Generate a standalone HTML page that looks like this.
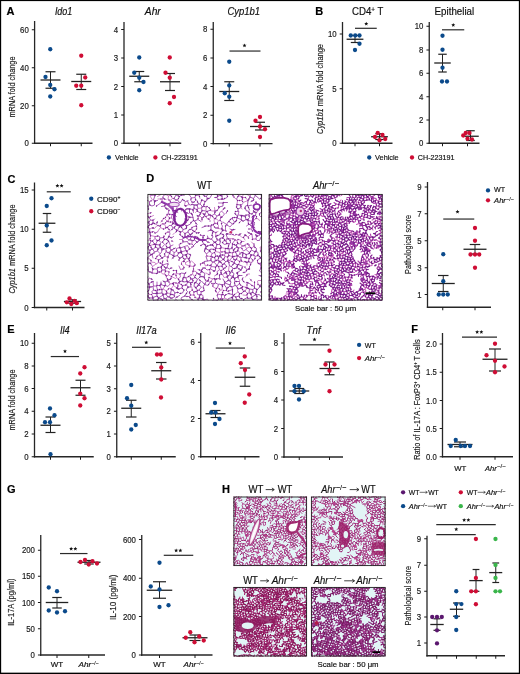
<!DOCTYPE html>
<html><head><meta charset="utf-8"><style>
html,body{margin:0;padding:0;background:#fff;}
body{width:520px;height:674px;overflow:hidden;position:relative;}
svg{position:absolute;left:0;top:0;display:block;font-family:"Liberation Sans", sans-serif;will-change:transform;}
</style></head><body>
<svg width="520" height="674" viewBox="0 0 520 674">
<defs></defs>
<rect x="0" y="0" width="520" height="674" fill="#fff"/>
<text x="6.4" y="15.3" font-size="11" text-anchor="start" font-weight="bold" fill="#000" stroke="#000" stroke-width="0.18" >A</text>
<text x="63.6" y="15.1" font-size="10.4" text-anchor="middle" font-style="italic" textLength="17.4" lengthAdjust="spacingAndGlyphs" fill="#111" stroke="#111" stroke-width="0.18" >Ido1</text>
<text x="152.8" y="15.1" font-size="10.4" text-anchor="middle" font-style="italic" textLength="16.0" lengthAdjust="spacingAndGlyphs" fill="#111" stroke="#111" stroke-width="0.18" >Ahr</text>
<text x="243.8" y="15.1" font-size="10.4" text-anchor="middle" font-style="italic" textLength="32.7" lengthAdjust="spacingAndGlyphs" fill="#111" stroke="#111" stroke-width="0.18" >Cyp1b1</text>
<text transform="translate(12.3,87) rotate(-90)" x="0" y="3.04" font-size="8.7" text-anchor="middle" textLength="61" lengthAdjust="spacingAndGlyphs" fill="#1a1a1a" stroke="#1a1a1a" stroke-width="0.15">mRNA fold change</text>
<line x1="34.6" y1="21" x2="34.6" y2="143.9" stroke="#262626" stroke-width="1.3"/>
<line x1="33.95" y1="143.25" x2="92.5" y2="143.25" stroke="#262626" stroke-width="1.3"/>
<line x1="31.8" y1="143.25" x2="34.6" y2="143.25" stroke="#1a1a1a" stroke-width="1.0"/>
<text x="28.8" y="146.45" font-size="9" text-anchor="end" textLength="4.35" lengthAdjust="spacingAndGlyphs" fill="#1a1a1a" stroke="#1a1a1a" stroke-width="0.18" >0</text>
<line x1="31.8" y1="105.75" x2="34.6" y2="105.75" stroke="#1a1a1a" stroke-width="1.0"/>
<text x="28.8" y="108.95" font-size="9" text-anchor="end" textLength="8.7" lengthAdjust="spacingAndGlyphs" fill="#1a1a1a" stroke="#1a1a1a" stroke-width="0.18" >20</text>
<line x1="31.8" y1="67.75" x2="34.6" y2="67.75" stroke="#1a1a1a" stroke-width="1.0"/>
<text x="28.8" y="70.95" font-size="9" text-anchor="end" textLength="8.7" lengthAdjust="spacingAndGlyphs" fill="#1a1a1a" stroke="#1a1a1a" stroke-width="0.18" >40</text>
<line x1="31.8" y1="29.75" x2="34.6" y2="29.75" stroke="#1a1a1a" stroke-width="1.0"/>
<text x="28.8" y="32.95" font-size="9" text-anchor="end" textLength="8.7" lengthAdjust="spacingAndGlyphs" fill="#1a1a1a" stroke="#1a1a1a" stroke-width="0.18" >60</text>
<line x1="50.5" y1="143.25" x2="50.5" y2="146.25" stroke="#1a1a1a" stroke-width="1.0"/>
<line x1="81.25" y1="143.25" x2="81.25" y2="146.25" stroke="#1a1a1a" stroke-width="1.0"/>
<line x1="50.5" y1="71.75" x2="50.5" y2="88.25" stroke="#222" stroke-width="1.0"/>
<line x1="45.5" y1="71.75" x2="55.5" y2="71.75" stroke="#222" stroke-width="1.2"/>
<line x1="45.5" y1="88.25" x2="55.5" y2="88.25" stroke="#222" stroke-width="1.2"/>
<line x1="40.5" y1="80" x2="60.5" y2="80" stroke="#222" stroke-width="1.3"/>
<circle cx="50.25" cy="49.25" r="2.15" fill="#0b4a8b"/>
<circle cx="45.5" cy="77" r="2.15" fill="#0b4a8b"/>
<circle cx="50.25" cy="85" r="2.15" fill="#0b4a8b"/>
<circle cx="54.5" cy="89.25" r="2.15" fill="#0b4a8b"/>
<circle cx="50.25" cy="96.5" r="2.15" fill="#0b4a8b"/>
<line x1="81.25" y1="74.25" x2="81.25" y2="89.5" stroke="#222" stroke-width="1.0"/>
<line x1="76.25" y1="74.25" x2="86.25" y2="74.25" stroke="#222" stroke-width="1.2"/>
<line x1="76.25" y1="89.5" x2="86.25" y2="89.5" stroke="#222" stroke-width="1.2"/>
<line x1="71.25" y1="81.5" x2="91.25" y2="81.5" stroke="#222" stroke-width="1.3"/>
<circle cx="81.25" cy="55.75" r="2.15" fill="#cf0d35"/>
<circle cx="85.25" cy="77.5" r="2.15" fill="#cf0d35"/>
<circle cx="76.25" cy="85.75" r="2.15" fill="#cf0d35"/>
<circle cx="81.25" cy="85.75" r="2.15" fill="#cf0d35"/>
<circle cx="81.25" cy="105.25" r="2.15" fill="#cf0d35"/>
<line x1="124" y1="22" x2="124" y2="143.9" stroke="#262626" stroke-width="1.3"/>
<line x1="123.35" y1="143.25" x2="181.25" y2="143.25" stroke="#262626" stroke-width="1.3"/>
<line x1="121.2" y1="143.25" x2="124" y2="143.25" stroke="#1a1a1a" stroke-width="1.0"/>
<text x="118.2" y="146.45" font-size="9" text-anchor="end" textLength="4.35" lengthAdjust="spacingAndGlyphs" fill="#1a1a1a" stroke="#1a1a1a" stroke-width="0.18" >0</text>
<line x1="121.2" y1="115" x2="124" y2="115" stroke="#1a1a1a" stroke-width="1.0"/>
<text x="118.2" y="118.2" font-size="9" text-anchor="end" textLength="4.35" lengthAdjust="spacingAndGlyphs" fill="#1a1a1a" stroke="#1a1a1a" stroke-width="0.18" >1</text>
<line x1="121.2" y1="86.5" x2="124" y2="86.5" stroke="#1a1a1a" stroke-width="1.0"/>
<text x="118.2" y="89.7" font-size="9" text-anchor="end" textLength="4.35" lengthAdjust="spacingAndGlyphs" fill="#1a1a1a" stroke="#1a1a1a" stroke-width="0.18" >2</text>
<line x1="121.2" y1="58" x2="124" y2="58" stroke="#1a1a1a" stroke-width="1.0"/>
<text x="118.2" y="61.2" font-size="9" text-anchor="end" textLength="4.35" lengthAdjust="spacingAndGlyphs" fill="#1a1a1a" stroke="#1a1a1a" stroke-width="0.18" >3</text>
<line x1="121.2" y1="29.5" x2="124" y2="29.5" stroke="#1a1a1a" stroke-width="1.0"/>
<text x="118.2" y="32.7" font-size="9" text-anchor="end" textLength="4.35" lengthAdjust="spacingAndGlyphs" fill="#1a1a1a" stroke="#1a1a1a" stroke-width="0.18" >4</text>
<line x1="139.25" y1="143.25" x2="139.25" y2="146.25" stroke="#1a1a1a" stroke-width="1.0"/>
<line x1="170" y1="143.25" x2="170" y2="146.25" stroke="#1a1a1a" stroke-width="1.0"/>
<line x1="139.25" y1="71.5" x2="139.25" y2="81.75" stroke="#222" stroke-width="1.0"/>
<line x1="134.25" y1="71.5" x2="144.25" y2="71.5" stroke="#222" stroke-width="1.2"/>
<line x1="134.25" y1="81.75" x2="144.25" y2="81.75" stroke="#222" stroke-width="1.2"/>
<line x1="129.25" y1="76.25" x2="149.25" y2="76.25" stroke="#222" stroke-width="1.3"/>
<circle cx="139.25" cy="57.5" r="2.15" fill="#0b4a8b"/>
<circle cx="134.25" cy="72.75" r="2.15" fill="#0b4a8b"/>
<circle cx="139.25" cy="77.75" r="2.15" fill="#0b4a8b"/>
<circle cx="143.5" cy="82" r="2.15" fill="#0b4a8b"/>
<circle cx="139.25" cy="90.25" r="2.15" fill="#0b4a8b"/>
<line x1="170" y1="73.5" x2="170" y2="90.5" stroke="#222" stroke-width="1.0"/>
<line x1="165" y1="73.5" x2="175" y2="73.5" stroke="#222" stroke-width="1.2"/>
<line x1="165" y1="90.5" x2="175" y2="90.5" stroke="#222" stroke-width="1.2"/>
<line x1="160" y1="81.75" x2="180" y2="81.75" stroke="#222" stroke-width="1.3"/>
<circle cx="169.75" cy="57.5" r="2.15" fill="#cf0d35"/>
<circle cx="165.5" cy="72.75" r="2.15" fill="#cf0d35"/>
<circle cx="169.75" cy="77.75" r="2.15" fill="#cf0d35"/>
<circle cx="174" cy="97" r="2.15" fill="#cf0d35"/>
<circle cx="169.75" cy="103.25" r="2.15" fill="#cf0d35"/>
<line x1="213.25" y1="22" x2="213.25" y2="144.25" stroke="#262626" stroke-width="1.3"/>
<line x1="212.6" y1="143.6" x2="272.5" y2="143.6" stroke="#262626" stroke-width="1.3"/>
<line x1="210.45" y1="143.6" x2="213.25" y2="143.6" stroke="#1a1a1a" stroke-width="1.0"/>
<text x="207.45" y="146.8" font-size="9" text-anchor="end" textLength="4.35" lengthAdjust="spacingAndGlyphs" fill="#1a1a1a" stroke="#1a1a1a" stroke-width="0.18" >0</text>
<line x1="210.45" y1="115.25" x2="213.25" y2="115.25" stroke="#1a1a1a" stroke-width="1.0"/>
<text x="207.45" y="118.45" font-size="9" text-anchor="end" textLength="4.35" lengthAdjust="spacingAndGlyphs" fill="#1a1a1a" stroke="#1a1a1a" stroke-width="0.18" >2</text>
<line x1="210.45" y1="86.5" x2="213.25" y2="86.5" stroke="#1a1a1a" stroke-width="1.0"/>
<text x="207.45" y="89.7" font-size="9" text-anchor="end" textLength="4.35" lengthAdjust="spacingAndGlyphs" fill="#1a1a1a" stroke="#1a1a1a" stroke-width="0.18" >4</text>
<line x1="210.45" y1="58" x2="213.25" y2="58" stroke="#1a1a1a" stroke-width="1.0"/>
<text x="207.45" y="61.2" font-size="9" text-anchor="end" textLength="4.35" lengthAdjust="spacingAndGlyphs" fill="#1a1a1a" stroke="#1a1a1a" stroke-width="0.18" >6</text>
<line x1="210.45" y1="29.25" x2="213.25" y2="29.25" stroke="#1a1a1a" stroke-width="1.0"/>
<text x="207.45" y="32.45" font-size="9" text-anchor="end" textLength="4.35" lengthAdjust="spacingAndGlyphs" fill="#1a1a1a" stroke="#1a1a1a" stroke-width="0.18" >8</text>
<line x1="229.25" y1="143.6" x2="229.25" y2="146.6" stroke="#1a1a1a" stroke-width="1.0"/>
<line x1="260" y1="143.6" x2="260" y2="146.6" stroke="#1a1a1a" stroke-width="1.0"/>
<line x1="229.25" y1="81.75" x2="229.25" y2="100.5" stroke="#222" stroke-width="1.0"/>
<line x1="224.25" y1="81.75" x2="234.25" y2="81.75" stroke="#222" stroke-width="1.2"/>
<line x1="224.25" y1="100.5" x2="234.25" y2="100.5" stroke="#222" stroke-width="1.2"/>
<line x1="219.25" y1="91.5" x2="239.25" y2="91.5" stroke="#222" stroke-width="1.3"/>
<circle cx="229.25" cy="61.75" r="2.15" fill="#0b4a8b"/>
<circle cx="229.25" cy="85.5" r="2.15" fill="#0b4a8b"/>
<circle cx="224.75" cy="93.25" r="2.15" fill="#0b4a8b"/>
<circle cx="229.25" cy="96.75" r="2.15" fill="#0b4a8b"/>
<circle cx="229.25" cy="120.75" r="2.15" fill="#0b4a8b"/>
<line x1="260" y1="122.25" x2="260" y2="130" stroke="#222" stroke-width="1.0"/>
<line x1="255" y1="122.25" x2="265" y2="122.25" stroke="#222" stroke-width="1.2"/>
<line x1="255" y1="130" x2="265" y2="130" stroke="#222" stroke-width="1.2"/>
<line x1="250" y1="126.5" x2="270" y2="126.5" stroke="#222" stroke-width="1.3"/>
<circle cx="260" cy="117" r="2.15" fill="#cf0d35"/>
<circle cx="255.5" cy="120.75" r="2.15" fill="#cf0d35"/>
<circle cx="260" cy="126.5" r="2.15" fill="#cf0d35"/>
<circle cx="265" cy="129.25" r="2.15" fill="#cf0d35"/>
<circle cx="260" cy="137" r="2.15" fill="#cf0d35"/>
<line x1="229.5" y1="51.05" x2="260.5" y2="51.05" stroke="#2a2a2a" stroke-width="1.2"/>
<polygon points="244.50,43.40 245.06,44.73 246.50,44.85 245.40,45.79 245.73,47.20 244.50,46.45 243.27,47.20 243.60,45.79 242.50,44.85 243.94,44.73" fill="#111"/>
<circle cx="108.9" cy="157.5" r="2.15" fill="#0b4a8b"/>
<text x="115.1" y="160.3" font-size="7.9" text-anchor="start" textLength="23.6" lengthAdjust="spacingAndGlyphs" fill="#111" stroke="#111" stroke-width="0.18" >Vehicle</text>
<circle cx="155.4" cy="157.5" r="2.15" fill="#cf0d35"/>
<text x="161.2" y="160.3" font-size="7.9" text-anchor="start" textLength="36.6" lengthAdjust="spacingAndGlyphs" fill="#111" stroke="#111" stroke-width="0.18" >CH-223191</text>
<text x="315.2" y="15.3" font-size="11" text-anchor="start" font-weight="bold" fill="#000" stroke="#000" stroke-width="0.18" >B</text>
<text x="351.9" y="15.2" font-size="10.4" text-anchor="start" textLength="19.4" lengthAdjust="spacingAndGlyphs" fill="#111" stroke="#111" stroke-width="0.18" >CD4</text>
<text x="371.2" y="12.3" font-size="6.5" text-anchor="start" textLength="3.7" lengthAdjust="spacingAndGlyphs" fill="#111" stroke="#111" stroke-width="0.18" >+</text>
<text x="377.5" y="15.2" font-size="10.4" text-anchor="start" textLength="5.8" lengthAdjust="spacingAndGlyphs" fill="#111" stroke="#111" stroke-width="0.18" >T</text>
<text x="454.4" y="15.1" font-size="10.4" text-anchor="middle" textLength="39.6" lengthAdjust="spacingAndGlyphs" fill="#111" stroke="#111" stroke-width="0.18" >Epithelial</text>
<text transform="translate(320,89) rotate(-90)" x="0" y="3.04" font-size="8.7" text-anchor="middle" textLength="90" lengthAdjust="spacingAndGlyphs" fill="#1a1a1a" stroke="#1a1a1a" stroke-width="0.15"><tspan font-style="italic">Cyp1b1</tspan> mRNA fold change</text>
<line x1="342.5" y1="22" x2="342.5" y2="143.9" stroke="#262626" stroke-width="1.3"/>
<line x1="341.85" y1="143.25" x2="392.5" y2="143.25" stroke="#262626" stroke-width="1.3"/>
<line x1="339.7" y1="143.25" x2="342.5" y2="143.25" stroke="#1a1a1a" stroke-width="1.0"/>
<text x="336.7" y="146.45" font-size="9" text-anchor="end" textLength="4.35" lengthAdjust="spacingAndGlyphs" fill="#1a1a1a" stroke="#1a1a1a" stroke-width="0.18" >0</text>
<line x1="339.7" y1="88.75" x2="342.5" y2="88.75" stroke="#1a1a1a" stroke-width="1.0"/>
<text x="336.7" y="91.95" font-size="9" text-anchor="end" textLength="4.35" lengthAdjust="spacingAndGlyphs" fill="#1a1a1a" stroke="#1a1a1a" stroke-width="0.18" >5</text>
<line x1="339.7" y1="34" x2="342.5" y2="34" stroke="#1a1a1a" stroke-width="1.0"/>
<text x="336.7" y="37.2" font-size="9" text-anchor="end" textLength="8.7" lengthAdjust="spacingAndGlyphs" fill="#1a1a1a" stroke="#1a1a1a" stroke-width="0.18" >10</text>
<line x1="355" y1="143.25" x2="355" y2="146.25" stroke="#1a1a1a" stroke-width="1.0"/>
<line x1="379.5" y1="143.25" x2="379.5" y2="146.25" stroke="#1a1a1a" stroke-width="1.0"/>
<line x1="355" y1="35.5" x2="355" y2="42.5" stroke="#222" stroke-width="1.0"/>
<line x1="350.8" y1="35.5" x2="359.2" y2="35.5" stroke="#222" stroke-width="1.2"/>
<line x1="350.8" y1="42.5" x2="359.2" y2="42.5" stroke="#222" stroke-width="1.2"/>
<line x1="346.6" y1="39.25" x2="363.4" y2="39.25" stroke="#222" stroke-width="1.3"/>
<circle cx="350.75" cy="35.5" r="2.15" fill="#0b4a8b"/>
<circle cx="355.25" cy="35.5" r="2.15" fill="#0b4a8b"/>
<circle cx="359.5" cy="35.5" r="2.15" fill="#0b4a8b"/>
<circle cx="359.5" cy="43.75" r="2.15" fill="#0b4a8b"/>
<circle cx="355" cy="50" r="2.15" fill="#0b4a8b"/>
<line x1="379.5" y1="133.75" x2="379.5" y2="139.5" stroke="#222" stroke-width="1.0"/>
<line x1="375.3" y1="133.75" x2="383.7" y2="133.75" stroke="#222" stroke-width="1.2"/>
<line x1="375.3" y1="139.5" x2="383.7" y2="139.5" stroke="#222" stroke-width="1.2"/>
<line x1="371.1" y1="136.75" x2="387.9" y2="136.75" stroke="#222" stroke-width="1.3"/>
<circle cx="377.75" cy="133" r="2.15" fill="#cf0d35"/>
<circle cx="382.5" cy="135" r="2.15" fill="#cf0d35"/>
<circle cx="375" cy="137" r="2.15" fill="#cf0d35"/>
<circle cx="385.25" cy="139" r="2.15" fill="#cf0d35"/>
<circle cx="379.5" cy="140.25" r="2.15" fill="#cf0d35"/>
<line x1="355" y1="28.3" x2="376.75" y2="28.3" stroke="#2a2a2a" stroke-width="1.2"/>
<polygon points="366.25,21.65 366.81,22.98 368.25,23.10 367.15,24.04 367.48,25.45 366.25,24.70 365.02,25.45 365.35,24.04 364.25,23.10 365.69,22.98" fill="#111"/>
<line x1="429.25" y1="22" x2="429.25" y2="143.9" stroke="#262626" stroke-width="1.3"/>
<line x1="428.6" y1="143.25" x2="479.5" y2="143.25" stroke="#262626" stroke-width="1.3"/>
<line x1="426.45" y1="143.25" x2="429.25" y2="143.25" stroke="#1a1a1a" stroke-width="1.0"/>
<text x="423.45" y="146.45" font-size="9" text-anchor="end" textLength="4.35" lengthAdjust="spacingAndGlyphs" fill="#1a1a1a" stroke="#1a1a1a" stroke-width="0.18" >0</text>
<line x1="426.45" y1="120" x2="429.25" y2="120" stroke="#1a1a1a" stroke-width="1.0"/>
<text x="423.45" y="123.2" font-size="9" text-anchor="end" textLength="4.35" lengthAdjust="spacingAndGlyphs" fill="#1a1a1a" stroke="#1a1a1a" stroke-width="0.18" >2</text>
<line x1="426.45" y1="96.75" x2="429.25" y2="96.75" stroke="#1a1a1a" stroke-width="1.0"/>
<text x="423.45" y="99.95" font-size="9" text-anchor="end" textLength="4.35" lengthAdjust="spacingAndGlyphs" fill="#1a1a1a" stroke="#1a1a1a" stroke-width="0.18" >4</text>
<line x1="426.45" y1="73.25" x2="429.25" y2="73.25" stroke="#1a1a1a" stroke-width="1.0"/>
<text x="423.45" y="76.45" font-size="9" text-anchor="end" textLength="4.35" lengthAdjust="spacingAndGlyphs" fill="#1a1a1a" stroke="#1a1a1a" stroke-width="0.18" >6</text>
<line x1="426.45" y1="50" x2="429.25" y2="50" stroke="#1a1a1a" stroke-width="1.0"/>
<text x="423.45" y="53.2" font-size="9" text-anchor="end" textLength="4.35" lengthAdjust="spacingAndGlyphs" fill="#1a1a1a" stroke="#1a1a1a" stroke-width="0.18" >8</text>
<line x1="426.45" y1="26.25" x2="429.25" y2="26.25" stroke="#1a1a1a" stroke-width="1.0"/>
<text x="423.45" y="29.45" font-size="9" text-anchor="end" textLength="8.7" lengthAdjust="spacingAndGlyphs" fill="#1a1a1a" stroke="#1a1a1a" stroke-width="0.18" >10</text>
<line x1="442.5" y1="143.25" x2="442.5" y2="146.25" stroke="#1a1a1a" stroke-width="1.0"/>
<line x1="467.5" y1="143.25" x2="467.5" y2="146.25" stroke="#1a1a1a" stroke-width="1.0"/>
<line x1="442.5" y1="54.25" x2="442.5" y2="72" stroke="#222" stroke-width="1.0"/>
<line x1="438.25" y1="54.25" x2="446.75" y2="54.25" stroke="#222" stroke-width="1.2"/>
<line x1="438.25" y1="72" x2="446.75" y2="72" stroke="#222" stroke-width="1.2"/>
<line x1="434.25" y1="63" x2="450.75" y2="63" stroke="#222" stroke-width="1.3"/>
<circle cx="442.5" cy="35.75" r="2.15" fill="#0b4a8b"/>
<circle cx="442.5" cy="49.75" r="2.15" fill="#0b4a8b"/>
<circle cx="442.5" cy="67.75" r="2.15" fill="#0b4a8b"/>
<circle cx="442" cy="81.5" r="2.15" fill="#0b4a8b"/>
<circle cx="447" cy="81.5" r="2.15" fill="#0b4a8b"/>
<line x1="470.5" y1="130.75" x2="470.5" y2="140.5" stroke="#222" stroke-width="1.0"/>
<line x1="466.25" y1="130.75" x2="474.75" y2="130.75" stroke="#222" stroke-width="1.2"/>
<line x1="466.25" y1="140.5" x2="474.75" y2="140.5" stroke="#222" stroke-width="1.2"/>
<line x1="462.25" y1="136.25" x2="478.75" y2="136.25" stroke="#222" stroke-width="1.3"/>
<circle cx="465.75" cy="133" r="2.15" fill="#cf0d35"/>
<circle cx="469.5" cy="133" r="2.15" fill="#cf0d35"/>
<circle cx="463.25" cy="135.5" r="2.15" fill="#cf0d35"/>
<circle cx="467.5" cy="138.75" r="2.15" fill="#cf0d35"/>
<circle cx="472" cy="139.5" r="2.15" fill="#cf0d35"/>
<line x1="442" y1="29.8" x2="464.25" y2="29.8" stroke="#2a2a2a" stroke-width="1.2"/>
<polygon points="453.25,22.90 453.81,24.23 455.25,24.35 454.15,25.29 454.48,26.70 453.25,25.95 452.02,26.70 452.35,25.29 451.25,24.35 452.69,24.23" fill="#111"/>
<circle cx="369.25" cy="157.5" r="2.15" fill="#0b4a8b"/>
<text x="375.1" y="160.3" font-size="7.9" text-anchor="start" textLength="23.6" lengthAdjust="spacingAndGlyphs" fill="#111" stroke="#111" stroke-width="0.18" >Vehicle</text>
<circle cx="412" cy="157.5" r="2.15" fill="#cf0d35"/>
<text x="417.8" y="160.3" font-size="7.9" text-anchor="start" textLength="36.6" lengthAdjust="spacingAndGlyphs" fill="#111" stroke="#111" stroke-width="0.18" >CH-223191</text>
<text x="7.5" y="182.75" font-size="11" text-anchor="start" font-weight="bold" fill="#000" stroke="#000" stroke-width="0.18" >C</text>
<text transform="translate(11.5,249) rotate(-90)" x="0" y="3.04" font-size="8.7" text-anchor="middle" textLength="89" lengthAdjust="spacingAndGlyphs" fill="#1a1a1a" stroke="#1a1a1a" stroke-width="0.15"><tspan font-style="italic">Cyp1b1</tspan> mRNA fold change</text>
<line x1="34.5" y1="182.5" x2="34.5" y2="308.15" stroke="#262626" stroke-width="1.3"/>
<line x1="33.85" y1="307.5" x2="84.5" y2="307.5" stroke="#262626" stroke-width="1.3"/>
<line x1="31.7" y1="307.5" x2="34.5" y2="307.5" stroke="#1a1a1a" stroke-width="1.0"/>
<text x="28.7" y="310.7" font-size="9" text-anchor="end" textLength="4.35" lengthAdjust="spacingAndGlyphs" fill="#1a1a1a" stroke="#1a1a1a" stroke-width="0.18" >0</text>
<line x1="31.7" y1="268.25" x2="34.5" y2="268.25" stroke="#1a1a1a" stroke-width="1.0"/>
<text x="28.7" y="271.45" font-size="9" text-anchor="end" textLength="4.35" lengthAdjust="spacingAndGlyphs" fill="#1a1a1a" stroke="#1a1a1a" stroke-width="0.18" >5</text>
<line x1="31.7" y1="229.25" x2="34.5" y2="229.25" stroke="#1a1a1a" stroke-width="1.0"/>
<text x="28.7" y="232.45" font-size="9" text-anchor="end" textLength="8.7" lengthAdjust="spacingAndGlyphs" fill="#1a1a1a" stroke="#1a1a1a" stroke-width="0.18" >10</text>
<line x1="31.7" y1="190" x2="34.5" y2="190" stroke="#1a1a1a" stroke-width="1.0"/>
<text x="28.7" y="193.2" font-size="9" text-anchor="end" textLength="8.7" lengthAdjust="spacingAndGlyphs" fill="#1a1a1a" stroke="#1a1a1a" stroke-width="0.18" >15</text>
<line x1="46.75" y1="307.5" x2="46.75" y2="310.5" stroke="#1a1a1a" stroke-width="1.0"/>
<line x1="72.5" y1="307.5" x2="72.5" y2="310.5" stroke="#1a1a1a" stroke-width="1.0"/>
<line x1="47" y1="213.5" x2="47" y2="232.25" stroke="#222" stroke-width="1.0"/>
<line x1="42.75" y1="213.5" x2="51.25" y2="213.5" stroke="#222" stroke-width="1.2"/>
<line x1="42.75" y1="232.25" x2="51.25" y2="232.25" stroke="#222" stroke-width="1.2"/>
<line x1="38.6" y1="223.25" x2="55.4" y2="223.25" stroke="#222" stroke-width="1.3"/>
<circle cx="51.5" cy="198.25" r="2.15" fill="#0b4a8b"/>
<circle cx="46.75" cy="206" r="2.15" fill="#0b4a8b"/>
<circle cx="46.75" cy="225.5" r="2.15" fill="#0b4a8b"/>
<circle cx="51.5" cy="240.5" r="2.15" fill="#0b4a8b"/>
<circle cx="46.75" cy="245.25" r="2.15" fill="#0b4a8b"/>
<line x1="72.5" y1="299.8" x2="72.5" y2="303.2" stroke="#222" stroke-width="1.0"/>
<line x1="68.25" y1="299.8" x2="76.75" y2="299.8" stroke="#222" stroke-width="1.2"/>
<line x1="68.25" y1="303.2" x2="76.75" y2="303.2" stroke="#222" stroke-width="1.2"/>
<line x1="63.9" y1="301.5" x2="81.1" y2="301.5" stroke="#222" stroke-width="1.3"/>
<circle cx="69.5" cy="298.5" r="2.15" fill="#cf0d35"/>
<circle cx="66.8" cy="302.3" r="2.15" fill="#cf0d35"/>
<circle cx="71.3" cy="304.0" r="2.15" fill="#cf0d35"/>
<circle cx="74.6" cy="300.8" r="2.15" fill="#cf0d35"/>
<circle cx="76.8" cy="303.2" r="2.15" fill="#cf0d35"/>
<line x1="46.75" y1="191.8" x2="70.75" y2="191.8" stroke="#2a2a2a" stroke-width="1.2"/>
<polygon points="57.40,183.65 57.96,184.98 59.40,185.10 58.30,186.04 58.63,187.45 57.40,186.70 56.17,187.45 56.50,186.04 55.40,185.10 56.84,184.98" fill="#111"/>
<polygon points="61.60,183.65 62.16,184.98 63.60,185.10 62.50,186.04 62.83,187.45 61.60,186.70 60.37,187.45 60.70,186.04 59.60,185.10 61.04,184.98" fill="#111"/>
<circle cx="91.25" cy="198.75" r="2.15" fill="#0b4a8b"/>
<text x="97" y="201.6" font-size="8" text-anchor="start" fill="#111" stroke="#111" stroke-width="0.18" >CD90<tspan font-size="5" dy="-3">+</tspan></text>
<circle cx="91.25" cy="211.25" r="2.15" fill="#cf0d35"/>
<text x="97" y="214.1" font-size="8" text-anchor="start" fill="#111" stroke="#111" stroke-width="0.18" >CD90<tspan font-size="5" dy="-3">−</tspan></text>
<text x="146.2" y="182.0" font-size="11" text-anchor="start" font-weight="bold" fill="#000" stroke="#000" stroke-width="0.18" >D</text>
<text x="197.3" y="189.1" font-size="10.4" text-anchor="start" textLength="14.6" lengthAdjust="spacingAndGlyphs" fill="#111" stroke="#111" stroke-width="0.18" >WT</text>
<text x="312.9" y="188.9" font-size="10.4" font-style="italic" textLength="14.60" lengthAdjust="spacingAndGlyphs" fill="#111" stroke="#111" stroke-width="0.18">Ahr</text>
<text x="327.70" y="186.2" font-size="7" textLength="11.40" lengthAdjust="spacingAndGlyphs" fill="#111" stroke="#111" stroke-width="0.12">−/−</text>
<clipPath id="cd1"><rect x="147.5" y="194" width="114.5" height="106.5"/></clipPath><g clip-path="url(#cd1)"><rect x="147.5" y="194" width="114.5" height="106.5" fill="#ffffff"/><g transform="scale(0.5)"><path d="M287 525l7-1 3 3-2 5-8 0M297 527l4-1 4 7-1 2 2 3-2 7 0 1 10 1 2-3 6 0 2-4-2-6-6 1-2 3 2 6M314 538l-8 0M533 601l-6 4-4-1-5 5M382 386l-3 4-1 0-6-5-3 0-5-4-4 3-5-1M391 391l-1 4-7 1-4-6M316 463l-5 3-4-3-7 2-9 0-3 3 6 5-3 8 1 5 7 3 0 2-3 3 0 5 4 2 4-3-3-7-2 0M310 473l0 4-5 5 4 6 2 1 4-8-5-4M300 501l-1 5M289 501l2 1 3 4M332 536l2-1 2-7-1-1-10 3-1-2 2-7M315 502l5 5 3-2 1-7-1-2 6-7-4-5 4-6-2-3-7 1M474 546l-1 0M486 555l-2 5 6 5M291 583l-2-5 2-4-2-3 4-6-7-5M497 449l-1-8 11 2-7 6-3 0-4 3M502 458l3 4M502 468l2 0 1 10 7 0 1-6 6-1 1-7 6-1 3 6-2 4 3 6-3 6 3 4 0 1M431 521l5-1 3 3-5 8-6-7 3-3-2-6 3-3-3-7-5 2-2 6 1 1 6 1M439 523l1 0 5 6 4-2 4 6-6 5-3-6 1-3M444 532l-7 1-3-2-3 3-9-1-1 5-2 1-5 1-4-4-4 0-3 5-7-2M390 395l2 5-6 6-5-6 2-4M353 433l-8-4-1 0-1 7 4 4 3-1M351 421l3-6-2-5-3-4M369 423l8 4M379 418l1 0 6 1 2-2M410 403l-6-3-4 8 5 5M404 400l-1-1M299 458l1 7 1 6M310 390l-9 1-1-5-2-2M293 400l-3 2 0 7M298 435l3 5-4 5M297 419l-1-7-3 0-3 4 2 6 2 6-7 3M341 492l-3-9-1 0-6 7 4 5 4 0 2-3 5-2M337 483l-3-4-5-1M321 495l2 1M304 509l2 7M293 565l2 0 3 2 8-4 1 9-1 1-7 1-1-7M305 559l-7-3-3 9M342 500l1 0 5 5 5-2 0-6 7-2 1 1 1 8 10-3-3-8 6-2 4 7-5 4-2-1M403 541l0 2-4 5-5-1M421 538l7 4 3-1 0-7M346 446l-3 5-5 0-3 4 5 6-1 3 1 4-2 4 0 1-4 6M374 502l1 5 5 2 1 2-3 7-4-2-1-6 2-3M361 464l-6-3M372 474l8-5M398 480l6 0 3 8-6 3M307 572l6 0 2 8 8-1-3-8-6 0-1 1M524 594l-3 6-6-1-3 9M359 563l-2 3 8 5 8-1 2-6 2 0 5-6-3-6-7 4 2 7 1 1M389 553l1 2-5 3 1 6-5 2-4-2M509 563l0 10-7-3-1-2-7-3M487 583l-4 4-4 0-3-3-1-3 1-3M479 568l-6 4M512 589l-1-1-6-3M429 438l-5-7 5-3 5 4 5-2 0-4 4-4 6 6-4 5-3 1-2 6 4 5-1 4 2 3-2 6 3 2 5 1 0-9 2-3 3-5 2-1 3-5 3-1 5 7 3-1 2-7 0-1-9 0-1 2M482 410l4-3M518 410l-6-4 0-3M512 416l-5 5 1 2M524 424l3 2 0 6-6 1M528 386l-5 5-5-4-7 3-1-1-7-2-3 5M464 460l-4-2M483 483l-2 5M520 464l-2-1-3 1-5-4M392 452l-7 2-2 4M468 526l0-1-9-4 6-7 5 7-2 4M473 519l-3 2M331 389l-5 3 0 5 6 2M344 429l-8-1 2-8M334 430l2-2M331 408l-7-4-4 3-7 5M399 431l2-5M363 422l-1-6M386 419l1 6M360 495l-2-6 8-4M324 516l-7 4M324 528l-7-3M369 547l3-2M378 518l1 3M520 527l-5-1 0-6 6-4 4 5-1 3-4 3 2 8 7-4 0-1-5-6M522 535l0 1 7 5 0 2M521 515l-5-4-6 2 0 5-4 3-5-6-3 2-6-2M526 554l-2-2M486 545l6-1 2-5-5-5M447 539l-5 2 0 7 3 1 7-5 3 8 4-2 7 4 3 3M374 441l-5-3M449 596l0-5-4-3-2 2 0 8M365 571l-1 5-7 2-2-2 1-9M506 608l-2-2-5 1-4-3M485 394l-8-3-1-2 7-7 4 4M470 424l6-2 2 1-2 7 8 1M446 444l7 5 7 5 5-6M409 429l4-6M414 423l4 7M482 439l-8-3M511 431l2 2 0 3M526 450l-1 1M481 506l5-1 0 1M482 495l5 7 5-3 7 6 0 2-6 2M474 494l-7 5 1 5M513 472l-2-3M401 470l5 2 3-1M457 511l0-4 2-2 6 1M299 449l5 0 2-3 7 3 2-6M306 441l0 5M354 461l-3 4M346 456l-3 4M365 514l4 5M492 499l1-2M520 573l5 2M437 533l2 7-5 3 1 5-6 4M314 582l1-2M376 604l0-2M454 577l-1 4 2 2 10-4-1-5M382 558l3 0M376 574l-3-4M487 601l-4 5-3 0M463 385l-3-1-6 6 1 3-1 2-8 4-1-1-8 1-3-4-5 0M451 461l1 1M419 439l1 2 0 2M459 505l-1-7M470 480l-6 8 1 0M434 489l5 0 3 3 0 3-1 2M412 479l2 5 5 1M446 476l4 4-5 4 2 4 3 1 4-2M431 503l-2 2M451 497l5 0M419 502l5 5M340 568l-4 5-5-2M361 539l-3-7M501 515l1-5M316 603l-3 8M314 592l3 4 9-6M443 590l-7-2-2 3 3 7M435 601l-8-1-1 2-7 3-4-7-7 2-2-1-7 6-2 0-3 1-7-5-7-4-1-4-7 0M463 605l3-3 5 0 2 6M446 406l-9 0M443 390l-7 2-2 3M438 414l-1-1M523 394l8 3M431 465l-5-2M314 571l0-7M348 590l1 4-7 3-3-3 2-6M510 504l2-1M333 586l-1 2M431 566l-5 3M416 562l4 3-4 6-7-2-3 5 2 4 0 4-6 2 0 5-3 1-4-1-1-7 1-1 3-1 4 4M422 460l-6 2M339 594l-4-1M406 599l0-1 0-7-4-2M392 575l3 6M399 596l0-6" stroke="#a84cb4" stroke-width="1.70" stroke-linecap="round" stroke-linejoin="round" fill="none"/><path d="M294 524l2-8-1 0-1-1-2-3 2-6 5 0 3 3-7 7M322 534l3-4 7 6-2 4-6 0M304 545l-7-2-1-4M382 386l-2-6M388 387l3 4 7-1 2-3M369 385l-2 5-6 1M310 473l8-1 2 4-2 5 4 4-3 5 2 5-5 2-5-3-5 5 3 5 6-2 1-5M288 501l2-8-1-1 3-6M304 498l2 1M299 489l3-7 3 0M311 494l0-5 8 1M484 551l-8 0-2-5 8-6-8-5 1-5 2-1 9 4-4 7M475 530l-7-4-5 7 3 4 5 0 3-2M475 554l-6 3 1 6-1 1 1 7 3 1 3 6 8-2 1-3M291 583l-2 3 1 4 6 2 1 4 8 0 2 5 0 1M496 441l-1-1-3-1-5 3-4-1-1-2 2-8 6 1 2 7M504 454l3-1 3-7-3-3 0-2-3-6 2-3 5-1 1-6-4-2-4 5-5-1-2-5-4 0-3-6 1-4 4-1 1-10 4-7 7 3 1 3-6 3M502 468l-7-4M436 520l2-7 2-1 1-2 8 0 1 3-3 6-1 0-6-7M449 527l2-4 6-1 2 10 4 1M451 523l-4-4M355 400l4-7-7-3-4 7 3 3 4 0 5 6 5-7 6 4 4-1 1-1M351 421l-4 0-1 0 0-8M375 402l3 7 3 1 5-2 2 2 0 7 6 2 2-2-2-7-6 0M369 423l4-6 6 1 0 8 5 1 2 8 1 6-5 4-1 3-8 4 0 5-7 2-1 4-4 1-1 6 7 5-2 4 1 5 9-1 2 5 7 0 3 3 7-7 2 0 2-4-2-5-4-2-3 1 0 6-5 2-4-3 4-7M407 412l5 2 3-1 6 6 0 1-7 3-1 0-1-1-8-1-1-5 2-3 2-1 3-9 3-1 2-5-2-4-5-1-3-5 5-6 5 2M404 421l-2 4-1 1-7-4 0-3M400 408l-3 0-3-7M299 458l-3-4 3-5-2-4-6-2M310 390l0 1-3 9 2 2 0 8-5 2-5-2 0-7M309 402l6-1M311 385l1-1 9 2 2-5M296 554l-10 4M335 495l-3 3-8 0M315 481l3 0M294 515l-8 4M334 535l5 3 4-2 1 0M291 574l8 0-1 6-2 3M357 557l2 6 6-1 1-7 2 0 1-8-7-1-2 2M333 504l-4 3 1 5-6 4-5-6 1-3M408 525l0-2 7-1-3-9M347 440l-2 4 1 2 6 4 1 0-5 6 6 5 1 0 3-7 4-1 4 6M369 493l-8 3M362 504l0 1 4 5-1 4-6 3-4-6 2-5 5-1M370 467l6-3 1-4 6-2 4 5-5 7-2-1-4-5M389 480l5 4M307 601l8-1 2-4 8 3 0 4-4 2-5-2-1-3M306 573l1 7-3 3 1 4 9 0 0-5-7-2M524 594l-6-5-5 1-1-1-8 5-1 2 2 3 9-1-1-8M365 562l2 2 7-1M403 543l7 4-2 7-7-1-2-5M509 573l0 3-3 3-7-1-1 8 3 1 4-2 1-6M494 576l3 1 2 1M479 563l-9 0M503 596l-7 1-1-2-8 4-2-2-5 0-2-5-6 2 1 6 5 0M431 437l3-5M482 410l-8-1-1 6 3 3 6-3M520 410l5 7-2 3 1 4-5 3 0 4M499 420l-3-8 7-2 1 1M528 386l-5-7M464 460l6-1M487 475l3-5M479 470l3-3M392 452l2-3-5-7 7-3 6 4M390 463l3 3 6-1M466 537l-3 6 5 4-2 7-7 6 3 4-2 6-10-4-2 3 6 8 6-5 4 2 6-3M482 516l3-2 1-8 7 3-1 6-1 1-6-2M340 401l1 5-1 2-9 0-2 4 3 6 5 0M334 442l-5 6M397 408l-3 2M389 442l-2-1M397 432l-3-1M404 455l8-3 10 0 0 8 4 2 0 1-2 7 2 4-3 4 6 7 2 0 4-5-4-7 1-1 7-2 2-3 7 3-2 6-5 0-2 4-4 0M386 435l-8-1M338 473l5 3 4-3M339 507l9 5 0-7M344 517l4-4 7-2M343 500l8-4M373 510l-7 0M521 516l0-1 5-5 2 0M522 536l-3 6 6 5-1 5-6-1M531 567l-6-2-2-4 3-7 0 1M520 571l0 2-5 6-1 0-3 9M494 539l5-1 0-6 2-1 1-6 4-2M457 542l4 2-2 6M362 453l1-2M456 599l1-2 8-2 2-3-1-1-1-2-9-2-1 1-6 3M509 576l5 3M493 385l8-2M477 391l-4 7 2 3M458 443l7 5 2 0 2-4M429 428l1-6 3 0 5-6 0-2 8-2 0-6 1-1 8 0M409 432l3 1M469 427l6 5-1 3M495 440l4-5-1-6-7 2M507 397l4-6 8 7M527 426l6-1M476 501l-5 3 4 8-10 1 0 1M476 496l-2-2-2-3 3-4M472 491l-7-3-1 9-6 1-2-1 2-9 3-2-1-8-5-1-3-9 1-1 9 2M512 478l2 3 5 0 3-7M406 472l0 7 6 0 4-3-1-4M329 412l-6 1M301 440l5 1 3-3M332 455l3 0M348 456l-2 0-3-5M367 602l-5-4 1-3 7-3 0-1 5-8-3-3 4-6 6 0-1-8M368 522l3 3M499 505l4-5 7 4-3 6-5 0-3-3M425 524l-4-3-6 1M455 552l-1 2 4 6-8 5-4-7M306 595l8-3 0-5 10-1 0-7-1 0M354 609l3-5 0-1-5-4-7 6-5-3-5 1-3-5 3-5-3-5-6 1 0 1 2 7 4 1M465 579l0 10M390 555l5 3-3 7-3 1-1 7 4 2 6-5-1-1-5-4M487 599l0 2 5 4M413 393l3-6 8 2-5 8-4 0M455 421l-3 6M446 460l-5 7M510 389l0-9M467 499l-3-2M431 485l3 4-3 8-1 2-9-1-2 3-8-4-1 1-1 5 4 5 6-6 0-1M424 490l-3 0-9 3-2-4-3-1M406 479l-2 1M439 480l2 3-2 6M440 505l1 5M411 497l1-4M336 561l-6 3 1 7-1 1-8-3 0-5M342 578l1 1 3 1 4 6-2 4-7-2 0-1 2-8M494 525l3-2 1-6M516 511l0-6-4-2 1-6-5-4M325 599l3-2M401 553l-4 4 5 6-5 6M445 570l-7-2M479 587l-1 5M466 602l-1-7M445 398l-2-8 0-1 9-1-1-8M424 389l1 0 0-10M518 387l0-6M524 406l7 5M438 513l-6-1M330 564l-4-2M350 586l6-2 3 3 6-1 3-6-4-4M442 548l-3 2 0 7-9 1 1 8 6 3-2 6M324 586l2 3M430 558l-1-1-4 1M413 562l-4 7-5-6M422 452l1-2 3 0M359 591l-8 5M397 605l-1-8 3-1 7 2M398 570l5 4-5 6M388 584l6-2" stroke="#923aa4" stroke-width="1.70" stroke-linecap="round" stroke-linejoin="round" fill="none"/><path d="M295 532l2 4-1 3-6 0-1 3 2 5M322 544l3 4 4 0 4 4-1 2 4 6 5-1 2-6 3-5 6 0 1 8 4 1 4-3-1-6-7-1-1 1M305 533l7-5 5-3 0-5-5-3-1 0M382 386l6 1 4-7M398 390l2 7M289 386l2 2 0 3 3 4-1 5 6 3 6-3-5-8M310 473l-9-2-1 9-9 1M290 493l6 1M301 491l8-3M330 540l1 2 7 1 0 1-1 6 6 3 8 4M309 504l-1 2-4 3-2 0M476 551l-1 3 5 8-1 1 0 5 6 5 9 2 0-10-1 0M477 529l3-6 2-2 0-5-6-4-1 0-2 7 7 4M383 522l7 6 0 3-3 2 0 9 5 1 2 4-5 6-4-5 1-6 1 0M291 583l5 0 2 6-2 3M500 449l4 5-2 4-5 0M507 453l4 3M502 468l-6 6-6-4 0-1M428 524l-3 0-3 8-6-2-5 2-3-7-7 3 0 3M447 538l0 1 5 5 5-2 1-9M347 379l-2 7 6 2M348 397l-3 0-4-7 2-3-6-5-5 3-1 4 6 3 4-2M351 421l5 4M371 403l-2 6 2 3 0 1M369 423l-2 1M412 414l0 8M403 416l-7 1M290 459l6-5-6-4 1-7 0-1 0-3 6-4-3-7 9-3M299 458l7-3 3 2 1-1 4-5 6 1 1 3 7 4 4-4-3-7-5-1-4 5M310 390l1-5-5-4-6 5M297 435l1 0 9-4M321 386l1 3-7 4M346 483l-3-1M339 495l3 5-3 6-6-2-1-6M302 482l-2-2M296 516l6 4 0 4 8 1 2 3M331 542l-2 6M337 550l-4 2M353 547l0-6-7 0M339 506l0 1-4 8-5-3M419 539l2 9-2 2-7-4M345 444l-8 0-1-1 3-7-5-6-5 7 5 5 2 1M379 498l1 0 7-6 0-1M365 463l5 4 0 6 2 1 5 6 3-1M365 479l-6 0M384 482l0 6M305 596l1-1-2-6-6 0M524 594l6-2 0-4-2-3-5-2-2 1M299 609l1-5-5-5-4 1M385 548l-6 3M387 533l-7-1 0-10-1-1-8 4 0 4 8 3 1 0M494 575l0 1-4 6-3 1-3-7M490 582l5 5 3-1M504 594l-3-7M429 446l-1-6 1-2 2-1 6 4-3 6-5-1-3 4 5 6 5 0 1-5-3-4M482 410l0 5 2 3M474 409l0-1 1-7 9 0 2 4 10-4-5-6-6 0 0-1 2-8 6-1 2 5 5 2 0 2M525 417l5-1M516 419l-1 5-3 1M528 386l1 0M464 460l-1 8 6 3 4-2 4 1 2 0 5 5 3 0 3 5M488 483l-5 0-2-3-5-1-2 2 1 6 6 1 3 4-2 3-6 1 0 5 5 5-5 6M526 463l0-1-3-8 2-3-9-5 3-6-6-4-6 5M392 452l2 4-4 7-3 0M373 452l-3-3 4-8 2 0 2-7-2-2-5 1M482 521l5 3 3-1 4 2 0 5M337 392l-1 7 4 2 5-4M343 436l-4 0M329 437l-2 0-5 7M378 409l-7 3M396 439l1-7 2-1 5 5 0 6M404 436l5-4 0-3-7-4M394 422l-3 3M327 475l1-4M319 510l-4 1-3 6M336 515l-2 6 2 3M368 555l4 1M353 503l4 3M374 516l-5 3-1 3-5 2 0 5 4 3 1 5-6 2M525 521l7-1M526 510l-5-7 1-1-2-8 7 0 1 6M525 565l-5 6-4-2-1-7 1-1 7 0M504 563l-4-5M491 554l4-6 4 0M370 449l-3-1M444 600l-4 8-4-3-1-4 2-3 6 0 1 1 5-3 7 3 0 3-2 3-5 0-5-5 0-1M357 566l-1 1-8-2-1 2-7 1-4-7 0-1M495 587l-1 4-8-1M485 395l-1 6M476 389l-3-2-2-7M442 434l-3-4M424 431l-2 0-3 8-5-2-2-4 6-3 4 1M421 420l2 2 7 0-1-7M483 441l-5 5M498 429l1-2M530 438l-5 3 1 9 1 1M496 474l1 2M471 504l-3 0-3 2 0 7-8-2-2 3 2 8 2-1M484 492l5-1 4 6 6-3-2-7-7 2-1 2M474 481l-4-1-1-2-9-1M505 478l-1 1M455 514l-5-1M324 404l1-6-9 0M321 455l-5 7M346 469l3-3M339 464l-7 1-1 4M359 517l-1 4M379 532l-1 3M499 494l4 2 5-3 1-3-6-6M440 523l6-4M454 554l-6 1-3-6M375 608l1-4 8 1M448 569l-3 1-1 10-3 0-6-5-3 2-1 5 4 5 6-7M453 581l-7 0-1 7M382 574l2 1 0 5-5 5 2 5 6 0 1-6-4-4M495 595l-1-4M472 398l-7-6 1-1-3-6 4-5M443 422l6-6 2 0M443 458l-7-1 0-1M457 507l-6-2-1-2-9 1 0-7-10 0-7-7 5-5M455 477l-4 3 3 7 4 1M423 478l-2 1-5-3M430 499l1 4 9 2 1-1M421 521l2-7M432 472l-1-7 5-2M442 495l9 2-1 6M413 508l0 4 9 1M347 567l0 4-5 7-4-2-5 6-7-4 4-6M347 571l7 5 1 0M497 523l5 2M510 513l-3-3M325 603l6 4M408 554l1 1 0 3 4 4 3 0 2-7 7 3-4 7 5 4-1 4 7 4M436 605l-7 4M476 584l-10 7M467 592l5 2M454 390l-2-2M425 389l8-2 3 5M523 391l0 3-3 4M451 505l-2 5M320 571l2-2M341 587l-8-1 0-4M503 500l0-4M326 578l-2 1M379 593l2-3M439 557l1 2M433 387l3-7M345 605l0 2M408 600l1 9M427 600l0-3M396 597l-6-2 0-3-3-2" stroke="#c870c2" stroke-width="1.70" stroke-linecap="round" stroke-linejoin="round" fill="none"/><path d="M288 524h0M296 526h0M323 536h0M316 535h0M323 542h0M319 544h0M315 542h0M316 535h0M315 546h0M306 539h0M304 546h0M313 547h0M296 534h0M300 526h0M301 527h0M528 605h0M382 385h0M387 387h0M391 381h0M399 389h0M391 391h0M356 383h0M365 382h0M368 390h0M363 390h0M359 393h0M370 385h0M289 386h0M290 544h0M291 539h0M296 540h0M296 538h0M300 544h0M305 537h0M315 472h0M290 493h0M296 496h0M297 493h0M302 495h0M300 500h0M300 491h0M289 502h0M293 494h0M299 489h0M292 486h0M323 533h0M325 530h0M329 534h0M311 494h0M316 499h0M478 551h0M475 547h0M475 545h0M482 540h0M475 530h0M474 533h0M478 538h0M477 529h0M484 536h0M485 558h0M476 553h0M476 555h0M290 584h0M520 608h0M497 447h0M498 449h0M503 446h0M498 458h0M502 451h0M504 454h0M503 468h0M505 462h0M498 466h0M433 521h0M430 522h0M438 522h0M434 531h0M438 524h0M448 528h0M453 533h0M450 536h0M444 533h0M445 529h0M455 522h0M458 525h0M346 387h0M357 392h0M382 398h0M357 397h0M352 400h0M348 397h0M350 431h0M348 421h0M354 424h0M365 399h0M368 401h0M374 426h0M372 419h0M379 418h0M376 418h0M408 413h0M408 409h0M414 413h0M410 403h0M404 414h0M410 403h0M403 401h0M290 459h0M296 454h0M299 463h0M297 455h0M310 391h0M294 395h0M295 401h0M302 402h0M300 385h0M300 410h0M309 402h0M309 404h0M301 426h0M296 433h0M298 435h0M301 433h0M310 384h0M312 384h0M303 384h0M310 387h0M312 384h0M323 381h0M290 416h0M292 422h0M297 418h0M296 412h0M292 422h0M294 427h0M289 430h0M290 403h0M292 400h0M287 558h0M344 482h0M338 495h0M333 493h0M333 487h0M337 483h0M340 494h0M305 482h0M309 488h0M314 481h0M311 489h0M299 488h0M308 489h0M304 498h0M311 493h0M320 492h0M312 489h0M291 480h0M301 471h0M300 477h0M291 481h0M292 472h0M300 465h0M300 468h0M310 466h0M301 472h0M305 464h0M301 481h0M291 481h0M293 514h0M295 516h0M301 510h0M294 506h0M289 517h0M295 519h0M295 516h0M299 505h0M308 506h0M305 508h0M303 509h0M332 536h0M336 528h0M331 542h0M292 567h0M289 577h0M290 572h0M346 549h0M343 553h0M347 548h0M352 551h0M343 553h0M303 558h0M303 564h0M297 567h0M293 565h0M306 563h0M334 496h0M324 498h0M327 498h0M342 536h0M360 548h0M340 496h0M332 502h0M336 505h0M340 504h0M529 530h0M404 539h0M399 540h0M408 526h0M406 536h0M401 528h0M405 526h0M390 530h0M410 536h0M419 539h0M415 530h0M419 539h0M420 531h0M350 439h0M346 446h0M347 447h0M370 496h0M379 498h0M373 502h0M363 504h0M362 502h0M361 464h0M360 469h0M365 473h0M370 470h0M366 482h0M374 476h0M367 475h0M370 473h0M389 477h0M386 481h0M382 480h0M397 477h0M395 475h0M390 473h0M394 484h0M378 480h0M379 488h0M299 602h0M299 596h0M306 597h0M298 569h0M302 574h0M295 574h0M299 574h0M527 593h0M357 559h0M366 558h0M360 563h0M386 543h0M391 551h0M394 546h0M386 542h0M403 542h0M402 544h0M397 548h0M388 532h0M387 538h0M509 565h0M504 571h0M492 575h0M494 570h0M485 573h0M494 565h0M484 575h0M485 579h0M490 582h0M494 576h0M487 583h0M495 576h0M496 566h0M487 563h0M481 570h0M479 567h0M475 576h0M482 576h0M511 589h0M503 595h0M512 589h0M504 597h0M514 593h0M506 599h0M523 593h0M512 607h0M435 446h0M431 437h0M430 447h0M430 437h0M482 413h0M490 416h0M481 410h0M473 414h0M475 417h0M476 418h0M512 406h0M524 419h0M497 415h0M516 420h0M524 380h0M528 386h0M467 459h0M466 469h0M472 469h0M510 455h0M483 483h0M476 479h0M478 470h0M528 471h0M528 467h0M521 464h0M393 453h0M386 461h0M380 459h0M384 467h0M380 469h0M381 470h0M393 458h0M384 455h0M389 463h0M373 455h0M373 452h0M393 466h0M372 457h0M370 467h0M376 471h0M472 536h0M474 546h0M469 526h0M466 529h0M469 537h0M482 520h0M480 514h0M476 512h0M473 518h0M341 390h0M341 385h0M331 387h0M343 393h0M338 400h0M345 429h0M339 437h0M331 435h0M336 443h0M341 444h0M339 436h0M346 421h0M339 429h0M338 421h0M334 429h0M399 393h0M391 399h0M404 400h0M395 404h0M384 404h0M388 404h0M384 409h0M349 406h0M351 421h0M352 410h0M346 416h0M341 404h0M337 408h0M392 447h0M398 432h0M404 436h0M404 439h0M396 437h0M382 445h0M387 441h0M387 441h0M370 411h0M372 412h0M380 418h0M362 418h0M410 452h0M394 419h0M388 416h0M390 410h0M394 410h0M404 422h0M401 426h0M395 422h0M386 419h0M384 429h0M386 421h0M400 429h0M395 432h0M383 427h0M378 434h0M380 435h0M376 439h0M311 402h0M313 412h0M291 441h0M290 447h0M291 443h0M327 437h0M329 479h0M319 479h0M327 475h0M320 489h0M321 495h0M325 484h0M316 481h0M336 481h0M333 479h0M328 473h0M360 496h0M361 487h0M360 495h0M337 474h0M342 475h0M302 521h0M331 550h0M333 552h0M331 543h0M338 544h0M321 512h0M325 516h0M329 508h0M324 500h0M336 513h0M339 507h0M353 544h0M347 541h0M336 515h0M335 522h0M324 516h0M325 524h0M346 511h0M346 516h0M348 513h0M367 555h0M348 497h0M353 501h0M342 500h0M359 495h0M381 510h0M380 509h0M379 516h0M373 509h0M373 513h0M377 518h0M517 527h0M523 525h0M515 521h0M521 516h0M524 523h0M524 520h0M527 532h0M520 528h0M527 520h0M522 536h0M479 523h0M483 522h0M527 510h0M521 515h0M525 512h0M524 559h0M522 552h0M524 552h0M520 571h0M516 569h0M502 560h0M488 545h0M490 534h0M493 541h0M494 550h0M447 538h0M460 562h0M463 556h0M469 558h0M467 555h0M456 561h0M460 570h0M469 566h0M473 563h0M470 556h0M372 451h0M375 441h0M372 445h0M363 455h0M368 448h0M384 494h0M387 492h0M379 498h0M374 503h0M294 599h0M292 591h0M296 594h0M295 583h0M296 592h0M297 587h0M299 575h0M297 581h0M452 605h0M445 598h0M456 603h0M456 602h0M366 563h0M358 565h0M363 569h0M404 543h0M502 586h0M501 587h0M497 577h0M509 576h0M509 576h0M506 585h0M513 584h0M513 579h0M495 587h0M502 589h0M512 589h0M504 606h0M499 607h0M494 388h0M485 395h0M487 387h0M487 386h0M483 394h0M472 381h0M475 388h0M471 423h0M474 409h0M485 403h0M479 401h0M485 398h0M476 393h0M475 401h0M461 439h0M458 443h0M435 448h0M440 441h0M443 447h0M442 435h0M444 434h0M430 425h0M438 430h0M439 429h0M425 433h0M407 428h0M407 434h0M409 430h0M410 428h0M419 416h0M414 423h0M476 422h0M471 428h0M486 442h0M483 440h0M483 433h0M491 434h0M488 432h0M484 431h0M496 440h0M494 439h0M479 445h0M482 431h0M490 417h0M496 439h0M492 430h0M498 432h0M498 425h0M499 427h0M507 432h0M504 428h0M509 424h0M519 428h0M512 425h0M513 433h0M512 437h0M505 433h0M507 422h0M498 398h0M504 402h0M507 400h0M496 401h0M491 395h0M500 394h0M512 405h0M495 411h0M528 440h0M527 450h0M528 475h0M526 463h0M525 425h0M525 432h0M527 428h0M502 468h0M492 471h0M490 470h0M480 468h0M487 475h0M480 508h0M474 511h0M475 502h0M477 496h0M484 497h0M484 505h0M476 500h0M476 487h0M474 494h0M473 490h0M476 479h0M482 485h0M475 485h0M497 476h0M528 483h0M528 487h0M517 463h0M519 464h0M515 472h0M512 470h0M513 472h0M505 479h0M401 470h0M408 471h0M397 466h0M409 502h0M464 544h0M466 552h0M460 546h0M464 541h0M466 554h0M459 543h0M465 514h0M464 523h0M468 519h0M456 520h0M465 514h0M458 511h0M457 512h0M465 513h0M468 513h0M471 520h0M332 416h0M330 411h0M334 418h0M329 407h0M324 405h0M322 398h0M326 396h0M321 387h0M331 389h0M329 398h0M298 451h0M291 443h0M298 446h0M298 443h0M327 458h0M306 440h0M326 448h0M331 456h0M320 452h0M321 451h0M331 446h0M324 442h0M353 460h0M349 454h0M359 463h0M353 463h0M359 454h0M336 464h0M331 467h0M338 473h0M335 455h0M338 459h0M344 459h0M345 448h0M334 455h0M311 517h0M317 520h0M317 522h0M314 513h0M321 526h0M342 557h0M335 558h0M340 559h0M366 600h0M353 541h0M359 516h0M360 516h0M365 513h0M363 506h0M357 506h0M360 505h0M358 520h0M367 523h0M368 522h0M367 517h0M370 518h0M371 510h0M362 504h0M357 506h0M380 524h0M379 532h0M379 521h0M368 523h0M529 541h0M527 540h0M525 549h0M485 510h0M490 515h0M491 515h0M492 509h0M486 506h0M490 523h0M498 507h0M499 506h0M490 491h0M495 488h0M498 490h0M486 492h0M528 586h0M530 589h0M520 573h0M522 584h0M514 579h0M520 572h0M427 542h0M429 542h0M431 535h0M426 524h0M434 531h0M422 530h0M433 532h0M440 523h0M442 525h0M437 533h0M452 544h0M456 552h0M453 547h0M455 554h0M454 554h0M372 440h0M372 433h0M311 581h0M314 585h0M312 587h0M306 596h0M303 589h0M305 594h0M376 604h0M356 606h0M449 568h0M456 575h0M462 573h0M465 579h0M453 578h0M457 582h0M453 581h0M376 564h0M375 564h0M374 562h0M377 553h0M381 556h0M381 566h0M384 565h0M386 561h0M384 558h0M370 555h0M382 550h0M390 555h0M376 574h0M382 569h0M371 570h0M420 546h0M418 549h0M495 595h0M494 589h0M495 596h0M492 605h0M484 605h0M487 600h0M497 384h0M493 385h0M409 392h0M406 389h0M416 387h0M414 398h0M468 394h0M466 391h0M464 387h0M464 383h0M455 393h0M474 435h0M473 441h0M469 435h0M471 443h0M465 436h0M475 432h0M467 447h0M455 422h0M451 452h0M454 450h0M452 462h0M444 459h0M446 461h0M444 457h0M455 468h0M464 460h0M421 420h0M417 438h0M418 430h0M421 430h0M422 431h0M412 433h0M418 429h0M430 422h0M510 389h0M522 450h0M526 451h0M524 456h0M527 417h0M458 505h0M460 505h0M471 504h0M466 505h0M469 498h0M467 501h0M453 468h0M457 478h0M466 478h0M470 480h0M508 488h0M431 484h0M430 485h0M434 478h0M428 484h0M418 477h0M424 471h0M422 478h0M431 485h0M426 491h0M431 497h0M432 496h0M425 489h0M431 498h0M427 499h0M424 490h0M415 477h0M406 475h0M408 479h0M400 480h0M402 491h0M405 483h0M405 479h0M422 521h0M445 476h0M447 473h0M446 469h0M441 467h0M432 473h0M440 478h0M435 471h0M454 478h0M449 479h0M445 461h0M440 497h0M431 501h0M442 496h0M444 504h0M450 503h0M451 497h0M410 498h0M412 497h0M419 501h0M304 448h0M309 447h0M307 456h0M303 449h0M306 446h0M305 456h0M314 445h0M316 451h0M352 566h0M336 560h0M347 566h0M345 567h0M338 564h0M342 578h0M347 569h0M366 538h0M368 535h0M363 528h0M379 533h0M371 546h0M492 524h0M494 525h0M493 516h0M497 523h0M494 525h0M499 538h0M501 529h0M497 538h0M498 524h0M499 517h0M505 520h0M501 512h0M519 513h0M510 517h0M515 511h0M503 510h0M508 511h0M434 549h0M435 547h0M442 541h0M317 597h0M316 600h0M322 598h0M325 601h0M314 608h0M314 587h0M317 596h0M315 593h0M400 549h0M408 554h0M404 553h0M446 589h0M444 589h0M445 570h0M445 573h0M447 581h0M441 598h0M437 598h0M408 554h0M483 587h0M479 587h0M465 602h0M469 602h0M472 606h0M483 606h0M458 587h0M465 594h0M463 595h0M467 591h0M465 582h0M469 589h0M465 596h0M451 590h0M445 585h0M447 405h0M445 398h0M443 398h0M449 397h0M456 388h0M448 389h0M444 392h0M453 389h0M417 397h0M447 418h0M438 415h0M437 413h0M446 406h0M449 416h0M434 421h0M515 388h0M523 392h0M521 397h0M510 390h0M457 492h0M464 495h0M465 488h0M456 497h0M456 487h0M453 487h0M454 497h0M452 482h0M460 481h0M470 480h0M469 489h0M454 506h0M450 504h0M451 497h0M415 492h0M416 484h0M411 490h0M421 490h0M412 494h0M420 500h0M409 489h0M432 472h0M432 465h0M425 466h0M427 463h0M436 456h0M436 456h0M440 511h0M442 514h0M445 510h0M446 519h0M448 518h0M437 516h0M440 523h0M439 512h0M451 506h0M447 519h0M455 514h0M441 491h0M445 485h0M434 489h0M442 494h0M440 482h0M449 481h0M429 505h0M422 513h0M431 513h0M425 514h0M420 503h0M435 512h0M414 512h0M429 515h0M422 518h0M319 579h0M319 571h0M314 571h0M315 580h0M330 571h0M328 563h0M322 568h0M335 562h0M321 570h0M344 589h0M346 580h0M343 579h0M353 576h0M356 572h0M355 576h0M501 503h0M510 503h0M508 492h0M501 495h0M503 497h0M450 546h0M442 545h0M443 548h0M439 550h0M449 564h0M337 578h0M329 572h0M334 586h0M333 583h0M324 579h0M324 579h0M324 579h0M391 565h0M400 554h0M384 599h0M374 593h0M380 595h0M431 608h0M433 577h0M439 578h0M431 581h0M432 583h0M435 590h0M368 580h0M361 587h0M358 578h0M365 577h0M373 587h0M370 592h0M355 585h0M356 578h0M365 572h0M376 575h0M430 559h0M433 558h0M440 558h0M426 572h0M428 567h0M444 570h0M429 557h0M417 560h0M422 563h0M418 555h0M409 556h0M411 560h0M415 562h0M429 557h0M424 567h0M479 594h0M474 600h0M479 588h0M471 594h0M483 597h0M432 395h0M435 393h0M435 391h0M433 387h0M436 399h0M441 391h0M424 461h0M429 454h0M423 450h0M423 450h0M421 460h0M417 452h0M432 456h0M427 449h0M512 502h0M521 502h0M516 510h0M511 503h0M510 495h0M525 494h0M344 596h0M345 605h0M344 605h0M349 592h0M341 589h0M341 596h0M354 594h0M338 603h0M326 589h0M326 590h0M332 588h0M332 588h0M330 597h0M326 588h0M338 594h0M333 600h0M389 566h0M408 600h0M409 607h0M401 604h0M396 605h0M398 605h0M434 601h0M419 605h0M425 602h0M406 599h0M406 596h0M391 575h0M395 572h0M400 561h0M399 567h0M396 599h0M405 598h0M398 596h0M390 595h0M388 584h0M379 586h0M379 584h0M385 580h0M381 590h0M388 590h0M395 581h0M400 590h0M402 589h0M404 583h0M392 576h0M398 570h0M399 594h0M392 583h0M427 597h0M407 576h0M408 581h0M417 569h0M410 568h0" stroke="#7a2690" stroke-width="2.8" stroke-linecap="round" fill="none"/></g><path d="M161 201.5 Q168 204 172.5 209 Q175 213 174.5 219" fill="none" stroke="#8a2ca6" stroke-width="2.2" opacity="0.85"/><ellipse cx="180.2" cy="217.3" rx="6.1" ry="8.5" fill="none" stroke="#7e2296" stroke-width="2.1"/><ellipse cx="174.2" cy="204.4" rx="5" ry="2.1" fill="#f1e0f2" stroke="#a552b8" stroke-width="1.1"/><ellipse cx="256.8" cy="206.8" rx="3.3" ry="2.8" fill="#fff" stroke="#8a2ca6" stroke-width="1.6"/><path d="M254 215 Q251.5 222 253.5 229 Q256 233.5 262 234" fill="none" stroke="#8a2ca6" stroke-width="1.8"/><ellipse cx="258" cy="225.5" rx="3.2" ry="5.2" fill="#fff"/><circle cx="230.7" cy="232.2" r="1.3" fill="#d0306a"/><path d="M183 238 Q190 235 196 238 Q201 241 206 240" fill="none" stroke="#8a2ca6" stroke-width="1.7"/></g><rect x="147.9" y="194.4" width="113.7" height="105.7" fill="none" stroke="#222" stroke-width="0.9"/><clipPath id="cd2"><rect x="268.75" y="194" width="113.75" height="106.5"/></clipPath><g clip-path="url(#cd2)"><rect x="268.75" y="194" width="113.75" height="106.5" fill="#ffffff"/><g transform="scale(0.5)"><path d="M755 428L760 431L763 427L760 424L756 426ZM719 447L724 446L725 451L725 451L720 452L719 452ZM766 440L766 437L771 435L773 436L774 439L772 441L767 441ZM763 398L763 403L764 403L768 403L768 399L764 398ZM733 486L736 483L739 485L739 487L734 489ZM767 446L773 447L773 446L772 441L767 441ZM709 424L710 424L713 430L711 432L707 430L706 427ZM716 464L715 468L710 469L709 467L709 465L713 462ZM716 415L721 413L723 416L722 419L720 420L718 420L715 415ZM742 395L744 398L746 398L748 396L747 392L742 394ZM760 492L757 496L753 496L754 491L755 490ZM726 476L726 476L729 471L729 471L724 469L723 469L723 474ZM696 410L701 408L704 412L701 416L699 416L696 412ZM692 417L692 414L696 412L699 416L699 417L694 418ZM740 501L739 502L735 503L732 501L735 497L736 497L739 500ZM708 486L708 488L707 490L700 488L700 486L702 483L707 484ZM715 490L708 488L707 490L707 491L710 494L713 493ZM729 496L732 494L735 497L732 501L730 502ZM712 385L708 383L705 383L704 386L704 386L706 389L710 389ZM654 449L657 451L658 451L661 449L660 444L659 443L659 443ZM686 465L685 465L681 461L681 460L683 459L688 459ZM732 523L728 525L729 528L732 530L735 528L733 523ZM654 483L655 478L657 478L661 481L657 485L655 484ZM657 495L661 496L663 492L660 489L657 491ZM729 544L728 549L732 551L735 546L732 543ZM667 510L663 507L661 512L663 514L665 513ZM666 386L663 383L663 382L664 381L670 381L670 385ZM630 474L632 470L631 469L626 469L624 472L624 473ZM630 452L629 455L624 453L624 451L625 449L629 449L630 449ZM618 448L620 451L624 451L625 449L623 445L622 445L618 448ZM635 496L630 499L633 505L638 503L638 499ZM628 481L627 480L627 480L631 476L632 476L634 482L633 482ZM648 527L650 525L650 523L648 521L646 520L642 523L644 526ZM728 559L728 557L727 556L722 556L720 559L722 563L724 563ZM769 568L763 567L762 568L762 569L763 572L767 573L770 570ZM623 445L626 443L629 444L629 449L625 449ZM762 569L757 571L759 576L761 575L763 572ZM642 393L644 388L648 389L649 390L647 394ZM593 435L596 435L597 437L595 443L592 443L591 437ZM658 563L660 563L662 562L662 557L659 556L656 557ZM589 421L591 421L591 426L586 426L586 422ZM719 581L720 581L725 578L721 575L717 578ZM590 451L591 450L590 445L586 446L585 449L587 451ZM704 570L703 567L699 566L698 570L700 572ZM609 529L609 533L613 535L616 531L615 528L613 527ZM580 452L575 449L575 448L579 445L582 450ZM637 566L631 567L630 563L630 562L634 560L636 562L637 566ZM666 592L666 591L668 588L672 588L674 591L670 594ZM653 567L647 567L648 573L652 573ZM589 411L586 409L581 410L582 416L583 417L587 416L589 414ZM699 604L699 602L701 598L703 598L704 598L705 603L701 605ZM679 589L677 585L679 581L683 583L681 589L680 589ZM569 440L566 437L564 437L562 439L562 442L565 444L567 444ZM578 432L581 436L578 440L574 437ZM580 406L585 403L584 402L582 399L578 400L579 405ZM590 393L592 394L596 392L597 388L594 387L591 390ZM583 495L580 498L580 499L583 502L584 502L586 498L584 495ZM602 547L601 546L597 547L595 550L600 552L603 548ZM680 602L682 600L688 601L688 605L685 607L681 605ZM536 407L543 407L543 409L540 413L536 413ZM582 523L579 521L575 524L575 526L578 528L581 527ZM665 605L660 610L657 606L660 603ZM604 566L605 571L604 572L599 572L597 568L597 567L602 565ZM544 461L544 458L539 458L537 463L538 465L540 465ZM587 529L589 534L585 536L582 533L584 529ZM581 557L586 553L587 553L588 555L590 559L589 560L583 561L583 561ZM546 537L544 536L542 534L542 534L544 531L548 529L549 530L550 534ZM588 590L593 587L593 586L590 584L586 585ZM584 584L583 582L577 582L577 583L578 587L582 587ZM538 434L538 431L535 428L532 430L531 433L533 435L537 435ZM538 531L539 527L535 525L532 527L536 531ZM555 597L555 599L550 603L547 600L548 599L550 596Z" fill="#9a3aa8"/><path d="M533 462l-2 2 3 6-1 5 3 2-2 5 3 3-1 3-4 0 0 4 1 2 0 5 6-1-2-5-4 1M539 477l0-6 3 0 1-3M764 427l3-6 1 0 4 3-3 6-1 0-4-3-1 0-3-3 0-3M753 604l-3 1-3-1-4 4M540 478l1 4 3 1M530 522l6-1-1 4 4 2 2-1 1-2M534 449l3 0M538 456l1-3M765 435l-4-2-2 5 3 3 4-1 0-3M762 441l-2 2M754 601l-4-4-1 0-3 6 1 1M721 527l-5-5M716 529l-3-3-2 0-2-5-5 3-3-3 1-2 4-1 3 3M725 531l0 3 5 1 2-2 0-3-3-2M695 493l-3 1-1 2 2 3-3 4-2 0-2-6 5-1M726 520l2-1-1-4-2-1-2 2 0 4M534 482l-1 0-3 4M588 474l3 3 4-3 3 3 0 2-4 2-3-2 0-2M583 474l-3 1M638 469l-2-3-4 1-1 2-5 0-2 3 0 1 0 3 3 4 4-4-1-2-6-1M543 407l-7 0 0 6 4 0 1 3M543 450l3-3M545 455l4-3-1-4M549 441l0-2M551 438l1-3-3-3-3 1-3-5-5 3-3-3M562 463l2-5 3 0 0-1 7-1-2-4-5-1 0 6M558 457l-1-2M680 509l-1-6-3 0-3-2 0-1 4-5 1 0 3 6-2 2M685 512l1 4 3 1 1 1M570 479l3-3-2-4 2-3 1 0 3-4M569 493l3 4-4 3 1 3 1 1 5-3-2-4-1 0M768 399l2-1-1-4 3-2M769 394l-3-2M764 403l-1 0-6 0 0 2-5 2 1 5 4 0 2-4-2-3M759 414l-2-2M688 503l-2 2M696 523l2 1 1 3-1 2 5 4 2-1 1-4-2-2-5 1M697 559l-5 2-2-6-5 2 1 4 3 2 3-2 2 4-1 4M699 561l-1 4-4 0M705 532l5 2M733 523l5-2 2 4 2 0 2-3M739 485l-3-2 0-4-3-1-3 4 2 4 1 0M743 481l3-2 0-4-1-1-3 0-1-6M743 517l4-1 1-1M744 579l-1-1-4 1-2-2-1 0 2-5 2-1 0-4 5-2 2 3-2 3 4 2-1 4-4 2M741 585l-1 5M749 573l3-1 1 4-1 3 5 3 1 0 0-6-5 0M753 570l2 0M758 517l3-3 3 2M767 513l0-2 2-1 4 1M766 541l2-1 1-5-1-1-2 0-3 4 3 3 0 3 5 2M769 535l2 0M769 554l-1-3-3-1-1-4 2-2M535 512l-3-5 0-1M533 499l1 5M624 472l-4-1 0-5 4-2 2 0M654 399l-2 3 1 3-3 3-3-2 1-4 4 0M658 399l0 3-3 3 2 5 1 0 4-3M672 408l-4-3M643 468l3 0 3-4 0-1 1-4-1-3-2 0-4-3 1-4 1-3M715 438l1-2-5-3-2 4-2 1-3-5 3-3 4 2 0 1M557 439l0-5-1-1-4 2M562 442l3 2-2 4-2 0M539 424l2 0M543 428l0-1M535 392l6-1 0-1M594 469l3-4 2 0M597 465l-2-3-3-1-3 2M585 479l2 2 4-2M571 463l0 4 2 2M666 487l1-5 2-1 3 6-1 2-4 0-1-2-3-1M672 487l3 0 2 1-1 6M661 481l-4-3M673 500l-4-4M673 501l-3 3-4-1 2-6 0-1M696 513l-5 0-2 4M686 516l-3 2M666 491l-3 1-2 4M681 477l2 0 2 2-2 5-6-1M683 484l1 2M686 472l1 0 3 4M553 498l-4 0M575 484l3 1M594 481l0 4-4 1-5 3-2-1M548 525l0 4-4 2-3-5M544 531l-2 3-4 3-3-2-3 4M618 608l-2-3-4 1-2-1 2-5-3-2-1 0-4 3-4-1-2 3 1 4M761 446l2 1-2 5-4-2M754 452l-4 2 1 4M771 453l-1 0 1 7-2 1 3 6-3 3 3 3M624 387l1 0 3-2 4 4 3-6 2 0 2 2-2 5-5-1 0 1 0 5 3 0 3-3-1-2M622 388l-1 4 4 2 1 0 1-3M741 457l-2-4-5 1M731 466l-1 1-1 4-5-2 2-4 4 2M724 469l-1 0 0 5-5 1-2-2-3 1-3-2 0-3 5-1 1 3 5-2 2 0M738 590l-3-2-5 3 1 3 3 1M740 604l-5-2-1 3 1 2M723 548l0-2-3-4-4 5 0 1-6 2-1 0-5 1M727 556l1 1 0 2-4 4 3 3 3-2 1-3-3-2M693 530l-2 2-4-2 0-3M734 507l1-4 4-1 1 5M741 493l1 3 5 2M710 472l-3 1 1 5-5 0-1 3 0 2-2 3 0 2 7 2 0 1-3 3M729 508l0-5-3-1-1-4-2-1-3 2M736 577l-3-2 0-5 0-1-6 1 0 3 4 2 2 0M726 584l-4 1M729 591l-3 1-2 2-2 1-1 5-6-1 0 1 1 5-3 2-3-2-1-2 1-2-2-4-4 1-1 0M735 602l0-1M760 538l-2 2-4-3M750 532l0-1 2-1M767 573l3-3-1-2 0-3 3-3-5-3 0-2M725 534l-1 1M728 549l1-5 3-1 1-4-2-2M535 525l-3 2 4 4M547 495l2-3M590 444l2-1 3 0 2-6-1-2-3 0-2 2 1 6M581 436l-3-4M593 427l2 0 2 3 0 3 6 2 1-5-2-2 0-4M563 385l5 2 1-6M559 390l-1 1 1 3 4 2 2-3-1-2-3-2M565 393l3 2M632 395l-1 1-1 2 1 2-1 4-2 1 0 1-4 1-1 3 4 2 0 1 2 3-2 4-2 0-2-4 4-3M628 385l2-4M670 396l-2-4 4-4 0-1-2-2-4 1-1 5 3 1M675 435l-4-3 0-3-1-1 0-6-1-1 1-3M677 431l5-2 0-1-5-5M701 438l4 2 0 2M705 440l2-2M662 418l4 4 3-1M655 421l-5-1M613 428l-2-1 2-3 3-1 0-4 3-2 1-1 1-1 2 1M645 421l0-1-5-3M637 454l-1-2 1-2-4-3-3 2 0 3-1 3-5-2 0-2 1-2-2-4-1 0-2-4-5 1-2 0M620 451l-2-3M620 441l0-1M695 464l-1 0-1 6-5 0-1 2M646 468l1 3M670 461l-2-1-1-3-4-1-5-5 3-2 4 0 0 1-2 6-1 1M567 451l2-5-2-2 2-4M548 388l1 1 4 0 2 3-2 2-4-1 0-4M555 385l-2 4M606 441l1 2M617 436l3 2M597 451l0-1 5-3-2-3M686 571l3 1 3-3-3-3-3 2 0 3-3 1 1 4 2 2 4-2-1-4M680 551l-2 3 2 3 4-1 0-4M583 484l4-3 3 5 2 7 4-3-1-5-1 0M604 474l4 3 0 3 3 1 3-3-3-3-3 2M615 499l5-2 1 0 0 6-4 0-2-4-4 2 0 1 2 3 3 0 1 3-3 4-4-3 3-4M615 484l2-2M649 483l-1-1M642 492l0 2M538 590l3-5-3-2M594 603l-2-2-4 1-4-3 1-1 4-1 3 3 0 1M600 600l-1-3 0-1 4-3 4 2 2-5M752 407l-1-1-3 1-3-2 3-3 2 0 1 4M763 403l0-5M765 385l-6 1-3-3 0-1M701 432l-1-1 1-5 0-1-3-1 1-7 0-1 2 0 3-4-3-4-5 2 0 2 3 4M726 398l2-2 5-1 1-1-2-5-5 3 1 4M737 420l-4 0-1-3-3-1-1 5 2 2 2 0 1-3M748 433l-1 1-5 0-1-2-6-1-1 4-1 0-5-1 0-1 2-4 5 0 0 2M751 423l3 0M721 469l-2-5-3 0M727 438l-5 0-2-4 4-2 0-5 4 0 2-4M724 446l1-1M693 475l1-4-1-1M694 471l5-1M682 541l3-5 1 1 2 5M675 538l-5-2-1 0-1 5 1 1M687 530l-2 1-1 5 1 0M661 518l0 1M691 542l2-3M706 539l2-1M708 478l1 0M707 490l1-2 0-2M768 493l-4 2M737 565l-3-5-3 1M726 570l1-4M709 588l3 3-1 4 4 2 2-4 2 0 1-5 1-1M698 570l2 2 4-2M720 588l-4-1-2-3M769 565l-3-2 1-4M739 554l5-2 2 1-2 5 5 2 1-5-3-3-1 1M735 546l-3-3M755 554l-5 1M595 444l0-1M608 480l-3 2-1-1M587 462l0-5M586 422l-3-2 0-3M602 428l-5 2M591 450l-1 1M582 399l2 3 4-4 3 3 0 3-5 0-1-1-1-1M587 385l5-3 2 5-3 3-4-4-4 2-2-1M648 397l-2 2 2 3M660 381l-5 3 4 4 1 0M682 420l2 4M668 438l2 6 1 1 3-2 1-3M679 440l1 6-2 1-2 3 3 3M674 443l4 4M723 389l-2-4 2-2 4 2 0 1 5 2 2-2 5 3 0 1-4 4-1 0M721 385l-5 0 1 4-5 3-2-3 2-4 3-1 1 1M686 407l3 1 1 1 0 3-4 2-2-1M666 422l-2 3-5-2-1 4-4 2M658 451l-1 0-3-2 5-6M627 437l1 0 0-5M635 433l-2-2 2-4 1 0M586 404l0 5-5 1-1-1M591 401l3-3-2-4-2-1-1 0M539 401l2 1M547 395l2-2M684 556l1 1M562 505l2 1 3 5-1 2-1 0-5-2-1-4M557 514l3-3M586 498l2 0M596 490l3 0 1 3M617 503l-1 2M605 492l1-1M601 502l-3 0-3-3-4 3M645 503l-5 2 0 4-4 2 1 4 4 1-1 5-3 0-2-4 2-2M645 500l2-2M654 516l-1 4 4 3M533 578l0-1-1 0M539 592l6 0 0 3-5 3M535 564l2-3-3-3-4 0M541 515l1 1M761 454l2 4 2 1M713 430l-3-6M721 413l-5 2M729 415l0 1M686 414l2 4 4-1 2 1-1 4M701 416l3 3 0 2-3 4M717 408l-3 3M709 424l-5-3M739 389l2-2 4 0 1-5 2 0 4 5 4-4M748 413l-1-1M753 400l-1-3-4-1-2 2 2 4M728 427l2 2M745 387l2 3 5-1 0-1 5 2 0 5 2 1M623 410l-1 0-1 5M638 423l-1-2-3 0-2 4 3 2M650 408l1 3 1 1M624 407l-3-3 0-2 2-2M644 407l-2-5M719 464l1-2-1-5M678 532l1-2-1-3 2-4M627 534l1-3 6 1 2 2 3-1 4 3M716 540l2 0M722 492l-1 1 2 4M717 486l4 0M760 484l1 0M686 578l-1 4 3 2 0 4M716 587l-1 4-3 0M692 592l6 1 1-2M698 593l0 2 3 3-2 4-5-3 4-4M721 600l1 2-5 3M733 539l3 0M579 423l-1-3-5-1-1 1 0 3-2 1 0 3M596 392l2 2 0 2-3 3-1-1M678 386l1-1 2-4M699 417l-5 1M670 455l-3 2M665 445l-1-2M685 444l-4 2 2 5 0 2 4 2M688 382l0 1 1 5 1 1 5-2 2 2 2 1 2 4-2 1-5 0M654 449l-2-1M656 461l-2 5M559 429l0-3-1-1-3 0M601 406l3-1 3 2 4-4 2 1 3-5 0-1-6-1M592 404l-2 6M666 563l0 5-6-1 0-4 2-1 4 1 1 0-1-6 3-1 4 2 0 1-3 4-3 0M660 567l-1 3 3 3 1 0 3-5 3 2 1 0 3-4 3 0 1 4 2 2M658 544l0 6 2 1-1 5 3 1M665 520l4 4M658 531l-1-5-4 1 0 5M677 561l-4-2M675 554l-2 4M670 552l-1 4M564 506l5-3M563 518l0 1-2 4 3 3-3 4-3-3-2 0M626 545l0 1-6 2-1-2-4-1 0-2 3-3-1-3-3-1-2 4 3 3M627 551l2 4-1 2 2 5 4-2 2 2 4-3M634 552l4 0 1-5M645 536l1-4-4-2 2-4 4 1 0 5-2 0M615 528l-2-1 0-6-5 2 0 5 1 1 4-2M618 540l3 2M609 533l0-4M605 482l0 1M606 522l-1-3M615 513l-1-1M655 501l1-5-4-1M646 520l-4 3-4 4-2-1M603 593l0-3M534 558l2-4-2-2-4 0M557 565l0 4-5 1-2-3M559 570l3-3-1-3M597 567l5-2-1-4-4-2M591 570l-3 4 6 2-1-6M577 583l-4 1M577 588l1 5-4 1-3-3-3 2 0 3 2 2 4-3 0-1M557 521l3 2 1 0M546 560l-2-1-4 2-1 0 0-6 5 0 2-2 4 1M562 600l0-2 1-2 5 0M691 403l-1-2M707 405l-2-1-4 3M759 386l-1 4 5 2M683 523l0-1M726 502l-4 2M653 604l-6-1-1-2-5-1-1 0-1 3 3 4 3 0 2-4M688 584l5-2M688 601l0 4-3 2-4-2-3 4M597 414l1 0 2-6 6 3 1 0 2 0 4 4 3-2 0-3-3-2 0-4M609 411l4-3M638 443l1-1M640 600l-3-2 1-5M602 515l-3 0-1 5 1 1 1 2M601 509l-4 0M589 534l-2-5M617 508l2 0M650 533l-2-1M540 549l5 2 3-4M551 547l1 0 2-4-3-2-3 0M543 565l-3-4M575 560l-3-4M587 574l-1 4 4 2 3-2M590 541l-3 0-3 4M589 547l-4-2-3 4 4 4M582 603l0-3-3-1-3 1-2 2-1 0M572 517l2-1M758 390l-1 0M704 386l1-3M703 401l-4-1 0-5M743 401l1-3-2-3 0-1M616 410l3-1M672 581l-1 0M693 600l1 5 1 1 4-2 2 1M688 605l2 1M640 547l4 4-1 2 2 3-2 3M654 565l-1 2-6 0-1 0-6 4-1-1-2-4M601 540l-1 0 1 6M614 551l2 1M593 586l-3-2 0-4M582 600l2-1M579 593l1 0 4 2 1 3M622 591l1 2-2 3M632 602l-6-1M550 603l5-4 3 4-4 3M579 555l1 2M550 534l2 1 1 2 5 2 0-1-1-4-2-1-3 2M551 541l2-4M584 529l-2 4M555 599l0-2M715 384l1-2M664 585l-2 3M654 598l1 0M621 569l4-1 0-4-6-1M602 560l4 0M607 565l4 3M583 582l1 2M563 542l-2-4 2-2-1-4M573 538l-2-4M668 588l-2 3-3 0-3 3-2 0M620 570l1 4 5-2M620 584l0-2M636 580l1-1 0-2M660 594l2 3M678 601l-3 2-4 0-2 1 3 5M671 597l-6 1M631 567l0 4" stroke="#aa3eaa" stroke-width="2.20" stroke-linecap="round" stroke-linejoin="round" fill="none"/><path d="M533 462l-1-4 0-3 1 0 1-6-3-2 2-5 3-1 3 4-1 3-1 1 2 4 4 0 0-3-5-2M536 601l-3 4 2 2 4-1 0-2-3-3 0-1-5 0M767 421l-4-2M753 604l3 3 3 0 1-1 6 1 1-3 2 0 3 4M541 482l0 1-4 2M532 515l1 0 3 5 2 0 4-4 3 2 1-1 2-4 0-3 0-1-2-3 3-4 3 2 0 4-4 1M530 440l3-5-2-2 1-3 3-2 1-2 3-2-1-4-2-1-3 4 3 3M539 458l5 0 1 0 0-3-2-2M772 441l-5 0-1-1M769 604l2-3-1-2-5-1-2 3-2 0M757 599l1-1-3-4-4 0 0-1M721 527l0 1M719 534l1 2 4-1 1 5-6 1-1-1 2-4M695 493l1-2-3-4-4 3-2-1-3 5-3-1-1-4 4-3 2 1 5-5 2 1 4-4 0-2-4-2-3 1-1 3 2 3M699 496l0 3 2 5-4 4-2-1 0-7 4-1 6-2 2 3-1 2-4 2 2 5-1 2 1 2-3 3 0 2-6 1 1 4-5 2-2-3 1-4 5 1 1-6 1 0 4 3M758 598l3-4 4 2 0 2M563 493l-4 3-4-2 4-4 4 1 0 2 2 2 4-2 0-3-5 0-1 1M588 473l6-3 0-1-4-2-4 2M584 469l0-6 3-1 2 1 1 4M638 469l3 0 2-1-2-6-4 0-1 4M536 407l0-1-3-1-1-1 0-3 3-4-1-1-5-1M544 458l0 3 3 3M536 441l1-2 0-4M551 446l3 3-3 4 1 2 5 0 1-3-3-3M549 452l2 1M562 463l-5-2 1-4 5 0-1-4-3-2-1 1M557 461l-2 1-3-5 0-2M680 511l-1 5M687 510l3 0 3-3-3-4M572 482l3 1 2-4M565 495l0 3-4 2-1 0-5 2-2-4 2-4-2-2-4 0-2-3-5 0M768 399l-4-1-1 0-4-1 0-1 4-4 2-1 1 1-2 6M770 417l0-1-5-3 0-3M763 408l-4 0M760 424l-4 2-1 2M749 597l-6-2-1 3-5-4 1-4 2 0 4 1-1 4M689 522l-6 1 1 3 3 1 4-2 2 5 3 0 2-1M698 554l1-5 5 1 0 1-1 4 2 1M703 533l-1 4-3 4-6-2 0-1 4-3 5 2 4 2-2 5-1 1-4-1-1 1 0 3 1 1M704 526l0-2M725 514l-1-1 2-4 3-1 1 1 4-2 3 2-1 4M739 485l0 2 3 4-1 2-3 0-4-3 0-1 5-2M743 517l-2-4 3-3M747 516l2 4 4-1 2 5 5-3-2-4-3-1-2 3M745 583l5-1 1-3-3-2M745 591l1-3 6-1 0 1 5 2 0 1 4 1 2-2 3 1 2-3 0-3-4-1-2 4 1 2M752 572l1-2-2-3-4 1M770 599l1-5-4-1-2 3M755 516l-1-1M769 510l1-5-5-1 1-5 4-1 1-1 0-2-3-2-1-4 4-1 0-2-1-3-4 0 0-6 5 0M768 540l5 1M766 534l-3-2 0-3M538 491l-1 2M535 512l4-3-2-4 1-1 1-6 3 0 1-3M624 476l-3 2 1 5 5-3 1 1 0 5 4 2 1 0 0-6-5-1M656 398l2-5 4 1 1 3-5 2-2-1-2 1-2-2 1-6 4 1M662 394l2-3-4-3 3-5 0-1M672 408l-2 3-5 0-1 4-5-2-1-3M641 469l0 5-3 2 1 4-1 1M715 438l2 4 4-1M717 442l1 5 1 0 5-1 1 5 6 0 1 2 2 1 1 4-2 3-1 1-4-3-1-1-1-1-1-6-5 1-1 0M562 439l2-2-2-3 0-2-3-3-3 2 0 2M536 419l-2-2-3 0M534 417l2-4-6-2 3-6M546 433l-1 3-3 4M562 453l4-2-3-3M595 472l0 2M577 472l-3-3M580 479l1 4-3 2 1 5 4-2 0-4-2-1M571 467l-3 1M667 482l-4-2-2 1-4 4-2-1-1-1-5 0 0 4 5 1 1 2 2 1 0 4M671 489l1 4M663 480l1-5-4-3 5-5 1 0 5-3-1-3 5-3 1 6-4 0-1 0M678 495l3-2M701 518l1 1M691 513l-1-3M670 504l1 3M677 488l3 1M679 475l1-6-2-1-3 1-1 6-3-1M683 477l3-5-6-3 5-4-4-4-3 4 0 3M552 504l3-2 2 5-3 2-2-1M561 500l1 5-3 2-2 0M572 489l4 3 3-2 4 5-3 3 0 1 3 3 1 0 2-4-2-3-1 0M641 474l4 1 2-1M548 525l-3-2 0-5M536 600l1-1-5-5 6-2 0-2-4-3-4 3M616 605l1-2-2-2-3-1M756 438l-2-3-1-2M763 447l3 0 1-1M770 453l-2 0-7-1 0 2-4 3-1-1M624 387l-2 1-4-3 4-5M726 476l0 1 2 5-2 2-3-1-1-3 4-3M732 462l-1 4 4 3M746 475l4-1 2-3-2-3 3-5 2 0M726 457l-6 0M743 602l-3 2 0 4M723 548l-6 1 0 3M725 549l1 1 1 6-5 0M704 513l2 1 0 4M698 524l3-3M735 503l-3-2 3-4-3-3 0-2-4-2M732 494l-3 2 1 6 2-1M713 474l-3 4 3 2-1 4-4 2-1-2 2-6 1 0M766 483l-2 1 2 4-5 4 3 3 0 2-4 3 4 4-1 1 2 5M738 572l-5-2M726 579l-1-1-5 3-1 0-5 3-1 0-4 3-3-4-5 0 4 7 4-2 0-1M725 578l-4-3M734 605l-4 1-1-1M758 540l0 1-3 3 0 3 3 1 4-3 2 1M767 573l0 4 2 1 3-2M759 565l3 3 1-1 6 1M732 533l3 1 4-2M732 551l3-5 4 2-2 5-4 0M542 534l2 2 2 1 4-3-1-4M580 443l3 0 3 3 4-1 0-1-4-5-3 4M590 445l1 5 4-1 0-5 5 0 1-4 0-1 3-4 4 2-2 4-5-1M586 438l5-1M590 432l3 3M563 385l-1-1-3-1-3 2 3 5 2-1 2-4M564 391l4-4 1 0 4 0 1 1 6-3-6-4M639 385l3 1 3-4 3 0 2 1M638 392l3 1 1 0 2-5M657 410l-5 2 0 2-4 4 2 2 0 5 3 1 3-4 3 1 2-4M671 400l3 2 1 0 4 2 0 1-2 4 6 2 3-4-1-1-6-1M675 435l-1 3-6 0-1 0 0-3-2-2-4 1-2-1 1-4 5-1 5 0M700 433l1-1 3 1M696 437l-5 3-1 0 1-6M698 442l-5 0M650 425l-3 1 0 6 2 0 2 4 2 1 2 0 2-3-3-4M616 433l2-2-1-3-4 0-2 5 5 0 1 3-4 3-3-3 1-3-4-4-3 1M617 428l1-2 5 1 1 3 4 2 1-1 0-5 0-1-5 2-1-5-2-1-2-4M635 458l2-4 4 0M624 464l-1-3M629 444l2-2 3 2 4-1 1 5 5 1M699 467l0 3 5 0 1 3-2 2-4-1-2 3M649 456l0-6 3-2-2-4 3-2 6 1 1 1 4-1 2-4-5-1-2 2-4-3M685 465l1 0 2-6-1-4 3-2 3 1 1 2M675 458l0-1 1 0 5 3M577 456l3-4 3 4-2 5 3 2M542 390l4 6-2 2 0 1M613 449l-2-5-2 0-1 5-5 0-1-2 5-4 2 1M604 435l-1 0M592 461l0-5M593 455l-1 0M686 568l-3-3 0-2-5-3-1 1-1 5 6 0 1-1M677 546l-1-2 4-3 2 0 2 4 4-3 3 0 1 2 6 1M576 492l0 2 4 4M628 486l-3 1-3-3-3 5 5 2-2 5 5 3 2-1 1 1M611 485l-1 1 3 4 4-2-2-4-4 1 0-4M617 488l2 1-1 5M648 489l1 3 2 1 1 2-2 4-3-1 0-3 2-3M635 496l3 3 0 4-5 2-5 0-2-4-4 3 0 1 4 3 2-3M541 585l3-5-2-3-4 3M601 607l4-3 1 1 4 0M608 598l-1-3M751 414l-3-1-3 3 1 4 3 0 2 3-2 3 0 1-1 2-6 0-1-3 3-3 0-1-5-3-2 1 1 5 3 1M770 386l-4 0-1-1 0-2M707 430l-1-3 3-3 1 0 2-2-1-5-1-1-1-2 3-4 2 1 2 4-1 0-4 2M723 403l-4-3 2-4 5 2 1 2-4 3-1 2 2 3-2 3-1 2 2 3 6-1 0-3-5-4 5-3-1-4-1-1M739 419l0-1 2-3 0-2 2-2M744 423l5 3M742 434l-1 3M625 420l-2 2M718 475l0 4-1 1-4 0M727 438l1 2M693 483l0 1M702 483l5 1M721 573l4-3-5-4M680 541l-2-4-3 1-1 4 2 2M678 537l1-3-1-2-6-1-2 5M661 512l2-5 0-1-5 0M702 504l-1 0M686 537l4-2M703 475l0 3M707 491l3 3-1 5M760 492l1 0-1-7 1-1 3 0M764 504l1 0M734 567l-4-3M705 590l0 1-1 0-5 0-1-4-3 0-3 3-4-2-1 1-2 6 2 1 4-2 1-2 0-2M698 570l-4 0-1 5 3 1 1 5-3 1-1 0-2-5 2-2M699 566l4 1M750 524l3 1M769 578l2 5-3 2M741 559l1 0 3 6 4-3M755 554l4-3-1-3M762 552l0 5-7-2-1 4M617 476l1-4 2-1M611 475l0-3 5-1 2 1M591 421l2-1 0-4 4-2-3-3-4-1-1 1 0 3 4 2M611 427l-3 0-2-4M597 433l-1 2M558 391l-3 1M582 399l-4 1M587 385l-2-3M647 394l-5-1M663 383l3 3M676 457l3-4 4 0 0 6M680 436l4-3M670 444l-5 1 0 4M674 390l-2-2M723 389l1 1-3 6-3-2-4 2 1 2-3 3 0 2-5 2 0 2-3 5 5 2M724 390l3 2M685 406l0-4M657 434l2-1M665 450l3 0M622 432l2-2M686 465l2 1M585 403l-5 3M586 409l3 2M540 396l4 2M553 394l1 3M680 557l-2 3M557 520l0 1-3 4-3-1M552 514l-4-1M576 494l-3 3M624 491l1-4M613 494l-1 0-5-4 3-4-5-3-2 4 3 4 1-1M601 502l2 4 3 0 1-3M603 506l-2 3 3 3-2 3 2 3 1 1 3-3-1-4-3 0M645 503l0-3-4-2M651 510l2-3M649 516l-1 5-2-1-2-5M533 577l4-4 4-4 4 2 0 1-3 4-5-3-3-4-3 0M542 577l0-1M536 565l5 2 2-2 3-1 0-4 4-1 3 1 0 3-3 4-2 0-2-3M765 472l-4 0-3 4 3 2M758 476l-1 0M718 390l-1-1M723 416l-1 3M729 412l2-1M689 408l2-5 5 2-1 4 1 1M696 412l-4 2 0 3M712 401l-3-2 0-3 3-2 0-2M732 389l0-1M735 394l4 3-1 3-4 0M735 415l-3 2M728 421l-2 1M734 435l5 2M615 382l2 3-2 2 1 5-5 1-2-3 1-3 5 0M622 410l-3-1 0-4M633 431l-4 0M647 406l-3 1 2 5-1 1M628 405l-4-5M637 398l2 0M669 536l-5-2M685 531l-3-2 2-3M627 534l-5 1 2 5 5-2 2 4-5 3-3-4 1-1M722 492l4 1 1 3 2 0M722 489l-1-3 2-3M718 479l4 1M684 576l-4 1-1 4-3-2-1-3 4-1M701 582l-4-1M687 589l-6 0 2-6 2-1M691 594l3 5-1 1-4 1M705 591l4 4 2 0M709 603l-4 0-1-5M768 588l4 2M587 416l2-2M670 385l0-4M686 438l0-4M704 419l6-3M674 450l2 0M689 448l-1 1 2 4M688 449l-5 2M665 428l0 5M650 444l-4-5M661 463l-3 4M559 426l5 0M596 408l-2 3M598 394l4-3-4-3 2-4-1-2M662 562l0-5 4-1-1-3M651 538l-1-5 3-1 3 1M654 550l-3-5-3 1-1 3 2 3M663 527l0 4M664 531l5-2M682 566l0 5M674 552l-4 0-1-1 2-4M670 563l3 3M567 511l4-2 1-2-2-3M599 490l2-3-2-2 1-3M631 542l3 1M627 551l0-3 5 1M627 548l-1-2M639 533l1-3M616 531l-3 4-4-2-2 1-1 4 6 2-3 5 0 1 5 0 1-1M614 536l-1-1M606 538l-1 2-4 0-2-7M608 528l-4-1M616 514l2 4-4 3-1 0-2-4 4-4 1 1 6-2 0 6M622 505l-3 3 3 4 3-1 1-1 6 1 1-1M652 502l-2-3M650 523l0 2 3 2M599 597l-3 0-3-4 2-3 2 0 2 6M534 552l2-4M557 565l2-2M562 567l3 1 3-3M591 564l-2-4-6 1M597 568l2 4-1 2-4 2-1 2 3 3 0 2-3 3 0 1 2 3M577 583l0-1 6 0 1-2-4-3-3 2-3-2M588 574l-1 0-3-2-4 1-1-1M553 560l2-2 4 2M548 567l-3 4M561 602l-2 1 0 5M715 415l3 5M745 405l-1 0-1-4-4-1-1 0M640 402l-3 2M682 529l-3 1M663 573l3 3 2-1 3 1 0 5-1 0-4-3 0-2M653 604l1-5 0-1-3-6 1-1M681 589l-1 0 1 5 2 1M682 600l-2 2-2-1-2-3 1-3 4-1M593 420l4 1M606 418l-3-1M641 600l2-5M652 573l-4 0-1 0 0 5 2 1M604 518l-5 3M589 534l2 3 4 0 2 3-2 3-3 0-2-2 1-4M614 546l0 5-1 1-5-3M625 511l3 6M587 606l-2 1-3-4-4 3M539 554l0 1M551 553l5 0 1 0 6 2 0 2M565 568l0 2 5 1M575 560l0 1M589 560l1-1M595 543l2 4M589 547l-2 6M570 517l2 0 1 5M759 468l-2 0-3 3-2 0M709 399l-4 3-2-1 1-7 1 0 1-5-2-3-5-3-4 2-3-3M706 389l4 0M697 404l1-3 1-1M610 387l-1-2-5-1 1 7-1 0-2 0M674 585l-2 3-4 0-1-3 3-4M674 575l-3 1M699 602l0 2M637 605l-5-2-1 3-2 1-4-2-1 1-4-4 2-4 4 2 0 1-1 4M638 552l1 1 4 0M598 520l-3 0-2 3-1 0-5-3 2-2-1-5M607 550l-1 4-3 1-2-1M596 597l-4 3M593 587l-5 3M579 599l0-6-1 0M584 595l3-4M623 593l4 0M605 571l-1-5-2-1M548 599l2-3M603 555l-1 5-1 1M552 547l5 3 0 3M561 530l0 1-4 3M586 523l1-3M750 468l-3-1M609 385l2-4M647 595l2-2-5-4-1 0-1 4M629 596l-3 4M625 568l1 1M612 558l4 0M590 584l-4 1M624 606l-2 2M561 538l-3 0M555 533l-1-4M630 562l0 1M621 574l0 1-1 1 0 5 0 1 6-2M639 570l-5 2 0 3 3 2 4-4 2 6-1 1 0 2 4 4 2-1M611 570l3 3 0 2 6 1M647 573l-6 0M670 594l-4-2-2 5M631 577l-2-2 0-1M669 604l-3 0 0 1-1 0-5-2" stroke="#8c2896" stroke-width="2.20" stroke-linecap="round" stroke-linejoin="round" fill="none"/><path d="M533 462l4 1 2-5-1-2-5-1M539 604l4-1 2 3 1 0 4-3 3 3M768 430l-3 5 1 2 5-2-1-5-1 0M753 604l1-3 3-2 4 2-1 5M533 475l-2 1M530 384l4-2 2 3 3 0 2-2 6 2 1 3-6 2-1 0-2-5M533 435l4 0 1-1 7 2 4 3 2-1 5 1 1 0 5 0 0 3-4 2-2-2-5 2-2-3-5 2 2 4 2 1 3-2 0-2M537 469l1-4M759 438l-3 0-1 4 5 1 1 3-4 2-2-2 0-4-3-1-4 3 0 1-6 2-1-3-4-2-1 1 0 5-4 2-2-4-4-1M767 604l-4-3M721 527l2-2-1-4 1-1 3 0 2 5 1 3-4 3-3-2-1-1-5 1-1 4 4 1 3-5M723 525l5 0 4-2 1 0 2 5 3 0 1 4 5-1 0-4 3 0 3-3-2-3M715 533l-2 1 3 6-4 2-1 0-3-4 2-4 1 0 2 0M695 493l4 3 2-3-1-4M701 493l3 1 1 3M536 488l2 3 3 0 1-2-1-6M564 490l-1-4 4-2-1-3 3-3-3-4 0-1 2-1 0-4-4-2 0-1 5-3 2 1 1-1 5 2 0 1 3 4 3 0 0 5 2 1 3-1 0-1-2-4-2 0-1 0M585 475l0 4-5 0-1 0 1-4-2-3-1 0-4 4 4 3 2 0M638 469l-2 2M632 467l-2-5 6-2-1-2-6-3-1 3 2 4-4 2 0 5M536 385l-3 4 2 3-1 4M545 458l4 1 0 3M539 445l4-2 1 0M543 443l-1-3-5-1M569 478l1 1 2 3-3 3-2-1M562 463l1 1 1 1M680 510l0-1 5-3 2 4-2 2-5-1 0-1-4 0-2 2 2 5 0 4 4 2 3-1 0-4-4-2-3 1-5 1-2-2-1 0-3 4-3 0 0 6-5 0 0-3 4-4 1 1M685 506l1-1-5-4 5-4-2-3M569 485l1 4-1 1M570 489l2 0 3-5 0-1M768 399l0 4 1 1 3-1M768 403l-4 0-1 5 2 2 4-2 0-4M769 408l3 2M765 413l-2 1-4 0-2 5-1 0-4-3-1-2 2-2M693 499l2 1M746 603l-3-1-1-4-7 3-1-1 0-5 3-1M696 555l1 4 2 2 1 0 3-6-5-1-2 1-2-1-4 1-2-4-4 1-2-1 1-5-6 0-1 1 4 4 2 0M700 561l5 2M706 528l5-2 0 8M732 523l-1-3-3-1M739 485l3-2 1-2-4-3 1-3-5-4-2 2 0 4-7-1 3-5 4 2M742 483l3 2-1 5-2 1M743 517l-5 2-3-4-1 0-3 5M744 579l1 4-4 2-3-1M743 578l0-6 2-1M752 586l5-3 1 4 4 1M758 576l1 0-2-5M770 520l0-4-3-3-3 3 1 3-3 2 1 2-1 4 1 2 5-1 1 0 0-1-1-3 2-4-5-1M761 514l0-2-1-1M767 511l-2-1-4 2M763 538l-3 0-1-4-2-1-3 3M768 534l0-6M541 491l2 4 4 0 2 3-1 2 1 2M535 512l6 3 2-3-2-3 3-4-1-1-5 0M631 476l1 0 2 6-1 0M652 397l-4 0-1-3 2-4 4 1 2-7-1-1-4 0-2 6 1 1M663 397l7-1 4-2 0-4 4 0 2 2M672 408l5 1 0 6-2 1-3 0-2 2-6-3-2 3-1 1-4-3 2-3M637 462l-1-2M715 438l-4 1 0 4-4 2-2-3-6 2-1-2 1-2 2-2-1-5-4 3 0 1 3 3M711 439l-2-2M558 444l3 4-2 3M538 420l3-3M538 431l0 3M535 397l1 1 3 3-3 5M594 470l1 2 6-1 1-4M601 471l2 4 1-1 4-4M578 472l2-3M577 464l4-3-4-5-3 0-2 6M571 472l-3 0M667 489l-1 2 2 5 1 0 3-3 4 1 1 1M669 481l1 0 4-1 3 2 4-5-2-2-5 0 0 5M664 475l1 0 4 2 1 4M676 503l-1 5 1 2M697 513l1-3 5 1M693 507l2 0M666 503l-2 0-3-3 0-4 7 1M675 487l2-4 0-1M685 479l4 0M675 469l-3 0 0-5M546 506l-2-1M565 498l3 2M598 477l5-2 1 6-4 1-2-3M639 480l5-1 2 3-3 3-3 0-2 3-5 0M548 525l3-1 0-5 1 0 5 1 1-3-1-3-3-1-2 1 0 5M537 599l2-2 0-5-1 0M755 446l-5 2 4 4 3-2 0-2M750 448l0-1-2-2M746 452l0 1-2 4 2 3M768 453l-3 6 3 3 1-1M624 387l3 4 5-1M744 457l-3 0-1 2-5-1M742 474l-2 1M746 479l3 2 4-2 1 2 6 3 1-6 5-1-1-5 2-2 2 0M709 465l-4-3-2 1-2-2-5 0-1 3 4 3 4-4 1 6 5-2 1 2M730 591l-1 0-1-6-2-1 0-5 4 0 2 3-4 3M723 548l2 1-4 4M726 550l2-1 4 2 1 2 2 6M698 510l-1-2M696 530l1 5M739 502l1-1-1-1-3-3M715 468l1-4-3-2M734 515l-2-2-2-4M748 485l2 1 0 3-2 2 1 5 4 0 4 0 3-4-5-2-1 1-1 5M759 576l2-1 4 3-2 4M730 579l1-4M734 600l-5-1-2 0-5 3 2 3 5 0 0-6M724 605l-1 4M757 531l1-3 4-1M767 573l-4-1-1-3M740 567l-2-2-1 0-3 2-1 2M730 535l1 2-5 3 1 2M767 593l-1-2M530 533l4 1M586 439l0-1-1-2-4 0-3 4-4-3-1 0-2 3M578 440l0 1-4 2-1 3 2 2M585 436l1-4 4 0 3-5-2-1-5 0 0 6-7-2M591 426l0-5-2 0-3 1 0 4-5 0M556 385l-1 0-3-3-3 1-2 2M576 399l-1-1M642 386l2 2 4 1M635 395l2 3-2 3 1 3M655 405l-2 0M675 435l2-1 0-3-3-3 3-5 0-1 5-2 1 0-1-5 2-2-1-2M677 434l3 2 1 3-2 1-4 0-1-2M696 436l-2-2M699 444l0 2-1 0-5 1 0-5-2-2M657 416l-1 1-1 4 1 1M647 432l-2 1-4-3 1-3 5-1-2-5-4 2 1 4M618 431l4 1 0 3-2 3 0 2 5 0 2-3-5-2M641 430l-1 0-3 3-2 0-4 5 7 1M628 458l-4 0M625 449l4 0 0-5-3-1-3 2M626 443l-1-3M696 461l-1-4-1-1-4 3-2 0-5 0-2 1 0 1M650 459l6 1 0 1 5 2 1 0 0-6-5 1-1 2M678 465l-2-1M572 452l3-3 5 3 2-2 3-1 2 2-1 5 1 1 5-1 0-1-2-4-3 0M565 444l2 0M541 391l-1 5-4 2M601 439l-4-2M608 437l2-1M595 462l2-4-4-3 4-4 3 3M643 485l2 4 3 0 1-2M683 546l1-1 5 4M554 509l0 4M585 489l1 3-2 3M621 478l-4-2-2 2 2 4 5 1 0 1M613 490l-1 4-4 3M661 500l-4 1 1 5-1 2 1 3-3 4 6 3 2-4-2-2-3-1M645 489l-3 3-3-1-4 4M534 587l0-2-2-3 1-4 5 2 0 3-4 2M598 603l-4 0-1 4M605 604l-1-3M609 598l5-5 0-1 4-2 0-5 2-1 3 3-1 4-4-1M752 416l-3 4M766 386l-1 5M711 432l2-2 4-1 3 5-4 2M719 400l-1 0-2 4 1 2 5-1M744 422l2-2M738 425l-3 1-3-3M760 433l-6 2-3 3-3-1-3 3-1 0M633 420l-6 0 2 5M736 448l4 2 2-1 0-2M727 438l1-4M697 479l5 2M688 470l0-4 5-2-3-5M725 570l1 0 1 0M674 542l-5 0 0 2 2 3 5 0-2 5 1 2 3 0M691 532l-1 3 3 3M663 514l2-1 3 3M699 544l0-3M704 544l5 1M705 473l2 0M710 494l3-1 2-3 1-3-4-3M767 489l-1-1M764 497l2 2M738 565l3-6-1 0-1-5-2-1M706 583l2-3M698 570l1-4-1-1M700 572l-1 3 3 2-1 5 0 1-3 4M742 525l2 2M760 561l0-1 4 3 2 0M742 559l2-1M755 554l-2-4 2-3M597 450l-2-1M615 478l-1 0M583 456l3 0M589 421l-2-5-4 1-1-1-2 1M613 424l-2-3-4 1-1-4 2-1 4 0M595 427l3-5 2 0 3-5-1-2-4-1-1 7 1 1M582 399l0-3 6 0 1-3-5-3-2 5M580 385l1-3M587 385l0 1M641 393l0 3 5 3-4 3-2 0-1-4 2-2M683 420l4-1 2 3M675 457l-3-2-2 0-2-5 3-2 3 2-2 5M681 439l2 0 3-1 4 2-3 4 2 4 3-1 1 0M671 445l0 3M678 390l0-4-2-1-1-5M723 389l-5 1 0 4M727 385l3-5M679 404l3-4M653 437l0 5M661 449l-1-5M637 433l1 4M573 437l-3-4 2-3-2-3-5 1 0 2 4 3 1 0M591 404l1 0 3 1 1 3 4 0 1-2-3-4-3 3M581 410l1 6M546 396l1-1 4 5M668 541l-3 0-4-3-4-2-1-3 2-2 5 0 1 0 0 3-3 4-2 6-1 0-4-1M686 561l-3 2M558 517l5 1 2-5M584 502l4 3 2 0 6 3 1 1-1 3-1 1-6-1 1-7 1-3-3-4 3-4 1-1 3 4 4-2 1-2 5-1 1 5M586 492l5 2M622 496l-1 1M599 495l5 4M601 502l2-3M606 506l3 3-2 3M645 503l2 2-1 4 3 2-1 3 1 2 5 0 1-1-4-5-2 1M648 514l-4 1-1 0-2 1M647 505l4-1 1-2 3-1 2 0M539 597l1 1 3 4 0 1M530 562l5 2 1 1-2 4M546 517l5 2M767 470l-2-5 3-3M761 472l-2-4 3-3 3 0M724 432l4 1M722 411l-5-3 0-2M728 401l5 0 1-1-1-5M690 409l5 0M701 408l0-1-4-3-1 1M706 427l-5-1M739 390l3 4 5-2M741 413l-5-2-1 4 4 3M750 402l3-2 4 3 2-6M735 426l0 3M734 381l1 2 5 0M627 412l2-2-1-4M645 420l2-2M632 425l-3 1M651 411l-5 1M630 404l3 2M718 447l-5 2M679 534l5 2M627 534l2 4 6-2 2 4 4 1 2-5 2 0 3 3 3-1 2 1 4-3M634 532l0-5M722 492l0-3 5-2-1-3M717 480l0 6-1 1M755 487l-2-2M690 576l1 1M699 575l-3 1M685 595l-2 0-1 5 6 1 1 0-2-5M695 587l-1-5M715 597l0 2M753 550l-3-1M583 420l-3 3M594 387l3 1-1 4-4 2M672 387l4-2M683 439l2 5 2 0M687 419l1-1M668 460l-5 4 2 3M692 447l2 4-1 3M679 385l4 2 1 2-1 2M661 434l0 4M657 451l-2 3 2 4M562 432l3-2M569 433l-3 4M595 399l3 3 4-2M572 423l3 2M660 563l-2 0-4 2-3-5 0-1-2-3M648 539l-2 5-3-1-3 4-1 0-4-2-3 4 2 3-2 3 2 1 4 1 2 2 2 1 0 3 4 4 2-5 3-2M662 526l1 1 5-2M653 520l-3 3-2-2M659 544l4 0M677 570l-3 2 0 3 1 1M669 551l-2-1-1-3-2 0-4 4M666 557l0-1M566 513l4 4-4 3 2 5 5-3 2 2 4-3 3 2-1 4 3 2 3 0 1-1-2-5-4 0M598 502l-2 6M622 535l-1-1-1-2 2-3M627 551l-5 2 0 4-3 2-3-1 0-6 4-1 2 2M620 548l0 3M620 532l-4-1-1-3 4-3M621 534l-4 3M607 534l-6-2M601 487l2 0M608 523l-2-1-3 2M611 517l-3-1M626 508l0 2M663 507l4 3-2 3M642 523l2 3M538 537l0 4 4 0 2 2-4 5-1-1-1-6-4 0M536 554l3 0 1-5 0-1M557 565l-4-2M595 564l2 3 0 1-4 2-2 0-2-3 2-3 4 0 2-5-1-2-6 2-2-4 6-3 2 5 5-3-1-2-5-2 2-3 4-1 1 1 1 1 4 2 1-1 1-3M589 567l-4 0 0 1-6-1-1-1 0-1-3-4 5-4 1 0 5-4 1 0 1 2M577 583l1 4-1 1-5 0M578 587l4 0 1 3 4 1 1 0 0-1-2-5-2-1-2 3M599 572l5 0 1-1 2 1 4-2 0-2 3-2M550 559l0-5 1-1 0-6-3 0-1-3-3-1M568 601l-1 6-2 0-4-5 1-2 6 1 2-1 0-2M763 458l-3 3 2 4M707 407l5 3 1-6M752 387l0 1M621 402l-5-3M721 493l-1 0M659 570l-1 0M653 604l1 1 3 1 3-3 0-2-5-3 3-4-2-3M683 583l-4-2-2 4-3 0-2-4 4-2M705 603l-4 2 1 3M606 411l-4 4M681 446l-1 0M639 603l-2 2-1 4M659 556l-3 1-1 0M609 509l1 0M589 534l-4 2-1 1M609 545l-3-2-4 4M650 525l-2 2M614 592l-2-2M547 544l1-3-2-4M541 569l0-2M575 560l-4 3-2-5 2-2-1-2M575 550l0 4 4 1 2-6-4-2M585 536l-3-3-4 0 0-5 3-1M589 547l1 0 5 3M576 545l-4-1-2-4-2 0-1 2M575 524l0 2-2 3 0 3-2 2-2 0-2-3 1-4-1-2-3 1M760 461l-2 0M709 396l-4-2M705 402l0 2M698 401l-5-3M616 398l2-5M677 585l2 4 1 0M669 570l-1 5M679 589l-5 2 3 4M632 603l0-1 2-4-1-1 0-6-5 0-1 2 2 3 4 1M647 549l-3 2M599 515l-3-3M613 552l-3 4-2 0-2-2M593 593l-3 0-1 4M576 600l-2-5M562 598l-6-2-1 1-5-1 0-3M580 593l3-3M617 603l3-1M543 602l4-2 1-1-3-4M577 579l0 3M610 556l2 2-1 3-3 2-2-3 2-4M554 543l3 0 1 1M595 520l-2-3 2-4M588 528l1-1M712 385l-4-2M666 578l-2 1-1 4 1 2 3 0M643 589l-4-2 0-2-3-1 0-4-5-1-1 2 1 4-4 1 1 5M593 517l-4 1M604 566l3-1 1-2M611 561l4 4 3-2 1-4M586 578l-2 2M577 537l1-4-5-1M570 540l3-2 2 0M672 588l2 3-4 3 1 3 0 1 5 0M628 557l-4 1-2-1M623 587l3-1 1 0M631 585l2 1M569 534l-3 3M647 578l-4 1M671 598l0 5M629 575l-4 3-4-3M675 603l0 4" stroke="#c65ab8" stroke-width="2.20" stroke-linecap="round" stroke-linejoin="round" fill="none"/><path d="M532 466h0M531 463h0M539 471h0M534 607h0M533 605h0M536 607h0M771 424h0M766 424h0M771 427h0M751 605h0M756 606h0M541 481h0M543 483h0M534 472h0M535 521h0M535 518h0M533 515h0M531 383h0M531 446h0M533 455h0M532 457h0M531 438h0M533 434h0M533 462h0M539 457h0M534 470h0M538 466h0M770 432h0M766 437h0M769 436h0M764 427h0M766 441h0M760 439h0M763 440h0M762 607h0M760 607h0M757 607h0M772 607h0M768 604h0M767 605h0M761 601h0M763 601h0M765 603h0M760 600h0M747 604h0M747 604h0M721 527h0M720 526h0M722 524h0M721 528h0M716 529h0M717 533h0M724 530h0M728 526h0M728 525h0M724 525h0M696 491h0M696 493h0M699 495h0M723 521h0M754 600h0M758 598h0M754 594h0M757 596h0M536 484h0M535 488h0M534 482h0M530 486h0M536 477h0M538 484h0M532 475h0M563 494h0M556 494h0M563 491h0M563 491h0M564 488h0M588 473h0M586 470h0M583 472h0M583 469h0M584 469h0M638 469h0M632 467h0M536 413h0M540 407h0M536 385h0M541 383h0M539 385h0M534 388h0M539 453h0M538 448h0M539 448h0M538 455h0M539 458h0M544 458h0M545 455h0M535 449h0M538 444h0M546 447h0M549 442h0M550 446h0M551 445h0M543 443h0M543 449h0M556 442h0M552 438h0M550 439h0M548 453h0M547 464h0M544 460h0M568 477h0M566 480h0M566 482h0M565 485h0M563 461h0M562 457h0M561 463h0M680 509h0M680 511h0M686 511h0M571 481h0M569 485h0M569 489h0M570 489h0M569 493h0M564 494h0M565 495h0M770 398h0M771 404h0M768 403h0M769 395h0M771 409h0M764 407h0M766 403h0M764 409h0M766 413h0M765 412h0M764 414h0M761 414h0M757 418h0M761 425h0M693 499h0M687 503h0M750 597h0M747 604h0M748 599h0M692 525h0M695 521h0M690 523h0M695 519h0M697 554h0M700 560h0M700 561h0M706 528h0M705 532h0M700 527h0M734 527h0M725 514h0M725 514h0M723 518h0M740 485h0M736 481h0M742 481h0M742 516h0M738 519h0M747 515h0M744 580h0M744 579h0M743 584h0M739 584h0M742 578h0M756 589h0M750 582h0M746 583h0M758 585h0M744 579h0M748 578h0M748 576h0M749 573h0M752 573h0M758 576h0M757 582h0M743 576h0M744 572h0M745 571h0M771 600h0M766 598h0M770 599h0M770 517h0M770 520h0M759 519h0M754 518h0M749 519h0M751 519h0M764 519h0M759 517h0M763 515h0M768 514h0M766 514h0M771 510h0M769 510h0M767 511h0M763 538h0M768 538h0M763 538h0M769 535h0M766 534h0M769 553h0M773 541h0M769 535h0M538 491h0M540 491h0M534 511h0M537 498h0M537 494h0M534 493h0M538 501h0M538 504h0M532 488h0M532 493h0M624 474h0M631 476h0M626 469h0M624 472h0M647 382h0M654 391h0M662 394h0M662 395h0M657 399h0M660 398h0M676 416h0M639 469h0M636 465h0M643 468h0M641 462h0M712 439h0M561 439h0M558 444h0M560 444h0M562 439h0M533 422h0M539 423h0M535 425h0M534 429h0M540 414h0M536 413h0M543 428h0M540 424h0M544 430h0M547 433h0M547 437h0M551 436h0M545 434h0M551 434h0M557 434h0M557 436h0M555 433h0M564 437h0M563 435h0M532 395h0M532 401h0M534 390h0M532 404h0M533 412h0M536 407h0M535 406h0M556 450h0M552 455h0M551 453h0M563 456h0M558 456h0M560 452h0M561 448h0M552 447h0M550 453h0M549 461h0M548 458h0M555 462h0M537 435h0M537 437h0M540 435h0M542 440h0M544 436h0M537 435h0M538 433h0M545 436h0M566 458h0M569 463h0M594 470h0M590 467h0M591 467h0M594 470h0M598 472h0M601 470h0M594 469h0M575 477h0M579 478h0M577 479h0M579 473h0M572 477h0M577 479h0M585 479h0M582 469h0M579 471h0M579 467h0M574 469h0M577 465h0M574 463h0M573 475h0M667 488h0M670 489h0M668 482h0M661 481h0M662 474h0M664 477h0M674 500h0M679 496h0M676 503h0M675 502h0M680 502h0M681 501h0M672 493h0M670 496h0M684 503h0M684 499h0M686 497h0M687 503h0M701 518h0M696 515h0M690 518h0M689 517h0M694 513h0M690 510h0M686 516h0M669 504h0M668 497h0M671 489h0M668 496h0M677 488h0M675 487h0M676 488h0M677 482h0M679 475h0M670 481h0M677 482h0M684 478h0M682 484h0M674 473h0M679 468h0M680 469h0M684 471h0M551 503h0M546 506h0M554 497h0M559 500h0M561 500h0M563 499h0M571 489h0M574 486h0M596 475h0M598 477h0M595 481h0M594 481h0M591 477h0M590 476h0M595 474h0M585 479h0M590 479h0M632 476h0M641 472h0M661 496h0M657 491h0M633 479h0M548 528h0M541 527h0M536 600h0M537 599h0M532 594h0M536 601h0M617 606h0M755 444h0M757 448h0M759 447h0M758 438h0M752 447h0M754 452h0M758 451h0M761 451h0M750 448h0M746 452h0M770 454h0M761 452h0M625 387h0M622 387h0M623 388h0M733 475h0M728 473h0M743 457h0M733 461h0M735 456h0M733 454h0M727 459h0M740 459h0M740 455h0M738 453h0M738 474h0M740 475h0M732 466h0M732 465h0M744 474h0M730 467h0M729 471h0M734 478h0M739 477h0M746 476h0M745 474h0M745 480h0M744 456h0M727 466h0M725 470h0M732 451h0M704 462h0M707 463h0M707 468h0M694 489h0M693 494h0M691 488h0M744 592h0M741 590h0M737 593h0M738 590h0M742 599h0M746 596h0M736 595h0M733 589h0M731 593h0M741 603h0M720 548h0M717 552h0M724 549h0M725 550h0M703 511h0M690 554h0M693 529h0M698 530h0M696 530h0M704 551h0M709 550h0M703 555h0M702 519h0M702 520h0M705 523h0M709 521h0M706 517h0M701 519h0M701 522h0M704 525h0M711 525h0M711 526h0M737 510h0M734 505h0M736 503h0M740 488h0M735 491h0M734 489h0M733 495h0M712 468h0M710 469h0M712 473h0M713 474h0M728 518h0M726 514h0M732 522h0M734 515h0M734 507h0M729 508h0M745 487h0M769 477h0M748 491h0M750 489h0M749 486h0M739 571h0M738 573h0M759 576h0M763 582h0M762 575h0M727 585h0M726 581h0M729 588h0M725 578h0M725 578h0M721 580h0M734 598h0M739 604h0M735 607h0M740 598h0M734 600h0M728 599h0M727 591h0M724 594h0M731 606h0M729 601h0M729 605h0M725 600h0M729 605h0M724 604h0M756 534h0M760 535h0M756 539h0M760 538h0M761 538h0M763 532h0M758 528h0M750 531h0M752 530h0M767 575h0M764 572h0M740 569h0M745 565h0M725 534h0M732 533h0M727 549h0M765 597h0M771 594h0M768 593h0M766 594h0M759 592h0M761 512h0M761 514h0M766 510h0M753 496h0M748 492h0M753 496h0M762 527h0M765 529h0M769 527h0M769 528h0M769 528h0M762 521h0M768 524h0M765 550h0M764 549h0M540 527h0M543 532h0M536 520h0M532 527h0M532 533h0M542 497h0M549 499h0M542 494h0M549 501h0M545 506h0M554 503h0M547 490h0M544 489h0M548 493h0M553 492h0M535 512h0M535 512h0M542 508h0M583 444h0M576 449h0M582 450h0M585 440h0M587 440h0M589 445h0M590 445h0M578 440h0M579 434h0M586 438h0M585 436h0M582 436h0M592 427h0M587 426h0M586 426h0M587 432h0M586 427h0M566 386h0M569 382h0M563 384h0M556 385h0M562 387h0M560 390h0M563 391h0M576 399h0M569 387h0M592 382h0M638 389h0M638 384h0M636 383h0M644 383h0M641 386h0M637 390h0M637 393h0M632 395h0M626 386h0M626 389h0M654 387h0M651 391h0M651 383h0M655 384h0M648 382h0M645 388h0M658 402h0M663 397h0M658 410h0M657 409h0M660 408h0M656 405h0M658 411h0M663 414h0M665 397h0M671 400h0M674 402h0M676 435h0M673 434h0M671 431h0M699 434h0M700 439h0M697 438h0M696 436h0M701 443h0M702 438h0M698 442h0M698 443h0M671 417h0M664 415h0M666 416h0M658 414h0M659 418h0M662 419h0M664 415h0M651 426h0M647 428h0M655 421h0M657 417h0M655 420h0M650 422h0M617 432h0M614 433h0M613 428h0M617 430h0M646 426h0M641 428h0M645 422h0M642 423h0M635 458h0M628 457h0M630 462h0M629 455h0M626 458h0M636 456h0M640 454h0M624 464h0M624 464h0M623 445h0M619 450h0M628 443h0M624 445h0M621 443h0M698 461h0M698 466h0M696 459h0M706 443h0M699 446h0M650 462h0M644 468h0M646 468h0M685 465h0M671 460h0M671 464h0M675 461h0M573 454h0M568 457h0M574 456h0M578 455h0M574 450h0M580 452h0M567 457h0M570 463h0M573 458h0M562 448h0M566 451h0M564 449h0M567 451h0M544 384h0M547 386h0M548 385h0M555 385h0M614 442h0M601 440h0M603 441h0M606 436h0M617 436h0M611 433h0M615 438h0M611 433h0M590 465h0M597 465h0M593 462h0M595 462h0M596 452h0M566 467h0M568 472h0M564 466h0M569 468h0M566 473h0M645 481h0M646 475h0M641 485h0M644 475h0M686 568h0M689 572h0M690 567h0M687 568h0M689 549h0M684 545h0M685 552h0M682 551h0M552 508h0M556 504h0M583 488h0M580 483h0M576 484h0M574 490h0M579 490h0M579 490h0M584 488h0M589 487h0M589 485h0M584 484h0M587 481h0M603 474h0M603 475h0M603 475h0M629 486h0M631 482h0M633 484h0M632 488h0M627 481h0M627 480h0M640 485h0M637 488h0M624 482h0M621 478h0M622 477h0M620 497h0M611 485h0M616 489h0M661 498h0M652 488h0M648 489h0M646 489h0M645 489h0M648 482h0M637 494h0M637 503h0M638 499h0M629 498h0M534 587h0M534 588h0M535 584h0M538 590h0M598 605h0M596 603h0M593 605h0M606 605h0M601 600h0M605 604h0M607 599h0M611 604h0M610 599h0M610 605h0M748 474h0M750 480h0M750 455h0M757 405h0M753 410h0M758 407h0M758 412h0M756 419h0M752 416h0M751 414h0M760 408h0M757 404h0M769 386h0M765 386h0M706 436h0M709 431h0M707 438h0M710 435h0M711 432h0M702 432h0M710 438h0M715 436h0M727 400h0M738 419h0M744 422h0M737 420h0M748 437h0M753 436h0M754 435h0M742 433h0M745 434h0M755 437h0M749 424h0M752 423h0M755 427h0M748 428h0M750 421h0M747 420h0M745 420h0M752 417h0M758 424h0M624 415h0M628 418h0M625 420h0M626 420h0M629 384h0M723 469h0M723 471h0M722 469h0M721 474h0M734 449h0M731 449h0M737 448h0M728 445h0M728 440h0M719 434h0M721 441h0M725 445h0M697 479h0M689 480h0M694 476h0M692 475h0M689 478h0M697 478h0M700 486h0M699 480h0M693 483h0M688 474h0M692 470h0M694 471h0M694 474h0M686 472h0M686 479h0M685 487h0M685 492h0M681 492h0M683 494h0M677 488h0M683 485h0M688 485h0M688 490h0M691 496h0M686 497h0M679 495h0M682 541h0M684 545h0M677 545h0M677 537h0M688 527h0M687 530h0M659 511h0M703 511h0M696 507h0M695 501h0M699 506h0M701 503h0M698 499h0M699 499h0M697 509h0M693 499h0M702 504h0M699 496h0M704 494h0M703 494h0M703 550h0M701 544h0M696 555h0M696 545h0M686 543h0M692 543h0M689 542h0M685 536h0M687 539h0M704 544h0M700 539h0M699 536h0M693 539h0M696 535h0M702 537h0M702 537h0M705 543h0M703 534h0M696 531h0M692 540h0M692 537h0M686 537h0M740 501h0M744 496h0M733 499h0M739 502h0M742 494h0M699 470h0M701 470h0M705 473h0M705 473h0M694 471h0M699 467h0M695 464h0M703 479h0M703 477h0M707 475h0M706 473h0M707 473h0M710 468h0M710 496h0M709 493h0M731 481h0M732 485h0M708 488h0M754 490h0M760 493h0M758 491h0M771 496h0M769 488h0M768 493h0M768 494h0M764 505h0M764 496h0M761 492h0M761 499h0M732 570h0M727 571h0M737 565h0M733 569h0M739 566h0M721 575h0M725 570h0M704 588h0M704 583h0M709 587h0M694 565h0M697 570h0M698 569h0M695 565h0M699 566h0M698 565h0M699 571h0M721 588h0M720 588h0M712 607h0M739 532h0M737 533h0M735 534h0M749 523h0M743 524h0M745 527h0M743 526h0M750 524h0M770 570h0M769 569h0M769 567h0M769 565h0M772 576h0M768 578h0M769 570h0M763 568h0M760 561h0M767 558h0M767 564h0M766 561h0M735 558h0M735 553h0M739 554h0M739 554h0M735 562h0M739 564h0M743 562h0M742 559h0M738 552h0M740 553h0M737 547h0M734 546h0M733 553h0M735 546h0M718 544h0M723 546h0M720 543h0M770 581h0M756 553h0M760 557h0M762 553h0M761 546h0M757 542h0M755 546h0M757 548h0M759 550h0M758 540h0M602 447h0M602 447h0M608 445h0M608 444h0M597 451h0M598 449h0M600 442h0M598 444h0M595 448h0M609 444h0M610 436h0M620 477h0M616 480h0M611 481h0M612 480h0M608 477h0M610 476h0M612 476h0M606 476h0M611 475h0M617 482h0M614 478h0M580 460h0M582 454h0M584 468h0M587 462h0M578 464h0M583 462h0M581 461h0M591 421h0M586 424h0M589 421h0M612 427h0M602 426h0M607 425h0M604 430h0M605 430h0M611 421h0M612 423h0M602 434h0M604 434h0M604 435h0M595 442h0M595 435h0M593 443h0M592 443h0M593 435h0M592 434h0M591 444h0M594 449h0M585 436h0M586 432h0M579 430h0M565 394h0M558 391h0M587 396h0M584 401h0M574 388h0M581 400h0M580 385h0M581 383h0M591 383h0M587 385h0M650 397h0M648 391h0M659 382h0M663 383h0M663 384h0M656 384h0M655 384h0M681 421h0M683 420h0M681 461h0M679 459h0M667 435h0M667 438h0M677 434h0M681 438h0M669 441h0M672 444h0M674 443h0M674 393h0M675 390h0M678 390h0M724 390h0M724 390h0M726 384h0M722 384h0M728 384h0M685 408h0M677 409h0M683 414h0M684 411h0M679 405h0M677 423h0M675 427h0M671 429h0M669 421h0M669 421h0M656 433h0M652 437h0M650 433h0M664 449h0M665 450h0M658 451h0M624 440h0M622 436h0M624 436h0M620 440h0M618 437h0M625 440h0M630 443h0M628 437h0M631 438h0M638 437h0M631 437h0M638 432h0M630 450h0M620 469h0M618 471h0M623 464h0M621 471h0M618 472h0M685 465h0M687 459h0M682 459h0M687 461h0M690 465h0M687 465h0M568 444h0M569 440h0M572 439h0M574 437h0M574 447h0M556 431h0M585 403h0M590 404h0M590 400h0M585 402h0M591 403h0M583 410h0M586 407h0M581 410h0M584 403h0M536 405h0M541 402h0M537 398h0M538 397h0M547 396h0M549 398h0M544 399h0M546 395h0M554 390h0M551 394h0M549 393h0M556 392h0M554 397h0M587 453h0M587 451h0M587 456h0M589 456h0M592 455h0M585 456h0M591 450h0M593 455h0M587 460h0M592 461h0M669 544h0M669 542h0M695 560h0M690 555h0M694 564h0M692 562h0M692 561h0M684 554h0M678 554h0M682 556h0M561 501h0M557 507h0M560 507h0M555 514h0M553 514h0M558 517h0M554 511h0M560 508h0M558 513h0M580 499h0M583 495h0M585 499h0M584 495h0M583 495h0M583 495h0M578 496h0M586 492h0M590 486h0M594 481h0M620 497h0M611 501h0M608 497h0M612 494h0M603 498h0M601 492h0M605 493h0M602 503h0M603 500h0M606 505h0M619 488h0M624 486h0M619 489h0M622 483h0M618 488h0M625 487h0M624 491h0M618 491h0M621 497h0M613 491h0M642 505h0M645 501h0M642 499h0M642 493h0M655 516h0M647 510h0M640 507h0M638 510h0M646 508h0M533 579h0M538 582h0M533 577h0M539 593h0M543 579h0M532 563h0M535 566h0M548 511h0M547 515h0M542 514h0M544 518h0M545 518h0M548 510h0M549 513h0M551 519h0M539 519h0M549 525h0M551 521h0M770 461h0M770 462h0M770 472h0M771 468h0M766 472h0M761 453h0M765 477h0M764 472h0M720 434h0M712 431h0M714 430h0M717 429h0M712 430h0M719 400h0M720 395h0M722 395h0M721 390h0M718 391h0M723 432h0M722 411h0M728 415h0M724 408h0M730 411h0M723 406h0M689 413h0M686 407h0M690 409h0M701 416h0M703 411h0M696 410h0M696 412h0M696 410h0M690 409h0M719 410h0M717 405h0M709 424h0M707 426h0M734 394h0M733 391h0M727 392h0M728 394h0M735 393h0M735 386h0M734 386h0M728 386h0M727 398h0M741 412h0M741 414h0M747 414h0M739 418h0M736 415h0M735 414h0M736 411h0M739 418h0M757 403h0M751 404h0M751 401h0M730 416h0M732 418h0M730 423h0M731 423h0M729 415h0M722 418h0M736 420h0M733 424h0M725 427h0M730 425h0M734 435h0M735 432h0M729 431h0M730 429h0M728 435h0M736 443h0M739 437h0M741 432h0M735 428h0M738 383h0M741 387h0M746 383h0M743 387h0M616 384h0M627 413h0M621 415h0M634 421h0M645 420h0M635 427h0M634 428h0M632 424h0M649 407h0M651 407h0M652 402h0M647 404h0M652 402h0M647 399h0M647 401h0M652 415h0M652 413h0M651 411h0M627 412h0M629 404h0M632 405h0M630 403h0M635 402h0M644 407h0M645 413h0M631 399h0M636 399h0M630 397h0M627 391h0M625 401h0M741 444h0M744 447h0M748 444h0M742 448h0M741 444h0M750 447h0M751 442h0M718 444h0M714 462h0M720 462h0M719 464h0M728 565h0M724 562h0M728 559h0M733 561h0M672 542h0M675 538h0M677 532h0M678 534h0M685 536h0M684 536h0M687 531h0M685 534h0M628 534h0M627 534h0M634 532h0M709 539h0M708 538h0M711 534h0M712 542h0M706 532h0M715 533h0M722 492h0M722 490h0M712 479h0M708 486h0M717 483h0M717 486h0M711 478h0M717 480h0M715 490h0M754 486h0M761 479h0M758 476h0M764 484h0M765 489h0M760 484h0M767 489h0M761 484h0M767 499h0M770 498h0M765 498h0M764 504h0M684 574h0M689 573h0M688 577h0M701 583h0M702 579h0M701 576h0M713 584h0M715 586h0M690 589h0M688 589h0M692 591h0M690 595h0M692 592h0M696 587h0M695 593h0M705 590h0M704 591h0M715 596h0M712 595h0M714 591h0M715 590h0M712 590h0M705 591h0M715 599h0M717 599h0M722 602h0M709 604h0M710 602h0M721 598h0M722 602h0M724 608h0M754 548h0M746 564h0M730 544h0M726 540h0M733 539h0M727 541h0M734 545h0M736 539h0M730 535h0M719 540h0M725 534h0M717 540h0M768 588h0M766 585h0M772 589h0M762 591h0M758 587h0M582 416h0M582 416h0M583 420h0M574 419h0M586 416h0M588 417h0M585 422h0M619 416h0M616 423h0M620 419h0M623 422h0M625 420h0M586 386h0M589 388h0M590 393h0M594 387h0M591 393h0M593 393h0M596 390h0M592 394h0M668 386h0M670 386h0M672 387h0M668 392h0M665 389h0M667 391h0M670 383h0M665 385h0M675 385h0M673 389h0M670 395h0M691 436h0M681 435h0M682 439h0M686 438h0M700 424h0M701 426h0M699 416h0M699 418h0M702 417h0M698 424h0M702 423h0M709 424h0M701 432h0M695 435h0M688 420h0M692 417h0M687 418h0M692 417h0M692 416h0M685 419h0M694 418h0M669 452h0M671 455h0M673 454h0M669 449h0M667 450h0M668 460h0M667 458h0M674 456h0M669 444h0M691 440h0M688 443h0M690 447h0M692 447h0M692 440h0M690 440h0M696 442h0M683 439h0M685 444h0M694 450h0M688 455h0M687 457h0M690 459h0M692 458h0M691 453h0M683 456h0M684 454h0M688 459h0M692 463h0M694 456h0M694 452h0M689 450h0M685 402h0M680 384h0M682 387h0M679 385h0M689 387h0M660 423h0M659 424h0M662 429h0M665 428h0M666 423h0M661 434h0M665 429h0M658 433h0M664 438h0M661 438h0M661 436h0M660 445h0M657 443h0M651 443h0M652 447h0M652 448h0M657 451h0M655 450h0M659 443h0M653 441h0M655 454h0M644 449h0M664 465h0M659 462h0M659 458h0M662 458h0M656 460h0M655 455h0M663 456h0M562 432h0M557 430h0M560 429h0M556 425h0M559 428h0M559 426h0M568 427h0M570 432h0M565 429h0M566 430h0M562 432h0M568 434h0M599 403h0M596 407h0M598 402h0M592 404h0M597 397h0M571 423h0M573 420h0M573 423h0M666 568h0M665 568h0M660 565h0M652 539h0M650 538h0M646 543h0M655 543h0M658 545h0M654 549h0M659 520h0M657 525h0M657 526h0M668 523h0M663 526h0M654 521h0M661 519h0M656 534h0M663 531h0M658 531h0M661 544h0M662 539h0M668 536h0M665 531h0M676 564h0M679 566h0M676 566h0M683 563h0M683 565h0M678 560h0M682 570h0M678 571h0M686 568h0M675 549h0M670 545h0M673 547h0M667 550h0M670 549h0M667 550h0M671 552h0M670 552h0M671 561h0M673 559h0M671 557h0M667 562h0M668 563h0M667 556h0M673 557h0M670 553h0M566 510h0M566 512h0M566 513h0M559 517h0M563 516h0M575 501h0M571 497h0M569 503h0M575 495h0M567 499h0M570 494h0M572 507h0M568 511h0M594 500h0M591 494h0M589 493h0M587 498h0M592 493h0M596 497h0M597 490h0M597 501h0M629 543h0M630 540h0M624 541h0M629 555h0M630 548h0M627 549h0M626 546h0M626 547h0M644 543h0M644 536h0M641 541h0M640 533h0M637 534h0M636 536h0M633 543h0M627 547h0M621 531h0M615 528h0M616 531h0M622 534h0M620 532h0M614 542h0M612 539h0M615 537h0M618 538h0M615 545h0M617 545h0M607 534h0M613 535h0M614 536h0M613 534h0M621 534h0M601 487h0M603 478h0M605 482h0M608 528h0M608 524h0M613 521h0M614 528h0M606 522h0M618 518h0M612 516h0M612 520h0M625 502h0M622 505h0M628 505h0M658 505h0M655 501h0M651 503h0M658 506h0M659 501h0M660 506h0M657 509h0M651 504h0M662 511h0M663 506h0M652 495h0M650 493h0M647 498h0M648 498h0M653 495h0M645 500h0M645 518h0M649 518h0M640 530h0M637 526h0M639 515h0M640 519h0M636 513h0M645 521h0M642 523h0M609 592h0M603 593h0M603 590h0M599 597h0M599 596h0M534 536h0M542 534h0M539 536h0M543 535h0M538 537h0M538 541h0M533 558h0M534 552h0M534 552h0M535 557h0M537 562h0M557 566h0M557 565h0M560 570h0M562 567h0M596 566h0M594 564h0M589 566h0M590 568h0M596 568h0M592 570h0M578 588h0M591 576h0M594 576h0M599 571h0M554 525h0M557 520h0M552 559h0M546 562h0M548 566h0M549 567h0M550 568h0M556 569h0M555 564h0M568 602h0M566 607h0M567 601h0M562 601h0M564 605h0M769 462h0M766 463h0M766 456h0M762 457h0M764 459h0M690 405h0M695 407h0M710 417h0M713 416h0M715 414h0M714 410h0M707 408h0M704 412h0M708 408h0M707 418h0M704 412h0M711 418h0M718 414h0M712 409h0M708 404h0M748 402h0M747 403h0M730 401h0M733 400h0M756 383h0M757 384h0M748 382h0M628 432h0M626 431h0M629 429h0M629 426h0M633 431h0M623 431h0M621 427h0M628 423h0M623 427h0M643 397h0M641 396h0M640 402h0M646 400h0M641 402h0M646 399h0M637 398h0M644 407h0M621 404h0M621 402h0M625 394h0M622 390h0M618 393h0M665 519h0M668 516h0M664 507h0M670 517h0M669 516h0M688 522h0M683 527h0M679 528h0M680 530h0M677 517h0M681 516h0M681 523h0M675 517h0M680 512h0M684 517h0M683 523h0M728 482h0M723 483h0M723 479h0M722 481h0M726 477h0M721 480h0M719 486h0M721 499h0M721 493h0M722 492h0M725 500h0M728 503h0M730 500h0M729 503h0M731 501h0M730 495h0M727 494h0M659 569h0M662 573h0M646 602h0M653 604h0M688 588h0M686 589h0M685 582h0M682 586h0M697 581h0M693 582h0M697 576h0M694 584h0M686 580h0M694 575h0M684 595h0M687 596h0M703 598h0M708 603h0M705 601h0M747 553h0M750 556h0M745 558h0M745 553h0M749 560h0M743 559h0M591 410h0M596 413h0M594 415h0M590 411h0M593 418h0M602 406h0M600 408h0M602 409h0M606 411h0M608 411h0M613 414h0M607 417h0M602 416h0M602 415h0M597 418h0M597 421h0M597 423h0M603 414h0M607 411h0M596 421h0M679 430h0M682 448h0M677 450h0M677 449h0M679 446h0M680 446h0M683 453h0M676 450h0M680 446h0M647 440h0M650 444h0M644 449h0M639 445h0M637 451h0M643 449h0M638 442h0M633 444h0M643 607h0M643 600h0M640 600h0M640 600h0M642 597h0M652 573h0M649 567h0M665 553h0M662 557h0M660 553h0M660 551h0M666 556h0M667 563h0M662 562h0M603 516h0M607 513h0M606 518h0M605 518h0M605 519h0M609 516h0M601 519h0M605 534h0M593 537h0M609 545h0M612 546h0M614 505h0M620 510h0M614 513h0M616 505h0M612 503h0M609 509h0M605 483h0M606 484h0M605 490h0M606 491h0M605 491h0M611 493h0M629 511h0M626 508h0M632 511h0M655 533h0M651 532h0M569 601h0M614 592h0M618 586h0M613 591h0M614 593h0M534 541h0M538 543h0M543 542h0M539 547h0M540 548h0M539 554h0M547 544h0M545 544h0M547 548h0M549 547h0M551 549h0M550 554h0M541 569h0M538 572h0M545 572h0M541 567h0M541 568h0M546 570h0M537 573h0M542 577h0M566 566h0M573 561h0M572 556h0M575 551h0M580 573h0M582 573h0M590 563h0M587 535h0M589 534h0M596 541h0M589 547h0M586 546h0M576 545h0M584 605h0M574 602h0M572 519h0M579 521h0M571 517h0M567 521h0M761 471h0M760 467h0M760 461h0M763 398h0M760 395h0M764 398h0M765 391h0M763 400h0M759 398h0M768 399h0M766 393h0M765 389h0M759 388h0M757 391h0M755 389h0M752 388h0M758 390h0M757 395h0M749 390h0M711 400h0M709 398h0M699 390h0M708 399h0M704 399h0M706 395h0M705 402h0M701 408h0M699 405h0M706 404h0M705 404h0M705 403h0M699 397h0M699 400h0M694 399h0M701 394h0M701 400h0M698 403h0M743 403h0M736 394h0M734 400h0M739 399h0M613 392h0M609 391h0M611 387h0M601 401h0M612 404h0M615 400h0M612 397h0M616 398h0M619 401h0M618 409h0M613 404h0M674 511h0M675 507h0M674 512h0M676 510h0M680 578h0M678 575h0M683 576h0M680 582h0M676 585h0M672 582h0M675 571h0M675 576h0M674 574h0M672 566h0M668 569h0M670 570h0M693 599h0M690 600h0M697 596h0M699 602h0M696 600h0M655 606h0M681 589h0M681 593h0M678 587h0M680 606h0M688 603h0M696 388h0M692 388h0M699 390h0M689 388h0M696 385h0M693 383h0M704 386h0M637 605h0M633 603h0M631 606h0M637 546h0M638 550h0M632 555h0M637 557h0M639 553h0M643 552h0M644 556h0M644 550h0M644 550h0M655 557h0M655 564h0M651 560h0M658 563h0M651 559h0M659 570h0M653 565h0M588 505h0M605 539h0M608 545h0M602 540h0M600 540h0M598 551h0M601 546h0M600 546h0M602 547h0M605 544h0M600 542h0M592 548h0M603 548h0M614 547h0M643 528h0M644 531h0M647 532h0M648 526h0M645 535h0M599 595h0M596 597h0M595 590h0M593 586h0M575 601h0M582 601h0M569 597h0M568 594h0M562 598h0M563 597h0M563 596h0M570 600h0M576 599h0M578 590h0M577 593h0M588 597h0M587 601h0M583 594h0M580 593h0M592 600h0M594 603h0M621 591h0M612 600h0M632 602h0M604 572h0M606 572h0M593 578h0M542 555h0M540 561h0M546 560h0M545 606h0M545 601h0M545 606h0M549 604h0M550 603h0M540 598h0M540 598h0M550 604h0M541 597h0M547 600h0M546 597h0M544 592h0M545 594h0M578 566h0M578 578h0M590 559h0M592 553h0M594 553h0M597 559h0M596 558h0M601 554h0M583 547h0M582 549h0M577 547h0M580 553h0M576 562h0M580 557h0M584 555h0M575 560h0M613 552h0M610 556h0M607 554h0M546 537h0M550 533h0M561 530h0M562 524h0M560 523h0M560 523h0M556 527h0M562 521h0M556 553h0M553 560h0M556 553h0M556 549h0M558 544h0M596 520h0M592 523h0M584 529h0M581 526h0M587 527h0M585 529h0M587 529h0M578 533h0M584 530h0M578 530h0M558 603h0M554 600h0M558 603h0M561 602h0M754 471h0M750 467h0M753 471h0M748 467h0M711 389h0M716 390h0M715 384h0M712 392h0M718 390h0M716 382h0M743 397h0M744 393h0M743 400h0M740 391h0M606 384h0M610 384h0M603 391h0M604 391h0M599 383h0M604 384h0M671 581h0M670 581h0M667 575h0M666 576h0M672 576h0M669 574h0M672 581h0M666 585h0M647 595h0M643 591h0M644 589h0M647 591h0M652 595h0M689 606h0M633 597h0M627 592h0M628 594h0M631 597h0M646 567h0M644 558h0M650 560h0M646 567h0M590 505h0M590 506h0M593 512h0M597 509h0M596 511h0M597 508h0M591 503h0M589 505h0M594 518h0M594 515h0M621 568h0M625 567h0M600 566h0M600 560h0M601 561h0M604 568h0M602 565h0M603 555h0M602 560h0M612 558h0M607 561h0M608 563h0M607 564h0M592 579h0M592 585h0M590 580h0M587 575h0M577 581h0M588 589h0M579 587h0M577 583h0M584 583h0M588 584h0M623 605h0M619 602h0M623 593h0M628 607h0M553 597h0M555 597h0M555 597h0M560 597h0M565 568h0M562 541h0M561 538h0M574 538h0M552 536h0M554 534h0M556 538h0M556 533h0M558 538h0M558 539h0M559 532h0M561 530h0M560 538h0M587 520h0M589 517h0M588 520h0M587 520h0M592 517h0M673 587h0M668 586h0M656 597h0M651 592h0M697 605h0M702 608h0M699 604h0M704 604h0M675 590h0M673 589h0M634 560h0M630 562h0M634 561h0M637 566h0M629 559h0M627 557h0M625 568h0M620 572h0M616 555h0M618 559h0M622 557h0M622 555h0M621 552h0M618 551h0M614 558h0M615 552h0M620 549h0M626 586h0M625 586h0M637 567h0M640 570h0M639 586h0M632 585h0M631 584h0M636 581h0M633 579h0M613 572h0M614 566h0M610 570h0M614 574h0M571 534h0M573 530h0M569 534h0M569 533h0M568 528h0M574 532h0M574 528h0M568 527h0M567 536h0M658 594h0M661 593h0M662 587h0M667 590h0M646 585h0M648 573h0M648 579h0M679 601h0M676 597h0M678 601h0M676 598h0M671 598h0M669 594h0M629 575h0M638 570h0M620 576h0M621 574h0M627 576h0M643 579h0M641 573h0M643 579h0M645 579h0M635 575h0M642 580h0M637 580h0M674 603h0M677 602h0M660 601h0M664 604h0M666 605h0M659 600h0M666 604h0M660 603h0" stroke="#6a1a84" stroke-width="2.6" stroke-linecap="round" fill="none"/></g><path d="M268.7 213 Q276 216 283 212.5 Q289 211 292 212 L291 215 Q285 214.5 280 216.5 Q274 218.5 268.7 218 Z" fill="#8a2a90" opacity="0.6"/><path d="M296 227 Q294.5 234 297 239.5 Q303 240 311 236.5 L309 234 Q303 236.5 299 236.5 Z" fill="#8a2a90" opacity="0.65"/><path d="M270.3 199.9L274.9 198.2L283 197.6L288.2 198.8L290.5 201.7L290.5 208L288.8 209.7L284.1 210.3L279.5 211.5L274.9 213.2L270.9 214.3L269.7 210.3L269.7 203.4Z" fill="#fff" stroke="#861a7e" stroke-width="1.7" stroke-linejoin="round"/><path d="M299.1 225.3L302.6 223.6L308.4 224.1L311.8 226.4L312.4 229.9L309.5 232.8L304.9 233.9L301.4 235.1L299.1 236.8L298.2 232.2L298.2 227.6Z" fill="#fff" stroke="#861a7e" stroke-width="1.7" stroke-linejoin="round"/><circle cx="300.3" cy="211.4" r="4.2" fill="#ecd0ea" stroke="#983aa6" stroke-width="1.3"/><circle cx="300.8" cy="211" r="1.2" fill="#b02a78"/></g><rect x="269.15" y="194.4" width="112.95" height="105.7" fill="none" stroke="#222" stroke-width="0.9"/><rect x="365.4" y="292.3" width="9.9" height="1.9" fill="#000"/><clipPath id="ch1"><rect x="233.5" y="496.6" width="73.5" height="69.4"/></clipPath><g clip-path="url(#ch1)"><rect x="233.5" y="496.6" width="73.5" height="69.4" fill="#e2f5f6"/><g transform="scale(0.5)"><path d="M565 1096L565 1096L570 1093L568 1090L565 1089L564 1090ZM621 1083L621 1082L620 1081L614 1082L614 1083L615 1087L615 1087L619 1087ZM602 1121L607 1123L607 1124L602 1127L599 1125ZM612 1050L614 1052L618 1050L618 1047L615 1045L611 1046L611 1046ZM610 1044L610 1040L613 1039L616 1041L615 1045L611 1046ZM584 1134L581 1133L580 1132L580 1129L582 1127L586 1130ZM571 1134L572 1135L572 1139L568 1141L567 1140L568 1135ZM522 1118L521 1113L520 1112L517 1113L516 1115L519 1119L520 1120ZM552 1035L551 1035L550 1032L552 1029L555 1029L557 1032L556 1033ZM509 1116L508 1120L508 1120L512 1120L513 1119L513 1117L510 1115ZM519 1105L514 1108L512 1105L512 1103L512 1103L517 1103L518 1104ZM521 1123L520 1126L516 1124L516 1121L519 1119L520 1120ZM535 1071L535 1072L532 1075L527 1071L532 1068ZM567 1031L567 1031L566 1036L563 1036L562 1035L561 1031L561 1031ZM520 1135L520 1130L514 1131L514 1131L516 1136ZM501 1135L500 1135L501 1129L503 1129L506 1132L506 1134L504 1136ZM471 1119L472 1116L472 1115L467 1115L466 1118L469 1120ZM501 1039L498 1040L498 1043L502 1046L505 1043L505 1043ZM470 1128L465 1131L467 1135L470 1135L470 1128ZM491 1070L496 1068L497 1070L498 1072L493 1075L493 1075ZM535 990L533 992L530 991L529 988L530 986L533 986L535 989ZM499 1014L498 1019L493 1016L493 1015L498 1012Z" fill="#b8448e"/><path d="M461 1136l5 1 1-2 3 0 1 0 1 5M513 1131l1 0 6-1 0 5-4 1-2-5 0-6-2-1-4 2 1 3M467 1071l1-1 3 3 0 4-1 0-5-2 1-4M475 1069l0 3-4 1M619 1059l2 3-4 3-3-3 1-1 4-2 0-2-1-1 1-4-1-2 0-3 3-1M486 1138l1-2 1 0 4 1 3-2 2 4M488 1136l2-4 0-1 4 1 1 3 5 0 1-6-1 0-4 1-2-4 0-1-3 2-1 4M520 1135l3 1 3-3-1-4 1-6 4 1 0 1 4 1 2-3 3 1 1 3-2 3-3-1-1-3M460 1012l4 2 1-2-1-3-3-1 0-4 5-1-1-4-1-1 1-5-5-1M464 1009l3-3M460 1019l2 2M464 998l-4 0M469 991l4 1 1-1 1-4 3 1 1 3-2 2-3-2M540 1041l2 2-1 3M540 1041l-3 1M557 1017l0 1-5-2 1-5 5 2-1 4 4 2 3-1 0-4 0-1-5-1-1 1M465 1075l-1 1-2 0M468 1070l3-3M471 1077l1 1 0 4 4 1 1-1 0-4-1-1-4 1M619 1029l1 3-2 3-3-1 0-2 4-3-3-2 0-4-3 0M619 1037l0 3 1 1M618 1056l-4 0 0-4 4-2M608 1035l-3-2-3 1-1 1M608 1035l1-1 5 1-1 4M619 1004l1-5-2-1 1-4-1 0 3-5-4-2-1 1-6 0 0 1 3 5 2-1 1-5M617 1004l-3-4 0-1 4-1M553 1049l-5-2M553 1049l0 3 5 2-1 5-1 1-1 1 1 2 4 1 2-4-1 0 2-4-4-3 4-2 4 2 1-1 5 2 1-6-1 0-2-2 1-4-5-1M512 1124l0-4 1-1 0-2 3-2 3 4-3 2-3-2M506 1124l-3 5M508 1120l1-4-3-2 2-4M500 1129l-1-5M605 1135l-3 1-2-1 1-4 2-1 3 1-1 4 2 2 4 0 1 2M617 1134l1-1 3 0M612 1115l-3 5-4-4 0-2 5 0 2 1 3 4 2 0 2-3-1-3 1-3-1-3 0-2-2-3 1-1-2-3-3 0-1 5M581 1109l0-1-4-4 0 1-3 5 2 1 5-2 2 3M572 1135l-1-1-3 1M571 1134l0-3M578 1115l1 4 5 1M502 1102l4-3 2 4-2 2-3-1M479 1062l4 2 1 3M499 1063l-3 4-4-3 3-2 4 1 3 2 0 1 0 1-5 3-1-2 0-1M492 1064l-2 0 0 1 1 5 2 5 0 1-3 5 3 2 3-1 0-3M490 1046l-1-1-5 0 3 5 1 1 1 2 4 3M484 1045l-1 0M498 1043l-4 3-1-4-3-1 0-2 3-3M498 1043l0-3-2-1-3 3M548 1131l0 1 1 5-1 1-3-1-2-4 5-2 0-3-4-1 1-5-3-1 0-2 6-3-3-4 3-3 0-3-3-1-1-3 1-2 0-5 2-1 4 4 4-3 2 3-2 3M549 1137l1 0 4-2 2 3M535 1135l3 0 1 3M538 1135l2-2-2-3M502 1067l1 4M545 1105l-4 4M548 1109l4 3M519 1119l1 1 1 3-1 3M508 1103l4 0 0 2M516 1098l4 0 2 2 1 0 1 3M467 1094l-4-1-2 2M467 1096l-5 2-1-1M467 1096l5 1 0 2-2 3-2 0 0-1M477 1100l-2 1 0 4 3-1 2-3-3-1 0-3-3-1-2 1M476 1137l-5-2 4-3M476 1137l2-3 3 1M466 1003l1 1M459 1027l4 3 0 1-3 2M468 1031l2-3 0-2-4-1 0-4 0-1M468 1032l2 2 3-1 2 0 1 5 3 1 2-3-2-4-1-5 3-1 2 1 2-2 0-3 2-1M510 1045l0-5M561 1019l0 3-5 2-2-2-3 0-1 5-4 0 0 1 0 3M559 1012l1-4M564 1014l4 0M589 1017l2-1 3 2-1 4-2 0-2 5 1 1 3 0 2 3 4-2-1-5 2-1 0-1-1-3-4-1-1 0M585 1015l-1 0M550 997l2-2-1-3 3-2 3 2 0 2 5 2 0 1M552 995l4 1M610 1044l-6 0 1 6 3 3 4-3-1-4M579 1038l0-1-3-2-1 0 1-5 1 0-1-7-1 0-2-5-1-1M589 1042l1 0 2 3-1 4M617 1022l-1 1M608 1021l-1 2M576 1046l-2 2 5 4M567 1046l-1-4M479 1040l0-1M585 1036l-3-2-3 3M593 1028l2-4 3 0M605 1016l-2 5 3 2M599 1019l1-3-2-3-2 1-1 4M598 1013l1-2-2-3-5 1 0 3-1 0M546 985l0 4 1 1 3-3 4 2 1-3M547 990l0 1M566 1001l3-3M583 996l1-4-2-1 2-5M574 989l-1-1-5 2 2 3M570 1004l-1 0-1 4M570 1004l4 3 2 0 2 3 4 1M492 1116l2 3M565 1127l1-1 0-3-3-2-2 2 0 2 4 2 0 1 2 2-1 4-2 0-3-2-2 2 0 4M577 1104l3-3M553 1105l2 4 1 0 3 2 3-2 0-1-3-2 0-2-3-2M496 1088l-3-2 0-3M501 1084l0-1 6 2 0-1 5-2 2 3-4 4M504 1096l4-4M480 1073l1 4 1 0 4-3M482 1077l1 4 5 0-1-6M488 1081l2 0M493 1113l-1-3M509 1049l0 1M485 1058l-6 0 0-3-2-2-4 3 0 1M530 1124l1-3 4 0 1-3-1-1-4-2 0-2 3-2-1-3-3 0-2 2 3 3M553 1128l2-2 4 2 2-3M561 1131l0 1M512 1080l-4-2-2 0M512 1080l0 2M520 1052l-3 4 1 3-1 1 0 5M525 1075l4 3 0 3-1 0-5-2-1-3M523 1100l2-2 0-3-1-1M514 1108l5-3M523 1090l4-1 0-1 3-2 3 2-2 5-1 0-1 0-2-4M515 1095l-1-3M507 1084l-2-6M479 1095l3 3M463 1126l4-1 0-2-3-2M478 1134l0-2 2-3M467 1115l-1 3-2 2M472 1113l2-2M486 1106l-2 0M471 1001l-1 2M479 991l3 1 1-6M478 997l4-1M477 1016l2-1M553 1007l1 0-1 4-5-1M521 1047l-2-1 1-4 1-2 3-2 5 1 3 0 1 0 2-3-2-4-4 1-2-5M521 1047l1 3M520 1042l-5-1-1 3M528 1051l3-1 0-5-5-1 3-5-1-6-4 1 0 4M504 1032l2-4-6-1 1 7-3 0M565 1009l-2-2M585 1003l-2 3M573 1024l-1 4 0 1-2 4M556 1024l0 2-1 3 2 3-1 1 2 3-1 2-1 1-4-4 4-2M614 1052l-2-2M571 1093l1 3M570 1100l-1 0-2-2M569 1100l0 6 5-3M577 1068l0 1-1 2-4 0-1-4 2-1 4 2 2-4-3-2 1-3M573 1066l1-4-2-1 0-4-5 1-1-2-3 0M576 1071l1 2-2 4 2 2 4-2 0-3-4-1M566 1047l-3 1 0 3M567 1053l-1 3M558 1054l1-1-1-5M552 1053l-6 0M562 1060l5 2 0-4M579 1064l4 2M600 1045l-1 3 4 3-2 3-6-1M616 1027l-3 0-1-2M614 1000l-1 1-2 4-5-1-3 1-3-1-3 1 0 3M551 1035l1 0M556 1026l5 2M556 1039l-1 2M479 1032l5-1M485 1036l1-1 4 4M593 986l-1 5M554 989l0 1M573 988l0-1M504 1114l2 0M509 1116l1-1M605 1091l-4-2 0-2-4 0-2-2 1-3M617 1119l1 4 3 1M611 1133l5-4-2-3M601 1131l-5-1-6-1 2-5 1 0 4 2-1 4 0 4-5 1-1-1-4 2M596 1112l-3-2 1-4-3-1M591 1098l-5 0M588 1093l3 2M529 1078l3-3 3 3M528 1081l-3 4-1 0-3-4-2 1M539 1102l-5-2M525 1095l4-2M576 1132l-2-2 1-4M564 1134l-1 5M571 1081l1-4 0-5M525 1085l2 3M486 1034l-1-2M532 1131l3-2M535 1117l2-5M528 1103l2 5M534 1106l-1 2M557 1121l4 2M548 1128l2-2 0-3M546 1054l-3 2-2-1-4 2-2-2M517 1060l-5 1M518 1059l2 0 2 5 2 0M469 1092l-1-4 2-1 5 0 1 1M481 1092l4 1 1-5 1-1 4 1M469 1120l-2 3M467 1125l2 1M479 1127l-4-1M468 1102l0 6M496 1104l1-5M492 1102l-2 1M486 1099l4-3-2-2M471 1021l0 3 5 1M480 1022l1-1 4 1M495 991l-2-4M495 991l3-1 2 1 4-2M464 1037l-2 4 0 1 0 2 1 2 4 0 0 1-1 3 2 2M569 1037l4 2 0 2M571 1034l4 1M585 1021l0 4M600 1071l6 3 0 1 1 3M609 1059l3 3 2 0M568 1063l-1-1-4 4 1 3-2 1-1 5 1 0 0 4-5 0M567 1072l0 3M595 1058l5 1 2-2-1-3M602 1085l-1 2M614 1083l1 4 4 0 2-4M587 1070l2 1 4-2M599 1011l3-1M613 1007l-2-2M572 1029l4 1M602 993l-1 2-3 0M602 996l0 3-2 2 0 3M618 1123l-3 2M595 1085l-3 0-2-3 2-2M594 1106l2-4 2 0 2-4M606 1100l-2 0-3 4-3-2M606 1107l-5-2-2 2 3 3M602 1121l5 2M600 1114l0-1M590 1134l0-5-1 0-3-5M599 1107l-1 1M587 1086l-1-1-5-1 0 6-2 5M563 1121l0-1-2-3M562 1109l2 2 4-1 1 3-3 2 1 2-4 3M564 1111l0 3-2 0M565 1089l-1 1-1 0-3 3-3-1-2 3-3-3M535 1061l1 3-4 2M536 1064l1 1M540 1087l0 2-3 1-4-2 3-3 4 2 1-3M470 1083l2-1M495 996l-2 3 1 2-1 1-3 2M479 1002l5-2M486 1008l-2 2 1 4 1 1M498 1010l2-5-1-5 3-1 0-4 2 0 4 1-2 4 0 3 4 1 1 2 5 2-2 4-5-2-1 4-3-1M494 1026l2 3 0 1M495 1023l1-1 3 5-3 2M499 1027l1 0 2-5-2-2-2 0-2 2M546 1028l-4-1-1-4 2-2 3 1M473 1039l0 4M463 1046l-1 5-1 0 0 2 2 2 4-1M472 1056l-3 0M468 1064l-4 1-2-4-2 0M577 1030l5-3 2 4 1 0 3-4M612 1062l-2 4-5-3M617 1066l-3 3 3 4-2 2 1 2 4 1M604 1064l0 4 2 1 4-2 2 2M619 1094l2-1M586 1077l-1 2M602 999l4 3M564 1114l2 1M563 1090l-2-2-4 0-1 0-4 2M511 1003l4-1 2-3-6-3-1 1 1 6-1 1M510 997l-1-1M518 995l2-1 3 3 0 1 2 3M511 1006l-2 3-5-1M509 1035l1-4 3-1 1 3M507 1028l-1 0-1-5-3-1M511 1025l0-3 2-1 3 2M515 1014l5-1 1 5 2 0 3 2 0 2 2 1 0 5 4-1 1-2-2-2-3 0M498 1020l0-1M547 1012l-3 3-3-2 0-1-5-1 0-1-2-3M541 1012l1-3M540 1006l2 2M555 1061l-4 1-3-1M551 1062l1 5 1 4M540 1074l4 1M510 990l0-3M515 989l5 0 0-3M520 1013l1-3 3 1 1 2 5-2M543 1021l0-2-5-2-2 2 4 4-4 2-2-1 2-4-2-1-2-5-3 2-4-2-2 4M519 1000l4-2M520 994l1-4 2 0 2-3 4 1 1 3M524 1034l-1 0M558 1074l-1 1-3 0-2 2-3-1-3 4M520 989l1 1M525 1013l0 1M538 988l-3 1M518 1030l2-2" stroke="#bc4c96" stroke-width="1.80" stroke-linecap="round" stroke-linejoin="round" fill="none"/><path d="M510 1135l-4-1 0-2 3-3 4 2-3 4 1 3M460 1068l4-3 3 6-1 0-6 0M474 1062l-2 5 3 2 2-2 1-4-4-1-1-1 0-4 6 1 0 4-1 1M477 1067l3 2M618 1011l2 2-1 4-1 0-4-3 4-3-3-4 2-3 2 0 1 0M487 1136l-3-3-3 2 0 3M520 1130l1-1-1-3-4-2M516 1136l0 2M464 1014l0 1 3 2 3-2 2 1 2-5-1-2-3 0-3-3 0-2 3-1 4 4M465 1012l3-1 2-2M465 993l1-1-2-5M466 992l1 0 2-1 1-5M467 992l2 3 3 0 1-3M540 1041l-1-4M544 1042l2-3-1-3-5 0M552 1016l-1 0-1 2-5-1M464 1076l1 5-4 2 2 5 3-1 0-5-1-1M470 1077l-3 4-1 1M475 1072l1 1 0 4M615 1032l-2-2-3 0M619 1040l-3 1-3-2-3 1 0 4 1 2 4-1 1-4M618 1047l-3-2M608 1035l0 3-5 2-1 0-5 2 3 3 4-1-1-4M608 1038l2 2M618 1017l-1 3 0 2 4 1M615 1007l-2 0-2 4 3 3-2 3 0 2 5 1M553 1049l0-1 0-6-2 0M553 1048l4-1 0-4-2-2-2 1M506 1124l2-4-6-3 2-3-2-3-4 1-5 1-1 3-4 0-1 5-3-1-2-2 1-1 5-2 0 1M506 1124l-5-2-1 1M490 1132l-5-2 1-4-5-2-1 0-1 3 1 2 4 2 1-1M501 1122l1-5M618 1138l-1-4-5 0-1 3M612 1134l-1-1-2-2-3 0M605 1114l-1-3-2-1-2 3-4-1-2 4-1 0-3-1-3 3 2 2 0 3-3 1-2 0 0-4 1-2 2 0M572 1135l0 4M572 1135l3 0 2 3M576 1111l1 4 1 0 5-2 2 5M502 1102l-4 2M502 1102l-2-3 1-3 1 0 2 0 2 3 4-2 1 1 4-2 1 2 1 5M483 1064l1-2 6 1 0-4-4-2-1 0 0 1-1 4M495 1062l-1-4-1-1 0-1 2-3 3-1M493 1050l-5 1 2-5 4 0-1 4 2 3M487 1050l-4 2-3-4 0-1 3-2 0-3-4-2-2 5 3 2M489 1045l1-4-6 0-1 1M498 1043l4 3 3-3 5 2 0 3M489 1053l-3 4M543 1133l1-6-4 0M535 1135l-2 3-3 0M535 1135l-3-4-3 3M496 1068l-5 2M505 1139l-1-3-3-1-2 5M544 1102l-3-1-2 1-1 3 2 3M516 1115l1-2-3-2M521 1129l4 0M510 1097l-2-5-4-2 3-4 3 3 0 2M515 1096l0-1 4-2 2 2 3-1-1-4-2-1-2 1 0 3M463 1093l-1-4 1-1M467 1096l1 5-5 1-1-4M463 1102l0 1 1 4-3 2 0 2 4 2 2 2 5 0 0-2-4-4-3 4-4 4 3 3 0 1-3 2 2 3-1 3 1 1-3 4M477 1097l2-2 0-1-4-3-1 1M476 1137l0 2M467 1135l-2-4-2-1M465 999l2-1 2-3M463 1031l2 3 3-2 0-1-3-2 0-3M465 1034l-1 3-4-1M545 1032l0 4 6-1-1-3-4-1-1 1-5-1 0-1M505 1043l2-4M564 1018l4 2 3-2-3-4 2-3 1 0 3 3-2 3-1 1M564 1013l1-4 3-1 2 3M589 1017l-4-2 2-3M589 1017l-1 4 3 1M545 995l1 0 4 2-1 4-1 0-2 3-5-3 0-1 0-1 3-1 1-3-4-3 1-2 0-1M549 1001l4 1 0 5-5-1M556 999l-1 2M577 1042l4 1 2-1 0-2-4-2-2 4-1 0 0 4 5 1 0-4M583 1042l3 2 3-2-1-2-3-2 0-2 3-2 2 3-2 3M586 1044l0 3M612 1019l-1 2-3 0-1-5M581 1047l0 1M576 1042l-3-1-1 1M477 1045l-1 0-3 5 4 1 3-3M483 1052l0 1 2 4M588 1034l0-1 2-1 4 1M590 1028l0 4M603 1021l-3 1M600 1023l4 4M588 1021l-3 0-2-1-3 0-2-3 0-2 4-1 0-3 2-2 2 0 2-2-1-3-1-1-1 0-2-2M546 989l-4 1M562 996l2-2 4 2M564 994l0-3-3-2-1-3M579 997l-1-3 3-3-3-3-4 1 0 3M574 999l4-1 2 3-1 4-2 1M570 1004l4-3M503 1109l5 0M575 1135l1-3 4 0 1 1-3 5M565 1128l-4 3-2-3-5 4 0 3M577 1105l-3-2 0-2-4-1 2-4 3 1M497 1090l1 1 4-1-1-6-1 0-4 4 1 2-3 2-3-2-3 4-3-1-1 5-2 0-2 3 4 3 0 2-3 2 0 1M502 1090l2 0M500 1084l-4-2M490 1064l0-1M481 1077l-4 1M483 1081l-2 2-4-1M488 1115l-1-3 0-1-1-5 3-1 3 3M493 1057l-3 2M484 1041l1-5-4 0M483 1053l-4 2M554 1132l5 2M555 1126l0-4 2-1 1-4-1-2 2-2 0-2M510 1073l3-4 3 2 3-1 2 1 5-2 1 2-2 4-3 1-1 0 0-5M512 1080l3-3 6-1M506 1055l4 2M526 1069l0-4-2-1 1-5M521 1113l-1-1-3 1M520 1098l1-3M520 1120l2-2 1 0 3-2 0-3 1-3 1 0M519 1090l-3-1-1-4-1 0M507 1086l0-1M515 1085l3-2 3 5M479 1094l2-2-1-4-4 0-1 3M465 1131l5-3-1-2 4-4 1 0 1 4-2 2M484 1133l0-2M472 1115l0 1-1 3-2 1-3-2M468 1109l0-1-4-1M467 998l4 3 2-1 0-3 4-1 0-3M477 996l1 1 0 5M482 992l1 1M477 1016l-5 0 0 4-1 1-5 0M477 1016l0 5-5-1M498 1040l3-1 1-2 5 1M521 1047l5-3 1 6M519 1046l-3 0M521 1040l-3-4M502 1037l-1-3 3-2 4 3M574 1014l3-1M592 1009l0-1 0-5M575 1023l-2 1-5-2-2 3 1 3 0 3 3 2 1 1-2 3-1 0-2-1 1-5M561 1022l3 3M614 1056l-2 0-4-3-3 5 1 1 3 0 3-3M571 1093l3-2 1-1 1-1M571 1093l-1 0-5 3M574 1101l1-2M570 1093l-2-3M577 1069l5 0 1-3 3-2 2 2-1 4-4 0-1-1M571 1067l-2-1-4 3 2 3 5 0 0-1M592 1045l2 0 3-3M563 1048l-1-1-4 1-1-1M557 1059l4 1M553 1052l-1 1 0 3-4 2-2-4 0-1-1-2 1-2M545 1051l-5 1M576 1062l-2 0M572 1061l-4 2 1 3M594 1045l3 4-2 3M618 994l-3-1M614 999l-1-5-5 2-2-5 4-2M551 1022l-1-1-4 1 0 5M558 1036l4-1-1-4-4 1M481 1026l-1-4-3-1M476 1038l-3 1-3-2-2 2M587 986l1 5M596 992l2-3M557 992l4-3M568 990l-2 0-2 1M493 1108l4 2M611 1093l-1-4 5-2 1 6-5 0-2 3-4-3 0-2 3-3M616 1093l1 1 2 0 2 5-4 2M615 1119l-3 2 3 4-1 1-5 1 0 4M603 1130l-1-3 5-3M594 1116l3 2 2 0 3 2 0 1-3 4-3-4M580 1096l5-1M588 1093l-3 1-2-4 3-2 2 4 4-3 2 2 1 2M588 1093l0-1M529 1081l1 1 5-1M538 1105l-4 1-1-3-5 0 1-4 5 0 0 1-1 3M525 1098l4 1 1-6M580 1132l0-3-4-3-1 0-3-1-2 1M580 1129l2-2 4 3-2 4 1 2-2 4M573 1083l-2-2-1 0-3 3M569 1106l5 4-3 3M486 1035l0-1 6 0M523 1136l1 2M535 1121l1 2M536 1118l5 0 1 1M534 1099l1-4-4-2M558 1117l3 0 1-3-3-1M553 1118l2 4-5 1-2-1M542 1121l-3 3M548 1058l0 2 0 1-2 4-2 0-3-3-4-4-2 3-3-1-2 2 0 2-4 1M512 1068l1-3M522 1064l-3 2M467 1081l3 2 0 4M480 1088l2-2 4 2M471 1119l2 3M480 1124l-3-4-3 2M470 1102l4 4 1-1M474 1106l1 3M495 1104l-3-2 0-3M484 1098l2 1 0 1M468 1011l2 4M473 1029l3-2M486 987l2 3M495 991l-1 2 1 3 3 0 2-2M492 987l-3 3M462 1042l5-1 1 1 4 1 1 0 3 2M573 1039l3-4M580 1020l-2 2 4 4M605 1050l-2 1M599 1070l-4 2 0 2-4 1-2-3-3 3 0 2 5 1 1 2 4 0M606 1059l-1 4-1 1-4 0M563 1066l-3-1 0-1M572 1077l-5-1-1 3-3 1M608 1086l-6-1 0-2M602 1082l5-2M583 1070l-1 3 4 2M606 991l-1 0-2-5M607 1010l-1-6 0-2 2-3 5 2M567 1028l5 0M599 989l3 4 3-2M601 995l1 1 6 0 0 3M566 990l1-4M601 1089l-2 3M592 1089l-1-2-4-1-1 2M606 1100l3-4 3 2M606 1100l2 3M602 1127l-3-2-2 1M602 1120l3-4-5-2-1 4M592 1124l-3-1M584 1124l-1 1M590 1082l-3 1-2-4-2 1-2-3M577 1079l1 1 3 2 2-2M563 1102l2 3-3 3M559 1104l3-2M547 1094l1-1-1-2 3-4 2 3 0 2-4 1M543 1056l0 4-2 2-4 3 2 3-4 3-3-3-5 3 5 4 3-3 0-1M530 1082l0 4M539 1068l2 1-1 5-1 1-4-3M475 1087l1-4M498 990l1-5M498 996l1 4-5 1M484 1005l2 3 3 0 2 2 0 1 2 4 0 1 5 3 1-5-1-2 0-2-4-2-3 2M494 1008l1-3M481 1021l1-2 4-3 1 1 5 1 0 4-2 1-1 3 1 2 4-2 1-3-3-1M490 1028l2 4M492 1018l1-2M503 1010l-5 2-5 3M541 1001l-2 5M477 1051l0 2M473 1056l-1 0 0-5M473 1061l-4 0M462 1061l1-1M582 1034l0-1 2-2M617 1065l0 1 4 3M614 1069l-2 0-2 3 2 3-2 3M610 1066l0 1M614 1082l6-1M600 1001l-3-1-3 2M581 1084l-5 1M561 1075l-3-1-1-4 1-1 2-4M502 999l4 1M515 1002l2 3-1 3 5 1 1-5 2 0 1-3 4-1 1-2 3-1 0-5M511 996l3-4 4 3-1 4 2 1 2 3-4 2M514 992l0-1-4-1-2 1-3-1M514 1012l1 2-1 2-5 0-1-2M510 1031l-3-3 4-3 3 3 0 1-1 1M514 1028l3-4-1-1 3-4 2-1 1 6M514 1029l4 1 1 4 4 0 0-4M509 1016l-1 1M500 1020l3-3 3 2M550 1018l0 3M536 1011l-1 2 3 4 3-4M558 1083l-2 3-3-2-3 3M556 1063l-1 3 3 3M541 1069l6 2M552 1082l-5 0M514 991l1-2-1-4M519 1019l-5-3-1 5M535 1013l-3 0M541 1023l-1 0M521 1003l1 1M536 1001l-2-4M555 1066l-3 1-4 1M554 1075l-2-4-4 1 1 4M521 1009l0 1M529 988l1-2M519 1034l-1 1M533 1032l1-1 4-2-2-4" stroke="#a83a86" stroke-width="1.80" stroke-linecap="round" stroke-linejoin="round" fill="none"/><path d="M465 1137h0M508 1130h0M465 1067h0M464 1071h0M467 1071h0M473 1063h0M472 1067h0M477 1068h0M478 1063h0M477 1063h0M620 1061h0M618 987h0M487 1136h0M491 1137h0M494 1136h0M496 1139h0M520 1133h0M516 1130h0M514 1131h0M514 1131h0M519 1135h0M510 1136h0M465 1011h0M461 1006h0M462 992h0M461 998h0M466 992h0M469 990h0M546 1039h0M543 1036h0M556 1012h0M465 1076h0M469 1071h0M466 1075h0M471 1077h0M470 1068h0M478 1068h0M475 1072h0M620 1033h0M615 1034h0M619 1040h0M619 1053h0M618 1049h0M618 1051h0M603 1034h0M601 1035h0M608 1037h0M603 1040h0M620 1004h0M618 1017h0M617 1017h0M619 1004h0M616 1009h0M553 1049h0M553 1042h0M551 1042h0M609 1034h0M510 1125h0M512 1121h0M514 1125h0M514 1125h0M506 1124h0M493 1132h0M501 1129h0M498 1135h0M495 1128h0M494 1126h0M499 1125h0M504 1123h0M500 1123h0M607 1137h0M618 1137h0M618 1133h0M608 1137h0M610 1118h0M607 1114h0M605 1114h0M611 1114h0M605 1116h0M572 1138h0M570 1135h0M579 1115h0M577 1113h0M499 1063h0M498 1064h0M495 1062h0M495 1066h0M494 1046h0M488 1051h0M484 1045h0M487 1045h0M489 1045h0M497 1044h0M500 1045h0M494 1046h0M548 1137h0M549 1136h0M543 1134h0M534 1137h0M539 1137h0M501 1068h0M500 1064h0M502 1065h0M503 1136h0M548 1107h0M545 1105h0M515 1116h0M513 1119h0M518 1120h0M513 1119h0M520 1126h0M507 1103h0M504 1105h0M508 1098h0M511 1097h0M515 1097h0M514 1096h0M467 1096h0M465 1097h0M463 1093h0M462 1098h0M467 1098h0M476 1100h0M472 1098h0M473 1097h0M474 1096h0M476 1138h0M469 1135h0M470 1135h0M462 1004h0M464 998h0M466 1003h0M463 1032h0M468 1033h0M473 992h0M477 987h0M545 1036h0M510 1047h0M503 1045h0M563 1018h0M561 1013h0M586 1015h0M589 1017h0M585 1014h0M549 1001h0M552 1002h0M555 1001h0M610 1043h0M610 1045h0M614 1036h0M618 1040h0M604 1041h0M609 1044h0M579 1038h0M583 1040h0M581 1043h0M585 1044h0M617 1022h0M617 1021h0M611 1021h0M577 1047h0M576 1046h0M567 1046h0M571 1043h0M483 1045h0M477 1044h0M482 1051h0M480 1048h0M590 1037h0M594 1029h0M591 1032h0M590 1029h0M588 1033h0M588 1033h0M606 1023h0M600 1018h0M598 1013h0M595 1016h0M600 1023h0M590 1024h0M590 1022h0M546 987h0M549 988h0M562 997h0M557 994h0M567 1001h0M565 995h0M584 994h0M579 996h0M583 991h0M583 987h0M574 991h0M578 988h0M571 1004h0M486 1130h0M486 1127h0M487 1121h0M490 1116h0M492 1116h0M487 1121h0M567 1130h0M575 1110h0M576 1106h0M554 1107h0M502 1090h0M500 1084h0M501 1087h0M500 1084h0M506 1098h0M492 1070h0M490 1066h0M485 1081h0M488 1115h0M493 1113h0M488 1115h0M493 1056h0M484 1041h0M490 1041h0M493 1042h0M490 1061h0M484 1062h0M486 1057h0M492 1058h0M486 1056h0M484 1058h0M483 1053h0M485 1056h0M525 1129h0M527 1123h0M550 1137h0M555 1131h0M559 1127h0M559 1128h0M554 1132h0M554 1133h0M562 1131h0M561 1130h0M541 1046h0M515 1077h0M509 1056h0M522 1070h0M521 1074h0M526 1075h0M527 1071h0M522 1076h0M521 1076h0M527 1111h0M521 1113h0M522 1100h0M522 1118h0M520 1120h0M520 1125h0M524 1117h0M522 1129h0M530 1123h0M519 1093h0M522 1090h0M515 1094h0M506 1086h0M510 1089h0M508 1092h0M514 1085h0M507 1084h0M501 1084h0M506 1085h0M514 1085h0M477 1097h0M479 1094h0M462 1124h0M463 1127h0M467 1134h0M477 1135h0M484 1133h0M468 1115h0M463 1103h0M463 1122h0M464 1120h0M465 1114h0M461 1110h0M466 1118h0M487 1108h0M489 1105h0M468 997h0M471 1000h0M479 992h0M480 991h0M478 997h0M473 1014h0M550 1010h0M554 1008h0M553 1007h0M548 1002h0M553 1006h0M532 1039h0M537 1042h0M521 1047h0M521 1047h0M521 1040h0M522 1049h0M531 1045h0M505 1037h0M506 1041h0M508 1034h0M502 1033h0M516 1041h0M510 1044h0M571 1018h0M573 1016h0M573 1013h0M570 1011h0M571 1011h0M565 1014h0M574 1013h0M573 1017h0M568 1009h0M569 1005h0M592 1011h0M592 1005h0M584 1002h0M585 1003h0M583 1010h0M577 1010h0M578 1005h0M584 1015h0M576 1007h0M584 1004h0M574 1024h0M556 1024h0M616 1051h0M614 1054h0M573 1101h0M568 1099h0M566 1095h0M577 1068h0M576 1070h0M581 1048h0M591 1044h0M564 1052h0M563 1050h0M563 1056h0M563 1056h0M559 1053h0M567 1054h0M552 1056h0M552 1053h0M562 1057h0M558 1059h0M559 1053h0M553 1052h0M545 1051h0M551 1053h0M561 1060h0M566 1061h0M567 1056h0M579 1064h0M583 1066h0M576 1062h0M574 1064h0M583 1069h0M604 1044h0M599 1041h0M597 1042h0M594 1045h0M616 1025h0M612 1026h0M618 1028h0M617 1022h0M618 994h0M615 999h0M547 1031h0M556 1026h0M556 1033h0M558 1038h0M554 1038h0M557 1038h0M554 1042h0M556 1039h0M557 1032h0M566 1036h0M478 1028h0M479 1039h0M484 1040h0M479 1039h0M483 1036h0M588 990h0M598 989h0M552 988h0M551 992h0M557 993h0M555 991h0M547 990h0M573 988h0M559 1011h0M503 1115h0M502 1117h0M497 1112h0M502 1120h0M504 1118h0M510 1115h0M509 1116h0M484 1125h0M606 1090h0M607 1094h0M605 1092h0M615 1087h0M612 1115h0M618 1118h0M616 1119h0M615 1118h0M619 1116h0M606 1133h0M608 1131h0M610 1132h0M601 1133h0M592 1116h0M594 1111h0M579 1101h0M575 1104h0M529 1080h0M522 1077h0M525 1080h0M528 1081h0M545 1099h0M540 1102h0M581 1133h0M576 1133h0M575 1130h0M570 1126h0M578 1117h0M582 1127h0M559 1134h0M559 1137h0M564 1136h0M574 1091h0M571 1081h0M569 1081h0M571 1107h0M506 1079h0M512 1081h0M496 1081h0M495 1082h0M491 1081h0M493 1076h0M496 1088h0M489 1081h0M495 1091h0M520 1086h0M520 1082h0M491 1038h0M486 1035h0M490 1040h0M485 1036h0M485 1032h0M524 1135h0M531 1132h0M525 1130h0M521 1135h0M534 1134h0M533 1138h0M536 1118h0M536 1116h0M536 1118h0M542 1118h0M534 1101h0M534 1099h0M529 1099h0M534 1100h0M534 1111h0M531 1108h0M530 1108h0M530 1112h0M557 1120h0M555 1122h0M554 1120h0M561 1123h0M555 1124h0M557 1121h0M555 1122h0M544 1124h0M546 1127h0M548 1127h0M543 1121h0M543 1133h0M544 1127h0M534 1127h0M536 1129h0M536 1123h0M548 1057h0M512 1061h0M513 1067h0M521 1061h0M525 1063h0M518 1059h0M525 1065h0M526 1069h0M466 1083h0M465 1081h0M468 1089h0M469 1078h0M480 1088h0M471 1118h0M464 1121h0M469 1120h0M472 1135h0M478 1132h0M472 1100h0M468 1103h0M468 1108h0M480 1101h0M475 1103h0M480 1102h0M475 1105h0M496 1102h0M492 1101h0M482 1098h0M484 1098h0M483 1107h0M485 1094h0M482 1093h0M472 1005h0M469 1004h0M467 1005h0M469 1008h0M466 1004h0M467 1012h0M470 1009h0M466 1021h0M464 1015h0M466 1021h0M470 1027h0M475 1025h0M471 1024h0M480 1022h0M487 989h0M494 989h0M530 1039h0M529 1039h0M461 1036h0M465 1035h0M462 1042h0M568 1037h0M572 1039h0M569 1032h0M571 1034h0M581 1020h0M612 1050h0M605 1050h0M612 1050h0M611 1055h0M606 1074h0M595 1073h0M598 1070h0M609 1059h0M606 1059h0M568 1063h0M563 1065h0M572 1072h0M570 1067h0M571 1072h0M566 1070h0M571 1062h0M571 1058h0M567 1062h0M572 1077h0M572 1072h0M576 1075h0M596 1058h0M605 1085h0M607 1077h0M571 1053h0M574 1048h0M579 1052h0M575 1048h0M557 1044h0M558 1048h0M556 1048h0M583 1070h0M582 1073h0M584 1070h0M592 1070h0M589 1071h0M611 992h0M610 988h0M610 988h0M610 988h0M614 993h0M613 994h0M608 996h0M616 988h0M613 996h0M598 1013h0M604 1005h0M614 1007h0M612 1008h0M567 1030h0M567 1031h0M572 1028h0M572 1027h0M601 994h0M602 996h0M561 988h0M562 990h0M566 988h0M558 991h0M568 990h0M487 1115h0M483 1118h0M619 1123h0M617 1122h0M594 1091h0M590 1090h0M593 1090h0M595 1093h0M594 1106h0M609 1096h0M607 1102h0M602 1105h0M604 1101h0M618 1112h0M614 1125h0M614 1125h0M605 1126h0M613 1121h0M599 1125h0M601 1123h0M599 1124h0M602 1120h0M605 1122h0M604 1116h0M592 1125h0M594 1125h0M597 1127h0M592 1124h0M599 1125h0M588 1135h0M590 1132h0M584 1133h0M590 1129h0M585 1130h0M586 1124h0M584 1120h0M586 1118h0M591 1124h0M583 1125h0M583 1120h0M583 1114h0M596 1112h0M602 1110h0M602 1110h0M599 1107h0M596 1112h0M603 1110h0M594 1080h0M591 1080h0M588 1092h0M583 1090h0M586 1088h0M589 1082h0M586 1086h0M581 1076h0M580 1077h0M539 1089h0M566 1123h0M563 1121h0M572 1078h0M569 1102h0M565 1105h0M569 1106h0M562 1108h0M558 1114h0M562 1102h0M565 1110h0M487 1093h0M491 1091h0M487 1087h0M490 1088h0M490 1096h0M486 1088h0M494 1092h0M481 1083h0M544 1055h0M542 1056h0M536 1060h0M533 1061h0M535 1056h0M529 1078h0M529 1081h0M532 1076h0M528 1071h0M535 1065h0M533 1069h0M539 1068h0M530 1069h0M540 1087h0M536 1085h0M475 1087h0M471 1124h0M470 1128h0M470 1128h0M475 1127h0M475 1126h0M469 1126h0M481 1109h0M494 994h0M495 996h0M499 991h0M480 996h0M483 1000h0M491 1011h0M485 1014h0M493 1000h0M491 1003h0M498 997h0M496 1009h0M499 1007h0M484 1022h0M481 1021h0M485 1025h0M489 1024h0M490 1028h0M488 1017h0M502 1028h0M498 1028h0M495 1023h0M498 1011h0M501 1011h0M546 1031h0M546 1027h0M541 1000h0M543 998h0M522 1039h0M465 1042h0M475 1039h0M469 1038h0M474 1049h0M474 1050h0M473 1040h0M465 1046h0M478 1054h0M480 1054h0M477 1052h0M473 1056h0M473 1062h0M473 1058h0M464 1065h0M467 1064h0M462 1061h0M579 1021h0M576 1031h0M575 1035h0M576 1036h0M580 1036h0M582 1033h0M576 1024h0M575 1037h0M584 1036h0M586 1029h0M584 1030h0M584 1031h0M585 1022h0M582 1033h0M610 1061h0M615 1061h0M614 1062h0M620 1063h0M617 1066h0M616 1071h0M600 1049h0M601 1055h0M599 1046h0M620 1099h0M619 1093h0M612 1076h0M615 1082h0M617 1077h0M589 1077h0M586 1074h0M591 1075h0M586 1078h0M585 1075h0M582 1078h0M586 1081h0M592 1075h0M599 1005h0M599 1000h0M602 997h0M606 1003h0M608 1005h0M606 1004h0M614 1000h0M599 1100h0M612 1101h0M609 1096h0M575 1089h0M583 1085h0M533 1088h0M531 1093h0M528 1088h0M529 1093h0M533 1088h0M535 1081h0M526 1089h0M559 1117h0M562 1116h0M563 1120h0M567 1114h0M566 1116h0M555 1095h0M555 1094h0M559 1092h0M557 1099h0M561 1091h0M552 1097h0M560 1088h0M563 1090h0M548 1059h0M543 1059h0M537 1074h0M477 1081h0M473 1077h0M476 1078h0M477 1082h0M475 1085h0M503 990h0M500 1000h0M502 996h0M506 1001h0M514 1002h0M511 1000h0M515 1001h0M511 996h0M517 999h0M518 995h0M512 1007h0M510 1006h0M512 1011h0M515 1009h0M511 1006h0M516 1007h0M506 1003h0M507 1009h0M512 1026h0M513 1030h0M509 1027h0M506 1028h0M507 1028h0M509 1011h0M514 1015h0M513 1016h0M502 1022h0M545 1014h0M550 1017h0M549 1021h0M540 1007h0M536 1010h0M536 1010h0M467 1051h0M462 1049h0M610 1067h0M606 1069h0M611 1073h0M621 1083h0M616 1087h0M580 1085h0M577 1079h0M557 1088h0M556 1085h0M547 1092h0M550 1093h0M554 1089h0M550 1087h0M552 1085h0M554 1085h0M548 1094h0M561 1063h0M555 1060h0M556 1063h0M553 1062h0M549 1061h0M540 1074h0M540 1072h0M541 1069h0M551 1082h0M506 996h0M512 991h0M510 996h0M514 990h0M515 987h0M517 1024h0M517 1022h0M515 1022h0M511 1022h0M514 1028h0M505 1023h0M506 1027h0M503 1017h0M511 1022h0M499 1014h0M495 1017h0M493 1015h0M495 1014h0M493 1017h0M492 1012h0M536 1011h0M539 1017h0M546 1022h0M542 1022h0M543 1021h0M518 1004h0M519 1000h0M523 998h0M520 994h0M522 996h0M532 1013h0M535 999h0M531 998h0M529 1035h0M527 1033h0M521 1018h0M526 1020h0M465 1055h0M463 1060h0M461 1054h0M556 1065h0M556 1067h0M557 1071h0M552 1077h0M555 1075h0M558 1079h0M522 990h0M518 989h0M522 1004h0M522 1005h0M521 1004h0M524 1003h0M519 1009h0M528 1012h0M520 1013h0M524 1016h0M525 1013h0M533 996h0M529 988h0M544 989h0M519 1033h0M519 1029h0M528 1031h0M534 1034h0M534 1032h0M552 1068h0M549 1067h0M552 1067h0M554 1075h0M555 1066h0M544 1070h0M532 1015h0M531 1015h0M527 1015h0M537 1020h0M536 1025h0M541 1023h0M535 1019h0M537 1027h0M529 1027h0M528 1027h0M530 1023h0M527 1023h0" stroke="#962a70" stroke-width="2.4" stroke-linecap="round" fill="none"/></g><path d="M286 528 Q286 522 292 521.5 Q298 521 301 520 Q300.5 527 298 532 Q294 535 289 533.5 Q286 532 286 528 Z" fill="#9c1f68" opacity="0.9"/><path d="M288.6 527.5 Q289 524 293 523.8 Q296.5 523.5 298 522.5 Q297.5 528 295.5 530.5 Q292 532 290 531 Q288.5 530 288.6 527.5 Z" fill="#ffffff"/><path d="M297 532 Q301 537 304 541 Q306 544 307 546" fill="none" stroke="#a8307a" stroke-width="2.2"/><path d="M298 558 Q302 554 307 553" fill="none" stroke="#a8307a" stroke-width="2.2"/><ellipse cx="254.5" cy="532" rx="2.6" ry="13.5" transform="rotate(20 254.5 532)" fill="#f2e4ef" stroke="#b0488e" stroke-width="1.2"/><ellipse cx="254.5" cy="532" rx="0.9" ry="10" transform="rotate(20 254.5 532)" fill="#ffffff"/><path d="M235.5 503 L235.5 517" stroke="#a02a72" stroke-width="1"/></g><rect x="233.9" y="497.0" width="72.7" height="68.60000000000001" fill="none" stroke="#222" stroke-width="0.9"/><clipPath id="ch2"><rect x="311" y="496.6" width="74.5" height="69.4"/></clipPath><g clip-path="url(#ch2)"><rect x="311" y="496.6" width="74.5" height="69.4" fill="#e2f5f6"/><g transform="scale(0.5)"><path d="M717 1110L720 1112L722 1110L722 1105L722 1105L717 1107L716 1107ZM728 1074L726 1078L728 1079L733 1077L732 1074ZM739 1137L744 1139L745 1137L744 1134L742 1132L739 1135ZM772 1092L770 1094L766 1092L767 1088L770 1087L772 1089ZM712 1113L706 1115L709 1118L713 1118L714 1115L714 1113ZM725 1038L722 1038L720 1040L721 1043L725 1042L726 1041ZM747 1037L747 1037L747 1035L744 1033L741 1035L741 1039L741 1039ZM707 1090L706 1092L709 1095L712 1094L713 1092L711 1089ZM717 1046L720 1046L721 1043L720 1040L716 1039L714 1042ZM703 1121L703 1126L699 1128L699 1127L699 1123ZM777 1115L778 1117L776 1121L772 1121L772 1121L772 1118L773 1116ZM776 1054L780 1056L778 1059L774 1060L774 1054ZM682 1040L682 1041L686 1043L687 1043L687 1038L685 1037ZM666 1058L667 1058L666 1054L663 1053L660 1056L661 1058L665 1059ZM667 1069L671 1070L673 1066L669 1064L667 1066ZM756 1017L756 1020L760 1023L762 1019L760 1017ZM663 1064L665 1059L666 1058L670 1062L669 1064L667 1066ZM661 1125L665 1128L665 1128L667 1124L666 1123L662 1123ZM652 1127L651 1131L654 1132L658 1128L658 1127L657 1126ZM663 1074L658 1071L658 1071L657 1072L656 1074L658 1078L662 1076ZM709 1002L713 999L714 1000L714 1001L713 1006L712 1006L709 1004ZM646 1109L641 1109L640 1108L642 1105L647 1105L647 1106ZM671 1029L673 1028L674 1024L674 1023L668 1024L668 1027ZM686 1008L687 1010L689 1010L692 1006L690 1003L689 1003L689 1003ZM642 1086L639 1088L640 1091L642 1092L644 1091L644 1088ZM766 989L770 990L772 988L771 986L766 985ZM648 1026L647 1025L645 1024L641 1026L645 1030L648 1027ZM669 1010L672 1008L669 1003L666 1004L665 1007L668 1011ZM622 1085L619 1083L617 1084L616 1088L621 1090L621 1090ZM615 1024L614 1029L616 1031L619 1030L617 1025ZM620 995L623 994L622 990L619 988L618 989L617 994Z" fill="#b8448e"/><path d="M615 1132l4 0 0 5-5-1M619 1137l0 1 5-3 1 0 1 0 6 0 4 3 2-4 3-1 1 4 4 0 1-1 3 2 4-2 0-3 6 1 2-2-4-4-4 4 0 1M620 1043l-1-1-4-1M620 1043l2 2 4-2 2 2 0 3-2 2 0 1M624 1039l-5 3-1-6M621 1056l-5 0M622 1030l2-3 0-1 4-3M619 1030l-2-5 4-2 0-4 2-1 5 3 4-1 1-2 2 0 2-4M664 1044l-1-3-3-1M679 1052l2-6 4 1 1 2-6 3-1 0M775 989l-1 0-2-1-2 2 0 3 4 2 0 1-2 3 1 4-1 1-4-2-3 3-1 0-2-4-3 0-1 2-3-1-1-2 3-3-1-1-3-1-2 3 3 2M774 996l1 0 4-1M775 1069l2-3-3-4 0-1-1 0-6 2 1 3 4 0 2-4M773 1069l-1-3M629 1034l1 0 4 5 3-4 4 1 1-3 2-2 4 3 3 1M631 1041l3-2 3 2M632 1059l-2-1 0-4-3-1-3 4M630 1058l-2 1 0 5 1 0 1 0 3 3 0 3 3 1M619 1083l-2 1-1 4 5 2-2 4-4 0M619 1083l3 2-1 5 3 1 4-5-5-2-1 1M629 1064l-1 5-5-1 0 1 0 3 2 1 0 3-3 2M691 1054l-2 3-4-2 2-5-1-1M689 1057l0 2-4 2-2-3 1-2M701 1067l3-3 0-1M701 1067l2 3 1 0 2-3-2-3M662 1051l-3-2 1-3-3-3M744 1033l3 2 3-3-1-2-5-1 0 4-3 2M750 1032l4 3M778 1059l-4 1 0-6 2 0 0-4-1-1-3-6 4-1 1-3-1-1-4-2-4-2-1 0-3-2-3 1M774 1054l-4-1M760 1055l0 1 3 2 4-1 0 5 0 1M760 1035l1 0 4 3-4 4-5 1M756 1029l0-3M762 1043l4 1 0 5M681 1046l-1 0M761 991l1-1-2-4M761 991l-4 1-2-2 0-2-5 0-2 2 0 2 1 6 1 0-1 5 0 1-3-2M618 1124l1 2-1 1-4 1M766 1074l4 3M774 1080l-2 4 4 1 2-2M768 1066l-2 2M695 1046l-3 2-1 0M696 1052l3 2 4-3M750 1137l3 1 4-2 1 0 4 0 2 1 0 2M750 1137l1-4 3 0 3 2 0 1M694 1057l-2 4-3-2M758 1082l-5 0-1 4-2 1 0 1-3 1-2-2 1-3 1 0 3 3M755 1077l-3 4-1 0-1-5M751 1081l-2 0-5-2 0-1 4-2M630 1034l5-2M645 1030l-4-4 4-2-2-4M648 1027l2 3 3 0 0-5 4 0 1-2-1-4 4-2 0-3-3-1-1-5 3-1 3 1-1 5-1 1M622 990l-3-2-1 1-2-1M624 1026l-3-3M628 1021l0-5 3-2 2 4M639 1053l-2-4M622 1079l2 2 3 0 2-4-4-1M618 1072l-3-1M685 1061l0 2 4 2M692 1061l3 2M748 1072l-2-1M742 1076l-2 1-1 6 2 1 2-1 1-4M732 1029l-1 3 4 3 0 3-2 0 0 6 4 1 1 0 0 1 5 4 1 2 4 1 1 3-3 3 2 4M745 1025l0-2 1-2 5 0-1-5 4-1-2-5-3 0-1 1 2 5-4 1 0 4M739 1025l3-3 3 1M768 1013l2 4 2 0M774 1012l-4-1 1-4-4 0-2-2M764 1005l-1 0-4 0-1-2M756 1020l0-3 4 0 1-3-3-2-3 3 1 2M762 1026l4 2 3 2-1 4M766 1023l1 1 3 1 2 4 1 0 2-2-1-4 2-2 1-3M760 1056l-2 1M749 1010l-2-3-4 0-1 3M619 1126l4-1M771 1084l-1 3 2 2 0 3 4 2 2-4M735 1017l2 0M764 1137l3-1 0-4 5-1 1 5-2 1-4-1M729 1133l0-2 2-3-1-3 0-2 6 1 0 1 2 1 4 0 1 2M736 1124l1-3-5-3 0-1 1-2 1 0 4 1-1 5 4 0 1 2 0 3M713 1092l-1 2 2 3-1 2-5 0 1-4 3-1M737 1100l2 3M737 1100l-5 1 0 1 0 2 2 1 2 4-6 0 0-1 2-4M758 1092l2 2 3-2M766 1092l4 2 0 3-2 2-3-1 0-5M754 1096l2 2M757 1135l2-3M751 1133l-1-1-2 0M750 1132l1-4M760 1125l-1-3 3-2M759 1122l-2-5-1-4 4-1 1-2-2-3-5 2-2-1-1 0-3-5M771 1137l0 1M737 1096l-4 0 0-3 0-1-6 1-1 3 0 5-4 1-2-2 0-2M739 1094l-2-3-4 2M741 1089l1-1 3-1M723 1083l-1 4 1 1-1 2M727 1082l1-3-2-1-4-1 0-3-3-2 0-2-3-2-2 3 2 3 0 1-4 3-2-2 0-4-1-5-3 0M716 1088l1 3M749 1081l-2 3M746 1093l1-4M743 1083l3 1M740 1077l-3-1-1-4 1-1 4-1M710 1065l2 0 4 3 2-5-3-1-3 3M639 1068l0 2M639 1068l1-1M647 1135l3-4 1 0 3 1M638 1129l-1-2M654 1031l0 3M689 1038l-2 0 0 5M623 994l1 1M642 1061l4 3 2 0 4 3 2-2-1-4-3-1-2 4M642 1061l4-3-2-4M624 1081l-1 3M623 1068l0-1 2-3-2-2-3 0M617 1066l-1 0M659 1037l3-1 0-4-3 0-1 4M661 1058l-2 3-1 0-2-1 0-3M661 1058l4 1M652 1067l-1 3M737 1071l-2-4-4 3 1 3 0 1M746 1017l-2-1 2-4M742 1022l-1-3M773 1029l1 3-2 4M772 1029l-3 1M767 1034l-2 4 2 1 0 4 4 1-2 5M749 1004l-2 3M739 995l5-1 0-1 4-1 4 1 3-3M743 1007l-2-2 1-1M733 986l-1 4-1 0-3-4M731 990l-1 0-4 1-2-3-3 3-2-2-2 2 0 3 1 2 2 0 2-3-1-2M669 990l-3 1-1 0-4 3M698 1032l3 0 1-5-1 0-5 1 0 1M701 1032l1 1 0 3-1 2M662 997l-3 4 1 1 0 5M622 1114l1-5 0-1-4 1-1 3M619 1094l2 4-5 2 2 4-1 2 2 3M730 1008l0 4M730 1008l4 0M709 1040l2-4-1-3-3-1-5 1M711 1127l5 0-2 5-4-1-1-1M710 1131l-1 3-3 2-3 2M726 1127l-3-3 3-4 3 2M723 1124l-1 0 0 6M723 1131l1 5M739 1137l-1 2-4-3-1 1-4-2M716 1075l2 3M710 1072l-4 0-2-2M694 1092l-1-5 3-2 4 3-4 4M703 1086l-1-5M693 1087l-2-1M695 1082l-4-2-1 1M706 1072l-1 4-1 0-1 5M720 1100l-4 2M738 1116l2-1 3 2 0 1-2 3M730 1111l0-2M743 1118l5 3 3-4-1-2-1-1 0-4 2-2M743 1117l3-2 3-1M732 1102l-4 0-2-1M754 1102l1 1-3 5M750 1115l5-2-1-4M755 1113l1 0M748 1121l0 2M753 1123l1 0M773 1101l-1-3-2-1M768 1099l0 3M772 1098l4-3 0-1M722 1074l3-2M734 1082l0-4M728 1088l-1 5M660 1134l-1 5M627 1121l1-3 1 0 3 2 3-2 1 4M665 991l-1-2 2-3M655 997l4 4-3 2-3-2-3 0-1-6 2 0 4 1 3-3M649 995l-3 0-2 4 3 3-2 5-3-1-1-1 2-5M628 1016l-4-1-1-2 7-3-4-3-3 1-2-1-3 3 2 3-4 3M623 1008l0 5-3 0M626 1003l4 1M653 1094l3 4-4 3 1 2 4 2M659 1097l4 1 1 0 1-1 5 0 1-3 1-1 0-3M686 1080l-1-4 4-1 2 4 0 1M686 1085l-2 3 3 3M657 1084l-2 5M753 1062l1 0 3 0 1 0M740 1014l-1-3M772 1043l-2-5-3 1M701 1010l-1-1 2-2 4-1 0-1-3-4 1-1 2-1 0-1 4-2 3 3-4 3 0 2-3 1M704 1021l2 3-2 3M700 1009l-4-1M744 993l-2-3M737 999l-4-1-1-2-1-1-1-5M754 1008l2 0 2 2 4-1M758 1012l0-2M694 1020l-3 2 1 3M672 1008l1 0 2-4 3 1 2-3 0-1 3-3-3-3-1 1-1 4 2 1M641 990l-3-2-3 1-3-4M641 990l-2 3-4-2-2 1-5-3-2-1M683 989l4 1 2-4M687 990l0 1-2 3-4-1-1 2M687 991l3 1M720 1131l-4-4 0-1M703 1132l-3-1-1-3 4-2M699 1128l0-1M691 1136l-4 3M699 1123l4-2M714 1120l-1-2 1-3 6 1M713 1118l-4 0M715 1082l-2-2M772 1121l0-3-6-2 0 5M764 1106l4 1M733 1096l-1 2M731 1070l-2-1-2 3M711 1047l5 0 1-1M715 1062l-1-3M691 1120l3 2M688 1121l-3-2-3 2-3-2M658 1127l-1-1M629 1086l7 0 0-2M631 1092l1 1 1-1 3-6 3 2 1 3-2 2-5-1M640 1091l2 1 2-1 2 1 1 4 2 0M638 1093l1 4 4-1 2 1 2-1M652 1094l-1-4M635 989l0 2M645 1007l5 1 1-3M655 1005l1 2 1 1M656 1007l-5 3-1-2M654 1015l-2-2-1-2 0-1M658 1078l4-2 3 4-2 1 0 4M684 1071l-4 1M735 1065l4 0M741 1062l-2-2-3 0-2 3-5-4 4-4-2-3-3 0-2-4M736 1060l-1-4 2-2 4 2 3-4M703 993l3 5M704 990l3-3M718 1002l4-3 2 6M724 1006l4-4M710 996l1-2-1-1M698 1000l-4-2-1 4M673 1008l2 1M678 1000l-3 0M676 1018l0 1-2 2-5-3M621 1098l2 0M720 1040l1 3 4-1 1-1M685 1131l1-2M682 1136l-2 1-3-4-4 2-1 0 0-4 3-2M699 1116l4 2M696 1105l2 0M684 1088l-3 3 0 3 0 5-2 1M773 1116l-2-4M714 1058l4 0 1-2 2-1M684 1125l-2-2 0-2M682 1123l-3 3M651 1115l-3 1-2-3-4 0-1-4 5 0M653 1113l-1-2-5-1-1 3M671 1125l-4-1-2 4 4 2 2-5 1-1 0-1M664 1134l3 0 2 2-1 3M669 1136l3-1M644 1091l0-3M639 1101l0-4-4 1-2 3M665 1096l2-4M642 1113l0 1-3 1-1 2 2 2M629 1118l2-3M630 986l-2 3-2 6 3 2 0 1M618 1010l-1 0M680 1079l-3 4-3-3-2 0M676 1076l-3-3-2-3 2-4-4-2 1-2M749 1051l0-2M737 1052l-1-2-3-1-2 3M726 993l-4 0M715 989l2 2M623 1109l5 2M706 1115l0-1-5-4M714 1113l-2 0M629 1110l-1-5 0-1M633 1114l2 4 3-1M685 1037l-1-3-4-1-2-2 5-4M678 1037l-4-1M681 1091l-3-2-1 0-2 0M662 1076l1-2 3-2 3 3 0 1-4 4 5 3 0 2M719 989l0-3M696 1004l0 3M687 1010l-1-2M629 997l3-2 2 2M727 1054l-4-1M736 1050l2-4M667 1036l1-3" stroke="#bc4c96" stroke-width="1.90" stroke-linecap="round" stroke-linejoin="round" fill="none"/><path d="M619 1132l1-1 1 0 4-2 2 2M756 1071l3 3 3-2 3 3 1-1 2-3 3 0 2-2 2 0 2 2-1 3-3 0-2-3M620 1043l-4 4 1 3 3 0 2-4M624 1039l1 1 3-1 1-5-1-1-2 0-4-3-2 0 0 5-2 1-1 0M624 1039l-1-3-3-1M620 1030l-1 0-3 1M628 1033l1-3M665 1049l-2-4 1-1 5-1 0 5-2 1-2 0-3 2 1 2-3 3-2-1M679 1052l-2 3 0 2 3 2-1 4 1 2 2 0 3 5 3-1M777 986l-2 3 3 2M774 995l0-6M770 990l-4-1-2 1M776 1074l1 1-1 4-2 1-4-3 3-3M628 1039l3 2-1 2-2 2M628 1048l4 1 1-4 3-1M633 1062l-1-3 4-2 3 3-3 3M636 1057l0-2-3-2 0-3M636 1055l3-2 2 1-1 6 1 1-1 6 5 0 1 2M619 1083l0-2-2-2 1-3 1-1 3 3 0 1-3 2M628 1059l-3 0M691 1054l-3-4M691 1054l1 0 2-2 2 0 2-5 1 0-1-6M698 1062l5-1M701 1067l-2 0-2-4M699 1067l-1 1 1 5-5 0M663 1041l3-3 3 5 1 0M747 1035l0 2 5 0 1-1 1-1 1-1 0-4 1-1 4 0 1 4-1 2-5-1M749 1030l1-1 5 1M774 1060l0 1M764 1053l-4 2-1-4 1-3 2-5-1-1-2-4-2 1-4-3M759 1051l-4 0-1 5-2 1 1 5-5 1-1 2 4 3M760 1029l2-3 0-1-2-2-4 3-4-3 0-1 4-2 4 3 2-4 1 0 3 3 0 1-4 2M750 1029l0-3-5-1-1 4-2-1-3-3-2 0-2 3M775 996l2 5-4 2M685 1047l1-4 1 0 3 1 3-2 2-1 0-5 1 0 2-4-2-3-2 1-4-2 0-1 2-2 3 0M761 991l1 5-4 1-1 0M614 1123l4 1 2-3-2-3-2-2 1-4 1 0 4 2 0 1-4 3M620 1121l3 0 4 0 1 3 0 1-3 1-2-1 0-4 0-6 1 0 4-3 3 3 2-1 2-3-2-2-4 1-1 1 0 1M765 1075l-2 4-2 3-3 0-1 4 3 2-2 4-3 0-1 1 0 3-5 2-2-4 4-2 3 1M773 1061l-5-5M693 1042l-4-4 2-4-2-1 0-4 1-1M692 1048l2 4M692 1054l2 3 3 1 2-2 0-2M750 1137l-5 0-1 2-5-2 0-2 3-3 2 2 4-2-2-4-3 0-1 3 0 1M699 1047l4-3 0-2-3-2 1-2-5-2M761 1082l2 4-2 2 2 4 2 1 1-1 1-4M763 1079l-5-4-2 2-1 0-3-2 1-3-2-1-3 1 0 4 2 0 2-1M752 1081l1 1M647 1136l0-1-5-4-1 2M645 1030l3-3 0-1-1-1 2-5 3 0 1 5-5 1M645 1030l-1 1M641 1026l-2 4M618 989l-1 5 3 1-1 5 4 2-3 4M636 1025l4 1 0-6M641 1054l1-5 3-1 6 0M639 1047l-1 0M618 1072l1 3 4-3M618 1072l1-3-2-3 3-2 0-2 0-1-3-1M677 1057l-3 2M646 1053l3 0M744 1078l-2-2 0-4M747 1065l-1 1-1 0-3-4-1 0-2 3 2 3M750 1026l2-3M737 1025l-1-2-1 0-1-2 1-4-2-3 3-4 3 1 3-1 4 2 2-1M778 1014l-2-3M770 1017l0 1 0 1M771 1007l2-2-1-1M773 1005l3 3M752 1022l-1-1M763 1019l2-2 5 1M762 1019l-2-2M754 1015l1 0M752 1010l2-2-1-4-4-1M772 1084l-1 0-3-3-1 0-2 5-2 0M736 1023l3-4-2-2 3-3 3 2-2 3-2 0M762 1136l0-4 1-1-1-5-2-1-3 3 2 4 3 0M729 1133l6-1 4 3M729 1133l0 2-2 1-1 0-2 0-3 1-3-3 2-3 2-1 1 1 3-1 0-3 4-2M745 1137l-1-3M709 1095l-3-3 1-2-2-4-2 0-2 2 2 5-4 2-3-3-2 0-2 1-4-1-1-1 3-5-4-1-1-3 1-2 4 1 1 5-1 0M737 1100l1-2 4 1 0 2 3 3 3-1 1-2M738 1098l-1-2 2-2 4 0 0 4-1 1M760 1088l1 0M760 1094l0 1-3 3M760 1095l3 3 2 0M754 1133l1-5 2 0M746 1128l2-3 3 3 4 0-2-5-5 0 0 1 0 1M763 1131l3 0 1-4-2-2 1-3 0-1 6 0 4 0M766 1131l1 1M773 1136l2 0 3-4M771 1127l1 4 5-1 0-3M743 1098l6 1M738 1089l3 0 2 5 3-1 1 1M723 1083l4-1 5 1 0 5-4 0-1-1M723 1083l-1-1 0-5-4 1-1 4 1 1 4-1M716 1088l2-3 0-2M716 1088l-4-2-1 3M751 1092l-1-4M741 1084l1 4M739 1083l-2 0-3-1-2 1M709 1067l1-2-1-3 0-2 5-1 0-1-1-1-4-3 0-2 2-1 0-4-5-1-1 4M633 1070l-5-1 0 3 2 3-1 2 4 4-4 3-2-3M639 1068l-3-3M632 1135l1-4M642 1131l0-1-4-1-3 2M642 1130l1-1 3-1 1-2 4 0 1-4 3-1 2 5-5 1-1-1M652 1045l-6-3M617 994l-2 1M619 1000l-2 5-1 0M642 1061l-1 0M646 1058l3 1 2-4M629 1084l-1 2 1 0 2 6-5 1-2-2M623 1067l-3-3M679 1063l-4 0-1 3 3 3 1 0 2-4M662 1036l4 2 1-2 5 2 2-2-1-2M661 1058l-1-2M658 1061l-2 5-2-1M656 1066l2 5-1 1-1 2 2 4-1 0 1 3-1 3-4-1-2 1M736 1072l-4 1M744 1016l-1 0M775 1027l2 1M770 1025l2-3M767 1024l-1 4M750 998l1 0M739 995l-1 3 4 1M739 995l-2-3 0-7M741 1005l-2-1-2-2-3 2 0 4 2 1 3-5M732 990l5 2 5-2 0-2 3-1 3 3M673 986l2 4-4 2-2-2 1-3M692 987l0 3M702 1027l2 0 3 2 0 3-2 5 1 2 3 1 0 1M701 1027l-1-5-1 0 0-4 2-2-2-3 2-3 5 3 4 2M665 998l0 5 1 1-1 3 3 4 1-1 3-2-3-5 1-1M622 1115l1 0M625 1135l1 5M730 1008l-4 0M703 1042l3-3M702 1036l3 1M714 1132l2 2 2 0M706 1136l-3-4 3-3M726 1120l1-4-1-1 1-2 3-2 3 4M727 1116l5 1M722 1124l-2 0-1-3-5-1-1 2 3 4 4-2M706 1092l-1 1-1 6 2 1M710 1076l-2 2M719 1070l3-2M705 1086l3-3M701 1088l-1 0M696 1085l0-2 5-2-3-4-2 1-1 4 1 1M698 1077l2-3 0-1-1 0M703 1070l-3 3M734 1115l2-5 4 2 4-2 0-1-1-2 2-3M727 1113l-2-3 2-3 3 1M742 1123l6 1M740 1115l0-3M732 1101l0-3-6-2M736 1109l0 1M755 1103l4 1 0 3M749 1110l-5-1M746 1115l-2-5M751 1117l3 2 3-2 5-1 4-1M778 1102l-5-1-2 4-3-3-4 1 0 1-5 0M777 1107l-6-1 2 5-2 1-4 0 1-5 3-1M770 1094l2-2M717 1082l-2 0-3 4-3-3M737 1083l0 4M732 1088l1 4M726 1078l2-4M658 1128l0-1 3-2 4 3-3 4 2 2 0 4M687 1038l-2-1-3 3 0 1 4 2M664 989l-4-2-2 5-4-2-2 1M656 1003l-1 2-4 0-1-3 0-1M639 1020l-4 4M631 1014l0-1M626 1007l0-4-1 0 4-5 3 4-2 2 1 4M653 1094l5-2 0-1M653 1094l-1 0-3 2 1 4 2 1M659 1103l-2-5M685 1082l-2 0-3-3 0-2 5-1-1-5 1-1M700 1074l4 2M657 1078l-4 1M755 1051l-6 0-1 2M736 1010l0-1M699 1013l-3 1 0 3-1 1-1 2 3 3 2-1M703 1017l2 3-1 1-4 1M696 1014l-2-2 2-4 0-1-4-1-3 4 4 2 1 0M701 994l-3-4 0-1 3-2 3 3 0 2-1 1-2 1-1 2-5 0M757 992l-1 4M753 1004l2-2M753 995l-1-2M726 991l0 2 1 3 4-1M665 1007l-2 1M669 1010l3 4 1 0 3-3-1-2 4-2 3 1-1 2 2 4M641 990l1-1 3 5 1 1 2-6-4-2M683 989l0-1M683 989l-2 4-4-3-2 0 0 5 4 1M685 994l2 3M711 1036l5 2 0 1M716 1134l-1 2-2 1-4-3M700 1131l-1 1 0 5 0 1-6-2 2-4M693 1136l-1 0-1 0-1-2-3 0-2-3-3 1 0 4 2 1 3-3M691 1130l2 0 2-3M719 1121l1-3M714 1115l0-2 3-3-1-3 1 0 5-2 0-3M688 1092l-2 3 0 1-2 3 1 2-2 3-3-1-1-3-3-2 0-3 1-1 4 0 5 1M764 1104l0 2-2 4-1 0M762 1110l5 3 0-1M772 1089l5 0M728 1102l-2 4-4-1 0 5-2 2M735 1067l0-2-1-2-6 3M711 1051l5 1 0-5M691 1120l-3 1 0 3-4 1 0 2 2 2 3 0M691 1120l1-4 1-1 4 2 2-1 0-4-5-1M661 1125l1-2 4 0M662 1123l-1-1-4-3 1-2M626 1093l-1 4 3 2 0 5-4 1-2-1 1-6 2-1M632 1093l0 2-4 4M639 1088l3-2 2 2 2-1 4 2-4 3M653 1103l-2 3M651 1131l1-4M647 1002l3 0M641 1005l-4-1-1-2-4 0M658 1013l-4 2 0 3-2 2M661 1017l2 2 4-2 2 1 3-4M624 1015l-1 3M665 1097l0-1-3-3-3 0M658 1023l5 0 1 0-1 5M742 1062l3-3 1 0M745 1059l-4-3-2 4M752 1057l-3-1M704 992l6 1 1-2-2-4M719 1005l-1-3-4-1-1 5M714 1001l0-1 4-4M703 1001l-3 2-2 0 0-3 2-2 4 2M698 1003l-2 1-3-2-3 1-1 0 1-6 1-1M675 1004l-1-2M676 1011l2 1 1 4-3 2-3-4M680 1002l3 1 3-1 3 1-3 5-2-1-2 1M690 1027l-4-3M618 1104l4 0M722 1050l-5 2-1 0-3 5M684 1137l2 2M697 1117l-1 4M692 1116l-4-1-3 3-3-3M699 1097l3 2-2 4M772 1118l1-2 4-1-1-4 1-3M776 1111l-3 0M718 1058l2 4M685 1118l0 1M657 1119l-2 1-4-5 2-2 4 1M655 1120l0 1M652 1122l-3-2-3 3 1 3M672 1124l3 4M667 1134l2-4 3 1M647 1103l-3-3-3 2M642 1105l-2 3M662 1093l1-3-2-3M652 1111l1-1 4-3M648 1116l0 1 1 3M648 1117l-5 1 0 1M617 1025l-2-1M684 1099l-3 0M681 1085l-1 0-3-2-3 2M672 1093l4 2M737 1054l0-2 6-2 1-3 3 0M727 996l-1 3-4 0-2-3M715 987l0 2-4 2M674 1021l0 2 0 1 4 2 2-2 3 3 0 1 2 1-1 5 5-1M623 1108l1-3M716 1107l-3 0-1-4M676 1122l2 4M635 1111l4 4M689 1029l-4 0M682 1040l-4-3-2 4-4-3M644 1019l5 1-1-4M677 1089l0 5M725 1042l1 5 6-1 1 3M690 1003l2 3M689 1010l-2 0 0 1M673 1135l2 4M671 1070l-4-1M744 1047l-2-4-1-4 6-2 0 5-5 1-4 2M674 1024l-1 4 3 3 2 0 0-5" stroke="#a83a86" stroke-width="1.90" stroke-linecap="round" stroke-linejoin="round" fill="none"/><path d="M619 1132h0M619 1132h0M617 1137h0M619 1137h0M759 1074h0M620 1043h0M617 1046h0M619 1042h0M624 1044h0M622 1045h0M624 1039h0M623 1039h0M616 1048h0M620 1050h0M626 1051h0M619 1036h0M623 1039h0M621 1035h0M620 1031h0M625 1033h0M620 1030h0M627 1033h0M664 1046h0M666 1049h0M664 1044h0M664 1044h0M678 1054h0M775 988h0M776 990h0M774 996h0M771 994h0M774 994h0M776 1069h0M772 1072h0M776 1074h0M776 1068h0M627 1039h0M628 1034h0M627 1049h0M628 1039h0M631 1042h0M633 1053h0M636 1056h0M617 1086h0M618 1080h0M629 1059h0M629 1064h0M629 1064h0M628 1060h0M691 1054h0M689 1056h0M685 1055h0M702 1066h0M701 1067h0M697 1064h0M659 1045h0M661 1041h0M662 1051h0M745 1034h0M745 1029h0M777 1060h0M775 1054h0M760 1055h0M759 1050h0M759 1029h0M761 1033h0M754 1035h0M751 1033h0M750 1030h0M764 1039h0M765 1038h0M762 1045h0M762 1043h0M680 1049h0M685 1048h0M684 1047h0M761 991h0M761 992h0M769 1071h0M768 1071h0M763 1073h0M773 1079h0M776 1052h0M773 1061h0M769 1062h0M767 1063h0M770 1057h0M771 1054h0M772 1067h0M695 1052h0M698 1047h0M700 1053h0M698 1057h0M693 1056h0M694 1057h0M699 1056h0M758 1082h0M757 1077h0M765 1075h0M753 1076h0M752 1075h0M750 1076h0M651 1137h0M633 1037h0M636 1036h0M630 1034h0M644 1025h0M647 1026h0M649 1029h0M641 1026h0M650 1025h0M653 1025h0M653 1027h0M617 988h0M637 1055h0M640 1053h0M632 1048h0M627 1053h0M641 1053h0M639 1047h0M622 1078h0M619 1075h0M619 1075h0M617 1071h0M626 1059h0M624 1063h0M683 1057h0M685 1061h0M678 1057h0M691 1060h0M687 1064h0M694 1058h0M693 1061h0M692 1061h0M647 1048h0M743 1077h0M742 1076h0M747 1065h0M747 1025h0M744 1029h0M738 1025h0M736 1027h0M742 1028h0M776 1012h0M777 1018h0M770 1017h0M773 1012h0M772 1017h0M771 1010h0M768 1007h0M767 1003h0M772 999h0M771 1004h0M773 1004h0M776 1001h0M772 1006h0M758 1024h0M760 1023h0M752 1023h0M754 1021h0M760 1029h0M751 1024h0M765 1018h0M766 1023h0M763 1019h0M766 1057h0M760 1055h0M761 1057h0M758 1039h0M761 1035h0M754 1037h0M750 1014h0M749 1010h0M750 1010h0M619 1132h0M618 1126h0M776 1085h0M769 1082h0M736 1023h0M736 1024h0M734 1016h0M762 1136h0M737 1126h0M729 1130h0M730 1124h0M736 1124h0M731 1127h0M713 1099h0M712 1099h0M737 1099h0M741 1099h0M757 1085h0M756 1082h0M752 1086h0M752 1082h0M758 1082h0M756 1092h0M759 1087h0M761 1088h0M762 1090h0M767 1088h0M764 1092h0M766 1084h0M761 1094h0M770 1087h0M752 1097h0M755 1097h0M755 1092h0M760 1095h0M761 1096h0M757 1136h0M753 1133h0M747 1132h0M742 1131h0M743 1128h0M750 1133h0M759 1126h0M762 1135h0M767 1126h0M759 1124h0M772 1131h0M768 1132h0M767 1134h0M767 1136h0M772 1136h0M766 1131h0M771 1138h0M774 1131h0M743 1094h0M741 1089h0M724 1082h0M750 1081h0M747 1080h0M748 1094h0M748 1099h0M744 1080h0M706 1067h0M710 1066h0M703 1051h0M635 1071h0M633 1069h0M633 1070h0M637 1136h0M641 1135h0M645 1137h0M632 1135h0M632 1134h0M647 1136h0M642 1132h0M646 1134h0M636 1130h0M642 1131h0M654 1033h0M650 1044h0M690 1038h0M690 1037h0M623 995h0M621 1001h0M620 996h0M645 1064h0M641 1061h0M645 1059h0M645 1056h0M624 1080h0M625 1081h0M623 1077h0M628 1078h0M628 1077h0M630 1078h0M628 1082h0M630 1083h0M629 1077h0M628 1069h0M625 1068h0M628 1072h0M624 1073h0M624 1066h0M625 1075h0M620 1075h0M618 1065h0M621 1062h0M621 1066h0M619 1069h0M680 1059h0M681 1065h0M680 1064h0M662 1036h0M662 1034h0M677 1057h0M658 1061h0M661 1057h0M661 1056h0M653 1062h0M654 1066h0M740 1071h0M736 1072h0M751 1020h0M748 1017h0M745 1022h0M745 1014h0M771 1027h0M770 1025h0M769 1025h0M775 1022h0M765 1044h0M768 1034h0M765 1033h0M769 1031h0M766 1028h0M766 1037h0M770 1035h0M770 1029h0M762 1027h0M767 1025h0M747 1037h0M748 1003h0M750 999h0M741 1005h0M732 989h0M732 990h0M669 990h0M674 991h0M692 990h0M698 989h0M695 1030h0M701 1027h0M698 1032h0M665 999h0M617 1117h0M617 1113h0M620 1116h0M617 1089h0M625 1129h0M623 1129h0M624 1135h0M626 1135h0M620 1137h0M629 1135h0M726 1008h0M693 1042h0M699 1047h0M702 1045h0M701 1040h0M709 1040h0M714 1127h0M715 1130h0M710 1131h0M699 1138h0M727 1126h0M726 1130h0M729 1122h0M724 1125h0M724 1123h0M726 1115h0M726 1118h0M725 1130h0M722 1124h0M722 1124h0M737 1133h0M741 1138h0M739 1135h0M714 1087h0M715 1076h0M712 1078h0M710 1076h0M716 1075h0M719 1071h0M693 1092h0M696 1092h0M698 1094h0M705 1086h0M701 1089h0M699 1095h0M700 1088h0M700 1088h0M699 1087h0M702 1082h0M698 1082h0M696 1083h0M697 1078h0M710 1069h0M707 1072h0M705 1071h0M701 1067h0M704 1070h0M718 1101h0M732 1117h0M737 1117h0M731 1116h0M728 1112h0M732 1113h0M726 1120h0M737 1122h0M742 1125h0M741 1115h0M743 1118h0M748 1103h0M733 1104h0M732 1102h0M754 1103h0M751 1108h0M751 1108h0M753 1106h0M750 1115h0M749 1110h0M755 1111h0M747 1115h0M745 1119h0M749 1120h0M750 1115h0M751 1128h0M751 1123h0M748 1123h0M751 1130h0M746 1128h0M754 1123h0M744 1124h0M776 1102h0M768 1099h0M766 1103h0M768 1098h0M770 1094h0M770 1104h0M721 1077h0M721 1082h0M717 1082h0M719 1072h0M722 1075h0M718 1078h0M750 1088h0M751 1087h0M750 1089h0M746 1090h0M741 1089h0M745 1088h0M745 1084h0M732 1087h0M734 1079h0M731 1088h0M728 1081h0M712 1065h0M661 1133h0M656 1133h0M662 1132h0M654 1133h0M622 1087h0M624 1091h0M626 1085h0M622 1085h0M621 1090h0M638 1128h0M624 1125h0M628 1124h0M623 1121h0M624 1115h0M623 1117h0M627 1120h0M643 1130h0M688 1043h0M688 1038h0M687 1040h0M665 991h0M653 1001h0M659 1001h0M652 1001h0M659 1001h0M655 996h0M659 990h0M633 1020h0M628 1017h0M631 1015h0M625 1003h0M630 1010h0M631 1007h0M652 1068h0M657 1093h0M653 1095h0M659 1102h0M689 1081h0M690 1083h0M690 1086h0M690 1080h0M691 1079h0M698 1073h0M698 1071h0M699 1076h0M700 1074h0M699 1073h0M654 1084h0M748 1064h0M753 1062h0M758 1062h0M759 1056h0M738 1017h0M743 1016h0M739 1014h0M744 1016h0M740 1011h0M739 1012h0M735 1011h0M773 1045h0M774 1043h0M772 1036h0M700 1014h0M700 1012h0M699 1017h0M705 1020h0M696 1016h0M701 1009h0M699 988h0M700 993h0M701 995h0M696 996h0M744 994h0M747 993h0M755 990h0M734 1004h0M739 1004h0M734 1006h0M736 1009h0M735 999h0M751 1004h0M756 998h0M754 999h0M752 993h0M753 995h0M759 1002h0M754 1000h0M751 998h0M754 1003h0M749 992h0M760 1013h0M761 1014h0M755 1015h0M756 1019h0M730 990h0M728 991h0M725 989h0M737 990h0M737 992h0M731 996h0M748 991h0M743 991h0M732 997h0M665 1003h0M669 1003h0M695 1021h0M700 1026h0M695 1018h0M694 1020h0M668 1010h0M641 989h0M641 990h0M658 992h0M683 989h0M680 992h0M681 993h0M687 992h0M687 991h0M689 992h0M618 1107h0M706 1037h0M702 1033h0M711 1036h0M709 1033h0M714 1037h0M724 1135h0M715 1132h0M704 1131h0M707 1135h0M705 1134h0M710 1132h0M706 1136h0M694 1134h0M691 1135h0M691 1130h0M699 1127h0M694 1136h0M687 1139h0M726 1136h0M729 1134h0M719 1123h0M719 1119h0M716 1127h0M716 1116h0M714 1119h0M734 1137h0M688 1089h0M713 1085h0M708 1083h0M702 1075h0M722 1105h0M721 1101h0M723 1102h0M742 1110h0M748 1110h0M740 1114h0M735 1113h0M759 1105h0M764 1104h0M759 1112h0M761 1116h0M757 1117h0M755 1118h0M758 1118h0M763 1116h0M762 1110h0M772 1090h0M772 1089h0M775 1094h0M733 1094h0M733 1092h0M729 1097h0M727 1093h0M736 1091h0M728 1089h0M726 1096h0M728 1102h0M732 1069h0M736 1072h0M727 1077h0M710 1047h0M710 1052h0M718 1064h0M714 1062h0M690 1120h0M688 1121h0M663 1130h0M658 1128h0M667 1125h0M664 1123h0M661 1124h0M629 1086h0M626 1093h0M631 1092h0M631 1086h0M633 1093h0M633 1092h0M656 1105h0M650 1096h0M650 1100h0M651 1100h0M648 1133h0M654 1132h0M651 1131h0M645 1128h0M683 1042h0M638 988h0M633 986h0M645 994h0M641 1005h0M635 1018h0M631 1014h0M651 1005h0M655 1003h0M664 1007h0M660 1002h0M656 1007h0M659 1018h0M655 1014h0M662 1018h0M626 1015h0M623 1013h0M616 1005h0M651 1070h0M657 1072h0M669 1097h0M683 1103h0M686 1069h0M685 1075h0M684 1070h0M683 1066h0M662 1023h0M654 1025h0M658 1024h0M657 1085h0M657 1084h0M735 1066h0M728 1066h0M744 1064h0M739 1066h0M740 1063h0M741 1062h0M747 1061h0M742 1062h0M737 1065h0M734 1063h0M737 1060h0M739 1060h0M747 1058h0M751 1057h0M755 1051h0M771 1040h0M767 1039h0M770 1038h0M772 1043h0M750 988h0M749 989h0M761 1005h0M762 1009h0M756 1008h0M716 1001h0M714 1001h0M704 1001h0M707 1005h0M709 1004h0M706 999h0M706 1006h0M703 1001h0M714 1000h0M710 1001h0M708 997h0M706 998h0M711 996h0M698 1003h0M700 998h0M673 1008h0M676 1004h0M677 1008h0M674 1009h0M675 1010h0M672 1014h0M679 995h0M675 995h0M680 1001h0M686 994h0M677 1017h0M679 1015h0M681 1008h0M663 1023h0M692 1029h0M690 1027h0M668 1018h0M617 1101h0M704 1027h0M705 1025h0M716 1047h0M717 1046h0M716 1052h0M716 1048h0M714 1052h0M717 1052h0M721 1051h0M686 1132h0M683 1136h0M687 1134h0M686 1131h0M685 1138h0M699 1114h0M691 1119h0M692 1115h0M696 1105h0M690 1115h0M700 1117h0M700 1098h0M701 1101h0M706 1115h0M687 1091h0M684 1088h0M722 1105h0M726 1108h0M722 1105h0M729 1108h0M769 1121h0M766 1116h0M766 1122h0M772 1121h0M772 1117h0M777 1115h0M767 1112h0M771 1112h0M772 1111h0M769 1107h0M767 1113h0M773 1111h0M771 1106h0M713 1057h0M714 1059h0M709 1062h0M714 1059h0M719 1057h0M684 1126h0M680 1120h0M685 1118h0M682 1121h0M685 1118h0M657 1119h0M652 1116h0M655 1120h0M661 1123h0M651 1123h0M653 1122h0M653 1127h0M651 1126h0M657 1126h0M655 1121h0M652 1129h0M647 1126h0M647 1126h0M668 1130h0M669 1130h0M670 1128h0M672 1124h0M664 1136h0M666 1134h0M668 1138h0M641 1092h0M638 1094h0M639 1097h0M647 1096h0M646 1096h0M650 1089h0M648 1090h0M644 1091h0M644 1096h0M645 1091h0M632 1093h0M642 1106h0M665 1096h0M671 1094h0M665 1095h0M647 1110h0M653 1110h0M643 1109h0M641 1110h0M646 1113h0M647 1111h0M650 1116h0M648 1115h0M654 1109h0M636 1120h0M635 1118h0M629 1118h0M646 1123h0M648 1116h0M648 1119h0M628 989h0M627 994h0M651 1020h0M650 1008h0M648 1007h0M621 1021h0M621 1019h0M620 1013h0M622 1013h0M620 1008h0M687 1093h0M680 1078h0M674 1080h0M681 1077h0M679 1085h0M663 1082h0M748 1055h0M741 1057h0M746 1052h0M743 1053h0M743 1051h0M737 1053h0M735 1057h0M720 1001h0M730 996h0M727 995h0M715 989h0M714 990h0M710 993h0M676 1018h0M672 1020h0M675 1020h0M674 1022h0M620 1109h0M706 1115h0M704 1113h0M717 1109h0M715 1112h0M713 1113h0M677 1125h0M631 1109h0M634 1110h0M632 1115h0M629 1110h0M628 1111h0M635 1111h0M629 1118h0M635 1118h0M638 1117h0M639 1118h0M640 1114h0M643 1118h0M639 1114h0M642 1114h0M644 1117h0M664 1036h0M666 1038h0M689 1029h0M686 1037h0M682 1041h0M687 1033h0M684 1033h0M643 1021h0M646 1019h0M651 1012h0M652 1013h0M651 1011h0M684 1088h0M681 1090h0M676 1089h0M663 1081h0M664 1079h0M662 1076h0M663 1058h0M729 1059h0M722 1043h0M725 1043h0M719 990h0M721 995h0M718 995h0M719 988h0M716 990h0M694 999h0M689 1000h0M697 1003h0M697 999h0M696 1007h0M694 1007h0M690 1010h0M693 1012h0M696 1008h0M696 1006h0M691 1004h0M687 1010h0M684 1003h0M688 1004h0M684 1007h0M681 1002h0M687 1009h0M683 1008h0M688 1025h0M684 1028h0M623 1099h0M626 1105h0M628 1099h0M623 1098h0M621 1098h0M675 1129h0M672 1132h0M676 1134h0M678 1135h0M632 1002h0M629 999h0M629 998h0M637 992h0M633 996h0M639 992h0M631 996h0M677 1094h0M678 1099h0M676 1096h0M676 1095h0M679 1099h0M677 1091h0M679 1102h0M666 1079h0M666 1080h0M669 1064h0M672 1066h0M673 1073h0M672 1068h0M725 1053h0M720 1056h0M728 1051h0M744 1047h0M737 1051h0M738 1046h0M728 1047h0M683 1028h0M681 1025h0M676 1025h0M679 1031h0M674 1024h0M678 1031h0M714 1107h0M742 1043h0M747 1038h0M744 1046h0M747 1037h0M735 1037h0M673 1034h0M673 1037h0M677 1036h0M673 1039h0M733 1040h0M736 1045h0" stroke="#962a70" stroke-width="2.4" stroke-linecap="round" fill="none"/></g><path d="M339 521 Q345 522 349 528 Q351 536 349 542 Q347 548 342 549 Q338 546 339.5 538 Q338 530 339 521 Z" fill="#9c1f68" opacity="0.85"/><ellipse cx="345.8" cy="534.6" rx="2.3" ry="3.6" fill="#e2f5f6"/><circle cx="342.6" cy="546" r="1.6" fill="#e2f5f6"/><ellipse cx="381" cy="533.2" rx="3.8" ry="5" fill="none" stroke="#9c1f68" stroke-width="2.2"/><path d="M372 543 Q379 541 386 543 L386 555 Q379 556 372 554 Z" fill="#9c1f68" opacity="0.8"/><path d="M374 550.2 Q378.5 549 383 550.2" fill="none" stroke="#e2f5f6" stroke-width="1.6"/></g><rect x="311.4" y="497.0" width="73.7" height="68.60000000000001" fill="none" stroke="#222" stroke-width="0.9"/><clipPath id="ch3"><rect x="233.5" y="587" width="73.5" height="69.4"/></clipPath><g clip-path="url(#ch3)"><rect x="233.5" y="587" width="73.5" height="69.4" fill="#e2f5f6"/><g transform="scale(0.5)"><path d="M595 1172L597 1172L599 1168L598 1167L594 1167L595 1172ZM591 1181L591 1181L586 1182L584 1179L588 1177L589 1177ZM617 1195L616 1193L619 1189L622 1192L621 1195L618 1196ZM578 1193L576 1189L572 1190L572 1191L574 1194ZM602 1212L606 1212L606 1210L604 1207L602 1208L601 1210ZM569 1171L572 1172L575 1170L575 1168L570 1167L568 1169ZM571 1184L571 1189L572 1190L576 1189L577 1187L575 1184L574 1183ZM616 1206L618 1210L619 1210L622 1208L621 1205L619 1203L617 1204ZM598 1210L597 1207L599 1205L602 1208L601 1210ZM606 1214L610 1214L611 1216L607 1220L605 1217ZM580 1197L581 1200L583 1201L586 1199L586 1197L583 1195ZM573 1206L574 1210L575 1211L580 1209L580 1206L578 1205ZM574 1210L569 1212L570 1215L572 1216L575 1214L575 1211ZM580 1225L578 1223L578 1220L583 1219L584 1220L584 1222ZM611 1222L607 1221L607 1222L609 1228L613 1225ZM604 1227L606 1223L607 1222L609 1228L609 1229L607 1229ZM575 1199L575 1200L572 1202L568 1200L568 1200L571 1196L573 1196ZM617 1229L612 1231L614 1235L614 1235L617 1235L617 1234L617 1229ZM578 1187L581 1184L585 1185L582 1190ZM594 1218L595 1223L591 1224L590 1224L589 1221L593 1218ZM559 1207L558 1204L561 1201L565 1204L565 1205L561 1207ZM552 1173L551 1170L549 1170L547 1172L547 1173L548 1175L549 1175ZM593 1244L593 1243L591 1240L589 1240L588 1244L588 1245ZM554 1184L556 1187L554 1190L551 1188L551 1185ZM552 1193L554 1191L557 1192L558 1194L556 1196L553 1195ZM617 1235L619 1240L620 1240L623 1237L621 1234L617 1234ZM553 1195L551 1198L555 1200L557 1199L556 1196ZM577 1215L582 1215L583 1219L578 1220L577 1219ZM550 1202L551 1198L547 1196L545 1198L546 1203L548 1204ZM614 1235L609 1236L608 1235L610 1230L612 1231ZM542 1214L546 1211L547 1211L548 1216L548 1217L545 1218L542 1215ZM554 1190L554 1191L557 1192L559 1189L557 1187L556 1187ZM593 1243L591 1240L593 1237L596 1237L597 1239L594 1243ZM533 1197L532 1194L533 1192L536 1192L537 1194L536 1196ZM522 1192L523 1188L527 1191L527 1193L527 1194L524 1194ZM584 1254L585 1260L584 1260L580 1260L579 1259L579 1255L580 1254ZM527 1171L529 1171L531 1174L530 1177L528 1178L526 1177L525 1174ZM548 1233L550 1237L552 1237L554 1233L553 1232L550 1231ZM539 1200L539 1200L534 1201L533 1202L535 1205L539 1205L540 1203ZM552 1237L554 1233L558 1234L558 1238L553 1238ZM530 1206L532 1208L534 1208L535 1205L533 1202L533 1202ZM610 1262L615 1260L615 1257L615 1256L611 1256L609 1260L609 1261ZM593 1254L597 1253L599 1258L599 1258L594 1257ZM524 1199L528 1199L528 1200L527 1204L524 1205L522 1203ZM554 1253L559 1253L560 1252L559 1249L555 1248L554 1249ZM584 1264L579 1265L578 1264L580 1260L584 1260ZM532 1194L533 1192L532 1189L528 1189L527 1191L527 1193ZM548 1246L544 1244L545 1239L545 1239L547 1239L550 1244ZM525 1210L527 1210L529 1206L527 1204L524 1205L524 1208ZM510 1167L510 1167L508 1170L508 1173L510 1173L514 1170L514 1170ZM615 1267L617 1267L619 1265L619 1262L616 1262L615 1266ZM574 1262L578 1264L579 1265L578 1267L575 1268L573 1267L573 1264ZM516 1174L514 1170L510 1173L513 1176L514 1176ZM549 1253L547 1254L544 1253L543 1251L548 1247L549 1249ZM583 1279L588 1280L588 1280L588 1285L586 1285L582 1284ZM530 1216L527 1211L531 1210L533 1213ZM567 1267L564 1266L562 1268L561 1271L565 1273L566 1272ZM504 1193L507 1192L505 1188L503 1187L500 1190ZM605 1278L605 1277L609 1277L610 1278L609 1282L606 1283L604 1282ZM504 1169L504 1169L504 1172L501 1173L499 1170L499 1169ZM500 1190L497 1187L496 1187L494 1190L495 1193L495 1193L498 1192ZM543 1259L547 1257L547 1254L544 1253L541 1255L543 1259ZM540 1287L541 1286L541 1286L539 1284L534 1284L534 1288L536 1289ZM532 1289L534 1288L536 1289L537 1292L532 1294L532 1294ZM509 1220L508 1220L505 1218L505 1216L510 1214L510 1218ZM532 1255L528 1256L527 1260L527 1261L530 1262L533 1260L532 1255ZM582 1292L583 1294L579 1298L577 1297L577 1293L577 1292ZM549 1297L553 1300L556 1298L555 1295L553 1294L550 1296ZM531 1266L530 1268L528 1268L525 1264L527 1261L530 1262ZM537 1299L542 1298L539 1293L539 1293L537 1297ZM519 1274L515 1275L513 1273L514 1271L519 1270L520 1272ZM540 1303L537 1302L535 1305L535 1307L541 1306L541 1306ZM500 1218L498 1219L497 1223L497 1223L502 1223L503 1219ZM578 1309L581 1305L583 1305L584 1307L583 1311L581 1312ZM613 1305L615 1308L620 1307L620 1305L617 1302L615 1302ZM596 1315L591 1314L591 1315L591 1318L594 1320L596 1316ZM570 1303L574 1303L573 1298L568 1299ZM497 1223L492 1221L492 1221L492 1219L493 1217L496 1216L498 1219ZM517 1305L520 1301L523 1302L523 1304L520 1307L517 1305ZM568 1305L570 1303L568 1299L568 1299L567 1299L565 1303L567 1305ZM529 1288L532 1289L532 1294L528 1293L528 1288ZM526 1299L526 1298L526 1294L528 1293L532 1294L532 1294L532 1296L532 1298L527 1299ZM510 1263L514 1265L514 1266L513 1269L509 1268L508 1266ZM568 1305L571 1308L570 1311L568 1311L565 1309L567 1305ZM520 1252L518 1249L519 1246L521 1245L523 1247L522 1251L521 1252ZM488 1199L487 1203L482 1200L482 1200L485 1197ZM506 1288L503 1287L502 1292L505 1292L507 1290ZM502 1233L501 1236L496 1234L499 1229L501 1229ZM566 1315L568 1311L570 1311L572 1313L572 1316L568 1317ZM549 1312L552 1307L551 1306L547 1306L546 1309ZM466 1198L466 1201L466 1201L470 1201L472 1199L472 1198L469 1196ZM616 1318L614 1315L616 1312L620 1314L619 1316ZM494 1278L496 1281L498 1278L497 1276L495 1276ZM498 1269L499 1268L501 1269L502 1274L498 1274L497 1271ZM519 1267L522 1267L524 1264L521 1262L519 1263L519 1267ZM504 1249L506 1245L509 1246L510 1248L509 1251L508 1251ZM461 1184L463 1182L465 1181L467 1186L466 1187L464 1188ZM490 1243L490 1237L495 1238L496 1239L496 1240L492 1243ZM547 1315L542 1312L539 1316L539 1316L543 1319L546 1316ZM503 1274L507 1272L504 1268L501 1269L502 1274L503 1274ZM488 1222L492 1221L492 1219L488 1218L485 1220ZM519 1313L522 1316L526 1315L526 1313L524 1310L522 1310L520 1312ZM482 1287L481 1287L478 1290L479 1293L482 1293L483 1290ZM509 1290L511 1294L507 1295L505 1292L507 1290ZM474 1294L473 1293L474 1290L474 1289L478 1290L479 1293L477 1294ZM468 1298L465 1294L462 1295L462 1299L465 1300L468 1298ZM479 1312L475 1314L478 1318L481 1315L479 1312ZM468 1320L473 1321L474 1319L472 1317L469 1317L468 1320Z" fill="#a42a72"/><path d="M620 1167l-1 2-2 1 1 4 1 1 1 3-4 2 3 4 0 2-1 1 1 2-3 4 1 2-5 2 1 3 1 1 4-4 0-1-1-1M617 1170l-2 0-1 1-4-1-1 2 2 2 2 0 1-3M464 1238l2-5 4 3-4 3-2-1-1 0-3-1M619 1262l1-1M619 1262l-3 0-1-2 0-3 5 0M620 1249l0-2-4-4-3 2 0 1 1 4 6-1M608 1181l-5 2-4 3 1 2M616 1262l-1 4-4-2-2 4 3 2 3-3 0-1M460 1232l6 1 0-1 4-2 3 3-3 3 2 3 1 0 4-3-4-3 3-3 0-2-1-1-4 0-1 3M464 1277l-3-3 1-2 4-1 1 1 0 3-3 2 0 2M477 1236l1 0 1 3 3 1 1 2-1 3-2 0-2-4 1-2M475 1242l3-1M613 1246l-4 1-1 2 1 3 0 1M613 1245l-4-4-2 4-3 0 0-1 1-4M536 1209l4 0 1 4 1 1M539 1205l1-2 5 1 1-1-1-5-3 0-3 2-3-4-3 1 1 4 5-1 1 3M541 1213l-6 1M548 1217l1 2 0 5-2 0-3-4M608 1249l-4 0 0-4M543 1221l-1 4 2 2 0 1-4 3-3-4 1-2 0-3-4-1 0-2M467 1272l3-1 3 4 1 0 3 1 2 0 3 1 3-1 2 1 2-1 2 2 3 0 2 3 2-3-1-2-2 0-1 2M469 1280l1-3 3-2M460 1299l2 0 0-4-1-2M462 1295l3-1 2-3 0-1-5 0M463 1220l-1 1-1 1M466 1216l3-1 1-1 0-4-3-1-2 2-3-1-1-2 2-2-1-4 1-1-2-3 2-3-4-2M462 1221l3 4M465 1169l2 3 3-1 1 1 0 4 0 1-5-3 1-2M462 1175l3 0 1 6M488 1180l0 3 2 2-1 4M468 1286l0 2-1 2M482 1245l2 1 1 3M478 1236l2-2-4-4M476 1252l0 3-5-2-2 3 4 3 3-3 0-1M463 1245l2 0M475 1227l1-5 2-1 3 3-1 3-4 1M481 1233l0-4-1-2M486 1242l2 1M488 1236l2 1 0 6M492 1230l0-1 5-2 0-4-5-2 0-2-4-1 0-4 3 0 2 3-1 2M478 1221l1-2-2-3-1 0-3 3M486 1228l0-2M604 1244l-4 0-1 1M619 1240l-2-5-3 0-2-4-2-1-2 5M549 1219l5 0-1 3-3 2-1 0M570 1215l2 1 1 4 4-1 0-4-2-1-3 2M567 1218l0 1-4 4 0 1 5 1 2-3-3-3M568 1225l0 2 5 0 0 4-2 1-4-2 1-3M570 1222l2-1 1 3M559 1215l-2-1-3 3M588 1214l3-3 1 0 2-5-4 0-2 2M584 1220l0 2 2 3-1 3 0 1 2 4 3 1M570 1167l-2 2-3-1-2 2-3 0-2-3M575 1170l2 2 2-1 1-2-5-2M580 1169l1-1 3 1 1 3-3 2-3-3M603 1253l-1-2M601 1257l-2 1-2-5-4 1 1 3 5 1-1 3 3 3 2-2M584 1238l0 1-1 2-4 1-1-5 3-4M573 1220l-1 1M578 1220l0 3M578 1237l-1 0-1-1-5-1 0-3M567 1230l-2 0M576 1232l3-2M615 1212l3-2 1 0M618 1210l-2-4 1-2 2-1 1-3-2-3M619 1217l0 1-3 3M539 1170l2 1 0 2 2 1 4-1 0-1-4-2-2 1M563 1170l0 3M564 1179l-1 2 2 3-2 3-4-3 0-2 1 0 3-1M567 1174l4 4-2 2M605 1176l-2 2M610 1170l0-3M602 1173l-2 1-1 3-1 1 0 2-1 2 1 3 1 1M532 1189l1-1-2-4-3 2 0 3 4 0 1 3-1 2-5-1 0-2 1-2M531 1184l1-1-4-2-3 3 0 1 3 1M532 1183l1 0 4 3 3-3 0-1-5-2-5-3 1-3M533 1192l3 0M551 1170l2-2 2 1 1 4M551 1170l1 3-3 2-1 0-3 4-2-1 0-4M535 1173l2 3 1 0 3-3M523 1188l-1 4 2 2M519 1184l-2-1-1-2 1-2 3-2 0-3-4 0-2 2 3 3M513 1181l-2-2-1 0-4 3 2 3-3 3 2 4 3-1 1 1 4-1 2 3-3 3 0 2 1 1 1 4-3 1-2 2-2 0-3 3 4 4 3-2 0-1-2-4M506 1182l-1-1 0-4-4-1-1 3 3 2-2 3 2 3 2 1M528 1178l2-1M523 1179l-3-2M524 1223l1-1-1-4-4-1-1-1 0-2 5-1 1-3-1-2-4 1-1 4 0 1M525 1222l3-1 2-4M491 1214l2-3-3-2-1 0-2-1-3 1 1 4 2 1 1 0M485 1213l-2 2 1 4-5 0M487 1208l0-4 0-1 4 0 2-2 4 1 1-1 0-3-2-1M498 1219l2-1 1-5 3 1 1 2 0 2-2 1-3-1M501 1236l1-3-1-4M502 1233l3 0M502 1228l4 1 2-2-2-3M621 1299l-3 1-2-3 1-3 5 1M616 1297l-3 1-2-4 2-2 4 1 0 1M617 1267l-2 0M582 1318l3 0 1-2 5-1 0 3M582 1318l-5-1 0-3 4-2-3-3 3-4 2 0M588 1303l2 0 1-4-3-3-1 0M579 1298l-2-1 0-4 0-1 1-4 2-1 3 3-1 2 1 2M578 1309l-2 0M463 1317l1-3-2-2-2 1M465 1304l1 1 0 3-3 2-3-4M466 1305l4-1 0-5-2-1 2-4-3-3M472 1317l2 2M472 1317l2-3 1 0 3 4 3-3 1 1 2 3M491 1321l-2-5-1 0-3 4M488 1316l0-1-3-1-3 2M488 1315l1-5 5 0M462 1210l-2 2M470 1214l4 0 2-5 3 1 3-1M474 1214l2 2M477 1216l2-2 4 1M484 1219l0 1-1 3M465 1175l1-1M498 1198l2-2-2-4 2-2 4 3M497 1202l0 5 5-2M487 1204l-5 2M500 1213l1 0M497 1187l3-3 1 0M500 1184l-3-3-1 0M520 1192l-2 2 2 3 2 0 2 2-2 4-1 0-2-4 1-2M513 1212l2 5 4-1M511 1201l3-2M503 1208l0-3M607 1222l-1 1-4-1-2 3 2 2-1 2-2 1-1 3M607 1222l0-1 4 1M609 1229l1 1M591 1228l0-4-1 0-4 1M597 1239l-3 4-1 0 0 1 1 5-2 1 1 4-4 1M612 1231l5-2 0 5 4 0M621 1225l-2 3-2 1-3-4M550 1224l1 3 4 1 3 2 4-1M557 1214l-1-2 5-2 0-3 4-2 0-1-4-3 0-2 0-1 4-1 3 3-3 4M588 1203l2-2 4 0 0 5 3 1 2-2 3 3 2-1 2 3 4-1 1 1 1 0M590 1224l-1-3M617 1204l-3-3M618 1196l3-1M543 1170l1-3M545 1179l1 1-2 5 3 1 3-2-1-3-3-1M565 1184l2 0 0 4 4 1 1 1 0 1-3 2-2 0-2 2 0 2M560 1182l-2-4M559 1182l-4 0-1 2 2 3-2 3-3-2 0-3 3-1M598 1185l-4 2 0 1-1 3 1 3 0 2-4 0-1-2-3 3 0 2-3 2-2-1-1-3-1-1-4 3-2-3 1-2 4-1-2-4-4 1M544 1185l-1 0-1 4M550 1184l1 1M541 1179l-1 3M541 1194l1 4M547 1192l0 4-2 2M543 1185l-3-2M536 1187l1-1M528 1198l0 1 0 1M547 1196l4 2 2-3M529 1206l-2 4 0 1 4-1 1-2M527 1211l3 5M516 1204l2 1 0 2-5 4 6 2M518 1205l3-2M513 1176l-3-3 4-3 2-2 2 0 2 3M494 1184l-4 1M507 1174l-3-2 0-3-5 0 0 1M517 1227l-2 0-1-4 1-2-1-3M525 1226l5 1M525 1216l4 0M534 1221l-2 3-1 0-3-3M478 1204l-2-2 2-5 1 0 1-3M508 1227l2-1 2 2 3-1M620 1314l0-1M617 1293l2-3-2-4-1 0-3 6M613 1298l0 1-4 1 1 4 1 1 2 0 2-3-2-3M616 1286l-2-2 0-5 0-1M590 1303l3 2 2-2 1 0 3 3M605 1263l1 4 3 1-2 4 3 3 3-3 3 1M615 1310l-5 1 1 3M608 1318l-1-1-2 0-4-1M585 1312l3-1 3 3 3-6M544 1228l1 1M566 1237l-4-1 0-2M474 1285l0 4 4 1 1 3 3 0 2 2 4-1 2 3-2 3-4-1-1-2 1-2M486 1266l-3 1 0 1 2 4-1 0-4 1-1 3M473 1259l0 1 4 2 2-2 1 0M465 1266l0-3 2-3 0-1-4-1-1 0-1 3 4 2M468 1288l6 2-1 3-3 1M517 1292l1-1 3 2 0 4-2 2-3-1 0-1M507 1300l0 3-5 0-1 1-2 2M505 1292l2-2-1-2-3-1-1 5-2 0-2 4-2 0-2-1 0-3 0-1 5 1 1 0M479 1197l3 3 3-3M464 1188l-1 1-2 1M489 1260l1 0 3-1 3 2 0 2 3 1 0 4 2 1 3-1 3 4-4 2-1 0-4 0-1 2M602 1222l-2-3-4 5-1-1-1-5 4 0 2 1 3-2 2 0M613 1217l-2-1-4 4M555 1200l0 2 3 2 3-3M555 1202l-1 1-4-1M594 1201l1-1 5 3M586 1199l4 1M583 1201l1 3-4 2-2-1 0-3-3-2-3 2M568 1200l3-4-2-3M582 1175l1 4 1 0 4-2-2-4 4-2 0-3M590 1171l0 1 1 3 3 1 4 2M597 1253l1-1M606 1210l0 2 0 2 4 0M584 1179l2 3M580 1181l1 3M552 1173l2 1M597 1172l-2 0-1-5M562 1189l1-1M571 1189l0-5M559 1194l-1 0M557 1187l-1 0M554 1191l0-1M529 1231l1-2M508 1236l2 2 2-1M510 1238l0 3-4 0M614 1284l-3 1-2-3-3 1-2-1-2 0M612 1270l1 2M586 1285l-4-1-1 1-4-4 1-1 5-1-1 5M591 1290l4 0 0 5 5-1 0-2-4-3M578 1288l-2-1-3 1-1 2 1 1 4 2M573 1288l-3-4 2-1 3 1 2-3M567 1288l-3 1 1 4-5 0-1-1M600 1294l2 2M599 1300l-3 3M606 1267l-4 1M606 1313l-3-1 2-4-5-2 1 6 2 0M596 1316l-2 4M600 1306l2-3M517 1262l0-5 1 0 4 1 5 2 0 1-2 3 3 4-3 2-3-3 2-3 1 0M517 1262l-2 0-3-2 2-3 3 0M518 1257l0-2-4-2 1-3-2-2 1-3 3-1 0-3-1-1-3 3 1 2M524 1264l-3-2M544 1244l1-5-4 0-2 2M560 1239l-2-1-2 5 4 1M553 1261l1 0 1-4 4 0 1-2 3 1 1 5M495 1276l-2-2M475 1314l4-2M499 1268l-1 1-5-2 0-1 3-3M499 1264l2-1 3 1 1 2 3 0M504 1264l2-3M498 1274l-1-3 1-2M502 1280l4 0 0-2M510 1274l3-1 2 2 4-1M506 1280l1 1M505 1244l1 1 3 1 2-4-1-1M465 1254l-2 4M470 1262l-3-2M498 1315l3 0 0 1-1 4M528 1317l0 2M537 1302l-2 3 0 2 0 2-4 1 1 6 4-2 0-3M537 1302l3 1 3-4 0-1-1 0-5 1 0-2 2-4 3 5M536 1274l5-4 0-1M536 1274l-2 1-3-1 0-5M531 1274l-2 1-4-2M558 1318l4 0 1-3 3 0 2-4 2 0 1-3-3-3 2-2-2-4-1 0-2 4 2 2 1 0M558 1318l-1-2 4-3 2 2M520 1277l0 1-5 1 0-4M519 1270l-5 1-1 2M515 1279l0 1-1 0M529 1275l-1 4 1 4 0 5 3 1 2-1M534 1284l0-1M537 1297l-5-1M488 1294l1-1-1-3M483 1297l-4 2-2-5-3 0-1 4-3 1M496 1301l-1-1-1 1M501 1299l-3-3M466 1198l-2-3-1 0M594 1218l-1 0M598 1210l-2 3M556 1212l-1-1M575 1200l0-1M578 1264l-4-2-1 2M584 1260l0 4 1 2 4-1 1-1M585 1266l0 2 3 2 3-1M574 1260l0 1-6-2 0-2 4-3-2-3 2-4 3 0 1-3-3-3 4-4M579 1255l1-1M575 1184l2 3 1 0M517 1244l2 2 2-1 2 2-1 4-1 1-1 0-2-3 1-3M513 1243l-2-1M553 1285l-2 4 2 2 2-1M555 1285l-1-5-3-4-3-3 3-3-1-2M553 1291l0 3-3 2M588 1280l-5-1 0-3M573 1298l-5 1 1-4M601 1264l-1 1M606 1305l4-1M568 1311l-3-2 2-4M568 1317l-1 2M557 1316l0-1-4 1-1 2-4 0-2-2-3 3-4-3 3-4 0-1 0-1 4-1 1-3 4 0 1 1-3 5-3-3M509 1246l1 2 3 0M518 1255l2-3M527 1261l3 1 3-2 1 1 1 4-4 1-1-4M526 1254l0-3 1-1 5 2 0 3 5 1 1-1-1-4M556 1243l-2 1 1 4 4 1M578 1267l2 3M558 1265l5-2 1 3-2 2-4-3-1 0-1 2 0 2 4 3 1-1 1-3M564 1266l3 1M506 1288l3-3 2 4M513 1289l2-3-2-2M507 1282l-4 3M503 1286l-4 1-1 0M497 1271l-3 1M485 1276l-1-4M474 1290l0-1M518 1291l0-2-2-3M519 1299l1 2 3 1 0 2-3 3-3-2 3-4M526 1298l0 1 1 0M557 1265l-1-2-2-2M556 1269l-2 2-3-1M560 1272l-1 3 2 2 3-2 1-2M553 1316l-2-3-2-1-2 3-1 1M518 1289l5-3 1 2M543 1299l2 5 4-2 2 1 2-1 0-2 3-2-1-3-2-1M556 1298l2 1 2-1M489 1293l5-1M479 1293l-2 1M499 1287l0 5M480 1176l-3-3-3 3-3 0M475 1171l-4 1M565 1303l-3 0-5 1 0 1M605 1277l0 1-1 4M601 1277l-1-2-3-1-1-1 1-3M588 1270l-1 4 1 1 3 0 2-2 3 0M561 1310l-1 0M555 1228l-2 4M543 1260l0-1-5 1 0 4M547 1257l3 2 3-4 2 2M541 1255l-3 0M537 1260l0-4M560 1252l-1 1 1 2M553 1255l-1-1M525 1305l-2-1M514 1310l-1 5 3 2 3-4M516 1317l0 1M538 1279l1 2M552 1307l2 1M523 1286l0-1M576 1244l2-1 1-1M527 1248l4-3 2-1 2 0M574 1273l0 1M597 1274l-1 4M531 1245l-4-4M548 1246l0 1-5 4M564 1275l3 4M554 1271l0 2M536 1314l3 2-2 4M559 1275l-3 0" stroke="#9c2068" stroke-width="2.10" stroke-linecap="round" stroke-linejoin="round" fill="none"/><path d="M616 1180l-2 0-2 5M618 1174l-3 1-1 5-5-2-1 3 2 4-2 1-3 0-2-3 0-1M466 1239l1 2-2 4 2 2 3-1 1-2-1-2M619 1262l0 3-2 2 1 4-1 2 3 3M620 1249l-1 4M615 1175l-2-1M615 1260l-5 2-1-1 0-1-3-2 1-4 2-1 2 3-2 4M463 1238l-2 4 1 3 1 0-1 6 2 1 3-2 4 3 2-4 3 3 4-2-1-4-3 0-3 3-3-3M466 1232l-1-5-3 1-2-3M473 1239l2 3-1 2-3 0M474 1244l2 2M461 1271l1-4 3-1 1 0 0 5M616 1243l0-1 3-2 1 0M536 1209l-2-1-2 0-2-2 3-4 2 3 4 0 1 3 4 0 2 3 1 0 1-1 4 2 3-1-1-3 0-1-4 0-2 3M536 1209l-1 5-2-1-3 3-1 0 1 1 4 2 2-3 3 2 3-3 3 3 3-1 0-1 4-2 2 3 0 1 4 2 1-1 2 1 3-3 1-1 1-4 1-1M544 1208l1-4M545 1218l-1 2-1 1-4-1 0-2M607 1254l-4-1-2 4 2 2 3-1M609 1247l-2-2M539 1220l-1 2M469 1280l-2 1-1 4-3 0-1 1 0 4-1 2M469 1280l2 1 0 3-3 2-2-1M462 1299l3 1 0 4-5 0M460 1217l3 3 1-1 2-3-1-1-4 0M464 1219l4 3-3 3 0 2 6 0-1-4-1-1-1 0M465 1215l0-4M461 1171l1-2 3 0 1-2M461 1172l1 3-2 3 3 4 2-1M491 1176l0 3-3 1-2-1-1-4 4-2 1-1 5 0 1 3 0 6-1 0-4-2M471 1284l3 1 1 0M483 1242l3 0 0-5-2 0-2 3M480 1245l-1 1M480 1250l1 1 2 0M484 1246l4-2 0-1 2 0 2 0 4-3 0-1-1-1-5-1 3-5-1-2-5 2 1 4-2 1M467 1247l0 3M480 1234l1-1 1 1 2 3M482 1234l5-3 0 1M487 1231l-1-3-5 1M493 1232l3 2 5 2 0 1 1 2-2 5 5 0 1-3-2-2-2 0M476 1222l-2-1-1-2-3-1-1-3M481 1224l2-1 3 3 1 0 4 0 1-5-4 1-3-2 3-2M609 1241l1-1 4-1 0-4-5 1M604 1249l-1 1-4-4-3 3 2 3 4-1 1-1M547 1224l-3 3M569 1212l1 3-3 3-2-2M566 1212l-5-2-1 5 4 2M563 1224l-1 2 0 3 2 1 1 0 2 6M563 1223l-2-3M560 1215l-1 0 0 4M588 1215l-1 4-3 1-1-1-1-4 0-1 4-1 2 1 0 1 5 1 0 2-4 3-2-2M586 1213l0-5-2-4 4-1 2 3M583 1219l-5 1-1-1M568 1169l1 2 3 1 3-2 0-2M569 1171l-2 3-1 0-1 5-1 0-4-3 3-3 3 1M587 1233l-3 2 0 3 4 1 1 1 2 0M603 1259l0 3 2 1 4-2M584 1235l-3-2 0-1 4-3 6 0 0-1 3 1 0 3 2 1 0 4 1 2 3 0 1-4-3-2-2 0M589 1240l-1 4-4-1-2 4 2 2 0 5-4 0-2-4 3-3 1 0M575 1214l0-3M581 1232l-2-2-1-2 2-2 0-1M573 1231l3 1 0 4M571 1235l-1 1M615 1212l0 3-2 2 0 2 3 2 0 1-2 3-1 0-2-3 2-3M615 1212l-3-2 2-4-4-2-1 1-4 0M619 1203l2 2M539 1168l0 2-4 2-2-4-2 1-2 2 2 3 4-1 0-1M560 1170l-2 3 1 2-1 3-4 0 0-4 2-1 2 0M565 1179l4 1 0 3 2 1 3-1-1-4M560 1176l-1-1M605 1176l4 2 2-4M605 1176l0-1 2-3 2 0M607 1172l-2-4-2 1-1 4 3 2M603 1169l-4-1-2 4 3 2M533 1188l3-1 1 2 5 0 0 2-1 3-4 0-1-2 1-3M528 1181l0-3-2-1-3 2-1 2 3 3M525 1185l-2 2 0 1 4 3M532 1194l1 3-5 1-1-4 0-1M551 1170l-2 0-1-3M549 1170l-2 2M529 1171l-2 0-2 3-5-1 0-2 5-3 2 3M523 1187l-3-1-1-2 3-3M520 1186l-2 3 2 3 2 0M511 1179l2-3 1 0M510 1179l-3-4 0-1 1-1 0-3 2-3 4 3 2 4M526 1177l-1-3M524 1223l-4 0-2 4-1 0-1 6 2 1 0 1-3 3-3-1 2-4-3-1-1 0-3-2-2 3 2 3 1 0 2-4M524 1223l1 3-1 5-1 0-5-4M524 1218l1-2-1-3M493 1217l3-1 2 3-1 4 5 0 1 1-1 4-1 1-2 0-2-2M484 1209l-2 0 0-3-2-2-2 0-2 5-3-1-3 2M496 1216l1-3 3 0 0-3-3-3-1 0-2 4-1 0M492 1229l-1-3M496 1234l3-5M503 1224l3 0 2-4-3-2M502 1223l1-4M618 1300l-1 2 3 3 0 2-5 1 0 2 1 2 4 2-1 2-3 2-1 1M610 1262l1 2M617 1273l-1 0-2 5 4 1 2-1M582 1318l-1-6 2-1 1-4-1-2 2-3 3 1 0 4-4 0M585 1302l0-1-5-2-1-1 4-4 4 2-2 5M580 1299l-2 3 3 3M583 1311l2 1 1 4M467 1320l-4-3-3 2M465 1300l3-2-3-4M463 1310l-1 2M466 1308l3 3-1 3-4 0M472 1317l-3 0-1 3M469 1317l-1-3M489 1316l3-1 3 3 3-3-3-4-1 0M481 1315l-2-3 4-2 1 1 1 3M467 1209l0-3-1-5 0-3 3-2 1-2-2-2 0-2-2-3-2 1-3-4 2-2M467 1206l4-2-1-3 2-2 3 3-3 3-1-1M473 1208l-1-3M470 1218l-1 4M474 1221l-4 2M471 1181l-2-1 2-3M489 1170l-4-1-2 3-3-3 0-1M498 1201l3 1 1 3 1 0 2-1 0-5M494 1211l3 2M500 1210l3-2 3 2-2 4M498 1192l-3 1-1-3 2-3 1 0 3 3M496 1187l-2-3 1-3M518 1189l-3 0 0 2M509 1207l-2-2-2-1M513 1205l-2-4-2 0M505 1216l5-2 0 4 4 0 1-1M508 1220l1 0 1-2M607 1222l2 6 0 1-2 0-3-2-2 0M609 1228l4-3M607 1229l-3 3 0 1M600 1239l5 0M604 1232l-3-3M617 1235l0-1M554 1219l0-1M552 1214l0-2M586 1208l-5 2M592 1211l2 2-1 3M616 1206l-2 0M613 1200l-2 2-1 2M610 1196l0-4-1-1-1-5M547 1173l1 2M543 1178l-2 1-3-3M563 1187l0 1 3 1 1-1M559 1184l-2 3 2 2 3 0 0 3-3 2 2 4M606 1198l-2-2M594 1187l-2-1 0-4 5 0M549 1181l3-2-3-4M547 1186l1 3 0 2-1 1-5-1M537 1176l-2 4-2 3M537 1194l-1 2M548 1191l4 2 2-2 3 1 1 2-2 2-3-1-1-2M548 1189l3-1M534 1201l-1 1-5-2-1 4 2 2 1 0M546 1203l2 1 2-2 1-4 4 2 2-1-1-3M527 1204l-3 1 0 3M528 1199l-4 0M515 1200l4-1M518 1207l2 2M520 1174l0-1M494 1167l2 4 3-1 2 3 0 3-5-1M497 1181l3-2M507 1175l-2 2M516 1233l-2 0M524 1231l1 1 4-1 3 3-2 3-5-3M524 1205l-2-2M480 1204l2-4 5 3 1-4-3-2 0-3M506 1229l1 1M616 1318l-2-3 2-3M614 1315l-3-1-3 4 2 2M611 1294l-3 1 1 5-4 1-1-5-2 0-2 4-1 0-4-3M617 1286l1-2 0-5M591 1315l0-1 5 1 0 1 4 2 1-2 0-4-4 1-1 2M591 1299l2 0M617 1302l-2 0M615 1308l-2-3M607 1317l-1-4 3-2 1 0M540 1231l0 2 5 2 1-2-1-4 4 0 1 2 3 1 1 1 4 1 4 0 2-4M537 1227l-1 0M562 1236l-2 3 1 1-1 4 1 2 5 3M486 1266l-1-4-3 0M486 1266l1 0 2 4 3 0 2 2-1 2-3 1-2-4 1-1M480 1255l-4 1 3 4M466 1266l4 0 1 3-1 2M514 1291l-3 4 5 2 1-5-3-1-1-2-2 0-2 1 2 4 0 1-1 4-3 1-2-2 2-3 4-1M507 1295l-2-3-3 0 2 6 1 0M510 1299l3 3 3-4M504 1298l-3 1 0 1 1 3M476 1202l-1 0M508 1199l0-2 5-1-2-4M496 1240l3 5 1-1M596 1224l1 2M611 1216l-1-2 1-4M558 1204l1 3 2 0M597 1207l1 3 3 0M590 1201l0-1 0-4M586 1197l-3-2M581 1200l-3 2M582 1174l0 1-5 1M585 1172l1 1M592 1182l-1-1-5 1-1 3-4-1-3 3 4 3 3-5M594 1257l-1 2-4 0-1 0-3 1-1 0-4 0-2 4 1 1-1 2-3 1-2-1 0-3-4 0-2 3-1 5 2 1 3-2-1-3 3-1M588 1177l1 0 2 4 3-5 1-4-5 0M583 1179l-3 2-5 3-1-1M552 1179l1 0 2 3M602 1201l-3-4M518 1194l-1 0M572 1191l2 3M571 1196l2 0M567 1184l2-1M559 1189l-2 3M553 1179l1-1M507 1236l-3 3M511 1232l1-4M618 1284l3 0M614 1279l-4-1-1-1 1-2M585 1289l1-4 2 0 2 1 1 4-2 2-4-3-2 1M589 1292l0 2M580 1287l1-2M577 1297l-3 1-2-3 1-4M572 1290l-3 0-2-2 2-4-3-2M600 1292l2-2 0-3-1 0M600 1300l2 3 2-1 2 3-1 3 4 1 0 2M607 1272l-3 0 1 5 4 0M604 1296l3-1 1 0M609 1309l2-4M597 1313l-2-4M577 1317l-2 1-2 0-1-2 0-3 3-1 2 2M517 1262l2 1 0 4 3 0M522 1258l1-2 3-2 2 2-1 4M525 1270l0 2-5 0-1 2 1 3 3 0 2-4 0-1M544 1244l-3 1M544 1244l4 2 2-2-3-5 3-2 2 0 2-4M551 1264l2-3-3-2-3 3-4-2-1 5M496 1281l0 1 2 1 3-1 1-2-1-2-3 0M474 1314l-2-3-3 0M515 1262l-1 3-4-2-2 3 1 2 4 1 1-3 0-1M501 1269l1 5M501 1263l0-3-3-1-2 2M501 1278l2-4 3 4 4-3 0-1-3-2 2-4M501 1282l2 3 0 1 0 1M498 1283l0 4-4 1 0 3M510 1275l2 4 2 1-1 4-4 1-2-3 0-1 5-2M501 1260l1-1 4 1M464 1252l1 2 4 2-2 3M473 1260l-3 2 1 2M495 1311l5-2 2 2 6 2 0 2-3 2 0 2M528 1317l4-1 2 3M528 1317l-2-2-4 1-3-3 1-1-5-3M537 1302l-1-1-3-1-1-2 0-2 0-2 5-2-1-3-2-1 0-4 5 0 2 2-1 1-4 2M536 1301l1-2M536 1274l-1-4 1-2M541 1270l1 1 4 0 1 2M534 1275l-1 4 1 2 4-2-1-3 5-1 0-4M558 1318l0 1M520 1272l-1-2 0-3-5-1M523 1277l2 2-3 4 1 2 6-2 5 0 0-2M514 1271l-1-2M520 1278l1 5-3 0-3-3M539 1284l0-3 3-2 2 2 0 3-3 2 3 4-1 2-3 1-1 0-2-1M543 1292l2 2-1 4-1 0M532 1298l-5 1 2 4-4 2 1 2 3 1M488 1300l1 2 2 2 3-3-4-4 4-2M501 1300l-5 1 2 4M507 1303l1 1M468 1192l-3 1-2-4M480 1169l-3 3-2-1 0-2-5-2 0 4M598 1218l0-4M559 1207l-5 1M554 1203l0 4M589 1177l2-2M580 1260l-1-1-5 1-1-5 6 0 0 4M585 1260l-1-6 4 0M565 1243l-4 3-2 3 1 3 6-1-1 4-2 1M573 1255l-1-1 4-4-1-3M571 1178l1 0M515 1238l1 2M517 1241l3-1 2 1-1 4M553 1285l2 0 1 1M553 1285l-4-2 0-1-2-3-3 2M551 1289l-3 0 0 4-3 1M578 1280l-2-2 3-3-1-3 2-2 2 0 2 4-1 2-4-1M574 1298l-1 0 1 5M610 1278l-1 4M605 1301l-1 1M589 1308l4 0M566 1315l2 2 4-1M561 1313l0-3 2-1-1-6-1-5M558 1230l0 4 0 4-5 0-1-1M510 1248l-1 3-1 0-2 4M515 1250l3-1M523 1256l-2-4M528 1256l4-1 1 5M574 1262l0-1M575 1268l-1 4 0 1 4-1M563 1263l0-2-4-1M484 1311l4-2 1 1M507 1290l2 0M532 1289l0 5-4-1-2 1-3-2-2 1M515 1286l1 0 2-3M493 1267l-1 3M474 1275l-1 5M485 1272l3-1M473 1293l1 1M521 1297l5 1 0-4M523 1292l1-4 4 0 0 5M526 1315l0-2M556 1267l-5-1M561 1271l4 2 1-1M557 1315l-1-3 4-2-3-5-3 3 0 3 2 1M521 1283l1 0M540 1303l1 3 4-2 2 2M553 1300l-4-3M553 1302l4 2 1-5M482 1293l1-3M489 1276l1-1M495 1300l1-4M477 1173l0-1M558 1285l1-1 0-4 2-2 0-1M611 1285l-2 3M605 1278l-4-1-2 4M585 1268l-3 2M587 1274l-3 0M553 1238l0 6 1 0M551 1227l-2 2M538 1260l-1 0-3 1M547 1257l-4 2-2-4 3-2 3 1 0 3M535 1265l1 0M527 1250l0-2-2-2-2 1M559 1253l-5 0 0-4-5 0 0 4 3 1 2-1M526 1299l-3 3M520 1312l2-2M513 1315l-5 0 3 5M508 1313l1-3M533 1279l-5 0-3 0M528 1288l1 0M589 1249l-1-1-4 1M576 1250l2 0M525 1246l1-5M574 1272l-3-1M546 1233l2 0 2 4M555 1248l-1 1M548 1247l1 2M549 1282l5-2 2-1 0-4-2-2-3 3M554 1311l-3 2M578 1243l3 4M559 1280l-3-1" stroke="#b03880" stroke-width="2.10" stroke-linecap="round" stroke-linejoin="round" fill="none"/><path d="M619 1176h0M616 1180h0M618 1174h0M617 1171h0M466 1233h0M470 1236h0M465 1239h0M470 1236h0M614 1180h0M609 1178h0M609 1178h0M615 1259h0M618 1262h0M462 1241h0M461 1232h0M463 1238h0M466 1233h0M472 1232h0M462 1274h0M476 1235h0M474 1238h0M470 1243h0M461 1270h0M620 1249h0M613 1245h0M619 1188h0M615 1170h0M535 1209h0M537 1209h0M539 1205h0M546 1210h0M542 1208h0M541 1214h0M546 1211h0M548 1217h0M609 1252h0M609 1253h0M607 1258h0M608 1248h0M543 1221h0M539 1217h0M465 1271h0M467 1275h0M460 1299h0M462 1294h0M462 1295h0M461 1218h0M461 1226h0M464 1227h0M461 1222h0M462 1174h0M461 1176h0M491 1179h0M462 1290h0M462 1289h0M465 1285h0M469 1286h0M471 1283h0M482 1240h0M480 1239h0M478 1236h0M479 1248h0M478 1246h0M473 1249h0M484 1246h0M483 1246h0M481 1251h0M479 1246h0M475 1246h0M471 1245h0M470 1247h0M462 1245h0M467 1247h0M469 1251h0M471 1252h0M467 1249h0M461 1243h0M476 1230h0M483 1238h0M488 1234h0M487 1232h0M492 1234h0M493 1232h0M487 1232h0M476 1223h0M479 1223h0M480 1226h0M481 1231h0M609 1242h0M605 1245h0M604 1244h0M608 1245h0M607 1249h0M616 1242h0M610 1240h0M617 1242h0M548 1217h0M549 1222h0M565 1212h0M566 1224h0M565 1221h0M569 1223h0M570 1221h0M565 1216h0M565 1211h0M561 1212h0M561 1220h0M559 1215h0M583 1214h0M583 1219h0M582 1218h0M587 1214h0M568 1169h0M572 1172h0M575 1169h0M577 1168h0M585 1229h0M586 1231h0M587 1233h0M590 1229h0M603 1258h0M602 1257h0M584 1236h0M591 1240h0M588 1239h0M577 1216h0M574 1220h0M572 1217h0M578 1220h0M571 1216h0M581 1233h0M581 1232h0M573 1230h0M569 1227h0M574 1236h0M615 1215h0M621 1204h0M534 1170h0M562 1170h0M564 1179h0M562 1177h0M564 1173h0M563 1173h0M567 1174h0M568 1173h0M609 1172h0M608 1172h0M607 1172h0M602 1173h0M533 1188h0M530 1182h0M526 1184h0M525 1184h0M528 1186h0M527 1191h0M527 1193h0M553 1169h0M550 1170h0M549 1169h0M555 1169h0M535 1172h0M534 1174h0M525 1189h0M523 1181h0M521 1182h0M521 1187h0M512 1180h0M507 1183h0M510 1179h0M510 1179h0M527 1178h0M525 1177h0M523 1223h0M524 1220h0M491 1214h0M493 1217h0M488 1216h0M490 1218h0M492 1219h0M488 1208h0M496 1222h0M492 1221h0M492 1220h0M496 1216h0M497 1222h0M497 1224h0M492 1223h0M491 1227h0M495 1238h0M496 1234h0M490 1237h0M491 1237h0M498 1227h0M492 1229h0M501 1229h0M502 1233h0M502 1228h0M502 1223h0M499 1223h0M501 1229h0M616 1297h0M609 1261h0M617 1272h0M585 1318h0M584 1304h0M584 1307h0M588 1304h0M588 1303h0M579 1299h0M580 1297h0M586 1297h0M582 1305h0M579 1301h0M579 1303h0M581 1312h0M579 1310h0M462 1318h0M463 1304h0M461 1307h0M466 1305h0M466 1308h0M462 1312h0M463 1314h0M473 1319h0M470 1317h0M468 1318h0M464 1314h0M493 1316h0M478 1318h0M486 1314h0M488 1316h0M483 1315h0M467 1207h0M469 1215h0M465 1212h0M469 1210h0M471 1214h0M475 1217h0M475 1215h0M483 1215h0M462 1203h0M467 1227h0M469 1222h0M472 1223h0M470 1180h0M460 1179h0M463 1175h0M465 1175h0M497 1198h0M498 1199h0M497 1202h0M493 1211h0M493 1211h0M496 1207h0M497 1207h0M493 1202h0M497 1206h0M487 1204h0M490 1203h0M490 1209h0M498 1207h0M499 1213h0M496 1213h0M493 1212h0M487 1214h0M496 1214h0M499 1191h0M503 1192h0M494 1192h0M496 1187h0M499 1189h0M495 1188h0M502 1185h0M499 1185h0M505 1188h0M504 1187h0M522 1191h0M522 1192h0M513 1210h0M507 1211h0M506 1210h0M513 1212h0M500 1217h0M501 1213h0M505 1215h0M505 1218h0M505 1216h0M500 1213h0M500 1218h0M502 1209h0M510 1214h0M509 1215h0M507 1220h0M483 1223h0M487 1226h0M482 1224h0M486 1227h0M484 1220h0M484 1214h0M487 1219h0M487 1226h0M609 1228h0M591 1229h0M594 1229h0M596 1236h0M599 1233h0M602 1244h0M609 1233h0M605 1231h0M612 1231h0M614 1236h0M618 1234h0M620 1225h0M617 1234h0M616 1229h0M557 1219h0M549 1224h0M551 1223h0M559 1219h0M554 1218h0M553 1216h0M555 1217h0M575 1213h0M589 1205h0M588 1213h0M586 1213h0M584 1208h0M593 1208h0M592 1211h0M577 1172h0M580 1170h0M578 1172h0M582 1168h0M591 1227h0M587 1220h0M584 1220h0M618 1210h0M618 1204h0M617 1204h0M613 1201h0M610 1192h0M618 1198h0M616 1203h0M620 1195h0M603 1208h0M542 1173h0M544 1170h0M547 1173h0M547 1174h0M545 1179h0M563 1181h0M562 1186h0M559 1182h0M608 1186h0M609 1185h0M605 1186h0M610 1192h0M603 1183h0M599 1186h0M595 1187h0M593 1186h0M544 1183h0M548 1181h0M545 1185h0M541 1174h0M540 1178h0M531 1175h0M532 1178h0M535 1179h0M538 1194h0M538 1189h0M537 1189h0M536 1192h0M542 1188h0M548 1190h0M548 1189h0M537 1188h0M537 1197h0M533 1197h0M535 1201h0M530 1197h0M528 1197h0M542 1203h0M546 1204h0M543 1198h0M545 1206h0M540 1203h0M534 1202h0M539 1200h0M542 1196h0M547 1193h0M528 1202h0M529 1206h0M533 1208h0M530 1206h0M528 1199h0M529 1206h0M531 1210h0M516 1204h0M518 1207h0M517 1204h0M507 1192h0M515 1175h0M516 1181h0M512 1177h0M513 1176h0M511 1174h0M515 1172h0M516 1169h0M508 1172h0M508 1169h0M514 1170h0M518 1168h0M489 1173h0M495 1182h0M494 1185h0M508 1173h0M517 1227h0M519 1227h0M523 1231h0M519 1212h0M524 1212h0M520 1214h0M519 1217h0M519 1214h0M524 1217h0M513 1214h0M524 1205h0M532 1218h0M529 1219h0M525 1216h0M476 1208h0M483 1209h0M476 1209h0M487 1203h0M485 1202h0M514 1218h0M514 1220h0M618 1317h0M616 1319h0M619 1316h0M616 1318h0M620 1314h0M617 1294h0M617 1293h0M619 1290h0M614 1289h0M616 1286h0M589 1315h0M586 1316h0M591 1318h0M589 1303h0M587 1296h0M590 1298h0M590 1302h0M608 1262h0M604 1263h0M615 1311h0M615 1309h0M610 1319h0M614 1315h0M606 1317h0M608 1318h0M610 1312h0M584 1312h0M581 1314h0M540 1231h0M542 1226h0M543 1222h0M538 1223h0M544 1227h0M565 1230h0M565 1237h0M562 1235h0M567 1230h0M562 1226h0M563 1229h0M473 1285h0M474 1285h0M482 1262h0M484 1267h0M472 1258h0M476 1253h0M471 1253h0M463 1290h0M466 1292h0M467 1291h0M513 1293h0M516 1292h0M517 1294h0M506 1296h0M510 1299h0M504 1298h0M502 1292h0M477 1200h0M476 1202h0M482 1200h0M482 1200h0M462 1200h0M466 1202h0M467 1206h0M473 1200h0M473 1204h0M489 1183h0M488 1181h0M463 1182h0M508 1198h0M507 1204h0M490 1260h0M490 1243h0M488 1244h0M486 1245h0M496 1240h0M487 1242h0M599 1231h0M595 1223h0M600 1219h0M613 1225h0M611 1222h0M615 1224h0M611 1221h0M613 1216h0M616 1221h0M609 1217h0M612 1216h0M556 1199h0M561 1201h0M561 1201h0M555 1201h0M595 1206h0M597 1206h0M594 1203h0M594 1201h0M589 1202h0M582 1205h0M586 1198h0M583 1201h0M581 1199h0M590 1196h0M590 1200h0M584 1202h0M561 1199h0M568 1200h0M582 1174h0M584 1171h0M590 1168h0M587 1172h0M592 1182h0M598 1177h0M598 1179h0M599 1245h0M595 1241h0M598 1254h0M599 1258h0M595 1258h0M594 1256h0M610 1204h0M613 1206h0M613 1208h0M611 1210h0M615 1212h0M582 1176h0M580 1180h0M592 1181h0M591 1181h0M585 1185h0M546 1180h0M552 1172h0M600 1197h0M598 1172h0M534 1182h0M540 1184h0M540 1182h0M537 1186h0M535 1180h0M529 1177h0M523 1204h0M518 1205h0M566 1194h0M562 1190h0M572 1190h0M572 1189h0M570 1197h0M560 1193h0M566 1184h0M567 1186h0M558 1185h0M558 1188h0M560 1189h0M557 1195h0M554 1195h0M554 1191h0M553 1194h0M553 1199h0M552 1195h0M548 1191h0M551 1198h0M556 1187h0M553 1189h0M556 1187h0M555 1182h0M554 1184h0M550 1188h0M551 1184h0M514 1191h0M516 1193h0M516 1195h0M517 1194h0M514 1198h0M522 1173h0M520 1172h0M520 1173h0M528 1171h0M505 1173h0M504 1172h0M504 1177h0M505 1178h0M501 1177h0M501 1176h0M506 1176h0M501 1176h0M505 1181h0M502 1183h0M500 1176h0M497 1171h0M500 1172h0M531 1224h0M540 1232h0M536 1227h0M530 1232h0M524 1231h0M530 1229h0M486 1198h0M507 1235h0M510 1232h0M508 1236h0M503 1233h0M506 1229h0M513 1234h0M513 1232h0M510 1232h0M510 1226h0M514 1233h0M511 1231h0M619 1278h0M618 1284h0M619 1284h0M616 1279h0M614 1284h0M618 1284h0M609 1268h0M614 1266h0M615 1266h0M614 1272h0M613 1272h0M610 1262h0M586 1286h0M588 1291h0M589 1292h0M590 1287h0M588 1285h0M587 1285h0M582 1289h0M579 1287h0M577 1291h0M582 1291h0M578 1297h0M577 1292h0M585 1289h0M576 1292h0M574 1288h0M573 1289h0M572 1290h0M568 1288h0M600 1292h0M596 1295h0M600 1299h0M599 1300h0M600 1294h0M597 1298h0M594 1290h0M592 1299h0M602 1290h0M609 1268h0M608 1269h0M606 1264h0M606 1267h0M607 1295h0M607 1317h0M609 1311h0M609 1311h0M608 1309h0M604 1310h0M596 1316h0M599 1317h0M597 1313h0M598 1313h0M600 1317h0M601 1314h0M591 1314h0M596 1317h0M596 1315h0M600 1306h0M585 1312h0M578 1314h0M577 1317h0M576 1313h0M576 1317h0M574 1318h0M517 1259h0M517 1257h0M527 1269h0M527 1266h0M525 1270h0M522 1266h0M545 1239h0M543 1239h0M539 1240h0M561 1240h0M549 1260h0M472 1316h0M475 1314h0M515 1257h0M514 1257h0M500 1269h0M499 1266h0M504 1264h0M505 1265h0M499 1278h0M502 1274h0M496 1282h0M502 1280h0M497 1282h0M503 1274h0M509 1274h0M510 1275h0M507 1277h0M506 1280h0M498 1264h0M483 1267h0M501 1243h0M504 1239h0M510 1240h0M506 1241h0M462 1251h0M465 1252h0M465 1254h0M475 1261h0M471 1262h0M478 1260h0M473 1259h0M467 1260h0M466 1261h0M462 1258h0M469 1256h0M467 1261h0M465 1265h0M466 1296h0M510 1299h0M516 1297h0M494 1311h0M496 1317h0M497 1314h0M531 1316h0M537 1301h0M536 1300h0M535 1271h0M541 1270h0M533 1275h0M531 1269h0M535 1275h0M535 1308h0M522 1263h0M522 1267h0M519 1267h0M524 1272h0M520 1272h0M520 1275h0M525 1272h0M524 1276h0M522 1277h0M514 1274h0M514 1272h0M514 1271h0M539 1284h0M534 1287h0M538 1288h0M541 1287h0M543 1292h0M539 1299h0M540 1294h0M534 1293h0M532 1296h0M532 1297h0M533 1300h0M486 1295h0M488 1295h0M485 1299h0M483 1296h0M501 1304h0M501 1304h0M497 1303h0M507 1301h0M501 1299h0M503 1303h0M469 1193h0M467 1198h0M480 1169h0M483 1172h0M461 1194h0M463 1195h0M465 1192h0M496 1240h0M500 1244h0M608 1214h0M602 1218h0M604 1217h0M606 1211h0M594 1220h0M600 1219h0M597 1218h0M593 1217h0M601 1210h0M596 1212h0M598 1217h0M563 1205h0M565 1204h0M560 1207h0M561 1210h0M561 1209h0M557 1211h0M575 1200h0M574 1200h0M580 1201h0M574 1194h0M576 1199h0M576 1194h0M580 1196h0M577 1192h0M588 1177h0M597 1177h0M594 1177h0M598 1246h0M596 1249h0M601 1251h0M593 1243h0M593 1244h0M589 1240h0M578 1264h0M580 1260h0M584 1260h0M586 1260h0M586 1265h0M584 1265h0M561 1246h0M578 1259h0M574 1259h0M574 1182h0M572 1184h0M569 1183h0M569 1179h0M571 1178h0M579 1181h0M575 1184h0M580 1181h0M568 1184h0M582 1189h0M580 1188h0M581 1184h0M555 1178h0M558 1173h0M555 1173h0M557 1173h0M559 1171h0M501 1169h0M515 1238h0M518 1234h0M516 1238h0M517 1242h0M514 1245h0M514 1242h0M511 1242h0M515 1239h0M575 1283h0M554 1285h0M551 1289h0M577 1281h0M582 1279h0M583 1279h0M577 1279h0M575 1297h0M573 1297h0M574 1299h0M613 1279h0M610 1276h0M610 1278h0M589 1275h0M588 1259h0M606 1267h0M601 1264h0M605 1307h0M604 1302h0M596 1303h0M595 1303h0M598 1301h0M593 1305h0M591 1313h0M572 1314h0M568 1318h0M562 1314h0M560 1230h0M561 1234h0M507 1245h0M510 1248h0M511 1248h0M518 1256h0M514 1249h0M510 1248h0M514 1252h0M523 1256h0M527 1255h0M557 1239h0M570 1264h0M573 1263h0M574 1261h0M574 1262h0M576 1268h0M574 1260h0M564 1267h0M484 1312h0M480 1314h0M478 1312h0M479 1312h0M469 1312h0M503 1288h0M507 1290h0M506 1288h0M510 1292h0M513 1289h0M512 1289h0M533 1289h0M532 1293h0M513 1280h0M508 1281h0M507 1282h0M511 1277h0M510 1287h0M506 1288h0M503 1287h0M501 1283h0M498 1269h0M493 1267h0M494 1267h0M497 1270h0M472 1274h0M471 1270h0M474 1275h0M480 1273h0M470 1267h0M481 1273h0M466 1305h0M470 1300h0M473 1293h0M473 1291h0M474 1289h0M518 1291h0M518 1292h0M520 1298h0M523 1292h0M524 1293h0M523 1298h0M502 1311h0M526 1315h0M532 1315h0M526 1314h0M562 1268h0M558 1270h0M513 1268h0M511 1268h0M509 1264h0M517 1267h0M509 1268h0M515 1262h0M510 1263h0M505 1263h0M516 1286h0M518 1290h0M518 1289h0M543 1299h0M540 1304h0M545 1304h0M542 1305h0M553 1293h0M552 1295h0M550 1298h0M489 1293h0M488 1293h0M481 1293h0M478 1290h0M491 1278h0M491 1304h0M498 1310h0M489 1311h0M489 1303h0M489 1302h0M493 1301h0M492 1299h0M494 1301h0M477 1173h0M549 1211h0M549 1209h0M551 1207h0M595 1174h0M594 1176h0M590 1255h0M592 1251h0M578 1237h0M578 1237h0M570 1256h0M570 1251h0M572 1254h0M571 1249h0M565 1255h0M573 1255h0M521 1241h0M519 1240h0M565 1291h0M564 1293h0M559 1292h0M566 1288h0M558 1285h0M568 1284h0M556 1298h0M568 1299h0M566 1300h0M570 1303h0M568 1305h0M562 1303h0M569 1305h0M565 1309h0M565 1309h0M609 1282h0M610 1287h0M608 1277h0M605 1278h0M600 1278h0M604 1282h0M585 1267h0M590 1269h0M588 1271h0M592 1274h0M610 1303h0M612 1305h0M609 1300h0M616 1302h0M615 1307h0M559 1304h0M557 1304h0M558 1237h0M552 1237h0M558 1238h0M557 1229h0M551 1227h0M554 1233h0M555 1229h0M509 1251h0M543 1261h0M542 1259h0M543 1259h0M547 1262h0M545 1258h0M543 1253h0M544 1253h0M534 1261h0M534 1265h0M536 1260h0M535 1265h0M529 1261h0M532 1255h0M532 1252h0M538 1253h0M538 1255h0M537 1259h0M531 1251h0M564 1251h0M560 1254h0M559 1253h0M555 1258h0M555 1262h0M557 1265h0M563 1262h0M553 1261h0M552 1256h0M504 1259h0M502 1259h0M507 1253h0M490 1270h0M489 1270h0M492 1270h0M493 1274h0M488 1269h0M488 1271h0M495 1272h0M494 1275h0M476 1294h0M473 1296h0M473 1293h0M478 1294h0M527 1294h0M527 1299h0M526 1306h0M526 1305h0M521 1315h0M522 1310h0M516 1317h0M507 1313h0M508 1314h0M505 1317h0M508 1315h0M501 1315h0M509 1317h0M518 1304h0M523 1305h0M518 1306h0M523 1303h0M520 1301h0M542 1275h0M534 1276h0M534 1281h0M535 1281h0M534 1282h0M547 1272h0M550 1309h0M542 1310h0M523 1287h0M531 1288h0M529 1288h0M494 1294h0M497 1291h0M499 1294h0M500 1292h0M489 1293h0M495 1299h0M499 1297h0M501 1292h0M471 1177h0M470 1171h0M467 1172h0M467 1172h0M473 1176h0M473 1171h0M575 1246h0M575 1247h0M522 1250h0M522 1246h0M520 1245h0M519 1246h0M522 1251h0M527 1250h0M525 1246h0M521 1245h0M518 1245h0M517 1249h0M581 1276h0M584 1274h0M583 1272h0M579 1271h0M578 1272h0M574 1273h0M578 1268h0M574 1272h0M596 1273h0M596 1272h0M595 1273h0M601 1276h0M550 1229h0M545 1229h0M551 1232h0M552 1237h0M550 1236h0M546 1233h0M550 1237h0M532 1245h0M531 1245h0M530 1244h0M530 1246h0M554 1244h0M554 1247h0M549 1242h0M546 1245h0M548 1246h0M544 1250h0M567 1268h0M570 1270h0M567 1267h0M564 1275h0M573 1272h0M567 1267h0M571 1268h0M549 1282h0M551 1270h0M555 1270h0M550 1270h0M550 1274h0M560 1309h0M554 1310h0M557 1311h0M561 1310h0M550 1313h0M556 1313h0M533 1315h0M524 1284h0M522 1283h0M523 1285h0M528 1279h0M578 1238h0M586 1244h0M583 1254h0M584 1250h0M583 1248h0M584 1254h0M550 1249h0M549 1250h0M552 1254h0M554 1248h0M560 1272h0M559 1275h0M561 1278h0M540 1317h0M539 1316h0M547 1315h0M542 1312h0M547 1317h0M537 1319h0M555 1280h0M554 1271h0M552 1280h0M554 1282h0" stroke="#7e1452" stroke-width="2.6" stroke-linecap="round" fill="none"/></g><path d="M234 616 Q242 617 247 620 Q255 619 262 616 Q268 615 276 618 L276 624 Q266 622 258 626 Q254 632 247 633 Q240 633 236 630 Z" fill="#8e1a5e" opacity="0.85"/><ellipse cx="247.7" cy="625.7" rx="6" ry="3.3" fill="#e2f5f6"/></g><rect x="233.9" y="587.4" width="72.7" height="68.60000000000001" fill="none" stroke="#222" stroke-width="0.9"/><clipPath id="ch4"><rect x="311" y="587" width="74.5" height="69.4"/></clipPath><g clip-path="url(#ch4)"><rect x="311" y="587" width="74.5" height="69.4" fill="#e2f5f6"/><g transform="scale(0.5)"><path d="M732 1262L732 1266L728 1268L727 1267L727 1263ZM744 1275L739 1276L739 1271L743 1271ZM737 1263L740 1260L744 1264L743 1266L738 1267L737 1266ZM732 1262L734 1261L735 1257L732 1256L729 1258ZM739 1278L736 1282L733 1280L734 1276L739 1276ZM722 1256L727 1256L727 1252L727 1251L722 1251L721 1252L722 1256ZM730 1279L729 1275L733 1273L734 1276L733 1280L732 1281ZM715 1267L717 1267L720 1264L720 1262L717 1261L714 1261L714 1262ZM717 1249L715 1249L715 1244L718 1244L720 1247ZM715 1267L717 1267L719 1270L718 1272L715 1272L713 1270L714 1268ZM717 1249L715 1249L712 1250L712 1250L714 1255L715 1255L718 1252ZM712 1257L710 1257L709 1251L709 1250L712 1250L714 1255ZM727 1280L725 1277L721 1278L721 1280L725 1283ZM721 1287L719 1283L720 1281L721 1280L725 1283L726 1284L725 1286ZM741 1299L742 1303L744 1304L745 1304L746 1299L742 1298ZM720 1262L722 1261L722 1256L722 1256L718 1257L717 1261ZM712 1275L708 1272L709 1271L713 1270L715 1272L714 1275ZM775 1281L775 1281L771 1284L772 1286L776 1287L778 1285ZM721 1287L716 1288L716 1288L715 1285L719 1283L721 1287ZM727 1290L725 1286L721 1287L721 1287L722 1292L722 1292L727 1291ZM714 1262L714 1261L712 1257L710 1257L708 1258L708 1261L711 1263ZM710 1266L707 1267L707 1267L705 1264L708 1261L711 1263ZM773 1267L777 1270L778 1270L779 1265L777 1263L774 1264L773 1267ZM700 1257L701 1260L703 1261L706 1258L704 1255L701 1256ZM726 1302L728 1298L732 1300L732 1302L727 1303L726 1303ZM773 1267L777 1270L775 1274L774 1274L771 1272ZM710 1287L707 1286L706 1283L710 1282L712 1284ZM777 1301L778 1303L778 1304L772 1305L771 1304L771 1302L773 1299L774 1299ZM727 1296L727 1291L722 1292L723 1297ZM746 1317L750 1316L750 1313L746 1311L744 1314L745 1317ZM723 1297L723 1297L727 1296L728 1297L728 1298L726 1302L724 1301ZM698 1250L698 1246L702 1245L703 1248L702 1250L699 1251ZM698 1250L693 1250L692 1249L694 1244L696 1244L698 1246ZM709 1306L708 1302L709 1301L713 1300L714 1302L713 1306ZM704 1264L703 1261L701 1260L698 1263L698 1263L700 1266ZM704 1264L700 1266L700 1269L701 1269L703 1270L707 1267L705 1264ZM702 1301L704 1303L708 1302L709 1301L707 1298L705 1298ZM743 1240L741 1239L741 1235L745 1234L746 1237ZM756 1231L757 1228L755 1226L752 1228L754 1232ZM721 1247L722 1247L723 1242L720 1241L718 1244L720 1247ZM760 1304L761 1303L765 1305L765 1307L764 1308L760 1308ZM728 1298L728 1297L732 1294L733 1294L734 1298L732 1300ZM713 1306L714 1302L719 1303L719 1305L716 1308L715 1308ZM706 1283L705 1279L708 1278L709 1278L711 1280L710 1282L706 1283ZM706 1283L701 1284L702 1289L705 1288L707 1286L706 1283ZM697 1292L698 1290L702 1289L703 1294L702 1295L700 1295ZM692 1268L693 1272L695 1272L697 1269L695 1266L693 1266ZM696 1255L699 1252L701 1256L700 1257L696 1257ZM708 1315L704 1314L704 1311L707 1309L708 1309L708 1310L708 1315ZM697 1298L699 1297L701 1300L697 1304L695 1302L695 1301ZM738 1219L738 1220L740 1221L743 1220L743 1216L739 1215ZM708 1315L712 1315L712 1311L708 1310ZM696 1286L700 1284L700 1281L696 1279L694 1284ZM700 1295L702 1295L705 1298L702 1301L701 1300L699 1297ZM690 1278L692 1277L693 1272L687 1272L687 1272L689 1278ZM694 1254L693 1250L692 1249L691 1249L688 1252L688 1254L691 1256ZM684 1256L686 1257L688 1254L688 1252L684 1250L684 1250L681 1253L681 1253ZM686 1279L689 1278L690 1278L691 1281L687 1284L685 1281ZM735 1202L733 1206L731 1206L729 1204L731 1200L732 1199L734 1200ZM688 1235L685 1239L685 1239L687 1241L691 1239L692 1238L691 1236L688 1235ZM694 1244L692 1243L687 1244L687 1245L691 1249L692 1249ZM686 1306L686 1309L688 1310L691 1308L691 1308L691 1304L689 1303ZM682 1302L679 1303L679 1306L681 1308L684 1305ZM696 1286L694 1284L693 1284L690 1287L691 1290L691 1290L696 1287ZM705 1220L704 1223L702 1223L699 1222L699 1218L701 1216ZM750 1201L754 1197L755 1197L756 1201L754 1204L751 1202ZM691 1249L687 1245L687 1245L684 1250L688 1252ZM679 1312L680 1312L681 1314L680 1319L680 1319L675 1316L675 1315ZM758 1209L757 1206L754 1205L753 1209L757 1211ZM699 1313L698 1314L696 1318L698 1319L702 1318L702 1315ZM697 1298L694 1295L691 1296L691 1298L695 1301ZM682 1244L682 1244L687 1245L684 1250L684 1250L681 1247ZM674 1304L674 1305L677 1307L679 1306L679 1303L678 1302ZM731 1200L732 1199L732 1194L729 1193L727 1195L727 1198ZM736 1202L739 1206L742 1205L743 1204L740 1200ZM671 1308L673 1311L676 1310L677 1307L674 1305L672 1306ZM676 1262L679 1259L678 1256L675 1255L672 1257L672 1258L673 1261ZM712 1230L713 1231L717 1231L718 1228L715 1226L714 1226ZM676 1245L677 1244L682 1244L681 1247L677 1249ZM745 1198L744 1204L743 1204L740 1200L740 1199L744 1197ZM666 1304L665 1307L666 1308L667 1309L671 1308L672 1306L669 1303ZM675 1298L676 1294L675 1293L672 1294L671 1295L671 1299L672 1299ZM673 1318L675 1316L675 1315L673 1311L670 1314L670 1316ZM685 1287L687 1291L683 1292L681 1291L683 1287ZM762 1190L764 1190L763 1196L761 1197L760 1196L759 1193ZM668 1317L670 1316L670 1314L667 1312L665 1315ZM672 1299L671 1299L670 1300L669 1303L672 1306L674 1305L674 1304ZM749 1196L753 1195L754 1197L750 1201L747 1198ZM659 1308L660 1306L665 1307L666 1308L661 1312ZM666 1292L665 1292L665 1293L667 1295L671 1295L672 1294L670 1291ZM659 1308L660 1306L659 1303L656 1302L654 1304L654 1308L655 1309ZM673 1284L674 1283L678 1283L678 1285L677 1288L675 1289L675 1289ZM675 1276L678 1274L681 1276L680 1279L679 1280L674 1277ZM712 1199L707 1201L707 1202L708 1205L710 1206L710 1206L713 1201ZM772 1205L771 1203L772 1201L776 1201L777 1202L776 1203L773 1206ZM663 1300L666 1298L667 1295L665 1293L661 1296L663 1300ZM687 1224L681 1224L681 1221L683 1218L685 1218L687 1222ZM664 1278L666 1281L663 1283L660 1281L659 1279L660 1278ZM663 1319L659 1320L658 1319L658 1314L661 1313L664 1315ZM763 1176L766 1178L767 1178L768 1172L767 1171L763 1173ZM721 1202L718 1201L717 1198L718 1197L722 1197L723 1199ZM663 1300L659 1303L656 1302L655 1299L656 1296L659 1295L661 1296ZM767 1200L766 1201L767 1202L771 1203L772 1201L771 1197ZM681 1215L684 1211L681 1209L678 1213L678 1215ZM701 1187L704 1191L702 1193L700 1194L700 1194L698 1190L699 1187ZM656 1278L655 1278L654 1284L657 1285L660 1281L659 1279ZM723 1194L727 1195L729 1193L729 1192L724 1189L723 1193ZM664 1278L660 1278L662 1273L662 1273L665 1276ZM707 1192L710 1191L712 1192L713 1192L712 1196L707 1195ZM653 1322L649 1319L649 1319L653 1316L655 1320ZM763 1173L767 1171L766 1168L765 1167L760 1168L759 1170L759 1170ZM655 1309L654 1308L650 1309L650 1312L654 1314L654 1314ZM645 1313L648 1313L648 1318L644 1318L644 1318L645 1313ZM643 1242L644 1246L641 1248L639 1244L643 1242ZM660 1278L659 1279L656 1278L656 1275L658 1272L662 1273ZM692 1202L695 1201L697 1204L697 1205L693 1206ZM657 1285L654 1284L653 1284L652 1286L653 1289L655 1290L656 1290L657 1285ZM721 1179L725 1182L726 1181L725 1177L722 1177ZM654 1304L650 1303L649 1308L650 1309L654 1308ZM637 1233L640 1234L641 1237L640 1238L638 1239L636 1239L635 1237L636 1233ZM656 1275L652 1272L650 1273L651 1278L655 1278L656 1278ZM777 1172L775 1170L772 1171L771 1172L773 1175L776 1175ZM644 1285L644 1281L643 1281L639 1283L641 1286ZM640 1300L640 1302L641 1303L644 1305L647 1303L645 1298ZM729 1171L731 1168L729 1166L724 1167L726 1170ZM649 1292L653 1289L655 1290L654 1294L650 1294ZM642 1271L646 1272L645 1275L641 1277L641 1277L641 1272ZM639 1255L642 1254L645 1257L643 1259L639 1257ZM649 1265L650 1268L647 1270L645 1267L646 1264L647 1263ZM646 1188L644 1192L648 1194L649 1194L651 1191L651 1189L648 1188ZM640 1299L636 1299L634 1297L636 1294L639 1296ZM637 1282L637 1282L634 1281L632 1283L632 1284L634 1287L636 1287ZM630 1298L627 1299L627 1303L629 1305L631 1304L632 1302ZM625 1293L627 1293L630 1294L630 1298L630 1298L627 1299L627 1299L624 1296ZM652 1209L647 1207L645 1209L645 1209L650 1213L651 1212ZM634 1272L632 1273L631 1277L633 1279L636 1276L635 1272ZM640 1287L636 1288L636 1292L640 1292L641 1289ZM630 1251L627 1246L624 1247L624 1247L624 1252L628 1253L629 1253ZM636 1288L636 1292L635 1293L632 1292L632 1289L634 1287L636 1287ZM617 1237L614 1239L614 1241L618 1243L619 1238L618 1237ZM632 1217L634 1219L636 1219L639 1215L636 1213L634 1213ZM627 1281L626 1280L622 1284L625 1286L627 1285ZM624 1296L627 1299L623 1301L621 1299L622 1296ZM654 1179L652 1175L655 1172L658 1173L659 1176ZM631 1250L633 1247L632 1246L628 1245L627 1246L630 1251ZM624 1247L624 1247L619 1248L618 1245L618 1243L622 1243ZM621 1254L621 1254L620 1258L623 1261L625 1260L625 1259L625 1258ZM625 1293L622 1291L620 1294L622 1296L624 1296ZM643 1176L645 1174L646 1172L645 1171L641 1170L639 1174L642 1176ZM623 1261L620 1258L617 1259L616 1262L616 1262L622 1264ZM622 1291L621 1290L621 1290L616 1291L616 1295L616 1295L620 1294ZM617 1268L622 1266L622 1265L622 1264L616 1262L615 1266ZM620 1277L622 1274L624 1275L624 1279L621 1279ZM632 1273L631 1277L629 1278L627 1275L629 1273ZM619 1299L617 1302L617 1302L613 1299L615 1295L616 1295L616 1295ZM642 1181L641 1179L639 1180L638 1182L639 1185L641 1185L641 1185ZM615 1285L617 1282L620 1282L622 1284L620 1287L616 1286Z" fill="#a03a8c"/><path d="M739 1271l4 0 1 4-5 1 0-5 0-1-1-3 5-1 2 2 1 1M744 1275l1 0 2 0 2 2M773 1240l4-3M777 1244l-1 0-1 5 3 1M775 1274l-1 0-2 3 3 4-4 3-1-1-2-4-2 0 0 6-1 0-4-1M774 1316l4-4-3-2-1 0-2-5 6-1M777 1219l-2 0-3 4 4 3 1 0M776 1226l-3 3 3 5-3 1-4-3 2-3 2 0M747 1285l0 3M749 1264l-3-1 0-4-6 1 4 4M738 1267l-1-1-4 1 0 5 6-2M751 1271l2 4 4-3 2 3 3 0 1 0 5-1 0-2M757 1260l0-3 2-1-1-3 3-2 1 0 1 1-1 5-3-1M759 1262l3 0 2-3-2-2M691 1314l-2 4-3-1M692 1314l3 4 1 0 2 1M717 1315l2 3 1 0 3-2 4 3 2-2-1-4 1-1 4 0 0 4-4 1M717 1315l1-3 4 0 1-3-1-2-3-2-3 3 2 4M630 1240l1-3 4 0 1 2-3 2-3-1-3 1 1 4-1 1-3 1-5 1-1-3 0-2 4 0 2 4 0 5 4 1-3 5-4-4-2-1-4 2M633 1241l1 2-2 3 1 1 3 1 2-4M636 1239l2 0 2-1 1-1-1-3 3-3-3-4-2-3 1-3 2 0 2 3 4-3 0-1-2-2-3 0-1 3M715 1272l-1 3-2 0-3 3-1 0-3 1-2-1-1-2 3-3 2 0 1 5M714 1275l1 2M687 1244l0 1-5-1 0-3-3-2 0-1M685 1239l3-4 3 1 1 2 5 0 1 2-2 4-2 0-2-1M688 1252l0 2 3 2 3-2-1-4-1-1M623 1241l4 0M619 1238l-1-1 2-4-1-2-1 0-3 1M775 1170l2 2-1 3-3 0-2-3-3 0-1 6 2 0 3-1 1-2M725 1187l-1-3 1-2 1-1 3 1 1 5-5 0-1 2-5-1 0-3-1-2-3 0-1 4 4 2 1-1M730 1187l-1 5 0 1-2 2-4-1 0-1 1-4 5 3M725 1182l-4-3 1-2-1-4-2 0-2 4 3 3 1-1M653 1316l2 4M653 1316l1-2 4 0 3-1 0-1-2-4-4 1-1 5M771 1260l3 4 3-1M774 1264l-1 3M740 1309l1 4-3 1-4-3 4-3 2 1 3-1 3 3-2 3-3-1M738 1314l0 2 2 2 3 0 2-1 1 0 4-1 0-3-4-2 3-4-1-2 3-3-5-3-1 5 3 1M738 1316l-4 1 0 3M750 1316l2 1 2 0 0-4 2-1 3 2-1 3-3 0-1 0M745 1304l-1 0M742 1303l-1-4 1-1 0-5-5 0 0 5 1 1 3 0M642 1218l-2-3 2-3 1 0 3 3M643 1224l0 1-3 2-3 3M616 1170l4 0 0-3M618 1175l3 2 2-1-1-5 2 0 3 1 0 3-3 1-1 0M693 1177l-4 3-2-4 5-2 1 3 1 1 1 5-1 1-5-3 0-1M740 1225l0-4-2-1-4 3 1 3 3 1 1 2-5 4M740 1225l-2 2M743 1216l2-2 4 4 3-3 1 0 1 4M741 1235l0 4 2 1 3-3-1-3-4 1-4 0M759 1235l-1 2-3 0-2-4-1 0-2 5-1 1-3-2M752 1259l1-3 2-4 0-1-3-1-2 2-1 2 4 2 4 1M761 1251l-1-4 3-2 0-2-4-2 0 1 0 5 1 0M759 1241l1-1M763 1243l3-2M655 1235l1 1 0 2-4 3-3 4-3 2-2-1-3 2-2-4M652 1241l3 3 3-1 0-3-2-2M691 1197l0 4 1 1 1 4 4-1 0-1 4-2M697 1238l1-3 4 0M698 1240l5 1 0 2 5 1 2-3-2-3-3 0-2 3M710 1241l4 0 1 2-4 2 1 5 2 5-2 2-2 0M718 1183l2-3M713 1192l-1 4-5-1 0-3 3-1 2 1M722 1312l1 2 5-1M722 1307l4-4 1 0 5-1 0-2-4-2-2 4M757 1279l3 2 4-2 2 0M768 1255l0-1 1-4M747 1255l2-1M745 1234l1-1M733 1267l-1-1-4 2M732 1256l-3 2 3 4-5 1-2-1 3-5 1 1M748 1247l4-1 1-1 0-1M722 1247l1-5-3-1-1-2 0-1 3-1M712 1311l-4-1M713 1306l-4 0-1-4M713 1300l1-1-1-4-2-5-4 1 0 1 1 4M705 1298l-3-3 1-1 4-2M702 1301l-1-1-2-3 1-2 2 0M695 1312l2-4 4 2-2 3M618 1250l-4 0M658 1234l4 0 1 5 5-1 1-2M652 1230l-1 0M639 1221l-3-2 3-4 1 0M628 1245l4 1M633 1247l-2 3 5 2 1-2M700 1269l1 0 2 1 2 3M700 1269l-3 0-2 3 3 3 1 0 3 1M703 1261l3-3M708 1261l3 2M703 1278l-3 3-4-2 0-1-4-1 1-5-1-4 1-2 2 0 3-3-3-3 1-3 4 0M709 1271l-2-4M705 1288l2 3M710 1282l2 2M681 1247l1-3-5 0 0-2 2-3M677 1242l-4-3M677 1244l-1 1 1 4M630 1235l1-3 5 1M618 1237l-1 0M755 1224l-2-2-4 2 0 3 3 1 3-2 2 2M755 1224l0 2M776 1201l0-4-4-1-1 0-2-2 0-3 2-1 4 1 0 1-3 4M734 1169l4-1 1 5-5 0 0-4-1-1M708 1186l-1 0-2 5 2 1M682 1310l-1-2 3-3 2 1M644 1318l1-5-6 0 0-4 6-1-1-3-3-2-3 6-3-1-2 2 2 4 0 1 1 4M775 1249l-2 1M763 1299l-2 4 4 2 2-4-4-2 0-1M767 1301l4 1 2-3-3-4-2 0-1-1 1-5 2 0 3 3 3-3 0-2-4-1M770 1295l3-3 3 2-2 5 3 2M772 1315l0-4 2-1M764 1317l-4-3-1 0M752 1308l2-1M756 1312l0-3M619 1188l-2-3 3-3 1 0 2 3-2 4-2-1-3 3 0 3 3 2 0 1-2 4 0 1M627 1225l2-1M642 1212l-3-4-1 0-2 5 3 2M639 1208l3-2 3 3 2-2 5 2-1 3-1 1M636 1213l-2 0M620 1206l1 1 4-1 1-3 2-1 2-3-5-3-3-2-3 2M619 1213l0 3M633 1208l-1 3M687 1171l0 5-2 0-2-3 2-4-4-2-2 2-4 0 0-1M693 1172l2-1 1-1-1-4M695 1171l4 5 2-4M683 1173l-4 0-1 1M674 1178l-1 2 3 3 2-1 0-5M669 1170l0-2M674 1172l1-3M683 1178l0 3 5 1 1-1M754 1232l-1 1M734 1223l-2-1-2 3M752 1246l0 4M709 1250l-1-1 0-5 3 1M719 1238l-2-2-4 0 2 5 4-2M715 1249l2 0 1 3-3 3M708 1249l-5-1M699 1252l-3 3 0 2M654 1207l-2 2M697 1204l-2-3 1-2 5 1M695 1201l-3 1M676 1224l0-3 1-1 0-4-4 0-1 1 0 2M676 1224l5 2 0 2M675 1229l-2 1 0 3M700 1228l-4-2-3 4-1 0-4 3M707 1231l3-1 2 0 1 1M722 1232l-4 1-1 3M702 1207l1 0 5-2 2 1 0 3 4 3-1 2 0 1-2 3 2 3 3 0 2-3 2-1 1 0 3-3 2 0 2-3-1-1 4-4 2 0 1 1M708 1205l-1-3 0-1 5-2 1 2-3 5 5 0M706 1226l3-1 1 5M707 1195l-1 2-1 1M764 1279l-1-4M766 1288l2 1M701 1300l-4 4-2-2-4 2M698 1290l-2-3-5 3-1-3-3-2-2 2 2 4-4 1-2-1 2-4 2 0M703 1305l-1 1M695 1302l0-1M622 1264l0 1 4 1 2-3-3-3-2 1M656 1225l1-1M689 1303l-2-3-4 1-2-4 2-2 0-3M679 1306l-2 1-1 3 3 2M682 1302l1-1M622 1304l2 1 1 4 0 5-1 0 0 4-2 2-3-3-3 0M623 1301l-2-2-2 0M683 1287l-1-2-4 0-1 3 4 3-3 3-2 0-1-1 0-4 2-1M696 1255l-2-1M694 1260l-2 3 1 3M693 1272l-6 0 3-4 2 0M690 1268l-3-3M683 1262l-1 0-1-3M678 1256l-3-1-3 2M682 1262l-4 3-1-1M646 1251l2 1 0 2-2 3M769 1221l2-4-4-2M756 1201l-2 3-3-2-1-1 4-4 1 0 1 4 4 1 1 0 0-5 2-1 1 0 3 4-1 1-5 1M754 1197l-1-2 0-2 4-1 2 1M751 1202l-3 3M767 1178l-1 0-2 5 1 1 2 1 3-1 2 0 3-3-3-4M767 1171l-4 2-4-3-5-3M765 1184l-4 3 1 3M766 1178l-3-2 0-3M771 1197l0-1M778 1185l-3-4 3-2M744 1210l5-2M764 1196l5-2M760 1202l1 2 1 1M744 1172l-5 1 0 3-3 2-3-2 0-2 1-1M713 1181l2-3 2-1M722 1177l3 0M715 1178l-3-4 4-3-3-4M705 1176l-2-4M700 1170l1-3M699 1176l0 1-5 1M630 1316l-1-2 1-4M621 1314l-1-1-5 0 2-5M677 1307l-3-2-2 1-3-3-3 1-1 3 1 1 1 1 4-1 1-2M670 1314l-3-2 0-3M649 1308l1 1 4-1 0-4-4-1-1 5-4 0M654 1308l1 1M734 1317l-1-1M772 1305l-1-1-3 3M772 1311l-3-2M764 1308l-4 0M620 1182l-1-2-4-1M621 1182l4-2 3 1-2 4M628 1188l2 0 2-4-3-3-1 0M619 1218l-5-2M654 1218l5 2M665 1216l3-1 4 2M663 1223l3 0M632 1184l1 0 2-2 3 0 1 3-3 2-3-3M628 1175l-1 0M624 1171l1-4M688 1182l-1 2 3 3 2 0 2-3M687 1184l-2 2M682 1185l1-4-5 1 2 4-3 2-2-1-3 2-3-4 1-1M675 1185l0 2M725 1226l-4 0-1-2-3-2-1-1M755 1237l-1 2M727 1256l1 1M668 1215l1-3-1-2M670 1225l1 5-3 1-2-4M668 1231l-1 2M699 1222l0-4-2-1-2-1 1-5M690 1201l1 0M726 1214l1 3-1 1M723 1208l-1 3-3 1-1-1 2-4 3 1M731 1212l2-1M718 1211l-3 0M710 1224l3-3M707 1214l1-1 5 2M707 1218l4 0M697 1217l-4 4-1-1-5 2 0 2 1 2 2 1 2 3M706 1197l-4-4-2 1M733 1280l-1 1-2-2-1-4-2-1-2 3M733 1273l-4 2M769 1277l-1-3M722 1261l3 1M725 1283l-4-3-1 1-1 2-4 2M725 1283l1 1 4 0 2-3M683 1295l2 1 2 4 4-2M681 1297l-3 2M622 1266l-5 2-2-2M625 1260l0-1 0-1M639 1255l-3-3M639 1309l-1 0M647 1303l-2-5-5 2 0 2M621 1299l1-3M654 1266l0 2 0 1 3 1 3-4-4-2-2 2-2-2 0-5 0-4 3-2 3 2 0 1-3 4 2 2 4-1 1-2-4-3M656 1264l1-2M651 1278l-1 4-2 0-3-1-1 0-1 0M651 1278l-1-5M650 1299l-1-3-3 1-1 1M655 1299l1-3 3-1 0-3-3-2-1 0-1 4 2 2M700 1284l-4 2-2-2M678 1285l0-2 1-3 1-1 1-3M648 1254l4 1M774 1213l-1-1M766 1207l-2 4M761 1204l-4 2M774 1208l4 0M757 1172l-3 1-1-5M775 1192l3 2M743 1204l-3-4-4 2-1 0-1-2 3-4 3 3 0 1M717 1198l1-1 0-5 5 1M727 1195l0 3 4 2-2 4M722 1197l1 2M752 1174l1 0M761 1187l-2 0M729 1171l2-3M704 1191l-3-4M625 1309l-4 1M666 1308l-5 4M667 1312l-2 3M776 1294l1 0M631 1194l0 4M655 1196l0-3 6 0M706 1185l-5 1M666 1186l1 0 2-1M669 1207l3 0 1 4 0 5M677 1216l1-1 0-2 3-4 3 2-3 4-3 0M684 1211l2 0M668 1238l1 3 3 0 1 4 3 0M664 1244l1 0M686 1229l2-3M733 1217l3-4M739 1206l-3-4M727 1267l0-4M732 1266l0-4M741 1288l1 5 3-1M736 1288l0 4-3 2M638 1262l3 1 0 4 4 0 1-3 1-1 1-3 4-1 3 1M629 1278l2-1 1-4-3 0M631 1277l2 2 1 2M636 1303l-2-1-2 0-2-4 0-4 2-2M635 1293l1-1 0-4 0-1-2 0-2 2M636 1299l4 0 0 1M622 1274l-2 3 1 2 3 0M645 1267l2 3M647 1272l-1 0-1 3-4 2 0-5-4 0 1-5 3 0 1 4-1 1M661 1261l0 4M658 1255l4-3 0-1 1 0 3-4M663 1269l0 2M655 1278l1 0 3 1 1-1M648 1287l-1 1-3-3-3 1-1 1 1 2 5 1 1-2M659 1292l2-2 4 2 0 1M656 1290l1-5M666 1298l4 2M671 1295l1-1 3-1M665 1292l1 0 4-1 0-2-1-2-3 0 0 5M663 1286l3 1 2-6-2 0M685 1281l-2 0-3-2M655 1244l0 2M663 1251l5 1 2-2M662 1252l2 5M740 1199l4-2 1 1M757 1192l0-5M744 1197l-1-2M736 1178l0 2M753 1180l0 1-3 2M755 1186l-3 1M658 1314l0 5M666 1179l-2 2 3 5M658 1173l1 3 1 0M651 1191l0-2-3-1-2 0-2 4 4 2M651 1191l-2 3M648 1176l0 3-2 1 0 2 3 2M700 1177l-1 0M717 1293l2 4M736 1304l2-5M736 1292l1 1M631 1250l-1 1M625 1288l-4 2-5 1M634 1272l-2-4 0-1M635 1265l3 2M649 1292l-3-2-2 4M636 1288l4-1M617 1277l-1 2 1 3M644 1281l0 4M668 1252l0 1-3 4M665 1276l3-1 1-2 4-1 2 4 3-2 0-3-4-1 0-1M679 1280l-5-3M670 1264l-2-1M644 1192l-2 0-2-2 1-5-2 0M641 1179l1 2-1 4 3 1 2 2M681 1224l6 0M693 1221l1 2M728 1297l0 1M640 1292l1-3M673 1284l2 5-5 0M672 1294l-2-3M644 1186l2-4" stroke="#a03a8c" stroke-width="2.10" stroke-linecap="round" stroke-linejoin="round" fill="none"/><path d="M743 1271l2-3M773 1240l2 4-4 1M773 1240l-2 0-3 2-2-1-1-3 3-2 3 2 0 2M777 1276l-2-2 2-4-4-3-2 5-3 0-1-1M777 1318l-3-2-2 0-2 4M772 1316l0-1-5-1-2 3-1 0-3 3M775 1219l-3-2 2-4 2 0 2 5M747 1285l5-1 0-1 2 0M747 1285l-1-1 0-3 3-2M740 1260l-1-4 3-2 1-1 4 2 0 3 3 2 0 4 2 1 0 4-1 2-2 0-2 4M752 1265l1 0 1-4 3-1 2 2-2 4-4-1M752 1269l5 2M754 1261l-2-2-2 1M688 1312l3 2 1 0 2-2-3-4-3 2 0 2-3 3 1 2-4 3M688 1310l-2-1-4 1-2 2 1 2 4 1M694 1312l1 0 3 2-2 4M717 1315l-3 0-1 5M714 1315l-2 0 0-4 3-3 1 0M631 1237l-1-2-5 0-4 3 2 3-1 2M635 1237l1-4 1 0 0-3-4-3 2-3-1-4-4 2-4-4 1 0-3-3-5 1 0 2 2 3 2 0 1 2-3 4-3-2-3-3M715 1272l-2-2 1-2-4-2 1-3 3-1 1 5-1 1M715 1272l3 0 1-2 4 0 1-2 3-1 1 1 1 2-3 3-2-1-1-2M687 1244l0-3-2-2-3-3-3 2-2-2 0-1 0-1 0-4-2-1 0-4-4 0 1-5 0-1-5 1-2-3 0-1-2-4-4 3 2 4 4-2M687 1244l5-1-1-4-4 2M691 1249l-4-4-3 5 4 2 3-3 1 0 2-5M619 1248l-1 2 1 3M621 1238l-2 0-1 5-4-2M776 1167l-1 3-3 1-1-4M772 1171l-1 1M724 1184l-5 1M729 1182l1-1 0-3-3-2-2 1 1 4M681 1314l-1 5-5-3 0-1 4-3 1 0M653 1316l-4 3-1-1-4 0-3-1-3 3M771 1260l1-1 2-1 4 2M771 1260l-2 1-5-2 4-4 4 4M774 1258l1-3 3-2M738 1308l0-3 4-2 2 1-1 4M744 1314l1 3M750 1313l1-1 1-4-3-1M751 1302l4 2-1 3 2 2 4 0 0-1 0-4-3-1-2 1M738 1305l-2-1-2 0-2 3 2 4-1 1M645 1218l1-3 3-1 2 5-4 1M647 1221l3 5 3-3-1-4-1 0M649 1214l1-1-5-4-2 3M620 1170l0 1-2 4-3 0M620 1171l2 0M692 1174l1-2-2-2-4 1-2-2 1-2M740 1225l3 0 3-4 3-3 4 3 1-2 4 0 1-1M743 1225l2 2 4 0-1 5-2 1-2-3 1-3M745 1214l5-2 2 3M739 1229l1 1M773 1235l-2 3M758 1253l-3-1M763 1252l5 2 5-1 0-3-2-1M759 1247l-2 0-2 4M655 1235l-4 1-2-4 2-2-1-4-4 1-1 4 2 1 2 0M655 1235l-3-5 3-1 3 1 0 4-2 2M694 1196l-3 1-3-2-1 4 3 2-3 5 5 1 1 3 3 1 2-1 3 3 0 1 6 0 0 4-1 2-1 0-1 3 2 3-1 2-4 0-1 0 0 1M688 1195l-4-1 0-4M696 1244l2 2 4-1 1 3-1 2-3 1-1-1 0-4M703 1243l-1 2M708 1238l1-2 4 0 0-5 4 0 1-3 2-1 2 5 1-1 3-3-1-2 1-1 4 0 0 3 3 0 2-2M715 1183l-2-2-2 0-2 5 5 1-2 5 1 0 5 0 0-3M746 1288l-4-1-1 1-5 0 0-1 0-4 0-1-3-2 1-4 5 0 0 2-3 4M723 1309l5 0 1 3M719 1305l0-2-5-1-1 4 2 2M762 1262l2 3 4 0 1-4M742 1254l-3-4M743 1240l1 3 2 0 2 4-1 1-2 1-4-3-4-2M737 1266l0-3-3-2 1-4-3-1 0-4 4 0 1 4M732 1252l-1-1 0-1 4-3 2 3-1 2M731 1251l-4 1 0-1-1-4M746 1243l3-2M712 1315l-4 0 0-5 0-1-1 0-3 2 0 3 4 1-1 3-4 1-1-1 0-3-3-2-1 1M719 1303l0-1-1-3 1-2 4 0-1-5-1-5 4-1 2 4 0 1-5 1-5 1-4 2-5 1-1 2-2 0-3 3 2 2 4-1 1-1 4-1 1 2M709 1301l-2-3M709 1306l-1 3M704 1303l-1 2 4 4M703 1294l-1-5-1-5 5-1 1 3-2 2-3 1-4 1-1 2 3 3M702 1315l2-1M658 1230l3-2 0-1 2-4-3-3-1 0-2 4 4 3M655 1229l1-4-3-2M638 1224l-3 0M641 1248l0 1-4 1-1-2M627 1246l3 5-1 2-1 0M641 1249l2 2 3 0 0-4M700 1269l0-3 4-2 1 0 3-3 0-3M700 1266l-2-3 3-3 2 1 1 3M701 1260l-1-3 1-1 3-1 1-2 4-2 0-1 3 0 3-1 0-5 0-1M705 1279l1 4 4-1 1-2-2-2M707 1273l1-1M701 1284l-1 0 0-3M707 1286l3 1 2-3 3 1 1 3-5 2-1-3M681 1247l3 3-3 3 3 3-3 3-2 0-1-3 3-3M681 1247l-4 2-3 2M682 1236l1-2 5 1 0-2-2-4-4 1-1-2-4 2M701 1256l-2-4 0-1M618 1231l-1-4 1-2 3-4M622 1228l3 2M755 1224l4-1 1 0 3 0 2 3 3-1 2-2-1-2-4-2-2 4M776 1201l1 1-1 1-3 3 1 2-1 4-3-1-1-4 3-2 1 1M776 1201l-4 0-1 2 1 2M710 1191l-2-5 1 0M686 1309l0-3 3-3 2 1 0 4 5 0 1-4 5 2-1 4 3 1M648 1318l0-5M641 1317l-2-4-4 2M775 1255l-2-2M761 1303l-1 1M765 1305l0 2 3 0 1 2-2 4-3-2 0-3 1-1M773 1299l1 0M767 1314l0-1M751 1312l3 1M758 1317l2 3M749 1295l-3 4-4-1M624 1223l3 2 0 4 3 1 3-3M634 1220l0-1 2 0M634 1219l-2-2 2-4-2-2-4 0 1 5 3 1M638 1208l-2-1 0-3M620 1206l-3 2 1 4 1 1 2-2 3 1 0 3M620 1206l-1-3 4-2 0-1-4-3M636 1207l-3 1-2-2 0-2-3-2M652 1219l2-1 2-4-5-2M691 1170l0-3M696 1170l4 0 1 2 2 0 2-2-1-3M685 1176l-2 2-5-2 0-2-4-1-2 3 2 2 4-1 0-1M674 1173l0-1-5-2-1 2 1 4 3 0M668 1172l-4 0-2-3 1-1M669 1176l-2 2 4 4 2-2M679 1173l0-4M752 1228l2 4 2-1M738 1220l0-1 1-4-1-2-2 0-3-2 1-4 4 1 1 3-1 2M748 1232l4 1M768 1236l-1-4-2 0 0-5 0-1M712 1257l2 4 0 1M720 1241l-2 3-3 0M714 1241l1 0M698 1250l-5 0M654 1207l2-4 3 0 1-1-1-4-2 0M654 1207l4 1 2-2 4 0 0 4-1 2-5-3 0-1M696 1199l0-2M659 1203l1 3M676 1224l-1 1M671 1225l-1 0-3 0-1-2 1-3M681 1226l0-2 0-3-4-1M703 1233l4-2-2-3M701 1228l1-5 2 0M702 1207l-3 1-2-3M702 1207l-1-4M702 1223l-3-1-3 2 0 2M712 1196l0 1 0 2M768 1279l1-2 3 0M765 1285l1 3-4 2M718 1252l3 0 1 4 5 0 0-4M699 1297l-2 1-3-3-3 1 0 2 4 3 2-3M697 1292l-2 1-1 2M697 1308l-1 0M620 1258l-3 1-1 3 6 2 1-3-3-3 1-4 3-2M645 1231l-2 0M640 1234l-3-1M681 1308l-2-2 0-3 3-1 2 3M679 1303l-1-1 0-3-3-1-3 1 2 5 4-2M622 1304l1-3 4-2 0 4M622 1304l-3 1-2-3 2-3-3-4 4-1 2 2 2 0 1-3-3-2-2 3M687 1291l2 1 0 1 2 3M695 1260l-1 0-2-1-1-3M688 1254l-2 3 0 2-3 3 2 3 2 0 1-2 0-3-2-1M692 1259l-4 1M692 1277l-2 1-1 0-2-6-1 0M692 1263l-4 0M686 1257l-2-1M679 1259l-3 3-3-1-3 3 1 2 3 3 3-5-1-2M643 1251l-1 3-3 1 0 2 4 2M649 1245l3 3-1 1 3 4 3-4-2-3-3 2M765 1219l-1-1M755 1197l5-1-1-3 3-3 2 0 3 0 2 1M750 1201l-3-3-2 0-1 6 4 1 1 3 2 2 2-1 4 2 1-2-1-3-3-1-1 4M768 1172l-1-1-1-3M769 1178l1 6M772 1184l0 1 5 3-2 3M764 1183l-4-2-1 6-2 0-2-1 0-4 5-2 0 1M772 1201l-1-4-4 3M772 1185l-1 5M744 1210l0 1-5 0M744 1210l-2-5 1-1 1 0M763 1196l1-6M742 1167l2 5 2 0 2-1 1-3M748 1171l4 3-4 3M711 1181l-1-1-1-1-3-3-1 0-2 2-3-1-2 4-3 2 4 4-1 3-3 0M719 1173l-3-2 3-5M722 1167l-1 6 4 0 2 2 2-2 0-2-3-1M706 1176l3-4 3 2-3 5M705 1170l4 1 0 1M624 1318l4 1 2-1 0-2 5-2M619 1317l2-3 3 0M675 1316l-2 2-3-2 0-2 3-3 2 4M676 1310l-3 1-2-3M670 1316l-2 1-3-2-1 0-1 4M650 1303l-1 0-2 0-3 2M654 1304l2-2-1-3-5 0-1 4M728 1309l1-1 3-1M775 1310l3-5M764 1311l-4 3 0-5M757 1303l0-4M623 1185l3 0 2 3-2 2-4 0-1-1M626 1190l1 3-2 3M625 1180l-1-4M627 1218l2-2M659 1215l-3-1 2-5M661 1219l-1 1M630 1188l0 1 5 0M629 1181l1-2 3-1-1-4-4 1 2 4M632 1174l1-3-4-1-2 2M633 1171l1 0 1-3 5 0 1 2 4 1 1-4 4 2 3-1M676 1183l-1 2-5-1 1-2M688 1190l-2-1M667 1178l-1 1-3-4 1-3M726 1225l-1-2 2-2 5 1M725 1223l-3-1-1-4 5 0 1 3M722 1256l0 5-2 1-3-1M664 1206l5 0 0 1-1 3-4 0M667 1225l-1 2-5 1 2 5-1 1M671 1230l2 0M677 1234l5-1 1 1M687 1206l-1 0 0 5 4 1 3-2M687 1199l-3 1 0 4M723 1208l2 0 1-4 0-4-3-1-2 3 0 1 5 1 3 0 2 2M728 1211l3 1 0 5-4 0M720 1207l0-1 1-3M709 1225l1-1-4-4M715 1226l-1 0M701 1214l0 2-2 2M695 1216l-4 0M713 1201l3 2 2-2-1-3-5-1M702 1193l2-2 1 0M734 1276l-1-3 0-1-4-2M775 1281l3-2M776 1287l2-2M720 1262l0 2-3 3-2 0M725 1283l2-3 3-1M727 1274l-1-1M689 1292l2-2 4 3M622 1265l0 1 0 3M628 1263l1 0 3-4M642 1254l3 3M639 1257l-1 1 0 4-3 2 0 1-3 2-3-4M635 1308l0-1 1-4 4-1 1 1M619 1305l0 2 2 3-1 3M617 1268l0 1 3 3 2 2 2 1 0 4 2 1-4 4 3 2 0 2 2 1 3-1 2 1 0 3 3 1 1 1-2 3-4 1-3 1-3-3M654 1268l-4 0-3 2 0 2 3 1 2-1 2-3M657 1270l1 2 4 1 3 3-1 2-4 0 2-5 1-2 5 1 0-3-2-2-3 2-3-3 1-1 4 0 1 2M651 1278l4 0-1 6-1 0-3-2M648 1282l0 5 4-1 1-2M656 1302l3 1 4-3 3-2 1-3-2-2-4 3 2 4 3 4M689 1278l-3 1-1 2 2 3 0 1M696 1287l0-1M648 1252l3-3M771 1217l1 0M766 1207l0-1 1-4M766 1207l3 0M770 1211l-3 2M760 1168l-1 2-2 2 3 6 3-2M754 1173l-1 1 1 3 6 1 0 2M742 1205l-3 1-1 2M718 1201l3 1M718 1197l4 0 1-3M729 1193l3 1 3-1M727 1198l-1 2M754 1177l-1 3-5-2-1 0M727 1175l0 1M729 1173l4 1M709 1171l1-4M665 1307l-5-1-1-3M669 1303l1-3 1-1 0-4-4 0M674 1305l0-1M627 1193l4 0 0 1 4-1M657 1167l5 2-4 4-3-1-1-4M650 1169l0 2 2 4 3-3M667 1190l-1-4-5 2 0 1 0 3M661 1189l-5 0M669 1212l4-1 2 0 2-4-2-2-3 2M681 1209l-1-2-3 0M678 1213l-3-2M664 1244l-1-5-5 1M664 1244l-3 1-3-2M738 1219l-5-2-1 1M733 1206l2-4M721 1218l0-1M724 1268l-4-4M714 1299l4 0M736 1287l-4 0-2-3M726 1284l-1 2M629 1278l-2-3M629 1278l-2 2 0 1-1-1M632 1273l2-1 1 0 1 4-3 3M634 1302l2-3-2-2M630 1294l-3-1 0-4M627 1293l-2 0M620 1272l-4 3 1 2 3 0M652 1272l4 3M650 1268l-1-3 3-1M655 1253l-1 0M665 1265l1-1-4-5 2-2 1 0 3 2 0 4-2 1M668 1269l3-3M654 1284l3 1 4 2 2-1 0-3 3-2-2-3M652 1286l1 3 2 1M659 1295l2 1M654 1294l-4 0-1 2M671 1299l1 0M661 1290l0-3M660 1306l-1 2M653 1289l-4 3 1 2M647 1263l2 2M661 1245l-1 4 2 2M660 1249l-3 0M737 1196l0-2M753 1195l-4 1-2 2M753 1193l-1-2M733 1176l-3 2M730 1181l3 1M753 1181l2 1M661 1313l3 2M668 1317l-1 3M663 1175l-3 1 0 4M650 1171l-4 1-1 2 3 2 4-1 2 4 5-3M651 1191l4 1M645 1174l-2 2-1 0-1 3-2 1-3-3-2 1M698 1181l3 2M719 1283l2 4M729 1308l-2-5M734 1304l-2-2M727 1290l3 0 2 4-4 3-1-1 0-5M625 1286l2-1M622 1291l-1-1-1-3 2-3-2-2-3 0-2 3M635 1272l2 0M646 1297l-2-3-3 0-1-2-4 0M636 1287l1-5M621 1279l-1 3M620 1287l-4-1M646 1272l-4-1M676 1294l-1 4M668 1281l3 3 2 0 1-1-2-4M678 1283l-4 0M673 1261l-1-3M639 1180l-1 2M643 1176l3 4-4 1M681 1221l2-3M727 1296l-4 1 1 4M732 1300l2-2 3 0M673 1245l-2 1M671 1284l-2 3M641 1286l-2-3M648 1179l4 1" stroke="#86287a" stroke-width="2.10" stroke-linecap="round" stroke-linejoin="round" fill="none"/><path d="M739 1271h0M743 1272h0M774 1242h0M776 1271h0M773 1316h0M772 1317h0M777 1219h0M744 1268h0M746 1269h0M746 1262h0M744 1259h0M741 1261h0M739 1270h0M744 1269h0M752 1269h0M756 1261h0M758 1261h0M690 1314h0M688 1310h0M693 1314h0M717 1316h0M713 1317h0M630 1239h0M634 1237h0M636 1239h0M714 1273h0M687 1243h0M687 1245h0M687 1245h0M684 1244h0M682 1242h0M687 1241h0M685 1247h0M686 1251h0M622 1248h0M624 1247h0M618 1244h0M619 1243h0M618 1243h0M622 1243h0M617 1226h0M774 1170h0M777 1202h0M724 1185h0M727 1187h0M725 1182h0M686 1316h0M681 1315h0M688 1312h0M690 1316h0M771 1260h0M777 1264h0M777 1259h0M740 1309h0M740 1313h0M736 1313h0M737 1309h0M741 1309h0M746 1312h0M740 1318h0M739 1318h0M738 1315h0M744 1315h0M750 1314h0M747 1317h0M750 1316h0M747 1299h0M746 1299h0M749 1303h0M746 1304h0M742 1303h0M747 1309h0M745 1304h0M643 1218h0M647 1221h0M641 1220h0M646 1216h0M649 1220h0M650 1216h0M617 1170h0M620 1167h0M617 1175h0M619 1174h0M693 1177h0M688 1180h0M740 1222h0M745 1223h0M744 1215h0M747 1216h0M749 1218h0M746 1221h0M741 1235h0M741 1235h0M740 1235h0M740 1230h0M758 1236h0M776 1233h0M776 1234h0M776 1234h0M770 1223h0M754 1260h0M758 1254h0M762 1251h0M763 1253h0M759 1252h0M759 1246h0M763 1244h0M692 1244h0M688 1240h0M692 1249h0M656 1237h0M694 1196h0M691 1197h0M695 1244h0M696 1243h0M706 1244h0M703 1242h0M709 1241h0M704 1239h0M717 1183h0M719 1187h0M714 1184h0M719 1188h0M713 1192h0M714 1192h0M713 1190h0M714 1187h0M718 1191h0M746 1284h0M722 1311h0M722 1312h0M722 1307h0M720 1306h0M717 1310h0M757 1258h0M757 1257h0M770 1257h0M766 1257h0M765 1259h0M764 1265h0M764 1259h0M756 1271h0M756 1273h0M758 1273h0M742 1254h0M740 1258h0M738 1266h0M733 1270h0M736 1266h0M732 1254h0M737 1256h0M737 1262h0M736 1251h0M732 1252h0M747 1248h0M746 1249h0M743 1241h0M717 1315h0M712 1314h0M715 1309h0M719 1305h0M715 1308h0M709 1301h0M708 1303h0M713 1301h0M703 1302h0M702 1300h0M704 1297h0M696 1318h0M697 1318h0M695 1312h0M697 1313h0M702 1317h0M701 1315h0M748 1280h0M747 1275h0M748 1277h0M746 1282h0M745 1275h0M616 1261h0M619 1253h0M619 1253h0M658 1231h0M657 1230h0M638 1225h0M640 1227h0M641 1247h0M638 1239h0M640 1238h0M628 1243h0M624 1247h0M626 1241h0M636 1247h0M637 1239h0M637 1250h0M630 1240h0M705 1253h0M702 1270h0M700 1269h0M704 1264h0M702 1261h0M698 1263h0M698 1263h0M698 1263h0M708 1260h0M703 1279h0M703 1275h0M702 1278h0M705 1273h0M707 1273h0M712 1276h0M704 1272h0M708 1270h0M704 1284h0M706 1286h0M705 1289h0M705 1281h0M682 1244h0M684 1250h0M678 1241h0M683 1237h0M680 1244h0M703 1255h0M701 1256h0M622 1237h0M625 1235h0M630 1235h0M618 1231h0M619 1234h0M618 1237h0M623 1229h0M620 1226h0M618 1230h0M618 1237h0M754 1223h0M758 1223h0M776 1201h0M733 1168h0M711 1191h0M681 1313h0M649 1318h0M641 1317h0M778 1253h0M723 1314h0M726 1319h0M767 1301h0M761 1303h0M771 1296h0M772 1315h0M766 1316h0M762 1320h0M751 1312h0M758 1316h0M754 1313h0M760 1314h0M760 1314h0M761 1314h0M752 1317h0M747 1298h0M617 1185h0M627 1227h0M630 1222h0M635 1224h0M623 1207h0M645 1214h0M642 1218h0M641 1214h0M640 1215h0M634 1220h0M634 1219h0M618 1213h0M645 1210h0M649 1213h0M646 1209h0M645 1209h0M636 1205h0M632 1207h0M691 1170h0M693 1174h0M696 1167h0M695 1171h0M673 1177h0M676 1178h0M678 1174h0M678 1177h0M670 1170h0M670 1176h0M682 1173h0M679 1174h0M684 1176h0M756 1226h0M754 1227h0M755 1225h0M738 1227h0M735 1227h0M739 1221h0M739 1226h0M736 1222h0M735 1225h0M744 1229h0M749 1227h0M748 1230h0M749 1226h0M752 1228h0M753 1244h0M759 1247h0M768 1242h0M765 1239h0M766 1238h0M768 1236h0M764 1242h0M760 1240h0M774 1244h0M767 1235h0M772 1236h0M753 1256h0M751 1255h0M752 1250h0M750 1252h0M749 1253h0M754 1256h0M753 1258h0M756 1252h0M752 1249h0M757 1248h0M719 1239h0M714 1243h0M715 1240h0M719 1243h0M702 1245h0M703 1247h0M698 1248h0M703 1249h0M702 1250h0M698 1250h0M703 1244h0M697 1245h0M700 1240h0M695 1250h0M700 1255h0M699 1251h0M655 1204h0M695 1201h0M658 1198h0M657 1203h0M676 1222h0M671 1225h0M675 1225h0M681 1227h0M697 1237h0M691 1238h0M700 1229h0M704 1233h0M700 1228h0M708 1238h0M707 1231h0M723 1232h0M715 1231h0M714 1240h0M699 1211h0M707 1206h0M706 1227h0M702 1223h0M708 1196h0M708 1192h0M707 1193h0M766 1279h0M764 1279h0M763 1289h0M774 1274h0M773 1267h0M773 1267h0M728 1252h0M726 1249h0M700 1290h0M704 1311h0M708 1310h0M703 1305h0M705 1307h0M708 1308h0M711 1311h0M710 1315h0M704 1314h0M700 1312h0M701 1310h0M708 1316h0M701 1308h0M699 1309h0M701 1310h0M699 1302h0M697 1309h0M697 1303h0M691 1308h0M620 1258h0M621 1259h0M623 1261h0M647 1232h0M646 1232h0M650 1226h0M650 1234h0M645 1231h0M630 1230h0M630 1234h0M638 1229h0M629 1229h0M627 1225h0M689 1304h0M688 1303h0M683 1306h0M685 1306h0M681 1308h0M627 1302h0M681 1291h0M684 1287h0M696 1261h0M696 1257h0M693 1252h0M694 1254h0M694 1260h0M693 1260h0M695 1271h0M693 1266h0M692 1267h0M697 1274h0M697 1269h0M693 1274h0M690 1272h0M687 1272h0M698 1263h0M693 1261h0M683 1262h0M687 1265h0M689 1263h0M686 1258h0M682 1255h0M683 1256h0M684 1250h0M642 1250h0M644 1251h0M648 1245h0M767 1220h0M778 1218h0M755 1203h0M756 1200h0M752 1215h0M745 1214h0M748 1213h0M751 1213h0M761 1223h0M772 1174h0M773 1176h0M771 1177h0M771 1184h0M769 1180h0M775 1181h0M775 1180h0M764 1183h0M765 1180h0M767 1178h0M771 1199h0M776 1175h0M777 1173h0M772 1184h0M776 1187h0M775 1181h0M744 1210h0M747 1209h0M761 1201h0M763 1196h0M758 1196h0M743 1171h0M749 1170h0M745 1172h0M714 1182h0M722 1177h0M719 1179h0M719 1173h0M720 1180h0M721 1173h0M726 1180h0M725 1177h0M715 1178h0M716 1178h0M716 1171h0M717 1170h0M708 1178h0M700 1170h0M703 1172h0M705 1168h0M701 1174h0M697 1170h0M625 1318h0M636 1317h0M635 1315h0M622 1319h0M624 1314h0M620 1316h0M680 1312h0M676 1317h0M676 1315h0M677 1308h0M677 1310h0M670 1314h0M649 1305h0M773 1251h0M768 1254h0M774 1249h0M768 1255h0M728 1313h0M732 1312h0M729 1317h0M731 1316h0M733 1314h0M728 1318h0M734 1312h0M773 1307h0M776 1310h0M767 1307h0M764 1310h0M771 1310h0M772 1304h0M754 1307h0M754 1306h0M757 1303h0M757 1309h0M760 1309h0M757 1303h0M752 1308h0M756 1311h0M757 1300h0M618 1184h0M622 1182h0M621 1188h0M619 1188h0M620 1182h0M619 1180h0M619 1175h0M619 1181h0M618 1198h0M620 1206h0M617 1201h0M621 1189h0M620 1195h0M624 1190h0M626 1185h0M623 1221h0M620 1216h0M624 1216h0M619 1218h0M620 1222h0M629 1221h0M619 1213h0M624 1213h0M629 1211h0M634 1214h0M633 1209h0M627 1217h0M650 1208h0M651 1212h0M654 1207h0M652 1212h0M660 1215h0M663 1213h0M665 1217h0M663 1224h0M660 1220h0M659 1221h0M666 1222h0M660 1219h0M655 1218h0M659 1215h0M661 1228h0M630 1187h0M631 1183h0M629 1178h0M633 1176h0M622 1173h0M627 1172h0M627 1173h0M624 1176h0M621 1171h0M623 1176h0M628 1171h0M632 1171h0M689 1180h0M683 1181h0M683 1181h0M683 1181h0M678 1179h0M679 1182h0M674 1180h0M688 1185h0M688 1183h0M692 1187h0M673 1180h0M675 1185h0M680 1168h0M682 1168h0M679 1172h0M674 1170h0M726 1225h0M725 1227h0M725 1225h0M724 1231h0M726 1222h0M726 1224h0M754 1238h0M753 1233h0M756 1237h0M754 1232h0M721 1253h0M727 1254h0M723 1256h0M658 1208h0M664 1207h0M661 1211h0M658 1208h0M672 1218h0M672 1220h0M670 1225h0M670 1225h0M666 1226h0M677 1235h0M689 1235h0M688 1235h0M682 1236h0M680 1233h0M681 1229h0M695 1227h0M700 1223h0M699 1222h0M664 1206h0M687 1205h0M692 1207h0M693 1204h0M691 1201h0M690 1201h0M696 1205h0M691 1200h0M688 1195h0M687 1199h0M690 1201h0M726 1213h0M722 1210h0M727 1210h0M726 1214h0M731 1215h0M722 1231h0M719 1209h0M718 1212h0M710 1206h0M714 1206h0M710 1229h0M713 1231h0M707 1226h0M707 1215h0M706 1220h0M706 1220h0M707 1214h0M696 1214h0M698 1217h0M699 1218h0M705 1221h0M708 1222h0M711 1204h0M714 1202h0M707 1202h0M710 1200h0M712 1201h0M707 1196h0M712 1198h0M733 1280h0M734 1279h0M735 1276h0M739 1277h0M736 1283h0M739 1276h0M733 1274h0M767 1289h0M772 1277h0M769 1277h0M768 1279h0M774 1287h0M776 1287h0M770 1289h0M768 1291h0M771 1294h0M768 1273h0M768 1275h0M713 1259h0M722 1256h0M722 1261h0M719 1262h0M726 1282h0M729 1275h0M683 1294h0M683 1295h0M689 1292h0M682 1298h0M687 1300h0M687 1300h0M683 1301h0M687 1300h0M696 1297h0M696 1299h0M697 1298h0M690 1294h0M626 1266h0M622 1265h0M627 1265h0M625 1260h0M639 1255h0M639 1257h0M643 1251h0M639 1310h0M641 1309h0M640 1314h0M639 1313h0M644 1317h0M633 1310h0M635 1308h0M642 1304h0M649 1303h0M645 1304h0M617 1302h0M618 1300h0M618 1298h0M621 1304h0M618 1303h0M621 1299h0M621 1299h0M632 1301h0M617 1267h0M617 1269h0M618 1267h0M654 1268h0M659 1266h0M660 1267h0M657 1269h0M648 1282h0M649 1302h0M656 1302h0M655 1300h0M691 1278h0M688 1276h0M690 1278h0M702 1278h0M699 1280h0M700 1283h0M695 1284h0M696 1288h0M694 1292h0M690 1290h0M681 1291h0M646 1251h0M647 1255h0M652 1241h0M649 1245h0M774 1218h0M776 1213h0M774 1214h0M761 1203h0M761 1204h0M771 1206h0M773 1212h0M773 1206h0M772 1205h0M772 1205h0M768 1207h0M776 1208h0M760 1169h0M758 1175h0M760 1170h0M763 1176h0M755 1173h0M759 1170h0M764 1173h0M772 1195h0M775 1192h0M771 1197h0M768 1190h0M772 1188h0M776 1190h0M777 1188h0M743 1204h0M743 1204h0M718 1201h0M714 1197h0M718 1192h0M727 1195h0M728 1195h0M726 1190h0M723 1194h0M730 1191h0M720 1197h0M723 1195h0M727 1197h0M731 1200h0M749 1171h0M752 1174h0M760 1178h0M754 1175h0M753 1174h0M738 1171h0M734 1169h0M737 1173h0M740 1173h0M739 1174h0M739 1173h0M760 1196h0M762 1186h0M726 1170h0M729 1173h0M706 1191h0M708 1186h0M710 1180h0M714 1168h0M714 1172h0M712 1174h0M709 1170h0M716 1171h0M711 1176h0M709 1173h0M708 1171h0M629 1314h0M625 1313h0M625 1314h0M624 1305h0M635 1307h0M621 1310h0M665 1307h0M665 1307h0M666 1309h0M669 1304h0M671 1307h0M669 1303h0M668 1312h0M675 1306h0M673 1305h0M774 1299h0M777 1294h0M774 1299h0M774 1293h0M625 1196h0M633 1193h0M631 1196h0M667 1172h0M663 1171h0M658 1193h0M632 1189h0M631 1194h0M638 1168h0M652 1168h0M647 1168h0M698 1189h0M695 1183h0M699 1187h0M687 1194h0M666 1187h0M661 1191h0M661 1189h0M665 1187h0M669 1207h0M668 1211h0M675 1216h0M683 1211h0M678 1213h0M692 1210h0M668 1237h0M665 1239h0M662 1237h0M662 1234h0M670 1241h0M664 1243h0M663 1232h0M656 1238h0M662 1239h0M688 1234h0M691 1231h0M684 1203h0M686 1200h0M685 1211h0M738 1217h0M734 1218h0M733 1210h0M735 1208h0M739 1211h0M738 1213h0M727 1210h0M733 1207h0M744 1211h0M740 1206h0M739 1214h0M718 1223h0M721 1217h0M721 1218h0M724 1267h0M723 1269h0M723 1270h0M725 1273h0M731 1267h0M727 1274h0M718 1272h0M726 1260h0M730 1259h0M732 1262h0M727 1256h0M709 1261h0M713 1269h0M711 1295h0M712 1293h0M713 1299h0M714 1298h0M713 1295h0M736 1286h0M739 1288h0M736 1287h0M726 1283h0M731 1281h0M731 1286h0M638 1259h0M638 1258h0M628 1263h0M629 1263h0M625 1259h0M629 1278h0M635 1307h0M638 1303h0M634 1293h0M631 1293h0M630 1296h0M630 1298h0M636 1299h0M632 1291h0M632 1289h0M628 1293h0M640 1301h0M643 1299h0M639 1299h0M640 1300h0M623 1275h0M620 1273h0M620 1272h0M620 1272h0M618 1274h0M641 1264h0M649 1273h0M652 1268h0M647 1271h0M658 1257h0M656 1262h0M662 1260h0M654 1254h0M656 1254h0M660 1266h0M663 1269h0M666 1265h0M657 1262h0M668 1272h0M668 1268h0M654 1280h0M651 1278h0M650 1287h0M653 1285h0M659 1293h0M658 1296h0M654 1294h0M666 1294h0M670 1300h0M669 1299h0M663 1300h0M659 1291h0M660 1296h0M665 1293h0M657 1302h0M656 1298h0M660 1305h0M664 1307h0M662 1286h0M657 1285h0M654 1284h0M652 1287h0M656 1278h0M651 1278h0M687 1283h0M687 1278h0M685 1280h0M685 1281h0M650 1259h0M649 1265h0M652 1259h0M652 1264h0M647 1264h0M649 1267h0M658 1242h0M653 1242h0M663 1244h0M662 1251h0M656 1248h0M655 1253h0M655 1245h0M658 1255h0M754 1210h0M754 1206h0M757 1206h0M758 1208h0M757 1211h0M739 1198h0M737 1196h0M738 1201h0M740 1199h0M736 1202h0M734 1193h0M737 1203h0M753 1193h0M745 1198h0M748 1199h0M747 1198h0M751 1195h0M753 1192h0M725 1199h0M726 1203h0M724 1203h0M722 1199h0M727 1199h0M738 1176h0M734 1177h0M729 1181h0M730 1180h0M754 1177h0M753 1180h0M751 1183h0M756 1186h0M758 1187h0M754 1187h0M753 1181h0M760 1179h0M661 1312h0M659 1310h0M657 1314h0M656 1309h0M663 1310h0M658 1315h0M654 1308h0M664 1315h0M668 1317h0M663 1317h0M665 1314h0M664 1315h0M670 1316h0M629 1198h0M630 1199h0M625 1196h0M621 1199h0M623 1201h0M663 1176h0M665 1183h0M666 1179h0M666 1186h0M655 1169h0M660 1171h0M656 1172h0M651 1190h0M654 1192h0M657 1189h0M648 1172h0M645 1173h0M646 1174h0M698 1182h0M699 1177h0M699 1182h0M672 1189h0M678 1187h0M675 1211h0M677 1207h0M673 1211h0M674 1205h0M676 1207h0M673 1211h0M678 1215h0M676 1212h0M671 1207h0M716 1221h0M713 1215h0M717 1222h0M718 1218h0M711 1224h0M716 1288h0M715 1285h0M711 1290h0M720 1282h0M719 1283h0M711 1283h0M708 1286h0M711 1290h0M716 1288h0M714 1295h0M732 1307h0M738 1305h0M733 1305h0M734 1304h0M736 1290h0M721 1287h0M722 1292h0M719 1292h0M627 1253h0M624 1257h0M621 1254h0M632 1251h0M629 1253h0M625 1287h0M626 1288h0M628 1279h0M633 1278h0M634 1281h0M624 1286h0M627 1281h0M621 1296h0M621 1291h0M623 1296h0M617 1295h0M621 1290h0M626 1293h0M626 1299h0M634 1278h0M635 1272h0M633 1269h0M629 1264h0M635 1265h0M650 1297h0M652 1294h0M635 1287h0M636 1290h0M620 1278h0M619 1277h0M617 1286h0M619 1282h0M616 1284h0M621 1280h0M643 1281h0M644 1276h0M647 1272h0M646 1273h0M676 1288h0M677 1294h0M665 1276h0M662 1273h0M661 1278h0M665 1277h0M665 1276h0M663 1271h0M660 1278h0M663 1282h0M668 1281h0M674 1277h0M675 1276h0M678 1285h0M677 1283h0M674 1274h0M678 1271h0M672 1267h0M677 1265h0M673 1261h0M676 1262h0M671 1267h0M674 1269h0M678 1265h0M676 1255h0M677 1261h0M673 1259h0M736 1180h0M733 1182h0M660 1177h0M655 1178h0M653 1177h0M641 1192h0M644 1192h0M638 1179h0M639 1180h0M645 1174h0M643 1176h0M681 1225h0M677 1220h0M691 1220h0M689 1226h0M695 1219h0M682 1224h0M722 1293h0M728 1296h0M732 1301h0M727 1304h0M741 1293h0M742 1296h0M740 1299h0M738 1298h0M736 1298h0M741 1290h0M744 1293h0M637 1270h0M641 1267h0M641 1267h0M646 1296h0M644 1294h0M640 1292h0M679 1248h0M664 1258h0M665 1257h0M664 1261h0M667 1263h0M665 1257h0M666 1265h0M669 1264h0M674 1283h0M678 1299h0M674 1304h0M675 1297h0M674 1293h0M633 1184h0M633 1184h0M633 1184h0M638 1180h0M641 1185h0M723 1297h0M642 1290h0M641 1288h0M640 1287h0M642 1286h0M646 1290h0M645 1292h0M641 1286h0M644 1284h0M648 1287h0M670 1289h0M666 1287h0M671 1292h0M665 1287h0M644 1186h0M650 1189h0M646 1180h0M648 1179h0M646 1181h0M650 1180h0M649 1184h0M648 1179h0" stroke="#74195e" stroke-width="2.6" stroke-linecap="round" fill="none"/></g><circle cx="316.6" cy="623" r="2" fill="#b01848"/></g><rect x="311.4" y="587.4" width="73.7" height="68.60000000000001" fill="none" stroke="#222" stroke-width="0.9"/><rect x="372.6" y="651.3" width="7.4" height="1.7" fill="#000"/>
<text x="295.1" y="310.9" font-size="8" text-anchor="start" textLength="61.1" lengthAdjust="spacingAndGlyphs" fill="#111" stroke="#111" stroke-width="0.18" >Scale bar : 50 μm</text>
<text transform="translate(407.5,244.4) rotate(-90)" x="0" y="3.08" font-size="8.8" text-anchor="middle" textLength="59" lengthAdjust="spacingAndGlyphs" fill="#1a1a1a" stroke="#1a1a1a" stroke-width="0.15">Pathological score</text>
<line x1="427.5" y1="182" x2="427.5" y2="307.9" stroke="#262626" stroke-width="1.3"/>
<line x1="426.85" y1="307.25" x2="491" y2="307.25" stroke="#262626" stroke-width="1.3"/>
<line x1="424.7" y1="294.5" x2="427.5" y2="294.5" stroke="#1a1a1a" stroke-width="1.0"/>
<text x="421.7" y="297.7" font-size="9" text-anchor="end" textLength="4.35" lengthAdjust="spacingAndGlyphs" fill="#1a1a1a" stroke="#1a1a1a" stroke-width="0.18" >1</text>
<line x1="424.7" y1="267.75" x2="427.5" y2="267.75" stroke="#1a1a1a" stroke-width="1.0"/>
<text x="421.7" y="270.95" font-size="9" text-anchor="end" textLength="4.35" lengthAdjust="spacingAndGlyphs" fill="#1a1a1a" stroke="#1a1a1a" stroke-width="0.18" >3</text>
<line x1="424.7" y1="240.75" x2="427.5" y2="240.75" stroke="#1a1a1a" stroke-width="1.0"/>
<text x="421.7" y="243.95" font-size="9" text-anchor="end" textLength="4.35" lengthAdjust="spacingAndGlyphs" fill="#1a1a1a" stroke="#1a1a1a" stroke-width="0.18" >5</text>
<line x1="424.7" y1="213.75" x2="427.5" y2="213.75" stroke="#1a1a1a" stroke-width="1.0"/>
<text x="421.7" y="216.95" font-size="9" text-anchor="end" textLength="4.35" lengthAdjust="spacingAndGlyphs" fill="#1a1a1a" stroke="#1a1a1a" stroke-width="0.18" >7</text>
<line x1="424.7" y1="187" x2="427.5" y2="187" stroke="#1a1a1a" stroke-width="1.0"/>
<text x="421.7" y="190.2" font-size="9" text-anchor="end" textLength="4.35" lengthAdjust="spacingAndGlyphs" fill="#1a1a1a" stroke="#1a1a1a" stroke-width="0.18" >9</text>
<line x1="442.75" y1="307.25" x2="442.75" y2="310.25" stroke="#1a1a1a" stroke-width="1.0"/>
<line x1="475" y1="307.25" x2="475" y2="310.25" stroke="#1a1a1a" stroke-width="1.0"/>
<line x1="443.25" y1="275.5" x2="443.25" y2="291.5" stroke="#222" stroke-width="1.0"/>
<line x1="438.0" y1="275.5" x2="448.5" y2="275.5" stroke="#222" stroke-width="1.2"/>
<line x1="438.0" y1="291.5" x2="448.5" y2="291.5" stroke="#222" stroke-width="1.2"/>
<line x1="431.75" y1="283.5" x2="454.75" y2="283.5" stroke="#222" stroke-width="1.3"/>
<circle cx="443.25" cy="254.25" r="2.15" fill="#0b4a8b"/>
<circle cx="443.25" cy="281.25" r="2.15" fill="#0b4a8b"/>
<circle cx="438.75" cy="294.5" r="2.15" fill="#0b4a8b"/>
<circle cx="443.25" cy="294.5" r="2.15" fill="#0b4a8b"/>
<circle cx="447.75" cy="294.5" r="2.15" fill="#0b4a8b"/>
<line x1="475" y1="244.5" x2="475" y2="254" stroke="#222" stroke-width="1.0"/>
<line x1="469.75" y1="244.5" x2="480.25" y2="244.5" stroke="#222" stroke-width="1.2"/>
<line x1="469.75" y1="254" x2="480.25" y2="254" stroke="#222" stroke-width="1.2"/>
<line x1="463.5" y1="249.25" x2="486.5" y2="249.25" stroke="#222" stroke-width="1.3"/>
<circle cx="475" cy="228" r="2.15" fill="#cf0d35"/>
<circle cx="475" cy="240.75" r="2.15" fill="#cf0d35"/>
<circle cx="470.5" cy="254.5" r="2.15" fill="#cf0d35"/>
<circle cx="475" cy="254.5" r="2.15" fill="#cf0d35"/>
<circle cx="479.25" cy="254.5" r="2.15" fill="#cf0d35"/>
<circle cx="475" cy="267.75" r="2.15" fill="#cf0d35"/>
<line x1="443.25" y1="219.05" x2="474.25" y2="219.05" stroke="#2a2a2a" stroke-width="1.2"/>
<polygon points="457.50,209.65 458.06,210.98 459.50,211.10 458.40,212.04 458.73,213.45 457.50,212.70 456.27,213.45 456.60,212.04 455.50,211.10 456.94,210.98" fill="#111"/>
<circle cx="488" cy="190.4" r="2.15" fill="#0b4a8b"/>
<text x="494.1" y="192.2" font-size="7.9" text-anchor="start" textLength="11.1" lengthAdjust="spacingAndGlyphs" fill="#111" stroke="#111" stroke-width="0.18" >WT</text>
<circle cx="488" cy="200.3" r="2.15" fill="#cf0d35"/>
<text x="494.1" y="202.8" font-size="7.9" font-style="italic" textLength="11.80" lengthAdjust="spacingAndGlyphs" fill="#111" stroke="#111" stroke-width="0.18">Ahr</text>
<text x="506.10" y="200.6" font-size="5.5" textLength="7.80" lengthAdjust="spacingAndGlyphs" fill="#111" stroke="#111" stroke-width="0.12">−/−</text>
<text x="7.3" y="332.75" font-size="11" text-anchor="start" font-weight="bold" fill="#000" stroke="#000" stroke-width="0.18" >E</text>
<text transform="translate(11.8,400) rotate(-90)" x="0" y="3.04" font-size="8.7" text-anchor="middle" textLength="61" lengthAdjust="spacingAndGlyphs" fill="#1a1a1a" stroke="#1a1a1a" stroke-width="0.15">mRNA fold change</text>
<text x="59.9" y="333.5" font-size="10.4" text-anchor="start" font-style="italic" textLength="9.7" lengthAdjust="spacingAndGlyphs" fill="#111" stroke="#111" stroke-width="0.18" >Il4</text>
<text x="136.3" y="333.5" font-size="10.4" text-anchor="start" font-style="italic" textLength="20.3" lengthAdjust="spacingAndGlyphs" fill="#111" stroke="#111" stroke-width="0.18" >Il17a</text>
<text x="225.6" y="333.5" font-size="10.4" text-anchor="start" font-style="italic" textLength="10.2" lengthAdjust="spacingAndGlyphs" fill="#111" stroke="#111" stroke-width="0.18" >Il6</text>
<text x="306.6" y="333.5" font-size="10.4" text-anchor="start" font-style="italic" textLength="14.0" lengthAdjust="spacingAndGlyphs" fill="#111" stroke="#111" stroke-width="0.18" >Tnf</text>
<line x1="34.5" y1="333" x2="34.5" y2="457.4" stroke="#262626" stroke-width="1.3"/>
<line x1="33.85" y1="456.75" x2="93.75" y2="456.75" stroke="#262626" stroke-width="1.3"/>
<line x1="31.7" y1="456.75" x2="34.5" y2="456.75" stroke="#1a1a1a" stroke-width="1.0"/>
<text x="28.7" y="459.95" font-size="9" text-anchor="end" textLength="4.35" lengthAdjust="spacingAndGlyphs" fill="#1a1a1a" stroke="#1a1a1a" stroke-width="0.18" >0</text>
<line x1="31.7" y1="434" x2="34.5" y2="434" stroke="#1a1a1a" stroke-width="1.0"/>
<text x="28.7" y="437.2" font-size="9" text-anchor="end" textLength="4.35" lengthAdjust="spacingAndGlyphs" fill="#1a1a1a" stroke="#1a1a1a" stroke-width="0.18" >2</text>
<line x1="31.7" y1="411.25" x2="34.5" y2="411.25" stroke="#1a1a1a" stroke-width="1.0"/>
<text x="28.7" y="414.45" font-size="9" text-anchor="end" textLength="4.35" lengthAdjust="spacingAndGlyphs" fill="#1a1a1a" stroke="#1a1a1a" stroke-width="0.18" >4</text>
<line x1="31.7" y1="388.5" x2="34.5" y2="388.5" stroke="#1a1a1a" stroke-width="1.0"/>
<text x="28.7" y="391.7" font-size="9" text-anchor="end" textLength="4.35" lengthAdjust="spacingAndGlyphs" fill="#1a1a1a" stroke="#1a1a1a" stroke-width="0.18" >6</text>
<line x1="31.7" y1="366" x2="34.5" y2="366" stroke="#1a1a1a" stroke-width="1.0"/>
<text x="28.7" y="369.2" font-size="9" text-anchor="end" textLength="4.35" lengthAdjust="spacingAndGlyphs" fill="#1a1a1a" stroke="#1a1a1a" stroke-width="0.18" >8</text>
<line x1="31.7" y1="343.25" x2="34.5" y2="343.25" stroke="#1a1a1a" stroke-width="1.0"/>
<text x="28.7" y="346.45" font-size="9" text-anchor="end" textLength="8.7" lengthAdjust="spacingAndGlyphs" fill="#1a1a1a" stroke="#1a1a1a" stroke-width="0.18" >10</text>
<line x1="50.5" y1="456.75" x2="50.5" y2="459.75" stroke="#1a1a1a" stroke-width="1.0"/>
<line x1="80.5" y1="456.75" x2="80.5" y2="459.75" stroke="#1a1a1a" stroke-width="1.0"/>
<line x1="50.5" y1="417" x2="50.5" y2="432.5" stroke="#222" stroke-width="1.0"/>
<line x1="45.5" y1="417" x2="55.5" y2="417" stroke="#222" stroke-width="1.2"/>
<line x1="45.5" y1="432.5" x2="55.5" y2="432.5" stroke="#222" stroke-width="1.2"/>
<line x1="40.5" y1="425.25" x2="60.5" y2="425.25" stroke="#222" stroke-width="1.3"/>
<circle cx="50" cy="408.5" r="2.15" fill="#0b4a8b"/>
<circle cx="54.5" cy="415.25" r="2.15" fill="#0b4a8b"/>
<circle cx="45" cy="422.25" r="2.15" fill="#0b4a8b"/>
<circle cx="50" cy="422.25" r="2.15" fill="#0b4a8b"/>
<circle cx="50.5" cy="454.25" r="2.15" fill="#0b4a8b"/>
<line x1="80.5" y1="380.25" x2="80.5" y2="395.25" stroke="#222" stroke-width="1.0"/>
<line x1="75.5" y1="380.25" x2="85.5" y2="380.25" stroke="#222" stroke-width="1.2"/>
<line x1="75.5" y1="395.25" x2="85.5" y2="395.25" stroke="#222" stroke-width="1.2"/>
<line x1="70.5" y1="387.75" x2="90.5" y2="387.75" stroke="#222" stroke-width="1.3"/>
<circle cx="84.5" cy="367.25" r="2.15" fill="#cf0d35"/>
<circle cx="80.25" cy="373.5" r="2.15" fill="#cf0d35"/>
<circle cx="80.25" cy="393.75" r="2.15" fill="#cf0d35"/>
<circle cx="84.5" cy="398.25" r="2.15" fill="#cf0d35"/>
<circle cx="80.25" cy="405.5" r="2.15" fill="#cf0d35"/>
<line x1="50.75" y1="356.55" x2="79" y2="356.55" stroke="#2a2a2a" stroke-width="1.2"/>
<polygon points="65.00,349.15 65.56,350.48 67.00,350.60 65.90,351.54 66.23,352.95 65.00,352.20 63.77,352.95 64.10,351.54 63.00,350.60 64.44,350.48" fill="#111"/>
<line x1="116.75" y1="333" x2="116.75" y2="457.4" stroke="#262626" stroke-width="1.3"/>
<line x1="116.1" y1="456.75" x2="175.75" y2="456.75" stroke="#262626" stroke-width="1.3"/>
<line x1="113.95" y1="434" x2="116.75" y2="434" stroke="#1a1a1a" stroke-width="1.0"/>
<text x="110.95" y="437.2" font-size="9" text-anchor="end" textLength="4.35" lengthAdjust="spacingAndGlyphs" fill="#1a1a1a" stroke="#1a1a1a" stroke-width="0.18" >1</text>
<line x1="113.95" y1="411.25" x2="116.75" y2="411.25" stroke="#1a1a1a" stroke-width="1.0"/>
<text x="110.95" y="414.45" font-size="9" text-anchor="end" textLength="4.35" lengthAdjust="spacingAndGlyphs" fill="#1a1a1a" stroke="#1a1a1a" stroke-width="0.18" >2</text>
<line x1="113.95" y1="388.75" x2="116.75" y2="388.75" stroke="#1a1a1a" stroke-width="1.0"/>
<text x="110.95" y="391.95" font-size="9" text-anchor="end" textLength="4.35" lengthAdjust="spacingAndGlyphs" fill="#1a1a1a" stroke="#1a1a1a" stroke-width="0.18" >3</text>
<line x1="113.95" y1="366" x2="116.75" y2="366" stroke="#1a1a1a" stroke-width="1.0"/>
<text x="110.95" y="369.2" font-size="9" text-anchor="end" textLength="4.35" lengthAdjust="spacingAndGlyphs" fill="#1a1a1a" stroke="#1a1a1a" stroke-width="0.18" >4</text>
<line x1="113.95" y1="343.25" x2="116.75" y2="343.25" stroke="#1a1a1a" stroke-width="1.0"/>
<text x="110.95" y="346.45" font-size="9" text-anchor="end" textLength="4.35" lengthAdjust="spacingAndGlyphs" fill="#1a1a1a" stroke="#1a1a1a" stroke-width="0.18" >5</text>
<line x1="131.25" y1="456.75" x2="131.25" y2="459.75" stroke="#1a1a1a" stroke-width="1.0"/>
<line x1="161.25" y1="456.75" x2="161.25" y2="459.75" stroke="#1a1a1a" stroke-width="1.0"/>
<text x="110.95" y="459.95" font-size="9" text-anchor="end" textLength="4.35" lengthAdjust="spacingAndGlyphs" fill="#1a1a1a" stroke="#1a1a1a" stroke-width="0.18" >0</text>
<line x1="113.95" y1="456.75" x2="116.75" y2="456.75" stroke="#1a1a1a" stroke-width="1.0"/>
<line x1="131.25" y1="400.25" x2="131.25" y2="417" stroke="#222" stroke-width="1.0"/>
<line x1="126.0" y1="400.25" x2="136.5" y2="400.25" stroke="#222" stroke-width="1.2"/>
<line x1="126.0" y1="417" x2="136.5" y2="417" stroke="#222" stroke-width="1.2"/>
<line x1="121.25" y1="408.25" x2="141.25" y2="408.25" stroke="#222" stroke-width="1.3"/>
<circle cx="131.25" cy="385" r="2.15" fill="#0b4a8b"/>
<circle cx="127" cy="398.25" r="2.15" fill="#0b4a8b"/>
<circle cx="131.25" cy="405.75" r="2.15" fill="#0b4a8b"/>
<circle cx="135.75" cy="425" r="2.15" fill="#0b4a8b"/>
<circle cx="131.25" cy="429.5" r="2.15" fill="#0b4a8b"/>
<line x1="161.25" y1="362.5" x2="161.25" y2="379" stroke="#222" stroke-width="1.0"/>
<line x1="156.0" y1="362.5" x2="166.5" y2="362.5" stroke="#222" stroke-width="1.2"/>
<line x1="156.0" y1="379" x2="166.5" y2="379" stroke="#222" stroke-width="1.2"/>
<line x1="151.25" y1="370.75" x2="171.25" y2="370.75" stroke="#222" stroke-width="1.3"/>
<circle cx="157" cy="354.5" r="2.15" fill="#cf0d35"/>
<circle cx="160.75" cy="354.5" r="2.15" fill="#cf0d35"/>
<circle cx="161.25" cy="367.5" r="2.15" fill="#cf0d35"/>
<circle cx="161.25" cy="379.5" r="2.15" fill="#cf0d35"/>
<circle cx="161" cy="397.5" r="2.15" fill="#cf0d35"/>
<line x1="132" y1="347.3" x2="160.75" y2="347.3" stroke="#2a2a2a" stroke-width="1.2"/>
<polygon points="146.25,340.40 146.81,341.73 148.25,341.85 147.15,342.79 147.48,344.20 146.25,343.45 145.02,344.20 145.35,342.79 144.25,341.85 145.69,341.73" fill="#111"/>
<line x1="200.75" y1="333" x2="200.75" y2="457.4" stroke="#262626" stroke-width="1.3"/>
<line x1="200.1" y1="456.75" x2="259.5" y2="456.75" stroke="#262626" stroke-width="1.3"/>
<line x1="197.95" y1="456.75" x2="200.75" y2="456.75" stroke="#1a1a1a" stroke-width="1.0"/>
<text x="194.95" y="459.95" font-size="9" text-anchor="end" textLength="4.35" lengthAdjust="spacingAndGlyphs" fill="#1a1a1a" stroke="#1a1a1a" stroke-width="0.18" >0</text>
<line x1="197.95" y1="418.5" x2="200.75" y2="418.5" stroke="#1a1a1a" stroke-width="1.0"/>
<text x="194.95" y="421.7" font-size="9" text-anchor="end" textLength="4.35" lengthAdjust="spacingAndGlyphs" fill="#1a1a1a" stroke="#1a1a1a" stroke-width="0.18" >2</text>
<line x1="197.95" y1="380.5" x2="200.75" y2="380.5" stroke="#1a1a1a" stroke-width="1.0"/>
<text x="194.95" y="383.7" font-size="9" text-anchor="end" textLength="4.35" lengthAdjust="spacingAndGlyphs" fill="#1a1a1a" stroke="#1a1a1a" stroke-width="0.18" >4</text>
<line x1="197.95" y1="342.25" x2="200.75" y2="342.25" stroke="#1a1a1a" stroke-width="1.0"/>
<text x="194.95" y="345.45" font-size="9" text-anchor="end" textLength="4.35" lengthAdjust="spacingAndGlyphs" fill="#1a1a1a" stroke="#1a1a1a" stroke-width="0.18" >6</text>
<line x1="215.5" y1="456.75" x2="215.5" y2="459.75" stroke="#1a1a1a" stroke-width="1.0"/>
<line x1="245" y1="456.75" x2="245" y2="459.75" stroke="#1a1a1a" stroke-width="1.0"/>
<line x1="215.5" y1="410.5" x2="215.5" y2="417.5" stroke="#222" stroke-width="1.0"/>
<line x1="210.5" y1="410.5" x2="220.5" y2="410.5" stroke="#222" stroke-width="1.2"/>
<line x1="210.5" y1="417.5" x2="220.5" y2="417.5" stroke="#222" stroke-width="1.2"/>
<line x1="205.5" y1="413.75" x2="225.5" y2="413.75" stroke="#222" stroke-width="1.3"/>
<circle cx="215" cy="403" r="2.15" fill="#0b4a8b"/>
<circle cx="211.25" cy="412.5" r="2.15" fill="#0b4a8b"/>
<circle cx="215.5" cy="412.5" r="2.15" fill="#0b4a8b"/>
<circle cx="219.5" cy="419" r="2.15" fill="#0b4a8b"/>
<circle cx="215" cy="424" r="2.15" fill="#0b4a8b"/>
<line x1="245" y1="368" x2="245" y2="386.25" stroke="#222" stroke-width="1.0"/>
<line x1="239.75" y1="368" x2="250.25" y2="368" stroke="#222" stroke-width="1.2"/>
<line x1="239.75" y1="386.25" x2="250.25" y2="386.25" stroke="#222" stroke-width="1.2"/>
<line x1="234.75" y1="377.25" x2="255.25" y2="377.25" stroke="#222" stroke-width="1.3"/>
<circle cx="244.75" cy="356.5" r="2.15" fill="#cf0d35"/>
<circle cx="240.75" cy="363.25" r="2.15" fill="#cf0d35"/>
<circle cx="245" cy="370" r="2.15" fill="#cf0d35"/>
<circle cx="249.25" cy="394.5" r="2.15" fill="#cf0d35"/>
<circle cx="244.75" cy="402.75" r="2.15" fill="#cf0d35"/>
<line x1="215.75" y1="348.05" x2="245" y2="348.05" stroke="#2a2a2a" stroke-width="1.2"/>
<polygon points="230.00,341.15 230.56,342.48 232.00,342.60 230.90,343.54 231.23,344.95 230.00,344.20 228.77,344.95 229.10,343.54 228.00,342.60 229.44,342.48" fill="#111"/>
<line x1="284" y1="333" x2="284" y2="457.65" stroke="#262626" stroke-width="1.3"/>
<line x1="283.35" y1="457" x2="343" y2="457" stroke="#262626" stroke-width="1.3"/>
<line x1="281.2" y1="457" x2="284" y2="457" stroke="#1a1a1a" stroke-width="1.0"/>
<text x="278.2" y="460.2" font-size="9" text-anchor="end" textLength="4.35" lengthAdjust="spacingAndGlyphs" fill="#1a1a1a" stroke="#1a1a1a" stroke-width="0.18" >0</text>
<line x1="281.2" y1="428.5" x2="284" y2="428.5" stroke="#1a1a1a" stroke-width="1.0"/>
<text x="278.2" y="431.7" font-size="9" text-anchor="end" textLength="4.35" lengthAdjust="spacingAndGlyphs" fill="#1a1a1a" stroke="#1a1a1a" stroke-width="0.18" >2</text>
<line x1="281.2" y1="400" x2="284" y2="400" stroke="#1a1a1a" stroke-width="1.0"/>
<text x="278.2" y="403.2" font-size="9" text-anchor="end" textLength="4.35" lengthAdjust="spacingAndGlyphs" fill="#1a1a1a" stroke="#1a1a1a" stroke-width="0.18" >4</text>
<line x1="281.2" y1="371.5" x2="284" y2="371.5" stroke="#1a1a1a" stroke-width="1.0"/>
<text x="278.2" y="374.7" font-size="9" text-anchor="end" textLength="4.35" lengthAdjust="spacingAndGlyphs" fill="#1a1a1a" stroke="#1a1a1a" stroke-width="0.18" >6</text>
<line x1="281.2" y1="343" x2="284" y2="343" stroke="#1a1a1a" stroke-width="1.0"/>
<text x="278.2" y="346.2" font-size="9" text-anchor="end" textLength="4.35" lengthAdjust="spacingAndGlyphs" fill="#1a1a1a" stroke="#1a1a1a" stroke-width="0.18" >8</text>
<line x1="299.25" y1="457" x2="299.25" y2="460" stroke="#1a1a1a" stroke-width="1.0"/>
<line x1="329.5" y1="457" x2="329.5" y2="460" stroke="#1a1a1a" stroke-width="1.0"/>
<line x1="299.25" y1="388.5" x2="299.25" y2="393.5" stroke="#222" stroke-width="1.0"/>
<line x1="294.25" y1="388.5" x2="304.25" y2="388.5" stroke="#222" stroke-width="1.2"/>
<line x1="294.25" y1="393.5" x2="304.25" y2="393.5" stroke="#222" stroke-width="1.2"/>
<line x1="289.25" y1="391" x2="309.25" y2="391" stroke="#222" stroke-width="1.3"/>
<circle cx="294.5" cy="386" r="2.15" fill="#0b4a8b"/>
<circle cx="299" cy="386" r="2.15" fill="#0b4a8b"/>
<circle cx="294.5" cy="391.25" r="2.15" fill="#0b4a8b"/>
<circle cx="303.75" cy="391.25" r="2.15" fill="#0b4a8b"/>
<circle cx="299" cy="399.5" r="2.15" fill="#0b4a8b"/>
<line x1="329.5" y1="362" x2="329.5" y2="374.75" stroke="#222" stroke-width="1.0"/>
<line x1="324.5" y1="362" x2="334.5" y2="362" stroke="#222" stroke-width="1.2"/>
<line x1="324.5" y1="374.75" x2="334.5" y2="374.75" stroke="#222" stroke-width="1.2"/>
<line x1="319.5" y1="368.5" x2="339.5" y2="368.5" stroke="#222" stroke-width="1.3"/>
<circle cx="329.5" cy="350.75" r="2.15" fill="#cf0d35"/>
<circle cx="325.5" cy="364.5" r="2.15" fill="#cf0d35"/>
<circle cx="334.5" cy="364.5" r="2.15" fill="#cf0d35"/>
<circle cx="329.5" cy="370.75" r="2.15" fill="#cf0d35"/>
<circle cx="329.5" cy="391.25" r="2.15" fill="#cf0d35"/>
<line x1="299.5" y1="344.8" x2="329.5" y2="344.8" stroke="#2a2a2a" stroke-width="1.2"/>
<polygon points="314.50,337.40 315.06,338.73 316.50,338.85 315.40,339.79 315.73,341.20 314.50,340.45 313.27,341.20 313.60,339.79 312.50,338.85 313.94,338.73" fill="#111"/>
<circle cx="359.1" cy="344.9" r="2.15" fill="#0b4a8b"/>
<text x="364.8" y="348.0" font-size="7.9" text-anchor="start" textLength="11.1" lengthAdjust="spacingAndGlyphs" fill="#111" stroke="#111" stroke-width="0.18" >WT</text>
<circle cx="359.1" cy="358.1" r="2.15" fill="#cf0d35"/>
<text x="364.8" y="360.9" font-size="7.9" font-style="italic" textLength="12.10" lengthAdjust="spacingAndGlyphs" fill="#111" stroke="#111" stroke-width="0.18">Ahr</text>
<text x="377.10" y="358.7" font-size="5.5" textLength="7.80" lengthAdjust="spacingAndGlyphs" fill="#111" stroke="#111" stroke-width="0.12">−/−</text>
<text x="411.2" y="332.75" font-size="11" text-anchor="start" font-weight="bold" fill="#000" stroke="#000" stroke-width="0.18" >F</text>
<text transform="translate(416.5,399.6) rotate(-90)" x="0" y="3.04" font-size="8.7" text-anchor="middle" textLength="120.5" lengthAdjust="spacingAndGlyphs" fill="#1a1a1a" stroke="#1a1a1a" stroke-width="0.15">Ratio of IL-17A : FoxP3<tspan font-size="5" dy="-3">+</tspan><tspan dy="3"> CD4</tspan><tspan font-size="5" dy="-3">+</tspan><tspan dy="3"> T cells</tspan></text>
<line x1="442.5" y1="333" x2="442.5" y2="457.4" stroke="#262626" stroke-width="1.3"/>
<line x1="441.85" y1="456.75" x2="513" y2="456.75" stroke="#262626" stroke-width="1.3"/>
<line x1="439.7" y1="456.75" x2="442.5" y2="456.75" stroke="#1a1a1a" stroke-width="1.0"/>
<text x="436.7" y="459.95" font-size="9" text-anchor="end" textLength="10.7" lengthAdjust="spacingAndGlyphs" fill="#1a1a1a" stroke="#1a1a1a" stroke-width="0.18" >0.0</text>
<line x1="439.7" y1="428.5" x2="442.5" y2="428.5" stroke="#1a1a1a" stroke-width="1.0"/>
<text x="436.7" y="431.7" font-size="9" text-anchor="end" textLength="10.7" lengthAdjust="spacingAndGlyphs" fill="#1a1a1a" stroke="#1a1a1a" stroke-width="0.18" >0.5</text>
<line x1="439.7" y1="400.5" x2="442.5" y2="400.5" stroke="#1a1a1a" stroke-width="1.0"/>
<text x="436.7" y="403.7" font-size="9" text-anchor="end" textLength="10.7" lengthAdjust="spacingAndGlyphs" fill="#1a1a1a" stroke="#1a1a1a" stroke-width="0.18" >1.0</text>
<line x1="439.7" y1="372.25" x2="442.5" y2="372.25" stroke="#1a1a1a" stroke-width="1.0"/>
<text x="436.7" y="375.45" font-size="9" text-anchor="end" textLength="10.7" lengthAdjust="spacingAndGlyphs" fill="#1a1a1a" stroke="#1a1a1a" stroke-width="0.18" >1.5</text>
<line x1="439.7" y1="344" x2="442.5" y2="344" stroke="#1a1a1a" stroke-width="1.0"/>
<text x="436.7" y="347.2" font-size="9" text-anchor="end" textLength="10.7" lengthAdjust="spacingAndGlyphs" fill="#1a1a1a" stroke="#1a1a1a" stroke-width="0.18" >2.0</text>
<line x1="460" y1="456.75" x2="460" y2="459.75" stroke="#1a1a1a" stroke-width="1.0"/>
<line x1="495" y1="456.75" x2="495" y2="459.75" stroke="#1a1a1a" stroke-width="1.0"/>
<line x1="460" y1="442" x2="460" y2="446.75" stroke="#222" stroke-width="1.0"/>
<line x1="454" y1="442" x2="466" y2="442" stroke="#222" stroke-width="1.2"/>
<line x1="454" y1="446.75" x2="466" y2="446.75" stroke="#222" stroke-width="1.2"/>
<line x1="447.5" y1="444.5" x2="472.5" y2="444.5" stroke="#222" stroke-width="1.3"/>
<circle cx="455.75" cy="440" r="2.15" fill="#0b4a8b"/>
<circle cx="450.75" cy="446" r="2.15" fill="#0b4a8b"/>
<circle cx="460.75" cy="446" r="2.15" fill="#0b4a8b"/>
<circle cx="465" cy="446" r="2.15" fill="#0b4a8b"/>
<circle cx="470" cy="446" r="2.15" fill="#0b4a8b"/>
<line x1="495" y1="349" x2="495" y2="371" stroke="#222" stroke-width="1.0"/>
<line x1="489" y1="349" x2="501" y2="349" stroke="#222" stroke-width="1.2"/>
<line x1="489" y1="371" x2="501" y2="371" stroke="#222" stroke-width="1.2"/>
<line x1="482.5" y1="359.25" x2="507.5" y2="359.25" stroke="#222" stroke-width="1.3"/>
<circle cx="495" cy="343.75" r="2.15" fill="#cf0d35"/>
<circle cx="486.5" cy="355.25" r="2.15" fill="#cf0d35"/>
<circle cx="495" cy="360.75" r="2.15" fill="#cf0d35"/>
<circle cx="504.5" cy="366.5" r="2.15" fill="#cf0d35"/>
<circle cx="495" cy="372.25" r="2.15" fill="#cf0d35"/>
<line x1="462" y1="337.05" x2="497" y2="337.05" stroke="#2a2a2a" stroke-width="1.2"/>
<polygon points="477.15,329.90 477.71,331.23 479.15,331.35 478.05,332.29 478.38,333.70 477.15,332.95 475.92,333.70 476.25,332.29 475.15,331.35 476.59,331.23" fill="#111"/>
<polygon points="481.35,329.90 481.91,331.23 483.35,331.35 482.25,332.29 482.58,333.70 481.35,332.95 480.12,333.70 480.45,332.29 479.35,331.35 480.79,331.23" fill="#111"/>
<text x="454.2" y="470.8" font-size="7.9" text-anchor="start" textLength="12.1" lengthAdjust="spacingAndGlyphs" fill="#111" stroke="#111" stroke-width="0.18" >WT</text>
<text x="485.1" y="470.8" font-size="7.9" font-style="italic" textLength="11.70" lengthAdjust="spacingAndGlyphs" fill="#111" stroke="#111" stroke-width="0.18">Ahr</text>
<text x="497.00" y="468.4" font-size="5.5" textLength="8.80" lengthAdjust="spacingAndGlyphs" fill="#111" stroke="#111" stroke-width="0.12">−/−</text>
<text x="7" y="492.75" font-size="11" text-anchor="start" font-weight="bold" fill="#000" stroke="#000" stroke-width="0.18" >G</text>
<text transform="translate(11.3,602.2) rotate(-90)" x="0" y="2.87" font-size="8.2" text-anchor="middle" textLength="47.3" lengthAdjust="spacingAndGlyphs" fill="#1a1a1a" stroke="#1a1a1a" stroke-width="0.15">IL-17A (pg/ml)</text>
<line x1="40.75" y1="535" x2="40.75" y2="655.65" stroke="#262626" stroke-width="1.3"/>
<line x1="40.1" y1="655" x2="105" y2="655" stroke="#262626" stroke-width="1.3"/>
<line x1="37.95" y1="655" x2="40.75" y2="655" stroke="#1a1a1a" stroke-width="1.0"/>
<text x="34.95" y="658.2" font-size="9" text-anchor="end" textLength="4.35" lengthAdjust="spacingAndGlyphs" fill="#1a1a1a" stroke="#1a1a1a" stroke-width="0.18" >0</text>
<line x1="37.95" y1="628.75" x2="40.75" y2="628.75" stroke="#1a1a1a" stroke-width="1.0"/>
<text x="34.95" y="631.95" font-size="9" text-anchor="end" textLength="8.7" lengthAdjust="spacingAndGlyphs" fill="#1a1a1a" stroke="#1a1a1a" stroke-width="0.18" >50</text>
<line x1="37.95" y1="602.5" x2="40.75" y2="602.5" stroke="#1a1a1a" stroke-width="1.0"/>
<text x="34.95" y="605.7" font-size="9" text-anchor="end" textLength="13.049999999999999" lengthAdjust="spacingAndGlyphs" fill="#1a1a1a" stroke="#1a1a1a" stroke-width="0.18" >100</text>
<line x1="37.95" y1="576.25" x2="40.75" y2="576.25" stroke="#1a1a1a" stroke-width="1.0"/>
<text x="34.95" y="579.45" font-size="9" text-anchor="end" textLength="13.049999999999999" lengthAdjust="spacingAndGlyphs" fill="#1a1a1a" stroke="#1a1a1a" stroke-width="0.18" >150</text>
<line x1="37.95" y1="550.25" x2="40.75" y2="550.25" stroke="#1a1a1a" stroke-width="1.0"/>
<text x="34.95" y="553.45" font-size="9" text-anchor="end" textLength="13.049999999999999" lengthAdjust="spacingAndGlyphs" fill="#1a1a1a" stroke="#1a1a1a" stroke-width="0.18" >200</text>
<line x1="57" y1="655" x2="57" y2="658" stroke="#1a1a1a" stroke-width="1.0"/>
<line x1="88.75" y1="655" x2="88.75" y2="658" stroke="#1a1a1a" stroke-width="1.0"/>
<line x1="57" y1="597.5" x2="57" y2="608" stroke="#222" stroke-width="1.0"/>
<line x1="52.25" y1="597.5" x2="61.75" y2="597.5" stroke="#222" stroke-width="1.2"/>
<line x1="52.25" y1="608" x2="61.75" y2="608" stroke="#222" stroke-width="1.2"/>
<line x1="45.75" y1="602.5" x2="68.25" y2="602.5" stroke="#222" stroke-width="1.3"/>
<circle cx="48.75" cy="587.5" r="2.15" fill="#0b4a8b"/>
<circle cx="57" cy="591.25" r="2.15" fill="#0b4a8b"/>
<circle cx="48.75" cy="610.5" r="2.15" fill="#0b4a8b"/>
<circle cx="57" cy="612.5" r="2.15" fill="#0b4a8b"/>
<circle cx="65" cy="611.25" r="2.15" fill="#0b4a8b"/>
<line x1="89" y1="560.5" x2="89" y2="564" stroke="#222" stroke-width="1.0"/>
<line x1="84.25" y1="560.5" x2="93.75" y2="560.5" stroke="#222" stroke-width="1.2"/>
<line x1="84.25" y1="564" x2="93.75" y2="564" stroke="#222" stroke-width="1.2"/>
<line x1="77.5" y1="562.25" x2="100.5" y2="562.25" stroke="#222" stroke-width="1.3"/>
<circle cx="80.5" cy="562" r="2.15" fill="#cf0d35"/>
<circle cx="85" cy="560" r="2.15" fill="#cf0d35"/>
<circle cx="88.75" cy="564.5" r="2.15" fill="#cf0d35"/>
<circle cx="92.5" cy="561.25" r="2.15" fill="#cf0d35"/>
<circle cx="97" cy="563.5" r="2.15" fill="#cf0d35"/>
<line x1="60" y1="553.55" x2="87.5" y2="553.55" stroke="#2a2a2a" stroke-width="1.2"/>
<polygon points="71.15,546.65 71.71,547.98 73.15,548.10 72.05,549.04 72.38,550.45 71.15,549.70 69.92,550.45 70.25,549.04 69.15,548.10 70.59,547.98" fill="#111"/>
<polygon points="75.35,546.65 75.91,547.98 77.35,548.10 76.25,549.04 76.58,550.45 75.35,549.70 74.12,550.45 74.45,549.04 73.35,548.10 74.79,547.98" fill="#111"/>
<text x="50.8" y="667.3" font-size="7.9" text-anchor="start" textLength="12.4" lengthAdjust="spacingAndGlyphs" fill="#111" stroke="#111" stroke-width="0.18" >WT</text>
<text x="78.5" y="667.3" font-size="7.9" font-style="italic" textLength="12.70" lengthAdjust="spacingAndGlyphs" fill="#111" stroke="#111" stroke-width="0.18">Ahr</text>
<text x="91.40" y="665.0" font-size="5.5" textLength="7.30" lengthAdjust="spacingAndGlyphs" fill="#111" stroke="#111" stroke-width="0.12">−/−</text>
<text transform="translate(113.5,597.3) rotate(-90)" x="0" y="2.87" font-size="8.2" text-anchor="middle" textLength="45.4" lengthAdjust="spacingAndGlyphs" fill="#1a1a1a" stroke="#1a1a1a" stroke-width="0.15">IL-10 (pg/ml)</text>
<line x1="141.75" y1="535" x2="141.75" y2="655.65" stroke="#262626" stroke-width="1.3"/>
<line x1="141.1" y1="655" x2="212.5" y2="655" stroke="#262626" stroke-width="1.3"/>
<line x1="138.95" y1="655" x2="141.75" y2="655" stroke="#1a1a1a" stroke-width="1.0"/>
<text x="135.95" y="658.2" font-size="9" text-anchor="end" textLength="4.35" lengthAdjust="spacingAndGlyphs" fill="#1a1a1a" stroke="#1a1a1a" stroke-width="0.18" >0</text>
<line x1="138.95" y1="616.5" x2="141.75" y2="616.5" stroke="#1a1a1a" stroke-width="1.0"/>
<text x="135.95" y="619.7" font-size="9" text-anchor="end" textLength="13.049999999999999" lengthAdjust="spacingAndGlyphs" fill="#1a1a1a" stroke="#1a1a1a" stroke-width="0.18" >200</text>
<line x1="138.95" y1="578.25" x2="141.75" y2="578.25" stroke="#1a1a1a" stroke-width="1.0"/>
<text x="135.95" y="581.45" font-size="9" text-anchor="end" textLength="13.049999999999999" lengthAdjust="spacingAndGlyphs" fill="#1a1a1a" stroke="#1a1a1a" stroke-width="0.18" >400</text>
<line x1="138.95" y1="539.5" x2="141.75" y2="539.5" stroke="#1a1a1a" stroke-width="1.0"/>
<text x="135.95" y="542.7" font-size="9" text-anchor="end" textLength="13.049999999999999" lengthAdjust="spacingAndGlyphs" fill="#1a1a1a" stroke="#1a1a1a" stroke-width="0.18" >600</text>
<line x1="159.5" y1="655" x2="159.5" y2="658" stroke="#1a1a1a" stroke-width="1.0"/>
<line x1="195" y1="655" x2="195" y2="658" stroke="#1a1a1a" stroke-width="1.0"/>
<line x1="159.5" y1="581.75" x2="159.5" y2="598.25" stroke="#222" stroke-width="1.0"/>
<line x1="153.0" y1="581.75" x2="166.0" y2="581.75" stroke="#222" stroke-width="1.2"/>
<line x1="153.0" y1="598.25" x2="166.0" y2="598.25" stroke="#222" stroke-width="1.2"/>
<line x1="146.75" y1="590.25" x2="172.25" y2="590.25" stroke="#222" stroke-width="1.3"/>
<circle cx="159.5" cy="562.75" r="2.15" fill="#0b4a8b"/>
<circle cx="150.75" cy="586.5" r="2.15" fill="#0b4a8b"/>
<circle cx="159.5" cy="589.5" r="2.15" fill="#0b4a8b"/>
<circle cx="159.5" cy="607" r="2.15" fill="#0b4a8b"/>
<circle cx="168.5" cy="605.25" r="2.15" fill="#0b4a8b"/>
<line x1="195" y1="635" x2="195" y2="640.5" stroke="#222" stroke-width="1.0"/>
<line x1="189.5" y1="635" x2="200.5" y2="635" stroke="#222" stroke-width="1.2"/>
<line x1="189.5" y1="640.5" x2="200.5" y2="640.5" stroke="#222" stroke-width="1.2"/>
<line x1="182.5" y1="637.75" x2="207.5" y2="637.75" stroke="#222" stroke-width="1.3"/>
<circle cx="190.25" cy="632.25" r="2.15" fill="#cf0d35"/>
<circle cx="185.75" cy="637.75" r="2.15" fill="#cf0d35"/>
<circle cx="199.25" cy="636.5" r="2.15" fill="#cf0d35"/>
<circle cx="194.5" cy="642.25" r="2.15" fill="#cf0d35"/>
<circle cx="203.75" cy="640.5" r="2.15" fill="#cf0d35"/>
<line x1="163.75" y1="555.3" x2="193.25" y2="555.3" stroke="#2a2a2a" stroke-width="1.2"/>
<polygon points="176.15,548.40 176.71,549.73 178.15,549.85 177.05,550.79 177.38,552.20 176.15,551.45 174.92,552.20 175.25,550.79 174.15,549.85 175.59,549.73" fill="#111"/>
<polygon points="180.35,548.40 180.91,549.73 182.35,549.85 181.25,550.79 181.58,552.20 180.35,551.45 179.12,552.20 179.45,550.79 178.35,549.85 179.79,549.73" fill="#111"/>
<text x="153.3" y="667.3" font-size="7.9" text-anchor="start" textLength="12.4" lengthAdjust="spacingAndGlyphs" fill="#111" stroke="#111" stroke-width="0.18" >WT</text>
<text x="183.5" y="667.3" font-size="7.9" font-style="italic" textLength="12.70" lengthAdjust="spacingAndGlyphs" fill="#111" stroke="#111" stroke-width="0.18">Ahr</text>
<text x="196.40" y="665.0" font-size="5.5" textLength="7.30" lengthAdjust="spacingAndGlyphs" fill="#111" stroke="#111" stroke-width="0.12">−/−</text>
<text x="222" y="492.75" font-size="11" text-anchor="start" font-weight="bold" fill="#000" stroke="#000" stroke-width="0.18" >H</text>
<text x="248.4" y="492.9" font-size="10.4" text-anchor="start" textLength="14.9" lengthAdjust="spacingAndGlyphs" fill="#111" stroke="#111" stroke-width="0.18" >WT</text>
<path d="M265.7 489.6H273.90000000000003M271.90000000000003 488.0L274.3 489.6L271.90000000000003 491.20000000000005" fill="none" stroke="#111" stroke-width="0.8" stroke-linejoin="miter"/>
<text x="277.7" y="492.9" font-size="10.4" text-anchor="start" textLength="14.6" lengthAdjust="spacingAndGlyphs" fill="#111" stroke="#111" stroke-width="0.18" >WT</text>
<text x="321.2" y="492.9" font-size="10.4" font-style="italic" textLength="14.30" lengthAdjust="spacingAndGlyphs" fill="#111" stroke="#111" stroke-width="0.18">Ahr</text>
<text x="335.70" y="489.9" font-size="7" textLength="10.60" lengthAdjust="spacingAndGlyphs" fill="#111" stroke="#111" stroke-width="0.12">−/−</text>
<path d="M349.7 489.6H358.6M356.6 488.0L359 489.6L356.6 491.20000000000005" fill="none" stroke="#111" stroke-width="0.8" stroke-linejoin="miter"/>
<text x="361.3" y="492.9" font-size="10.4" text-anchor="start" textLength="14.2" lengthAdjust="spacingAndGlyphs" fill="#111" stroke="#111" stroke-width="0.18" >WT</text>
<text x="243.2" y="584.1" font-size="10.4" text-anchor="start" textLength="14.7" lengthAdjust="spacingAndGlyphs" fill="#111" stroke="#111" stroke-width="0.18" >WT</text>
<path d="M260.2 580.8H268.40000000000003M266.40000000000003 579.1999999999999L268.8 580.8L266.40000000000003 582.4" fill="none" stroke="#111" stroke-width="0.8" stroke-linejoin="miter"/>
<text x="271.7" y="584.1" font-size="10.4" font-style="italic" textLength="15.60" lengthAdjust="spacingAndGlyphs" fill="#111" stroke="#111" stroke-width="0.18">Ahr</text>
<text x="287.50" y="581.2" font-size="7" textLength="10.20" lengthAdjust="spacingAndGlyphs" fill="#111" stroke="#111" stroke-width="0.12">−/−</text>
<text x="313.8" y="584.1" font-size="10.4" font-style="italic" textLength="14.70" lengthAdjust="spacingAndGlyphs" fill="#111" stroke="#111" stroke-width="0.18">Ahr</text>
<text x="328.70" y="581.2" font-size="7" textLength="12.80" lengthAdjust="spacingAndGlyphs" fill="#111" stroke="#111" stroke-width="0.12">−/−</text>
<path d="M344.2 580.8H354.20000000000005M352.20000000000005 579.1999999999999L354.6 580.8L352.20000000000005 582.4" fill="none" stroke="#111" stroke-width="0.8" stroke-linejoin="miter"/>
<text x="356.2" y="584.1" font-size="10.4" font-style="italic" textLength="15.30" lengthAdjust="spacingAndGlyphs" fill="#111" stroke="#111" stroke-width="0.18">Ahr</text>
<text x="371.70" y="581.2" font-size="7" textLength="10.60" lengthAdjust="spacingAndGlyphs" fill="#111" stroke="#111" stroke-width="0.12">−/−</text>

<text x="317.5" y="666.9" font-size="8" text-anchor="start" textLength="61.1" lengthAdjust="spacingAndGlyphs" fill="#111" stroke="#111" stroke-width="0.18" >Scale bar : 50 μm</text>
<circle cx="403.1" cy="492.3" r="2.15" fill="#5b176f"/>
<text x="408.8" y="494.8" font-size="7.9" text-anchor="start" textLength="10.6" lengthAdjust="spacingAndGlyphs" fill="#111" stroke="#111" stroke-width="0.18" >WT</text>
<path d="M419.6 492.3H427.0M425.59999999999997 491.2L427.4 492.3L425.59999999999997 493.40000000000003" fill="none" stroke="#111" stroke-width="0.6" stroke-linejoin="miter"/>
<text x="428.2" y="494.8" font-size="7.9" text-anchor="start" textLength="10.6" lengthAdjust="spacingAndGlyphs" fill="#111" stroke="#111" stroke-width="0.18" >WT</text>
<circle cx="460.8" cy="492.3" r="2.15" fill="#cf0d35"/>
<text x="466.8" y="494.8" font-size="7.9" text-anchor="start" textLength="10.6" lengthAdjust="spacingAndGlyphs" fill="#111" stroke="#111" stroke-width="0.18" >WT</text>
<path d="M477.6 492.3H485.0M483.59999999999997 491.2L485.4 492.3L483.59999999999997 493.40000000000003" fill="none" stroke="#111" stroke-width="0.6" stroke-linejoin="miter"/>
<text x="486.0" y="494.8" font-size="7.9" font-style="italic" textLength="11.50" lengthAdjust="spacingAndGlyphs" fill="#111" stroke="#111" stroke-width="0.18">Ahr</text>
<text x="497.70" y="492.6" font-size="5.3" textLength="7.80" lengthAdjust="spacingAndGlyphs" fill="#111" stroke="#111" stroke-width="0.12">−/−</text>
<circle cx="403.1" cy="506.2" r="2.15" fill="#0b4a8b"/>
<text x="408.8" y="508.7" font-size="7.9" font-style="italic" textLength="11.50" lengthAdjust="spacingAndGlyphs" fill="#111" stroke="#111" stroke-width="0.18">Ahr</text>
<text x="420.50" y="506.5" font-size="5.3" textLength="6.80" lengthAdjust="spacingAndGlyphs" fill="#111" stroke="#111" stroke-width="0.12">−/−</text>
<path d="M427.9 506.2H435.3M433.9 505.09999999999997L435.7 506.2L433.9 507.3" fill="none" stroke="#111" stroke-width="0.6" stroke-linejoin="miter"/>
<text x="436.3" y="508.7" font-size="7.9" text-anchor="start" textLength="10.6" lengthAdjust="spacingAndGlyphs" fill="#111" stroke="#111" stroke-width="0.18" >WT</text>
<circle cx="460.8" cy="506.2" r="2.15" fill="#39b54a"/>
<text x="466.8" y="508.7" font-size="7.9" font-style="italic" textLength="11.50" lengthAdjust="spacingAndGlyphs" fill="#111" stroke="#111" stroke-width="0.18">Ahr</text>
<text x="478.50" y="506.5" font-size="5.3" textLength="6.80" lengthAdjust="spacingAndGlyphs" fill="#111" stroke="#111" stroke-width="0.12">−/−</text>
<path d="M485.9 506.2H493.3M491.9 505.09999999999997L493.7 506.2L491.9 507.3" fill="none" stroke="#111" stroke-width="0.6" stroke-linejoin="miter"/>
<text x="494.4" y="508.7" font-size="7.9" font-style="italic" textLength="11.50" lengthAdjust="spacingAndGlyphs" fill="#111" stroke="#111" stroke-width="0.18">Ahr</text>
<text x="506.10" y="506.5" font-size="5.3" textLength="7.30" lengthAdjust="spacingAndGlyphs" fill="#111" stroke="#111" stroke-width="0.12">−/−</text>
<text transform="translate(407.5,595.75) rotate(-90)" x="0" y="3.08" font-size="8.8" text-anchor="middle" textLength="59.5" lengthAdjust="spacingAndGlyphs" fill="#1a1a1a" stroke="#1a1a1a" stroke-width="0.15">Pathological score</text>
<line x1="427" y1="535.75" x2="427" y2="656.4" stroke="#262626" stroke-width="1.3"/>
<line x1="426.35" y1="655.75" x2="505" y2="655.75" stroke="#262626" stroke-width="1.3"/>
<line x1="424.2" y1="643" x2="427" y2="643" stroke="#1a1a1a" stroke-width="1.0"/>
<text x="421.2" y="646.2" font-size="9" text-anchor="end" textLength="4.35" lengthAdjust="spacingAndGlyphs" fill="#1a1a1a" stroke="#1a1a1a" stroke-width="0.18" >1</text>
<line x1="424.2" y1="617" x2="427" y2="617" stroke="#1a1a1a" stroke-width="1.0"/>
<text x="421.2" y="620.2" font-size="9" text-anchor="end" textLength="4.35" lengthAdjust="spacingAndGlyphs" fill="#1a1a1a" stroke="#1a1a1a" stroke-width="0.18" >3</text>
<line x1="424.2" y1="591.25" x2="427" y2="591.25" stroke="#1a1a1a" stroke-width="1.0"/>
<text x="421.2" y="594.45" font-size="9" text-anchor="end" textLength="4.35" lengthAdjust="spacingAndGlyphs" fill="#1a1a1a" stroke="#1a1a1a" stroke-width="0.18" >5</text>
<line x1="424.2" y1="565.25" x2="427" y2="565.25" stroke="#1a1a1a" stroke-width="1.0"/>
<text x="421.2" y="568.45" font-size="9" text-anchor="end" textLength="4.35" lengthAdjust="spacingAndGlyphs" fill="#1a1a1a" stroke="#1a1a1a" stroke-width="0.18" >7</text>
<line x1="424.2" y1="538.75" x2="427" y2="538.75" stroke="#1a1a1a" stroke-width="1.0"/>
<text x="421.2" y="541.95" font-size="9" text-anchor="end" textLength="4.35" lengthAdjust="spacingAndGlyphs" fill="#1a1a1a" stroke="#1a1a1a" stroke-width="0.18" >9</text>
<line x1="436.75" y1="655.75" x2="436.75" y2="658.75" stroke="#1a1a1a" stroke-width="1.0"/>
<line x1="456.5" y1="655.75" x2="456.5" y2="658.75" stroke="#1a1a1a" stroke-width="1.0"/>
<line x1="476.25" y1="655.75" x2="476.25" y2="658.75" stroke="#1a1a1a" stroke-width="1.0"/>
<line x1="495.75" y1="655.75" x2="495.75" y2="658.75" stroke="#1a1a1a" stroke-width="1.0"/>
<line x1="437" y1="618.8" x2="437" y2="630.3" stroke="#222" stroke-width="1.0"/>
<line x1="433.5" y1="618.8" x2="440.5" y2="618.8" stroke="#222" stroke-width="1.2"/>
<line x1="433.5" y1="630.3" x2="440.5" y2="630.3" stroke="#222" stroke-width="1.2"/>
<line x1="430.3" y1="624.5" x2="443.7" y2="624.5" stroke="#222" stroke-width="1.3"/>
<circle cx="432.2" cy="617" r="2.15" fill="#5b176f"/>
<circle cx="437" cy="617" r="2.15" fill="#5b176f"/>
<circle cx="441.8" cy="617" r="2.15" fill="#5b176f"/>
<circle cx="437" cy="630.3" r="2.15" fill="#5b176f"/>
<circle cx="437" cy="643.4" r="2.15" fill="#5b176f"/>
<line x1="456.5" y1="603" x2="456.5" y2="616.25" stroke="#222" stroke-width="1.0"/>
<line x1="453.0" y1="603" x2="460.0" y2="603" stroke="#222" stroke-width="1.2"/>
<line x1="453.0" y1="616.25" x2="460.0" y2="616.25" stroke="#222" stroke-width="1.2"/>
<line x1="449.8" y1="609.25" x2="463.2" y2="609.25" stroke="#222" stroke-width="1.3"/>
<circle cx="456.25" cy="591.25" r="2.15" fill="#0b4a8b"/>
<circle cx="456.2" cy="604.1" r="2.15" fill="#0b4a8b"/>
<circle cx="461.4" cy="604.1" r="2.15" fill="#0b4a8b"/>
<circle cx="456.25" cy="617" r="2.15" fill="#0b4a8b"/>
<circle cx="456.25" cy="630" r="2.15" fill="#0b4a8b"/>
<line x1="476" y1="569.5" x2="476" y2="591.3" stroke="#222" stroke-width="1.0"/>
<line x1="472.6" y1="569.5" x2="479.4" y2="569.5" stroke="#222" stroke-width="1.2"/>
<line x1="472.6" y1="591.3" x2="479.4" y2="591.3" stroke="#222" stroke-width="1.2"/>
<line x1="469.3" y1="580.6" x2="482.7" y2="580.6" stroke="#222" stroke-width="1.3"/>
<circle cx="475.9" cy="539" r="2.15" fill="#cf0d35"/>
<circle cx="475.9" cy="578" r="2.15" fill="#cf0d35"/>
<circle cx="471.2" cy="591.3" r="2.15" fill="#cf0d35"/>
<circle cx="475.9" cy="591.3" r="2.15" fill="#cf0d35"/>
<circle cx="475.9" cy="604.25" r="2.15" fill="#cf0d35"/>
<line x1="495.75" y1="563" x2="495.75" y2="582.5" stroke="#222" stroke-width="1.0"/>
<line x1="492.35" y1="563" x2="499.15" y2="563" stroke="#222" stroke-width="1.2"/>
<line x1="492.35" y1="582.5" x2="499.15" y2="582.5" stroke="#222" stroke-width="1.2"/>
<line x1="489.25" y1="572.6" x2="502.25" y2="572.6" stroke="#222" stroke-width="1.3"/>
<circle cx="495.5" cy="539" r="2.15" fill="#39b54a"/>
<circle cx="495.5" cy="565" r="2.15" fill="#39b54a"/>
<circle cx="495.5" cy="578" r="2.15" fill="#39b54a"/>
<circle cx="495.5" cy="591.3" r="2.15" fill="#39b54a"/>
<circle cx="500" cy="591.3" r="2.15" fill="#39b54a"/>
<line x1="436.25" y1="524.55" x2="495.75" y2="524.55" stroke="#2a2a2a" stroke-width="1.2"/>
<polygon points="464.15,517.90 464.71,519.23 466.15,519.35 465.05,520.29 465.38,521.70 464.15,520.95 462.92,521.70 463.25,520.29 462.15,519.35 463.59,519.23" fill="#111"/>
<polygon points="468.35,517.90 468.91,519.23 470.35,519.35 469.25,520.29 469.58,521.70 468.35,520.95 467.12,521.70 467.45,520.29 466.35,519.35 467.79,519.23" fill="#111"/>
<line x1="436.25" y1="534.55" x2="475.75" y2="534.55" stroke="#2a2a2a" stroke-width="1.2"/>
<polygon points="456.25,527.15 456.81,528.48 458.25,528.60 457.15,529.54 457.48,530.95 456.25,530.20 455.02,530.95 455.35,529.54 454.25,528.60 455.69,528.48" fill="#111"/>
<rect x="0" y="0" width="520" height="1.1" fill="#000"/><rect x="0" y="0" width="1.15" height="674" fill="#000"/><rect x="518.85" y="0" width="1.15" height="674" fill="#000"/><rect x="0" y="672.65" width="520" height="1.35" fill="#000"/>
</svg>
</body></html>
